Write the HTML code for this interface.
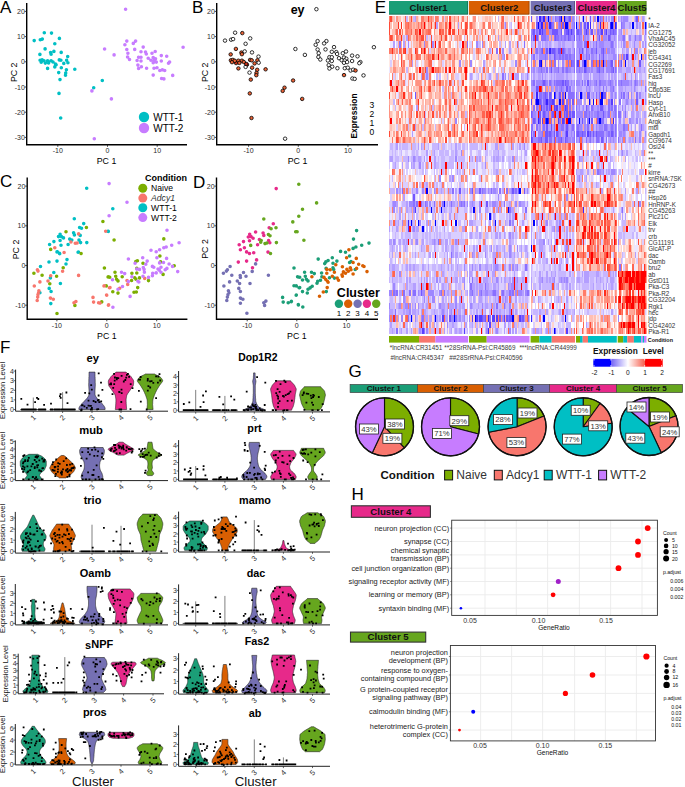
<!DOCTYPE html>
<html><head><meta charset="utf-8"><style>
html,body{margin:0;padding:0;background:#fff;}
svg{display:block;font-family:"Liberation Sans", sans-serif;}
</style></head><body>
<svg width="685" height="787" viewBox="0 0 685 787">
<rect width="685" height="787" fill="#fff"/>
<text x="0" y="13" font-size="17" fill="#000">A</text>
<text x="192" y="13" font-size="17" fill="#000">B</text>
<text x="0" y="186.7" font-size="17" fill="#000">C</text>
<text x="193" y="187.5" font-size="17" fill="#000">D</text>
<text x="374.8" y="13" font-size="17" fill="#000">E</text>
<text x="0" y="352.7" font-size="17" fill="#000">F</text>
<text x="348.6" y="377" font-size="17" fill="#000">G</text>
<text x="351.4" y="499.8" font-size="17" fill="#000">H</text>
<path d="M26.7 2.9V144.8H187" fill="none" stroke="#000" stroke-width="1.4"/>
<path d="M57.8 144.8v2" stroke="#1a1a1a" stroke-width="0.8"/>
<text x="57.8" y="153.1" font-size="7" text-anchor="middle" fill="#2a2a2a">-10</text>
<path d="M107.5 144.8v2" stroke="#1a1a1a" stroke-width="0.8"/>
<text x="107.5" y="153.1" font-size="7" text-anchor="middle" fill="#2a2a2a">0</text>
<path d="M157.2 144.8v2" stroke="#1a1a1a" stroke-width="0.8"/>
<text x="157.2" y="153.1" font-size="7" text-anchor="middle" fill="#2a2a2a">10</text>
<path d="M26.7 11.4h-2" stroke="#1a1a1a" stroke-width="0.8"/>
<text x="24.8" y="13.9" font-size="7" text-anchor="end" fill="#2a2a2a">20</text>
<path d="M26.7 36.6h-2" stroke="#1a1a1a" stroke-width="0.8"/>
<text x="24.8" y="39.1" font-size="7" text-anchor="end" fill="#2a2a2a">10</text>
<path d="M26.7 61.8h-2" stroke="#1a1a1a" stroke-width="0.8"/>
<text x="24.8" y="64.3" font-size="7" text-anchor="end" fill="#2a2a2a">0</text>
<path d="M26.7 87h-2" stroke="#1a1a1a" stroke-width="0.8"/>
<text x="24.8" y="89.5" font-size="7" text-anchor="end" fill="#2a2a2a">-10</text>
<path d="M26.7 112.2h-2" stroke="#1a1a1a" stroke-width="0.8"/>
<text x="24.8" y="114.7" font-size="7" text-anchor="end" fill="#2a2a2a">-20</text>
<path d="M26.7 137.4h-2" stroke="#1a1a1a" stroke-width="0.8"/>
<text x="24.8" y="139.9" font-size="7" text-anchor="end" fill="#2a2a2a">-30</text>
<text x="106.5" y="164" font-size="8.8" text-anchor="middle" fill="#000">PC 1</text>
<text transform="translate(16.6,72.3) rotate(-90)" font-size="8.8" text-anchor="middle" fill="#000">PC 2</text>
<path d="M216.7 2.9V144.8H378" fill="none" stroke="#000" stroke-width="1.4"/>
<path d="M248.6 144.8v2" stroke="#1a1a1a" stroke-width="0.8"/>
<text x="248.6" y="153.1" font-size="7" text-anchor="middle" fill="#2a2a2a">-10</text>
<path d="M298.3 144.8v2" stroke="#1a1a1a" stroke-width="0.8"/>
<text x="298.3" y="153.1" font-size="7" text-anchor="middle" fill="#2a2a2a">0</text>
<path d="M348 144.8v2" stroke="#1a1a1a" stroke-width="0.8"/>
<text x="348" y="153.1" font-size="7" text-anchor="middle" fill="#2a2a2a">10</text>
<path d="M216.7 11.4h-2" stroke="#1a1a1a" stroke-width="0.8"/>
<text x="214.8" y="13.9" font-size="7" text-anchor="end" fill="#2a2a2a">20</text>
<path d="M216.7 36.6h-2" stroke="#1a1a1a" stroke-width="0.8"/>
<text x="214.8" y="39.1" font-size="7" text-anchor="end" fill="#2a2a2a">10</text>
<path d="M216.7 61.8h-2" stroke="#1a1a1a" stroke-width="0.8"/>
<text x="214.8" y="64.3" font-size="7" text-anchor="end" fill="#2a2a2a">0</text>
<path d="M216.7 87h-2" stroke="#1a1a1a" stroke-width="0.8"/>
<text x="214.8" y="89.5" font-size="7" text-anchor="end" fill="#2a2a2a">-10</text>
<path d="M216.7 112.2h-2" stroke="#1a1a1a" stroke-width="0.8"/>
<text x="214.8" y="114.7" font-size="7" text-anchor="end" fill="#2a2a2a">-20</text>
<path d="M216.7 137.4h-2" stroke="#1a1a1a" stroke-width="0.8"/>
<text x="214.8" y="139.9" font-size="7" text-anchor="end" fill="#2a2a2a">-30</text>
<text x="297.5" y="164" font-size="8.8" text-anchor="middle" fill="#000">PC 1</text>
<text transform="translate(208.2,72.3) rotate(-90)" font-size="8.8" text-anchor="middle" fill="#000">PC 2</text>
<path d="M27.2 177.4V319.3H187.4" fill="none" stroke="#000" stroke-width="1.4"/>
<path d="M56.9 319.3v2" stroke="#1a1a1a" stroke-width="0.8"/>
<text x="56.9" y="327.6" font-size="7" text-anchor="middle" fill="#2a2a2a">-10</text>
<path d="M106.8 319.3v2" stroke="#1a1a1a" stroke-width="0.8"/>
<text x="106.8" y="327.6" font-size="7" text-anchor="middle" fill="#2a2a2a">0</text>
<path d="M156.7 319.3v2" stroke="#1a1a1a" stroke-width="0.8"/>
<text x="156.7" y="327.6" font-size="7" text-anchor="middle" fill="#2a2a2a">10</text>
<path d="M27.2 186.1h-2" stroke="#1a1a1a" stroke-width="0.8"/>
<text x="25.3" y="188.6" font-size="7" text-anchor="end" fill="#2a2a2a">20</text>
<path d="M27.2 225.8h-2" stroke="#1a1a1a" stroke-width="0.8"/>
<text x="25.3" y="228.3" font-size="7" text-anchor="end" fill="#2a2a2a">10</text>
<path d="M27.2 265.5h-2" stroke="#1a1a1a" stroke-width="0.8"/>
<text x="25.3" y="268" font-size="7" text-anchor="end" fill="#2a2a2a">0</text>
<path d="M27.2 305.2h-2" stroke="#1a1a1a" stroke-width="0.8"/>
<text x="25.3" y="307.7" font-size="7" text-anchor="end" fill="#2a2a2a">-10</text>
<text x="106.8" y="338.9" font-size="8.8" text-anchor="middle" fill="#000">PC 1</text>
<text transform="translate(18.8,249.5) rotate(-90)" font-size="8.8" text-anchor="middle" fill="#000">PC 2</text>
<path d="M216.5 177.4V319.3H378" fill="none" stroke="#000" stroke-width="1.4"/>
<path d="M247.2 319.3v2" stroke="#1a1a1a" stroke-width="0.8"/>
<text x="247.2" y="327.6" font-size="7" text-anchor="middle" fill="#2a2a2a">-10</text>
<path d="M296.8 319.3v2" stroke="#1a1a1a" stroke-width="0.8"/>
<text x="296.8" y="327.6" font-size="7" text-anchor="middle" fill="#2a2a2a">0</text>
<path d="M346.4 319.3v2" stroke="#1a1a1a" stroke-width="0.8"/>
<text x="346.4" y="327.6" font-size="7" text-anchor="middle" fill="#2a2a2a">10</text>
<path d="M216.5 186.1h-2" stroke="#1a1a1a" stroke-width="0.8"/>
<text x="214.6" y="188.6" font-size="7" text-anchor="end" fill="#2a2a2a">20</text>
<path d="M216.5 225.8h-2" stroke="#1a1a1a" stroke-width="0.8"/>
<text x="214.6" y="228.3" font-size="7" text-anchor="end" fill="#2a2a2a">10</text>
<path d="M216.5 265.5h-2" stroke="#1a1a1a" stroke-width="0.8"/>
<text x="214.6" y="268" font-size="7" text-anchor="end" fill="#2a2a2a">0</text>
<path d="M216.5 305.2h-2" stroke="#1a1a1a" stroke-width="0.8"/>
<text x="214.6" y="307.7" font-size="7" text-anchor="end" fill="#2a2a2a">-10</text>
<text x="296.8" y="338.9" font-size="8.8" text-anchor="middle" fill="#000">PC 1</text>
<text transform="translate(208.2,249) rotate(-90)" font-size="8.8" text-anchor="middle" fill="#000">PC 2</text>
<path d="M42.5 32.7a1.8 1.8 0 1 0 3.6 0a1.8 1.8 0 1 0 -3.6 0zM49.7 33.1a1.8 1.8 0 1 0 3.6 0a1.8 1.8 0 1 0 -3.6 0zM32.4 40.6a1.8 1.8 0 1 0 3.6 0a1.8 1.8 0 1 0 -3.6 0zM38.5 39.7a1.8 1.8 0 1 0 3.6 0a1.8 1.8 0 1 0 -3.6 0zM40.5 39.1a1.8 1.8 0 1 0 3.6 0a1.8 1.8 0 1 0 -3.6 0zM57.6 38.4a1.8 1.8 0 1 0 3.6 0a1.8 1.8 0 1 0 -3.6 0zM53 43.8a1.8 1.8 0 1 0 3.6 0a1.8 1.8 0 1 0 -3.6 0zM43.3 48.9a1.8 1.8 0 1 0 3.6 0a1.8 1.8 0 1 0 -3.6 0zM38.1 54.4a1.8 1.8 0 1 0 3.6 0a1.8 1.8 0 1 0 -3.6 0zM48.8 52.6a1.8 1.8 0 1 0 3.6 0a1.8 1.8 0 1 0 -3.6 0zM52.1 51.4a1.8 1.8 0 1 0 3.6 0a1.8 1.8 0 1 0 -3.6 0zM49.3 54.2a1.8 1.8 0 1 0 3.6 0a1.8 1.8 0 1 0 -3.6 0zM59.4 52.4a1.8 1.8 0 1 0 3.6 0a1.8 1.8 0 1 0 -3.6 0zM65.9 56.6a1.8 1.8 0 1 0 3.6 0a1.8 1.8 0 1 0 -3.6 0zM38.3 60.3a1.8 1.8 0 1 0 3.6 0a1.8 1.8 0 1 0 -3.6 0zM40.3 59.9a1.8 1.8 0 1 0 3.6 0a1.8 1.8 0 1 0 -3.6 0zM39.4 62.2a1.8 1.8 0 1 0 3.6 0a1.8 1.8 0 1 0 -3.6 0zM43.5 63.1a1.8 1.8 0 1 0 3.6 0a1.8 1.8 0 1 0 -3.6 0zM45.8 60.7a1.8 1.8 0 1 0 3.6 0a1.8 1.8 0 1 0 -3.6 0zM46.8 62.9a1.8 1.8 0 1 0 3.6 0a1.8 1.8 0 1 0 -3.6 0zM49.3 60.7a1.8 1.8 0 1 0 3.6 0a1.8 1.8 0 1 0 -3.6 0zM57.5 59.9a1.8 1.8 0 1 0 3.6 0a1.8 1.8 0 1 0 -3.6 0zM59.1 60.3a1.8 1.8 0 1 0 3.6 0a1.8 1.8 0 1 0 -3.6 0zM62 63.4a1.8 1.8 0 1 0 3.6 0a1.8 1.8 0 1 0 -3.6 0zM64.8 60.3a1.8 1.8 0 1 0 3.6 0a1.8 1.8 0 1 0 -3.6 0zM66.1 62.7a1.8 1.8 0 1 0 3.6 0a1.8 1.8 0 1 0 -3.6 0zM54.3 64.7a1.8 1.8 0 1 0 3.6 0a1.8 1.8 0 1 0 -3.6 0zM53 66.9a1.8 1.8 0 1 0 3.6 0a1.8 1.8 0 1 0 -3.6 0zM45.8 68.4a1.8 1.8 0 1 0 3.6 0a1.8 1.8 0 1 0 -3.6 0zM59.5 67.7a1.8 1.8 0 1 0 3.6 0a1.8 1.8 0 1 0 -3.6 0zM73 69.3a1.8 1.8 0 1 0 3.6 0a1.8 1.8 0 1 0 -3.6 0zM64.6 69.8a1.8 1.8 0 1 0 3.6 0a1.8 1.8 0 1 0 -3.6 0zM56.9 72.6a1.8 1.8 0 1 0 3.6 0a1.8 1.8 0 1 0 -3.6 0zM63.9 73a1.8 1.8 0 1 0 3.6 0a1.8 1.8 0 1 0 -3.6 0zM63.7 75.2a1.8 1.8 0 1 0 3.6 0a1.8 1.8 0 1 0 -3.6 0zM58.2 79.6a1.8 1.8 0 1 0 3.6 0a1.8 1.8 0 1 0 -3.6 0zM57.2 93.4a1.8 1.8 0 1 0 3.6 0a1.8 1.8 0 1 0 -3.6 0zM58.9 118a1.8 1.8 0 1 0 3.6 0a1.8 1.8 0 1 0 -3.6 0zM100.5 80.5a1.8 1.8 0 1 0 3.6 0a1.8 1.8 0 1 0 -3.6 0zM91.9 87.7a1.8 1.8 0 1 0 3.6 0a1.8 1.8 0 1 0 -3.6 0zM42.2 60.8a1.8 1.8 0 1 0 3.6 0a1.8 1.8 0 1 0 -3.6 0zM51.2 62a1.8 1.8 0 1 0 3.6 0a1.8 1.8 0 1 0 -3.6 0zM53.7 64a1.8 1.8 0 1 0 3.6 0a1.8 1.8 0 1 0 -3.6 0z" fill="#00BFC4"/>
<path d="M123.8 9.2a1.8 1.8 0 1 0 3.6 0a1.8 1.8 0 1 0 -3.6 0zM125 41.1a1.8 1.8 0 1 0 3.6 0a1.8 1.8 0 1 0 -3.6 0zM133.8 41.1a1.8 1.8 0 1 0 3.6 0a1.8 1.8 0 1 0 -3.6 0zM131.5 43.4a1.8 1.8 0 1 0 3.6 0a1.8 1.8 0 1 0 -3.6 0zM123.1 44.8a1.8 1.8 0 1 0 3.6 0a1.8 1.8 0 1 0 -3.6 0zM102.8 49a1.8 1.8 0 1 0 3.6 0a1.8 1.8 0 1 0 -3.6 0zM141.4 47.1a1.8 1.8 0 1 0 3.6 0a1.8 1.8 0 1 0 -3.6 0zM181.3 47.2a1.8 1.8 0 1 0 3.6 0a1.8 1.8 0 1 0 -3.6 0zM125 49.5a1.8 1.8 0 1 0 3.6 0a1.8 1.8 0 1 0 -3.6 0zM132.9 49.4a1.8 1.8 0 1 0 3.6 0a1.8 1.8 0 1 0 -3.6 0zM112.3 54.9a1.8 1.8 0 1 0 3.6 0a1.8 1.8 0 1 0 -3.6 0zM126.1 53.2a1.8 1.8 0 1 0 3.6 0a1.8 1.8 0 1 0 -3.6 0zM139.2 51.8a1.8 1.8 0 1 0 3.6 0a1.8 1.8 0 1 0 -3.6 0zM143.7 52.1a1.8 1.8 0 1 0 3.6 0a1.8 1.8 0 1 0 -3.6 0zM144.5 54a1.8 1.8 0 1 0 3.6 0a1.8 1.8 0 1 0 -3.6 0zM153.4 51.5a1.8 1.8 0 1 0 3.6 0a1.8 1.8 0 1 0 -3.6 0zM150.2 53.2a1.8 1.8 0 1 0 3.6 0a1.8 1.8 0 1 0 -3.6 0zM159.5 55.6a1.8 1.8 0 1 0 3.6 0a1.8 1.8 0 1 0 -3.6 0zM164.9 56.3a1.8 1.8 0 1 0 3.6 0a1.8 1.8 0 1 0 -3.6 0zM125.8 57a1.8 1.8 0 1 0 3.6 0a1.8 1.8 0 1 0 -3.6 0zM127.7 59.5a1.8 1.8 0 1 0 3.6 0a1.8 1.8 0 1 0 -3.6 0zM136.8 57.2a1.8 1.8 0 1 0 3.6 0a1.8 1.8 0 1 0 -3.6 0zM139.2 57.2a1.8 1.8 0 1 0 3.6 0a1.8 1.8 0 1 0 -3.6 0zM135.3 60.5a1.8 1.8 0 1 0 3.6 0a1.8 1.8 0 1 0 -3.6 0zM139.2 61a1.8 1.8 0 1 0 3.6 0a1.8 1.8 0 1 0 -3.6 0zM146.4 58.2a1.8 1.8 0 1 0 3.6 0a1.8 1.8 0 1 0 -3.6 0zM149.1 60.2a1.8 1.8 0 1 0 3.6 0a1.8 1.8 0 1 0 -3.6 0zM151.4 57.5a1.8 1.8 0 1 0 3.6 0a1.8 1.8 0 1 0 -3.6 0zM153.7 58.7a1.8 1.8 0 1 0 3.6 0a1.8 1.8 0 1 0 -3.6 0zM152.2 60.5a1.8 1.8 0 1 0 3.6 0a1.8 1.8 0 1 0 -3.6 0zM151.4 62.8a1.8 1.8 0 1 0 3.6 0a1.8 1.8 0 1 0 -3.6 0zM154.5 62.1a1.8 1.8 0 1 0 3.6 0a1.8 1.8 0 1 0 -3.6 0zM159.5 61a1.8 1.8 0 1 0 3.6 0a1.8 1.8 0 1 0 -3.6 0zM167.8 62.1a1.8 1.8 0 1 0 3.6 0a1.8 1.8 0 1 0 -3.6 0zM166.7 63.2a1.8 1.8 0 1 0 3.6 0a1.8 1.8 0 1 0 -3.6 0zM136.1 65.1a1.8 1.8 0 1 0 3.6 0a1.8 1.8 0 1 0 -3.6 0zM139.6 66.7a1.8 1.8 0 1 0 3.6 0a1.8 1.8 0 1 0 -3.6 0zM136.8 68.5a1.8 1.8 0 1 0 3.6 0a1.8 1.8 0 1 0 -3.6 0zM144.8 68.2a1.8 1.8 0 1 0 3.6 0a1.8 1.8 0 1 0 -3.6 0zM152.2 68.2a1.8 1.8 0 1 0 3.6 0a1.8 1.8 0 1 0 -3.6 0zM155.2 67.7a1.8 1.8 0 1 0 3.6 0a1.8 1.8 0 1 0 -3.6 0zM158 70.5a1.8 1.8 0 1 0 3.6 0a1.8 1.8 0 1 0 -3.6 0zM160.6 69.7a1.8 1.8 0 1 0 3.6 0a1.8 1.8 0 1 0 -3.6 0zM162.9 70.5a1.8 1.8 0 1 0 3.6 0a1.8 1.8 0 1 0 -3.6 0zM151.4 75.1a1.8 1.8 0 1 0 3.6 0a1.8 1.8 0 1 0 -3.6 0zM170.9 75.4a1.8 1.8 0 1 0 3.6 0a1.8 1.8 0 1 0 -3.6 0zM159.8 78.5a1.8 1.8 0 1 0 3.6 0a1.8 1.8 0 1 0 -3.6 0zM162.1 78.9a1.8 1.8 0 1 0 3.6 0a1.8 1.8 0 1 0 -3.6 0zM90.1 90.9a1.8 1.8 0 1 0 3.6 0a1.8 1.8 0 1 0 -3.6 0zM109.6 98.9a1.8 1.8 0 1 0 3.6 0a1.8 1.8 0 1 0 -3.6 0zM92.5 138.7a1.8 1.8 0 1 0 3.6 0a1.8 1.8 0 1 0 -3.6 0z" fill="#C77CFF"/>
<circle cx="144" cy="117" r="5.2" fill="#00BFC4"/>
<circle cx="144" cy="128" r="5.2" fill="#C77CFF"/>
<text x="153.3" y="120.8" font-size="10" fill="#000">WTT-1</text>
<text x="153.3" y="131.8" font-size="10" fill="#000">WTT-2</text>
<circle cx="235.1" cy="32.7" r="1.75" fill="#fff" stroke="#000" stroke-width="0.8"/>
<circle cx="242.3" cy="33.1" r="1.75" fill="#EA6236" stroke="#000" stroke-width="0.8"/>
<circle cx="225" cy="40.6" r="1.75" fill="#fff" stroke="#000" stroke-width="0.8"/>
<circle cx="231.1" cy="39.7" r="1.75" fill="#fff" stroke="#000" stroke-width="0.8"/>
<circle cx="233.1" cy="39.1" r="1.75" fill="#fff" stroke="#000" stroke-width="0.8"/>
<circle cx="250.2" cy="38.4" r="1.75" fill="#fff" stroke="#000" stroke-width="0.8"/>
<circle cx="245.6" cy="43.8" r="1.75" fill="#fff" stroke="#000" stroke-width="0.8"/>
<circle cx="235.9" cy="48.9" r="1.75" fill="#EA6236" stroke="#000" stroke-width="0.8"/>
<circle cx="230.7" cy="54.4" r="1.75" fill="#EA6236" stroke="#000" stroke-width="0.8"/>
<circle cx="241.4" cy="52.6" r="1.75" fill="#EA6236" stroke="#000" stroke-width="0.8"/>
<circle cx="244.7" cy="51.4" r="1.75" fill="#fff" stroke="#000" stroke-width="0.8"/>
<circle cx="241.9" cy="54.2" r="1.75" fill="#EA6236" stroke="#000" stroke-width="0.8"/>
<circle cx="252" cy="52.4" r="1.75" fill="#fff" stroke="#000" stroke-width="0.8"/>
<circle cx="258.5" cy="56.6" r="1.75" fill="#fff" stroke="#000" stroke-width="0.8"/>
<circle cx="230.9" cy="60.3" r="1.75" fill="#EA6236" stroke="#000" stroke-width="0.8"/>
<circle cx="232.9" cy="59.9" r="1.75" fill="#EA6236" stroke="#000" stroke-width="0.8"/>
<circle cx="232" cy="62.2" r="1.75" fill="#EA6236" stroke="#000" stroke-width="0.8"/>
<circle cx="236.1" cy="63.1" r="1.75" fill="#C8321A" stroke="#000" stroke-width="0.8"/>
<circle cx="238.4" cy="60.7" r="1.75" fill="#EA6236" stroke="#000" stroke-width="0.8"/>
<circle cx="239.4" cy="62.9" r="1.75" fill="#EA6236" stroke="#000" stroke-width="0.8"/>
<circle cx="241.9" cy="60.7" r="1.75" fill="#EA6236" stroke="#000" stroke-width="0.8"/>
<circle cx="250.1" cy="59.9" r="1.75" fill="#EA6236" stroke="#000" stroke-width="0.8"/>
<circle cx="251.7" cy="60.3" r="1.75" fill="#EA6236" stroke="#000" stroke-width="0.8"/>
<circle cx="254.6" cy="63.4" r="1.75" fill="#EA6236" stroke="#000" stroke-width="0.8"/>
<circle cx="257.4" cy="60.3" r="1.75" fill="#EA6236" stroke="#000" stroke-width="0.8"/>
<circle cx="258.7" cy="62.7" r="1.75" fill="#fff" stroke="#000" stroke-width="0.8"/>
<circle cx="246.9" cy="64.7" r="1.75" fill="#C8321A" stroke="#000" stroke-width="0.8"/>
<circle cx="245.6" cy="66.9" r="1.75" fill="#fff" stroke="#000" stroke-width="0.8"/>
<circle cx="238.4" cy="68.4" r="1.75" fill="#EA6236" stroke="#000" stroke-width="0.8"/>
<circle cx="252.1" cy="67.7" r="1.75" fill="#EA6236" stroke="#000" stroke-width="0.8"/>
<circle cx="265.6" cy="69.3" r="1.75" fill="#EA6236" stroke="#000" stroke-width="0.8"/>
<circle cx="257.2" cy="69.8" r="1.75" fill="#EA6236" stroke="#000" stroke-width="0.8"/>
<circle cx="249.5" cy="72.6" r="1.75" fill="#fff" stroke="#000" stroke-width="0.8"/>
<circle cx="256.5" cy="73" r="1.75" fill="#EA6236" stroke="#000" stroke-width="0.8"/>
<circle cx="256.3" cy="75.2" r="1.75" fill="#EA6236" stroke="#000" stroke-width="0.8"/>
<circle cx="250.8" cy="79.6" r="1.75" fill="#EA6236" stroke="#000" stroke-width="0.8"/>
<circle cx="249.8" cy="93.4" r="1.75" fill="#EA6236" stroke="#000" stroke-width="0.8"/>
<circle cx="251.5" cy="118" r="1.75" fill="#EA6236" stroke="#000" stroke-width="0.8"/>
<circle cx="293.1" cy="80.5" r="1.75" fill="#EA6236" stroke="#000" stroke-width="0.8"/>
<circle cx="284.5" cy="87.7" r="1.75" fill="#EA6236" stroke="#000" stroke-width="0.8"/>
<circle cx="234.8" cy="60.8" r="1.75" fill="#EA6236" stroke="#000" stroke-width="0.8"/>
<circle cx="243.8" cy="62" r="1.75" fill="#EA6236" stroke="#000" stroke-width="0.8"/>
<circle cx="246.3" cy="64" r="1.75" fill="#C8321A" stroke="#000" stroke-width="0.8"/>
<circle cx="316.4" cy="9.2" r="1.75" fill="#fff" stroke="#000" stroke-width="0.8"/>
<circle cx="317.6" cy="41.1" r="1.75" fill="#fff" stroke="#000" stroke-width="0.8"/>
<circle cx="326.4" cy="41.1" r="1.75" fill="#fff" stroke="#000" stroke-width="0.8"/>
<circle cx="324.1" cy="43.4" r="1.75" fill="#fff" stroke="#000" stroke-width="0.8"/>
<circle cx="315.7" cy="44.8" r="1.75" fill="#fff" stroke="#000" stroke-width="0.8"/>
<circle cx="295.4" cy="49" r="1.75" fill="#fff" stroke="#000" stroke-width="0.8"/>
<circle cx="334" cy="47.1" r="1.75" fill="#fff" stroke="#000" stroke-width="0.8"/>
<circle cx="373.9" cy="47.2" r="1.75" fill="#fff" stroke="#000" stroke-width="0.8"/>
<circle cx="317.6" cy="49.5" r="1.75" fill="#fff" stroke="#000" stroke-width="0.8"/>
<circle cx="325.5" cy="49.4" r="1.75" fill="#fff" stroke="#000" stroke-width="0.8"/>
<circle cx="304.9" cy="54.9" r="1.75" fill="#fff" stroke="#000" stroke-width="0.8"/>
<circle cx="318.7" cy="53.2" r="1.75" fill="#fff" stroke="#000" stroke-width="0.8"/>
<circle cx="331.8" cy="51.8" r="1.75" fill="#fff" stroke="#000" stroke-width="0.8"/>
<circle cx="336.3" cy="52.1" r="1.75" fill="#fff" stroke="#000" stroke-width="0.8"/>
<circle cx="337.1" cy="54" r="1.75" fill="#fff" stroke="#000" stroke-width="0.8"/>
<circle cx="346" cy="51.5" r="1.75" fill="#fff" stroke="#000" stroke-width="0.8"/>
<circle cx="342.8" cy="53.2" r="1.75" fill="#fff" stroke="#000" stroke-width="0.8"/>
<circle cx="352.1" cy="55.6" r="1.75" fill="#fff" stroke="#000" stroke-width="0.8"/>
<circle cx="357.5" cy="56.3" r="1.75" fill="#fff" stroke="#000" stroke-width="0.8"/>
<circle cx="318.4" cy="57" r="1.75" fill="#fff" stroke="#000" stroke-width="0.8"/>
<circle cx="320.3" cy="59.5" r="1.75" fill="#fff" stroke="#000" stroke-width="0.8"/>
<circle cx="329.4" cy="57.2" r="1.75" fill="#fff" stroke="#000" stroke-width="0.8"/>
<circle cx="331.8" cy="57.2" r="1.75" fill="#fff" stroke="#000" stroke-width="0.8"/>
<circle cx="327.9" cy="60.5" r="1.75" fill="#fff" stroke="#000" stroke-width="0.8"/>
<circle cx="331.8" cy="61" r="1.75" fill="#fff" stroke="#000" stroke-width="0.8"/>
<circle cx="339" cy="58.2" r="1.75" fill="#fff" stroke="#000" stroke-width="0.8"/>
<circle cx="341.7" cy="60.2" r="1.75" fill="#fff" stroke="#000" stroke-width="0.8"/>
<circle cx="344" cy="57.5" r="1.75" fill="#fff" stroke="#000" stroke-width="0.8"/>
<circle cx="346.3" cy="58.7" r="1.75" fill="#fff" stroke="#000" stroke-width="0.8"/>
<circle cx="344.8" cy="60.5" r="1.75" fill="#fff" stroke="#000" stroke-width="0.8"/>
<circle cx="344" cy="62.8" r="1.75" fill="#fff" stroke="#000" stroke-width="0.8"/>
<circle cx="347.1" cy="62.1" r="1.75" fill="#fff" stroke="#000" stroke-width="0.8"/>
<circle cx="352.1" cy="61" r="1.75" fill="#fff" stroke="#000" stroke-width="0.8"/>
<circle cx="360.4" cy="62.1" r="1.75" fill="#fff" stroke="#000" stroke-width="0.8"/>
<circle cx="359.3" cy="63.2" r="1.75" fill="#fff" stroke="#000" stroke-width="0.8"/>
<circle cx="328.7" cy="65.1" r="1.75" fill="#fff" stroke="#000" stroke-width="0.8"/>
<circle cx="332.2" cy="66.7" r="1.75" fill="#fff" stroke="#000" stroke-width="0.8"/>
<circle cx="329.4" cy="68.5" r="1.75" fill="#fff" stroke="#000" stroke-width="0.8"/>
<circle cx="337.4" cy="68.2" r="1.75" fill="#fff" stroke="#000" stroke-width="0.8"/>
<circle cx="344.8" cy="68.2" r="1.75" fill="#fff" stroke="#000" stroke-width="0.8"/>
<circle cx="347.8" cy="67.7" r="1.75" fill="#fff" stroke="#000" stroke-width="0.8"/>
<circle cx="350.6" cy="70.5" r="1.75" fill="#fff" stroke="#000" stroke-width="0.8"/>
<circle cx="353.2" cy="69.7" r="1.75" fill="#fff" stroke="#000" stroke-width="0.8"/>
<circle cx="355.5" cy="70.5" r="1.75" fill="#EA6236" stroke="#000" stroke-width="0.8"/>
<circle cx="344" cy="75.1" r="1.75" fill="#EA6236" stroke="#000" stroke-width="0.8"/>
<circle cx="363.5" cy="75.4" r="1.75" fill="#fff" stroke="#000" stroke-width="0.8"/>
<circle cx="352.4" cy="78.5" r="1.75" fill="#fff" stroke="#000" stroke-width="0.8"/>
<circle cx="354.7" cy="78.9" r="1.75" fill="#fff" stroke="#000" stroke-width="0.8"/>
<circle cx="282.7" cy="90.9" r="1.75" fill="#EA6236" stroke="#000" stroke-width="0.8"/>
<circle cx="302.2" cy="98.9" r="1.75" fill="#EA6236" stroke="#000" stroke-width="0.8"/>
<circle cx="285.1" cy="138.7" r="1.75" fill="#fff" stroke="#000" stroke-width="0.8"/>
<text x="297.6" y="14.3" font-size="12.5" text-anchor="middle" font-weight="bold" fill="#000">ey</text>
<text transform="translate(357.3,116) rotate(-90)" font-size="8.4" font-weight="bold" text-anchor="middle" fill="#000">Expression</text>
<text x="371.9" y="108.1" font-size="8.5" text-anchor="middle" fill="#000">3</text>
<text x="371.9" y="117.2" font-size="8.5" text-anchor="middle" fill="#000">2</text>
<text x="371.9" y="126.3" font-size="8.5" text-anchor="middle" fill="#000">1</text>
<text x="371.9" y="135.4" font-size="8.5" text-anchor="middle" fill="#000">0</text>
<path d="M84.9 188.2a1.8 1.8 0 1 0 3.6 0a1.8 1.8 0 1 0 -3.6 0zM72.5 218.8a1.8 1.8 0 1 0 3.6 0a1.8 1.8 0 1 0 -3.6 0zM81.9 223.6a1.8 1.8 0 1 0 3.6 0a1.8 1.8 0 1 0 -3.6 0zM77.8 227.5a1.8 1.8 0 1 0 3.6 0a1.8 1.8 0 1 0 -3.6 0zM79.7 228.3a1.8 1.8 0 1 0 3.6 0a1.8 1.8 0 1 0 -3.6 0zM106.1 231.2a1.8 1.8 0 1 0 3.6 0a1.8 1.8 0 1 0 -3.6 0zM71.8 232.7a1.8 1.8 0 1 0 3.6 0a1.8 1.8 0 1 0 -3.6 0zM72.6 234.9a1.8 1.8 0 1 0 3.6 0a1.8 1.8 0 1 0 -3.6 0zM78.4 235.4a1.8 1.8 0 1 0 3.6 0a1.8 1.8 0 1 0 -3.6 0zM58.3 234.3a1.8 1.8 0 1 0 3.6 0a1.8 1.8 0 1 0 -3.6 0zM56.7 236.6a1.8 1.8 0 1 0 3.6 0a1.8 1.8 0 1 0 -3.6 0zM59.6 236.6a1.8 1.8 0 1 0 3.6 0a1.8 1.8 0 1 0 -3.6 0zM61.7 237.9a1.8 1.8 0 1 0 3.6 0a1.8 1.8 0 1 0 -3.6 0zM52.1 241.6a1.8 1.8 0 1 0 3.6 0a1.8 1.8 0 1 0 -3.6 0zM58.3 240.5a1.8 1.8 0 1 0 3.6 0a1.8 1.8 0 1 0 -3.6 0zM67.9 239.1a1.8 1.8 0 1 0 3.6 0a1.8 1.8 0 1 0 -3.6 0zM70 240.1a1.8 1.8 0 1 0 3.6 0a1.8 1.8 0 1 0 -3.6 0zM77.2 240.1a1.8 1.8 0 1 0 3.6 0a1.8 1.8 0 1 0 -3.6 0zM78.8 242.6a1.8 1.8 0 1 0 3.6 0a1.8 1.8 0 1 0 -3.6 0zM85 242.6a1.8 1.8 0 1 0 3.6 0a1.8 1.8 0 1 0 -3.6 0zM47.8 244.5a1.8 1.8 0 1 0 3.6 0a1.8 1.8 0 1 0 -3.6 0zM59.2 245.3a1.8 1.8 0 1 0 3.6 0a1.8 1.8 0 1 0 -3.6 0zM66.3 244.5a1.8 1.8 0 1 0 3.6 0a1.8 1.8 0 1 0 -3.6 0zM55.2 251.9a1.8 1.8 0 1 0 3.6 0a1.8 1.8 0 1 0 -3.6 0zM57.7 253.4a1.8 1.8 0 1 0 3.6 0a1.8 1.8 0 1 0 -3.6 0zM76.6 252.1a1.8 1.8 0 1 0 3.6 0a1.8 1.8 0 1 0 -3.6 0zM55.5 251.8a1.8 1.8 0 1 0 3.6 0a1.8 1.8 0 1 0 -3.6 0zM57.9 253.7a1.8 1.8 0 1 0 3.6 0a1.8 1.8 0 1 0 -3.6 0zM76.3 252.2a1.8 1.8 0 1 0 3.6 0a1.8 1.8 0 1 0 -3.6 0zM47.2 262a1.8 1.8 0 1 0 3.6 0a1.8 1.8 0 1 0 -3.6 0zM55.2 261.1a1.8 1.8 0 1 0 3.6 0a1.8 1.8 0 1 0 -3.6 0zM65.2 259.6a1.8 1.8 0 1 0 3.6 0a1.8 1.8 0 1 0 -3.6 0zM64.2 264a1.8 1.8 0 1 0 3.6 0a1.8 1.8 0 1 0 -3.6 0zM38.7 266.5a1.8 1.8 0 1 0 3.6 0a1.8 1.8 0 1 0 -3.6 0zM52 272.5a1.8 1.8 0 1 0 3.6 0a1.8 1.8 0 1 0 -3.6 0zM48.6 277.9a1.8 1.8 0 1 0 3.6 0a1.8 1.8 0 1 0 -3.6 0zM58.6 283.5a1.8 1.8 0 1 0 3.6 0a1.8 1.8 0 1 0 -3.6 0zM47.4 288.4a1.8 1.8 0 1 0 3.6 0a1.8 1.8 0 1 0 -3.6 0zM49.3 291.5a1.8 1.8 0 1 0 3.6 0a1.8 1.8 0 1 0 -3.6 0zM38.1 292.8a1.8 1.8 0 1 0 3.6 0a1.8 1.8 0 1 0 -3.6 0zM49 303.6a1.8 1.8 0 1 0 3.6 0a1.8 1.8 0 1 0 -3.6 0zM111 208.8a1.8 1.8 0 1 0 3.6 0a1.8 1.8 0 1 0 -3.6 0zM106.5 231.4a1.8 1.8 0 1 0 3.6 0a1.8 1.8 0 1 0 -3.6 0z" fill="#00BFC4"/>
<path d="M101.1 221.5a1.8 1.8 0 1 0 3.6 0a1.8 1.8 0 1 0 -3.6 0zM84.6 227.5a1.8 1.8 0 1 0 3.6 0a1.8 1.8 0 1 0 -3.6 0zM64.2 231.7a1.8 1.8 0 1 0 3.6 0a1.8 1.8 0 1 0 -3.6 0zM48.9 249.4a1.8 1.8 0 1 0 3.6 0a1.8 1.8 0 1 0 -3.6 0zM79.3 253.5a1.8 1.8 0 1 0 3.6 0a1.8 1.8 0 1 0 -3.6 0zM61.4 267.7a1.8 1.8 0 1 0 3.6 0a1.8 1.8 0 1 0 -3.6 0zM32.1 273.3a1.8 1.8 0 1 0 3.6 0a1.8 1.8 0 1 0 -3.6 0zM40.3 275.2a1.8 1.8 0 1 0 3.6 0a1.8 1.8 0 1 0 -3.6 0zM54.8 276.3a1.8 1.8 0 1 0 3.6 0a1.8 1.8 0 1 0 -3.6 0zM48 283.7a1.8 1.8 0 1 0 3.6 0a1.8 1.8 0 1 0 -3.6 0zM102.6 268a1.8 1.8 0 1 0 3.6 0a1.8 1.8 0 1 0 -3.6 0zM106.3 277a1.8 1.8 0 1 0 3.6 0a1.8 1.8 0 1 0 -3.6 0zM104.5 286a1.8 1.8 0 1 0 3.6 0a1.8 1.8 0 1 0 -3.6 0zM99.9 301.8a1.8 1.8 0 1 0 3.6 0a1.8 1.8 0 1 0 -3.6 0zM73.1 305.4a1.8 1.8 0 1 0 3.6 0a1.8 1.8 0 1 0 -3.6 0zM55.2 313.5a1.8 1.8 0 1 0 3.6 0a1.8 1.8 0 1 0 -3.6 0zM112.3 240a1.8 1.8 0 1 0 3.6 0a1.8 1.8 0 1 0 -3.6 0zM162 238.9a1.8 1.8 0 1 0 3.6 0a1.8 1.8 0 1 0 -3.6 0zM158.1 256a1.8 1.8 0 1 0 3.6 0a1.8 1.8 0 1 0 -3.6 0zM135.6 260.8a1.8 1.8 0 1 0 3.6 0a1.8 1.8 0 1 0 -3.6 0zM134 261.5a1.8 1.8 0 1 0 3.6 0a1.8 1.8 0 1 0 -3.6 0zM141.2 263.3a1.8 1.8 0 1 0 3.6 0a1.8 1.8 0 1 0 -3.6 0zM113.2 272.3a1.8 1.8 0 1 0 3.6 0a1.8 1.8 0 1 0 -3.6 0zM130.1 273.3a1.8 1.8 0 1 0 3.6 0a1.8 1.8 0 1 0 -3.6 0zM135 273a1.8 1.8 0 1 0 3.6 0a1.8 1.8 0 1 0 -3.6 0zM135 268.4a1.8 1.8 0 1 0 3.6 0a1.8 1.8 0 1 0 -3.6 0zM158.8 261.9a1.8 1.8 0 1 0 3.6 0a1.8 1.8 0 1 0 -3.6 0zM172.4 265.7a1.8 1.8 0 1 0 3.6 0a1.8 1.8 0 1 0 -3.6 0zM161.3 274.4a1.8 1.8 0 1 0 3.6 0a1.8 1.8 0 1 0 -3.6 0zM106.5 276.8a1.8 1.8 0 1 0 3.6 0a1.8 1.8 0 1 0 -3.6 0zM107.9 277.2a1.8 1.8 0 1 0 3.6 0a1.8 1.8 0 1 0 -3.6 0zM113.9 276.3a1.8 1.8 0 1 0 3.6 0a1.8 1.8 0 1 0 -3.6 0zM120.4 276.8a1.8 1.8 0 1 0 3.6 0a1.8 1.8 0 1 0 -3.6 0zM114.8 279.3a1.8 1.8 0 1 0 3.6 0a1.8 1.8 0 1 0 -3.6 0zM116.2 280.9a1.8 1.8 0 1 0 3.6 0a1.8 1.8 0 1 0 -3.6 0zM132.9 277.7a1.8 1.8 0 1 0 3.6 0a1.8 1.8 0 1 0 -3.6 0zM134 279.1a1.8 1.8 0 1 0 3.6 0a1.8 1.8 0 1 0 -3.6 0zM137.7 277.9a1.8 1.8 0 1 0 3.6 0a1.8 1.8 0 1 0 -3.6 0zM129.8 280.5a1.8 1.8 0 1 0 3.6 0a1.8 1.8 0 1 0 -3.6 0zM146.7 280.6a1.8 1.8 0 1 0 3.6 0a1.8 1.8 0 1 0 -3.6 0zM104.4 285.8a1.8 1.8 0 1 0 3.6 0a1.8 1.8 0 1 0 -3.6 0zM111 291.7a1.8 1.8 0 1 0 3.6 0a1.8 1.8 0 1 0 -3.6 0zM116.2 293.1a1.8 1.8 0 1 0 3.6 0a1.8 1.8 0 1 0 -3.6 0zM135.9 287.6a1.8 1.8 0 1 0 3.6 0a1.8 1.8 0 1 0 -3.6 0zM132.2 292.3a1.8 1.8 0 1 0 3.6 0a1.8 1.8 0 1 0 -3.6 0zM134.5 292a1.8 1.8 0 1 0 3.6 0a1.8 1.8 0 1 0 -3.6 0zM99.9 302a1.8 1.8 0 1 0 3.6 0a1.8 1.8 0 1 0 -3.6 0z" fill="#7CAE00"/>
<path d="M76.8 233.9a1.8 1.8 0 1 0 3.6 0a1.8 1.8 0 1 0 -3.6 0zM103.9 231.2a1.8 1.8 0 1 0 3.6 0a1.8 1.8 0 1 0 -3.6 0zM69.1 242a1.8 1.8 0 1 0 3.6 0a1.8 1.8 0 1 0 -3.6 0zM73.5 243.2a1.8 1.8 0 1 0 3.6 0a1.8 1.8 0 1 0 -3.6 0zM75.3 243a1.8 1.8 0 1 0 3.6 0a1.8 1.8 0 1 0 -3.6 0zM53 247.8a1.8 1.8 0 1 0 3.6 0a1.8 1.8 0 1 0 -3.6 0zM62.3 252.5a1.8 1.8 0 1 0 3.6 0a1.8 1.8 0 1 0 -3.6 0zM35.6 269.8a1.8 1.8 0 1 0 3.6 0a1.8 1.8 0 1 0 -3.6 0zM36.2 271.1a1.8 1.8 0 1 0 3.6 0a1.8 1.8 0 1 0 -3.6 0zM60.8 271.3a1.8 1.8 0 1 0 3.6 0a1.8 1.8 0 1 0 -3.6 0zM76.8 275.4a1.8 1.8 0 1 0 3.6 0a1.8 1.8 0 1 0 -3.6 0zM48.9 275.8a1.8 1.8 0 1 0 3.6 0a1.8 1.8 0 1 0 -3.6 0zM38.1 281.9a1.8 1.8 0 1 0 3.6 0a1.8 1.8 0 1 0 -3.6 0zM46.2 281a1.8 1.8 0 1 0 3.6 0a1.8 1.8 0 1 0 -3.6 0zM32.5 286a1.8 1.8 0 1 0 3.6 0a1.8 1.8 0 1 0 -3.6 0zM37.1 290.7a1.8 1.8 0 1 0 3.6 0a1.8 1.8 0 1 0 -3.6 0zM36.8 292.8a1.8 1.8 0 1 0 3.6 0a1.8 1.8 0 1 0 -3.6 0zM36.2 294.6a1.8 1.8 0 1 0 3.6 0a1.8 1.8 0 1 0 -3.6 0zM35.9 297.1a1.8 1.8 0 1 0 3.6 0a1.8 1.8 0 1 0 -3.6 0zM35.4 300.5a1.8 1.8 0 1 0 3.6 0a1.8 1.8 0 1 0 -3.6 0zM48.6 298.1a1.8 1.8 0 1 0 3.6 0a1.8 1.8 0 1 0 -3.6 0zM51.5 299.2a1.8 1.8 0 1 0 3.6 0a1.8 1.8 0 1 0 -3.6 0zM74.1 301.5a1.8 1.8 0 1 0 3.6 0a1.8 1.8 0 1 0 -3.6 0zM72.2 302.7a1.8 1.8 0 1 0 3.6 0a1.8 1.8 0 1 0 -3.6 0zM102.2 286a1.8 1.8 0 1 0 3.6 0a1.8 1.8 0 1 0 -3.6 0zM104.8 295a1.8 1.8 0 1 0 3.6 0a1.8 1.8 0 1 0 -3.6 0zM91.2 297.4a1.8 1.8 0 1 0 3.6 0a1.8 1.8 0 1 0 -3.6 0zM91.8 302.1a1.8 1.8 0 1 0 3.6 0a1.8 1.8 0 1 0 -3.6 0zM96.8 302.7a1.8 1.8 0 1 0 3.6 0a1.8 1.8 0 1 0 -3.6 0zM106.6 305.2a1.8 1.8 0 1 0 3.6 0a1.8 1.8 0 1 0 -3.6 0zM107.6 287.8a1.8 1.8 0 1 0 3.6 0a1.8 1.8 0 1 0 -3.6 0zM102.4 285.8a1.8 1.8 0 1 0 3.6 0a1.8 1.8 0 1 0 -3.6 0zM108.2 287.6a1.8 1.8 0 1 0 3.6 0a1.8 1.8 0 1 0 -3.6 0zM104.9 295.2a1.8 1.8 0 1 0 3.6 0a1.8 1.8 0 1 0 -3.6 0zM106.8 304.9a1.8 1.8 0 1 0 3.6 0a1.8 1.8 0 1 0 -3.6 0zM98.2 303.1a1.8 1.8 0 1 0 3.6 0a1.8 1.8 0 1 0 -3.6 0zM117.9 288.3a1.8 1.8 0 1 0 3.6 0a1.8 1.8 0 1 0 -3.6 0zM125.9 284.4a1.8 1.8 0 1 0 3.6 0a1.8 1.8 0 1 0 -3.6 0zM125.2 280.6a1.8 1.8 0 1 0 3.6 0a1.8 1.8 0 1 0 -3.6 0zM142.9 278.4a1.8 1.8 0 1 0 3.6 0a1.8 1.8 0 1 0 -3.6 0z" fill="#F8766D"/>
<path d="M107.3 183.6a1.8 1.8 0 1 0 3.6 0a1.8 1.8 0 1 0 -3.6 0zM107.3 215.7a1.8 1.8 0 1 0 3.6 0a1.8 1.8 0 1 0 -3.6 0zM125.2 202.3a1.8 1.8 0 1 0 3.6 0a1.8 1.8 0 1 0 -3.6 0zM165.2 230.3a1.8 1.8 0 1 0 3.6 0a1.8 1.8 0 1 0 -3.6 0zM177.3 242.8a1.8 1.8 0 1 0 3.6 0a1.8 1.8 0 1 0 -3.6 0zM169.9 245.2a1.8 1.8 0 1 0 3.6 0a1.8 1.8 0 1 0 -3.6 0zM164.4 247a1.8 1.8 0 1 0 3.6 0a1.8 1.8 0 1 0 -3.6 0zM162 247.7a1.8 1.8 0 1 0 3.6 0a1.8 1.8 0 1 0 -3.6 0zM157.8 249.7a1.8 1.8 0 1 0 3.6 0a1.8 1.8 0 1 0 -3.6 0zM149.2 250.2a1.8 1.8 0 1 0 3.6 0a1.8 1.8 0 1 0 -3.6 0zM154.4 251.8a1.8 1.8 0 1 0 3.6 0a1.8 1.8 0 1 0 -3.6 0zM164.8 258.4a1.8 1.8 0 1 0 3.6 0a1.8 1.8 0 1 0 -3.6 0zM155.1 257.8a1.8 1.8 0 1 0 3.6 0a1.8 1.8 0 1 0 -3.6 0zM140.9 257.8a1.8 1.8 0 1 0 3.6 0a1.8 1.8 0 1 0 -3.6 0zM145.4 261.1a1.8 1.8 0 1 0 3.6 0a1.8 1.8 0 1 0 -3.6 0zM126.6 259a1.8 1.8 0 1 0 3.6 0a1.8 1.8 0 1 0 -3.6 0zM133.3 263.3a1.8 1.8 0 1 0 3.6 0a1.8 1.8 0 1 0 -3.6 0zM144 264.3a1.8 1.8 0 1 0 3.6 0a1.8 1.8 0 1 0 -3.6 0zM157.8 262.9a1.8 1.8 0 1 0 3.6 0a1.8 1.8 0 1 0 -3.6 0zM161.7 262.5a1.8 1.8 0 1 0 3.6 0a1.8 1.8 0 1 0 -3.6 0zM167.3 264a1.8 1.8 0 1 0 3.6 0a1.8 1.8 0 1 0 -3.6 0zM150.6 266.4a1.8 1.8 0 1 0 3.6 0a1.8 1.8 0 1 0 -3.6 0zM152 267.3a1.8 1.8 0 1 0 3.6 0a1.8 1.8 0 1 0 -3.6 0zM159.2 267.3a1.8 1.8 0 1 0 3.6 0a1.8 1.8 0 1 0 -3.6 0zM170.7 266.4a1.8 1.8 0 1 0 3.6 0a1.8 1.8 0 1 0 -3.6 0zM141.5 267.5a1.8 1.8 0 1 0 3.6 0a1.8 1.8 0 1 0 -3.6 0zM142.3 269.4a1.8 1.8 0 1 0 3.6 0a1.8 1.8 0 1 0 -3.6 0zM135 269.1a1.8 1.8 0 1 0 3.6 0a1.8 1.8 0 1 0 -3.6 0zM137.7 269.4a1.8 1.8 0 1 0 3.6 0a1.8 1.8 0 1 0 -3.6 0zM156.2 269.1a1.8 1.8 0 1 0 3.6 0a1.8 1.8 0 1 0 -3.6 0zM157.6 270.2a1.8 1.8 0 1 0 3.6 0a1.8 1.8 0 1 0 -3.6 0zM165.1 268.4a1.8 1.8 0 1 0 3.6 0a1.8 1.8 0 1 0 -3.6 0zM163.4 269.8a1.8 1.8 0 1 0 3.6 0a1.8 1.8 0 1 0 -3.6 0zM175.9 271.6a1.8 1.8 0 1 0 3.6 0a1.8 1.8 0 1 0 -3.6 0zM142.6 272.2a1.8 1.8 0 1 0 3.6 0a1.8 1.8 0 1 0 -3.6 0zM150.9 273.3a1.8 1.8 0 1 0 3.6 0a1.8 1.8 0 1 0 -3.6 0zM154.4 272.9a1.8 1.8 0 1 0 3.6 0a1.8 1.8 0 1 0 -3.6 0zM159.2 272.2a1.8 1.8 0 1 0 3.6 0a1.8 1.8 0 1 0 -3.6 0zM119.7 272.2a1.8 1.8 0 1 0 3.6 0a1.8 1.8 0 1 0 -3.6 0zM122.9 273.6a1.8 1.8 0 1 0 3.6 0a1.8 1.8 0 1 0 -3.6 0zM150.6 275.8a1.8 1.8 0 1 0 3.6 0a1.8 1.8 0 1 0 -3.6 0zM146.7 277.4a1.8 1.8 0 1 0 3.6 0a1.8 1.8 0 1 0 -3.6 0zM130.1 276.8a1.8 1.8 0 1 0 3.6 0a1.8 1.8 0 1 0 -3.6 0zM141.2 276.3a1.8 1.8 0 1 0 3.6 0a1.8 1.8 0 1 0 -3.6 0zM110.7 279.8a1.8 1.8 0 1 0 3.6 0a1.8 1.8 0 1 0 -3.6 0zM126.6 281.6a1.8 1.8 0 1 0 3.6 0a1.8 1.8 0 1 0 -3.6 0zM136.1 281.2a1.8 1.8 0 1 0 3.6 0a1.8 1.8 0 1 0 -3.6 0zM137 282a1.8 1.8 0 1 0 3.6 0a1.8 1.8 0 1 0 -3.6 0zM120.7 286.5a1.8 1.8 0 1 0 3.6 0a1.8 1.8 0 1 0 -3.6 0zM116.2 289.2a1.8 1.8 0 1 0 3.6 0a1.8 1.8 0 1 0 -3.6 0zM128.3 296.4a1.8 1.8 0 1 0 3.6 0a1.8 1.8 0 1 0 -3.6 0zM111.1 307.3a1.8 1.8 0 1 0 3.6 0a1.8 1.8 0 1 0 -3.6 0z" fill="#C77CFF"/>
<text x="145" y="180.8" font-size="9" font-weight="bold" fill="#000">Condition</text>
<circle cx="142.8" cy="188.3" r="4.5" fill="#7CAE00"/>
<text x="151.1" y="191.4" font-size="8.6" fill="#000">Naive</text>
<circle cx="142.8" cy="198.1" r="4.5" fill="#F8766D"/>
<text x="151.1" y="201.2" font-size="8.6" fill="#333" font-style="italic">Adcy1</text>
<circle cx="142.8" cy="207.8" r="4.5" fill="#00BFC4"/>
<text x="151.1" y="210.9" font-size="8.6" fill="#000">WTT-1</text>
<circle cx="142.8" cy="217.6" r="4.5" fill="#C77CFF"/>
<text x="151.1" y="220.7" font-size="8.6" fill="#000">WTT-2</text>
<path d="M292.2 268a1.8 1.8 0 1 0 3.6 0a1.8 1.8 0 1 0 -3.6 0zM296.3 277a1.8 1.8 0 1 0 3.6 0a1.8 1.8 0 1 0 -3.6 0zM292.2 285.7a1.8 1.8 0 1 0 3.6 0a1.8 1.8 0 1 0 -3.6 0zM294.5 286a1.8 1.8 0 1 0 3.6 0a1.8 1.8 0 1 0 -3.6 0zM297.3 287.8a1.8 1.8 0 1 0 3.6 0a1.8 1.8 0 1 0 -3.6 0zM294.5 295a1.8 1.8 0 1 0 3.6 0a1.8 1.8 0 1 0 -3.6 0zM280.8 297.4a1.8 1.8 0 1 0 3.6 0a1.8 1.8 0 1 0 -3.6 0zM281.4 302.1a1.8 1.8 0 1 0 3.6 0a1.8 1.8 0 1 0 -3.6 0zM286.4 302.7a1.8 1.8 0 1 0 3.6 0a1.8 1.8 0 1 0 -3.6 0zM289.5 301.8a1.8 1.8 0 1 0 3.6 0a1.8 1.8 0 1 0 -3.6 0zM296.6 304.9a1.8 1.8 0 1 0 3.6 0a1.8 1.8 0 1 0 -3.6 0zM354.8 230.6a1.8 1.8 0 1 0 3.6 0a1.8 1.8 0 1 0 -3.6 0zM351.7 239.1a1.8 1.8 0 1 0 3.6 0a1.8 1.8 0 1 0 -3.6 0zM367.2 243.1a1.8 1.8 0 1 0 3.6 0a1.8 1.8 0 1 0 -3.6 0zM359.9 245.3a1.8 1.8 0 1 0 3.6 0a1.8 1.8 0 1 0 -3.6 0zM354.1 247a1.8 1.8 0 1 0 3.6 0a1.8 1.8 0 1 0 -3.6 0zM351.3 248.4a1.8 1.8 0 1 0 3.6 0a1.8 1.8 0 1 0 -3.6 0zM338.8 251.4a1.8 1.8 0 1 0 3.6 0a1.8 1.8 0 1 0 -3.6 0zM343.7 252.2a1.8 1.8 0 1 0 3.6 0a1.8 1.8 0 1 0 -3.6 0zM347.8 256a1.8 1.8 0 1 0 3.6 0a1.8 1.8 0 1 0 -3.6 0zM316.4 259.1a1.8 1.8 0 1 0 3.6 0a1.8 1.8 0 1 0 -3.6 0zM330.5 257.8a1.8 1.8 0 1 0 3.6 0a1.8 1.8 0 1 0 -3.6 0zM326.3 260.5a1.8 1.8 0 1 0 3.6 0a1.8 1.8 0 1 0 -3.6 0zM324 261.9a1.8 1.8 0 1 0 3.6 0a1.8 1.8 0 1 0 -3.6 0zM322.9 263.6a1.8 1.8 0 1 0 3.6 0a1.8 1.8 0 1 0 -3.6 0zM335.1 261.1a1.8 1.8 0 1 0 3.6 0a1.8 1.8 0 1 0 -3.6 0zM331.2 263.3a1.8 1.8 0 1 0 3.6 0a1.8 1.8 0 1 0 -3.6 0zM347.8 262.5a1.8 1.8 0 1 0 3.6 0a1.8 1.8 0 1 0 -3.6 0zM349.2 261.5a1.8 1.8 0 1 0 3.6 0a1.8 1.8 0 1 0 -3.6 0zM331.2 267.7a1.8 1.8 0 1 0 3.6 0a1.8 1.8 0 1 0 -3.6 0zM331.9 269.5a1.8 1.8 0 1 0 3.6 0a1.8 1.8 0 1 0 -3.6 0zM324.3 268.4a1.8 1.8 0 1 0 3.6 0a1.8 1.8 0 1 0 -3.6 0zM353.4 269.5a1.8 1.8 0 1 0 3.6 0a1.8 1.8 0 1 0 -3.6 0zM302.8 272.2a1.8 1.8 0 1 0 3.6 0a1.8 1.8 0 1 0 -3.6 0zM309.7 272.2a1.8 1.8 0 1 0 3.6 0a1.8 1.8 0 1 0 -3.6 0zM312.5 273.6a1.8 1.8 0 1 0 3.6 0a1.8 1.8 0 1 0 -3.6 0zM319.8 273a1.8 1.8 0 1 0 3.6 0a1.8 1.8 0 1 0 -3.6 0zM295.8 276.8a1.8 1.8 0 1 0 3.6 0a1.8 1.8 0 1 0 -3.6 0zM297.9 277.2a1.8 1.8 0 1 0 3.6 0a1.8 1.8 0 1 0 -3.6 0zM303.5 276.3a1.8 1.8 0 1 0 3.6 0a1.8 1.8 0 1 0 -3.6 0zM304.6 279.3a1.8 1.8 0 1 0 3.6 0a1.8 1.8 0 1 0 -3.6 0zM300.7 280a1.8 1.8 0 1 0 3.6 0a1.8 1.8 0 1 0 -3.6 0zM306.2 280.9a1.8 1.8 0 1 0 3.6 0a1.8 1.8 0 1 0 -3.6 0zM320.1 276.8a1.8 1.8 0 1 0 3.6 0a1.8 1.8 0 1 0 -3.6 0zM327.7 277.7a1.8 1.8 0 1 0 3.6 0a1.8 1.8 0 1 0 -3.6 0zM332.6 278.1a1.8 1.8 0 1 0 3.6 0a1.8 1.8 0 1 0 -3.6 0zM315.9 281.3a1.8 1.8 0 1 0 3.6 0a1.8 1.8 0 1 0 -3.6 0zM318.7 280.2a1.8 1.8 0 1 0 3.6 0a1.8 1.8 0 1 0 -3.6 0zM315.2 283.3a1.8 1.8 0 1 0 3.6 0a1.8 1.8 0 1 0 -3.6 0zM294.4 285.8a1.8 1.8 0 1 0 3.6 0a1.8 1.8 0 1 0 -3.6 0zM297.9 287.6a1.8 1.8 0 1 0 3.6 0a1.8 1.8 0 1 0 -3.6 0zM310.4 286.2a1.8 1.8 0 1 0 3.6 0a1.8 1.8 0 1 0 -3.6 0zM308.3 287.9a1.8 1.8 0 1 0 3.6 0a1.8 1.8 0 1 0 -3.6 0zM306.2 289.2a1.8 1.8 0 1 0 3.6 0a1.8 1.8 0 1 0 -3.6 0zM300.7 291.6a1.8 1.8 0 1 0 3.6 0a1.8 1.8 0 1 0 -3.6 0zM305.5 293a1.8 1.8 0 1 0 3.6 0a1.8 1.8 0 1 0 -3.6 0zM324.5 291.6a1.8 1.8 0 1 0 3.6 0a1.8 1.8 0 1 0 -3.6 0zM294.4 295.2a1.8 1.8 0 1 0 3.6 0a1.8 1.8 0 1 0 -3.6 0zM289.6 301.4a1.8 1.8 0 1 0 3.6 0a1.8 1.8 0 1 0 -3.6 0zM296.5 304.5a1.8 1.8 0 1 0 3.6 0a1.8 1.8 0 1 0 -3.6 0zM301 307a1.8 1.8 0 1 0 3.6 0a1.8 1.8 0 1 0 -3.6 0z" fill="#1B9E77"/>
<path d="M347.1 249.7a1.8 1.8 0 1 0 3.6 0a1.8 1.8 0 1 0 -3.6 0zM344.8 257.8a1.8 1.8 0 1 0 3.6 0a1.8 1.8 0 1 0 -3.6 0zM354.5 258.4a1.8 1.8 0 1 0 3.6 0a1.8 1.8 0 1 0 -3.6 0zM351.3 262.5a1.8 1.8 0 1 0 3.6 0a1.8 1.8 0 1 0 -3.6 0zM356.9 264.3a1.8 1.8 0 1 0 3.6 0a1.8 1.8 0 1 0 -3.6 0zM334 264.7a1.8 1.8 0 1 0 3.6 0a1.8 1.8 0 1 0 -3.6 0zM340.6 266.8a1.8 1.8 0 1 0 3.6 0a1.8 1.8 0 1 0 -3.6 0zM361 265.7a1.8 1.8 0 1 0 3.6 0a1.8 1.8 0 1 0 -3.6 0zM354.8 268.4a1.8 1.8 0 1 0 3.6 0a1.8 1.8 0 1 0 -3.6 0zM365.2 271.6a1.8 1.8 0 1 0 3.6 0a1.8 1.8 0 1 0 -3.6 0zM348.5 267.7a1.8 1.8 0 1 0 3.6 0a1.8 1.8 0 1 0 -3.6 0zM349.2 269.8a1.8 1.8 0 1 0 3.6 0a1.8 1.8 0 1 0 -3.6 0zM345.1 269.4a1.8 1.8 0 1 0 3.6 0a1.8 1.8 0 1 0 -3.6 0zM346.5 271.2a1.8 1.8 0 1 0 3.6 0a1.8 1.8 0 1 0 -3.6 0zM351.3 274a1.8 1.8 0 1 0 3.6 0a1.8 1.8 0 1 0 -3.6 0zM325 269.4a1.8 1.8 0 1 0 3.6 0a1.8 1.8 0 1 0 -3.6 0zM328.4 269.8a1.8 1.8 0 1 0 3.6 0a1.8 1.8 0 1 0 -3.6 0zM332.6 272.2a1.8 1.8 0 1 0 3.6 0a1.8 1.8 0 1 0 -3.6 0zM325 273.3a1.8 1.8 0 1 0 3.6 0a1.8 1.8 0 1 0 -3.6 0zM341.6 271.9a1.8 1.8 0 1 0 3.6 0a1.8 1.8 0 1 0 -3.6 0zM343.7 273.3a1.8 1.8 0 1 0 3.6 0a1.8 1.8 0 1 0 -3.6 0zM340.2 274.7a1.8 1.8 0 1 0 3.6 0a1.8 1.8 0 1 0 -3.6 0zM340.6 276.3a1.8 1.8 0 1 0 3.6 0a1.8 1.8 0 1 0 -3.6 0zM310.1 276.8a1.8 1.8 0 1 0 3.6 0a1.8 1.8 0 1 0 -3.6 0zM330.5 276.3a1.8 1.8 0 1 0 3.6 0a1.8 1.8 0 1 0 -3.6 0zM322.2 277.4a1.8 1.8 0 1 0 3.6 0a1.8 1.8 0 1 0 -3.6 0zM324 279.5a1.8 1.8 0 1 0 3.6 0a1.8 1.8 0 1 0 -3.6 0zM335.4 278.1a1.8 1.8 0 1 0 3.6 0a1.8 1.8 0 1 0 -3.6 0zM336.7 280.2a1.8 1.8 0 1 0 3.6 0a1.8 1.8 0 1 0 -3.6 0zM325.6 281.3a1.8 1.8 0 1 0 3.6 0a1.8 1.8 0 1 0 -3.6 0zM326.3 282.3a1.8 1.8 0 1 0 3.6 0a1.8 1.8 0 1 0 -3.6 0zM325.4 287.6a1.8 1.8 0 1 0 3.6 0a1.8 1.8 0 1 0 -3.6 0zM321.5 292a1.8 1.8 0 1 0 3.6 0a1.8 1.8 0 1 0 -3.6 0zM317.7 296.2a1.8 1.8 0 1 0 3.6 0a1.8 1.8 0 1 0 -3.6 0zM362.2 266.5a1.8 1.8 0 1 0 3.6 0a1.8 1.8 0 1 0 -3.6 0z" fill="#D95F02"/>
<path d="M253.8 263.9a1.8 1.8 0 1 0 3.6 0a1.8 1.8 0 1 0 -3.6 0zM228.3 266.5a1.8 1.8 0 1 0 3.6 0a1.8 1.8 0 1 0 -3.6 0zM225.6 269.8a1.8 1.8 0 1 0 3.6 0a1.8 1.8 0 1 0 -3.6 0zM224.6 271.1a1.8 1.8 0 1 0 3.6 0a1.8 1.8 0 1 0 -3.6 0zM221.6 273.3a1.8 1.8 0 1 0 3.6 0a1.8 1.8 0 1 0 -3.6 0zM230 275.2a1.8 1.8 0 1 0 3.6 0a1.8 1.8 0 1 0 -3.6 0zM241.7 272.5a1.8 1.8 0 1 0 3.6 0a1.8 1.8 0 1 0 -3.6 0zM250.4 271.4a1.8 1.8 0 1 0 3.6 0a1.8 1.8 0 1 0 -3.6 0zM244.2 276.3a1.8 1.8 0 1 0 3.6 0a1.8 1.8 0 1 0 -3.6 0zM266.6 275.2a1.8 1.8 0 1 0 3.6 0a1.8 1.8 0 1 0 -3.6 0zM238.4 275.6a1.8 1.8 0 1 0 3.6 0a1.8 1.8 0 1 0 -3.6 0zM238.6 277.5a1.8 1.8 0 1 0 3.6 0a1.8 1.8 0 1 0 -3.6 0zM227.8 281.9a1.8 1.8 0 1 0 3.6 0a1.8 1.8 0 1 0 -3.6 0zM235.5 281a1.8 1.8 0 1 0 3.6 0a1.8 1.8 0 1 0 -3.6 0zM237.8 283.5a1.8 1.8 0 1 0 3.6 0a1.8 1.8 0 1 0 -3.6 0zM248.2 283.5a1.8 1.8 0 1 0 3.6 0a1.8 1.8 0 1 0 -3.6 0zM222.1 286a1.8 1.8 0 1 0 3.6 0a1.8 1.8 0 1 0 -3.6 0zM237 288.4a1.8 1.8 0 1 0 3.6 0a1.8 1.8 0 1 0 -3.6 0zM238.6 291.5a1.8 1.8 0 1 0 3.6 0a1.8 1.8 0 1 0 -3.6 0zM226.6 290.7a1.8 1.8 0 1 0 3.6 0a1.8 1.8 0 1 0 -3.6 0zM227.1 292.8a1.8 1.8 0 1 0 3.6 0a1.8 1.8 0 1 0 -3.6 0zM226.2 294.6a1.8 1.8 0 1 0 3.6 0a1.8 1.8 0 1 0 -3.6 0zM225.6 297.1a1.8 1.8 0 1 0 3.6 0a1.8 1.8 0 1 0 -3.6 0zM225 300.5a1.8 1.8 0 1 0 3.6 0a1.8 1.8 0 1 0 -3.6 0zM238.6 298.1a1.8 1.8 0 1 0 3.6 0a1.8 1.8 0 1 0 -3.6 0zM241.1 299.2a1.8 1.8 0 1 0 3.6 0a1.8 1.8 0 1 0 -3.6 0zM238.6 303.3a1.8 1.8 0 1 0 3.6 0a1.8 1.8 0 1 0 -3.6 0zM264.1 301.1a1.8 1.8 0 1 0 3.6 0a1.8 1.8 0 1 0 -3.6 0zM262 302.7a1.8 1.8 0 1 0 3.6 0a1.8 1.8 0 1 0 -3.6 0zM262.8 305.4a1.8 1.8 0 1 0 3.6 0a1.8 1.8 0 1 0 -3.6 0zM245.1 313.2a1.8 1.8 0 1 0 3.6 0a1.8 1.8 0 1 0 -3.6 0z" fill="#7570B3"/>
<path d="M274.4 188.6a1.8 1.8 0 1 0 3.6 0a1.8 1.8 0 1 0 -3.6 0zM271.5 223.7a1.8 1.8 0 1 0 3.6 0a1.8 1.8 0 1 0 -3.6 0zM267.4 227.7a1.8 1.8 0 1 0 3.6 0a1.8 1.8 0 1 0 -3.6 0zM253.8 232a1.8 1.8 0 1 0 3.6 0a1.8 1.8 0 1 0 -3.6 0zM261.3 233a1.8 1.8 0 1 0 3.6 0a1.8 1.8 0 1 0 -3.6 0zM262 235.4a1.8 1.8 0 1 0 3.6 0a1.8 1.8 0 1 0 -3.6 0zM247.9 234.3a1.8 1.8 0 1 0 3.6 0a1.8 1.8 0 1 0 -3.6 0zM246.5 237a1.8 1.8 0 1 0 3.6 0a1.8 1.8 0 1 0 -3.6 0zM249.2 236.6a1.8 1.8 0 1 0 3.6 0a1.8 1.8 0 1 0 -3.6 0zM251.3 238.2a1.8 1.8 0 1 0 3.6 0a1.8 1.8 0 1 0 -3.6 0zM241.7 241.6a1.8 1.8 0 1 0 3.6 0a1.8 1.8 0 1 0 -3.6 0zM247.7 240.7a1.8 1.8 0 1 0 3.6 0a1.8 1.8 0 1 0 -3.6 0zM257.6 239.5a1.8 1.8 0 1 0 3.6 0a1.8 1.8 0 1 0 -3.6 0zM266.8 240.5a1.8 1.8 0 1 0 3.6 0a1.8 1.8 0 1 0 -3.6 0zM268 242.8a1.8 1.8 0 1 0 3.6 0a1.8 1.8 0 1 0 -3.6 0zM237.4 244.7a1.8 1.8 0 1 0 3.6 0a1.8 1.8 0 1 0 -3.6 0zM255.8 244.7a1.8 1.8 0 1 0 3.6 0a1.8 1.8 0 1 0 -3.6 0zM242.6 247.8a1.8 1.8 0 1 0 3.6 0a1.8 1.8 0 1 0 -3.6 0zM238.6 249.7a1.8 1.8 0 1 0 3.6 0a1.8 1.8 0 1 0 -3.6 0zM244.8 251.9a1.8 1.8 0 1 0 3.6 0a1.8 1.8 0 1 0 -3.6 0zM247.7 253.5a1.8 1.8 0 1 0 3.6 0a1.8 1.8 0 1 0 -3.6 0zM251.9 252.8a1.8 1.8 0 1 0 3.6 0a1.8 1.8 0 1 0 -3.6 0zM266.2 252.1a1.8 1.8 0 1 0 3.6 0a1.8 1.8 0 1 0 -3.6 0zM254.8 259.9a1.8 1.8 0 1 0 3.6 0a1.8 1.8 0 1 0 -3.6 0zM236.5 262.1a1.8 1.8 0 1 0 3.6 0a1.8 1.8 0 1 0 -3.6 0zM244.8 261.1a1.8 1.8 0 1 0 3.6 0a1.8 1.8 0 1 0 -3.6 0zM250.7 267.7a1.8 1.8 0 1 0 3.6 0a1.8 1.8 0 1 0 -3.6 0z" fill="#E7298A"/>
<path d="M297 184.3a1.8 1.8 0 1 0 3.6 0a1.8 1.8 0 1 0 -3.6 0zM297 216.2a1.8 1.8 0 1 0 3.6 0a1.8 1.8 0 1 0 -3.6 0zM262 219a1.8 1.8 0 1 0 3.6 0a1.8 1.8 0 1 0 -3.6 0zM291 221.9a1.8 1.8 0 1 0 3.6 0a1.8 1.8 0 1 0 -3.6 0zM274.2 227.7a1.8 1.8 0 1 0 3.6 0a1.8 1.8 0 1 0 -3.6 0zM269.3 228.7a1.8 1.8 0 1 0 3.6 0a1.8 1.8 0 1 0 -3.6 0zM293.9 231.7a1.8 1.8 0 1 0 3.6 0a1.8 1.8 0 1 0 -3.6 0zM295.3 231.7a1.8 1.8 0 1 0 3.6 0a1.8 1.8 0 1 0 -3.6 0zM266.6 234.5a1.8 1.8 0 1 0 3.6 0a1.8 1.8 0 1 0 -3.6 0zM268.2 235.8a1.8 1.8 0 1 0 3.6 0a1.8 1.8 0 1 0 -3.6 0zM259.4 240.5a1.8 1.8 0 1 0 3.6 0a1.8 1.8 0 1 0 -3.6 0zM258.9 242.3a1.8 1.8 0 1 0 3.6 0a1.8 1.8 0 1 0 -3.6 0zM263.2 243.6a1.8 1.8 0 1 0 3.6 0a1.8 1.8 0 1 0 -3.6 0zM265.1 243a1.8 1.8 0 1 0 3.6 0a1.8 1.8 0 1 0 -3.6 0zM274.6 242.6a1.8 1.8 0 1 0 3.6 0a1.8 1.8 0 1 0 -3.6 0zM248.9 245.4a1.8 1.8 0 1 0 3.6 0a1.8 1.8 0 1 0 -3.6 0zM268.7 253.5a1.8 1.8 0 1 0 3.6 0a1.8 1.8 0 1 0 -3.6 0zM314.8 202.9a1.8 1.8 0 1 0 3.6 0a1.8 1.8 0 1 0 -3.6 0zM300.7 209.3a1.8 1.8 0 1 0 3.6 0a1.8 1.8 0 1 0 -3.6 0zM302.1 240.3a1.8 1.8 0 1 0 3.6 0a1.8 1.8 0 1 0 -3.6 0z" fill="#66A61E"/>
<text x="358.4" y="297" font-size="12.5" text-anchor="middle" font-weight="bold" fill="#000">Cluster</text>
<circle cx="338.9" cy="303.8" r="4.2" fill="#1B9E77"/>
<text x="338.9" y="316.4" font-size="8" text-anchor="middle" fill="#000">1</text>
<circle cx="348.2" cy="303.8" r="4.2" fill="#D95F02"/>
<text x="348.2" y="316.4" font-size="8" text-anchor="middle" fill="#000">2</text>
<circle cx="357.6" cy="303.8" r="4.2" fill="#7570B3"/>
<text x="357.6" y="316.4" font-size="8" text-anchor="middle" fill="#000">3</text>
<circle cx="366.9" cy="303.8" r="4.2" fill="#E7298A"/>
<text x="366.9" y="316.4" font-size="8" text-anchor="middle" fill="#000">4</text>
<circle cx="376.2" cy="303.8" r="4.2" fill="#66A61E"/>
<text x="376.2" y="316.4" font-size="8" text-anchor="middle" fill="#000">5</text>
<svg x="389.0" y="15.9" width="79.1" height="318.5" viewBox="0 0 55 50" preserveAspectRatio="none" shape-rendering="crispEdges"><path fill="#0000ff" d="M26 27h1v1h-1zM38 29h1v1h-1zM29 30h1v1h-1zM36 30h1v1h-1zM15 32h1v1h-1zM20 32h1v1h-1zM32 32h1v1h-1zM46 32h1v1h-1zM23 33h1v1h-1zM15 47h1v1h-1zM32 47h1v1h-1zM45 47h1v1h-1z"/><path fill="#3a24ff" d="M13 32h1v1h-1z"/><path fill="#583eff" d="M18 30h1v1h-1zM13 33h1v1h-1zM37 47h1v1h-1zM23 49h1v1h-1zM52 49h1v1h-1z"/><path fill="#7257ff" d="M18 12h1v1h-1zM49 27h1v1h-1zM17 28h1v1h-1zM22 43h1v1h-1zM42 47h1v1h-1z"/><path fill="#896fff" d="M7 4h1v1h-1zM54 4h1v1h-1zM9 27h1v1h-1zM44 27h1v1h-1zM17 29h1v1h-1zM19 29h1v1h-1zM22 29h1v1h-1zM25 29h1v1h-1zM31 29h1v1h-1zM37 29h1v1h-1zM43 29h1v1h-1zM50 29h1v1h-1zM52 29h1v1h-1zM34 35h1v1h-1zM43 37h1v1h-1zM3 43h1v1h-1zM5 43h1v1h-1zM10 43h1v1h-1zM14 43h1v1h-1zM17 43h2v1h-2zM36 43h1v1h-1zM38 43h1v1h-1zM4 46h1v1h-1zM4 47h1v1h-1zM13 47h1v1h-1zM23 47h1v1h-1zM46 47h1v1h-1zM5 49h1v1h-1zM24 49h1v1h-1z"/><path fill="#9e87ff" d="M13 4h1v1h-1zM24 4h1v1h-1zM30 4h1v1h-1zM49 7h1v1h-1zM26 8h1v1h-1zM26 9h1v1h-1zM46 16h1v1h-1zM50 21h1v1h-1zM13 22h1v1h-1zM17 22h1v1h-1zM46 22h1v1h-1zM21 23h1v1h-1zM35 25h1v1h-1zM44 25h1v1h-1zM5 27h1v1h-1zM19 27h1v1h-1zM23 27h1v1h-1zM31 27h1v1h-1zM3 29h2v1h-2zM14 29h3v1h-3zM26 29h1v1h-1zM28 29h1v1h-1zM49 29h1v1h-1zM51 29h1v1h-1zM54 29h1v1h-1zM3 30h1v1h-1zM17 30h1v1h-1zM9 32h1v1h-1zM21 32h1v1h-1zM17 33h1v1h-1zM3 35h1v1h-1zM19 35h1v1h-1zM31 35h1v1h-1zM46 35h1v1h-1zM52 39h1v1h-1zM7 40h1v1h-1zM33 41h1v1h-1zM52 41h1v1h-1zM3 42h1v1h-1zM52 42h1v1h-1zM0 43h2v1h-2zM4 43h1v1h-1zM20 43h1v1h-1zM23 43h2v1h-2zM27 43h4v1h-4zM35 43h1v1h-1zM10 44h1v1h-1zM24 44h1v1h-1zM30 44h2v1h-2zM46 44h1v1h-1zM0 45h1v1h-1zM7 45h1v1h-1zM11 45h2v1h-2zM14 45h1v1h-1zM18 45h1v1h-1zM20 45h1v1h-1zM35 45h1v1h-1zM46 45h1v1h-1zM14 46h1v1h-1zM37 46h1v1h-1zM43 46h1v1h-1zM52 46h1v1h-1zM0 47h1v1h-1zM2 47h1v1h-1zM8 47h2v1h-2zM18 47h1v1h-1zM22 47h1v1h-1zM43 47h2v1h-2zM49 47h1v1h-1zM52 47h1v1h-1zM40 48h1v1h-1zM21 49h1v1h-1zM26 49h1v1h-1z"/><path fill="#b39eff" d="M18 0h1v1h-1zM33 1h1v1h-1zM48 1h1v1h-1zM12 3h1v1h-1zM3 4h1v1h-1zM10 4h1v1h-1zM16 7h1v1h-1zM22 9h1v1h-1zM19 14h1v1h-1zM24 16h1v1h-1zM18 17h1v1h-1zM16 18h1v1h-1zM5 20h1v1h-1zM20 20h1v1h-1zM22 20h1v1h-1zM34 20h1v1h-1zM46 20h1v1h-1zM26 21h1v1h-1zM31 21h1v1h-1zM46 21h1v1h-1zM1 22h2v1h-2zM18 22h1v1h-1zM20 22h2v1h-2zM24 22h1v1h-1zM31 22h2v1h-2zM4 23h1v1h-1zM9 23h1v1h-1zM15 23h1v1h-1zM17 23h1v1h-1zM31 23h2v1h-2zM47 24h1v1h-1zM42 25h1v1h-1zM26 26h1v1h-1zM7 27h1v1h-1zM13 27h1v1h-1zM16 27h1v1h-1zM32 27h1v1h-1zM36 27h1v1h-1zM42 27h1v1h-1zM46 27h1v1h-1zM52 27h1v1h-1zM54 27h1v1h-1zM10 28h1v1h-1zM2 29h1v1h-1zM5 29h1v1h-1zM12 29h1v1h-1zM18 29h1v1h-1zM23 29h1v1h-1zM40 29h1v1h-1zM42 29h1v1h-1zM44 29h2v1h-2zM47 29h1v1h-1zM7 30h1v1h-1zM12 30h1v1h-1zM15 30h1v1h-1zM31 30h1v1h-1zM38 30h1v1h-1zM43 30h1v1h-1zM48 30h1v1h-1zM7 31h1v1h-1zM42 31h1v1h-1zM4 32h1v1h-1zM6 32h1v1h-1zM16 32h1v1h-1zM26 32h1v1h-1zM28 32h1v1h-1zM0 33h1v1h-1zM5 33h1v1h-1zM16 33h1v1h-1zM19 33h2v1h-2zM38 33h1v1h-1zM51 33h2v1h-2zM0 35h2v1h-2zM4 35h1v1h-1zM7 35h1v1h-1zM10 35h1v1h-1zM12 35h1v1h-1zM15 35h2v1h-2zM18 35h1v1h-1zM23 35h1v1h-1zM30 35h1v1h-1zM32 35h1v1h-1zM36 35h1v1h-1zM39 35h2v1h-2zM47 35h1v1h-1zM2 36h1v1h-1zM11 36h1v1h-1zM22 36h1v1h-1zM31 36h1v1h-1zM39 36h1v1h-1zM43 36h2v1h-2zM2 37h1v1h-1zM18 37h1v1h-1zM28 37h1v1h-1zM40 37h1v1h-1zM44 37h1v1h-1zM46 37h2v1h-2zM40 38h1v1h-1zM43 38h1v1h-1zM0 39h1v1h-1zM2 39h2v1h-2zM12 39h1v1h-1zM14 39h1v1h-1zM17 39h1v1h-1zM23 39h1v1h-1zM27 39h1v1h-1zM36 39h1v1h-1zM41 39h1v1h-1zM43 39h1v1h-1zM47 39h1v1h-1zM37 40h1v1h-1zM54 40h1v1h-1zM2 41h1v1h-1zM12 41h1v1h-1zM14 41h1v1h-1zM22 41h1v1h-1zM24 41h1v1h-1zM26 41h1v1h-1zM35 41h1v1h-1zM38 41h1v1h-1zM40 41h1v1h-1zM46 41h2v1h-2zM51 41h1v1h-1zM12 42h1v1h-1zM17 42h2v1h-2zM23 42h1v1h-1zM28 42h1v1h-1zM34 42h1v1h-1zM37 42h1v1h-1zM41 42h1v1h-1zM7 43h2v1h-2zM16 43h1v1h-1zM21 43h1v1h-1zM40 43h2v1h-2zM44 43h2v1h-2zM50 43h1v1h-1zM54 43h1v1h-1zM11 44h1v1h-1zM37 44h1v1h-1zM49 44h1v1h-1zM6 45h1v1h-1zM10 45h1v1h-1zM16 45h1v1h-1zM23 45h1v1h-1zM26 45h1v1h-1zM36 45h3v1h-3zM40 45h1v1h-1zM42 45h3v1h-3zM49 45h1v1h-1zM51 45h2v1h-2zM0 46h3v1h-3zM10 46h1v1h-1zM12 46h2v1h-2zM16 46h3v1h-3zM20 46h1v1h-1zM22 46h1v1h-1zM24 46h2v1h-2zM31 46h1v1h-1zM36 46h1v1h-1zM38 46h1v1h-1zM40 46h1v1h-1zM42 46h1v1h-1zM46 46h1v1h-1zM48 46h2v1h-2zM6 47h1v1h-1zM25 47h2v1h-2zM28 47h2v1h-2zM31 47h1v1h-1zM33 47h1v1h-1zM35 47h1v1h-1zM39 47h2v1h-2zM47 47h2v1h-2zM51 47h1v1h-1zM1 48h1v1h-1zM23 48h1v1h-1zM28 48h1v1h-1zM31 48h1v1h-1zM44 48h1v1h-1zM53 48h1v1h-1zM2 49h1v1h-1zM8 49h1v1h-1zM12 49h1v1h-1zM15 49h1v1h-1zM22 49h1v1h-1zM38 49h1v1h-1zM43 49h1v1h-1zM46 49h1v1h-1zM49 49h2v1h-2z"/><path fill="#c7b6ff" d="M12 0h1v1h-1zM17 0h1v1h-1zM10 3h1v1h-1zM26 3h1v1h-1zM52 3h1v1h-1zM12 8h1v1h-1zM25 9h1v1h-1zM27 9h1v1h-1zM33 9h1v1h-1zM35 9h1v1h-1zM40 9h1v1h-1zM37 11h1v1h-1zM43 12h1v1h-1zM3 13h1v1h-1zM47 13h1v1h-1zM4 14h1v1h-1zM30 14h1v1h-1zM25 15h1v1h-1zM48 15h1v1h-1zM53 15h1v1h-1zM13 17h1v1h-1zM23 17h1v1h-1zM32 17h1v1h-1zM43 17h1v1h-1zM52 17h1v1h-1zM1 20h2v1h-2zM4 20h1v1h-1zM7 20h1v1h-1zM9 20h4v1h-4zM16 20h3v1h-3zM23 20h1v1h-1zM27 20h1v1h-1zM30 20h4v1h-4zM37 20h2v1h-2zM43 20h1v1h-1zM48 20h2v1h-2zM51 20h2v1h-2zM54 20h1v1h-1zM2 21h1v1h-1zM4 21h1v1h-1zM8 21h1v1h-1zM16 21h2v1h-2zM19 21h1v1h-1zM30 21h1v1h-1zM35 21h3v1h-3zM39 21h3v1h-3zM43 21h2v1h-2zM47 21h1v1h-1zM52 21h1v1h-1zM0 22h1v1h-1zM4 22h3v1h-3zM10 22h3v1h-3zM15 22h2v1h-2zM19 22h1v1h-1zM22 22h1v1h-1zM26 22h1v1h-1zM34 22h1v1h-1zM36 22h3v1h-3zM42 22h3v1h-3zM48 22h5v1h-5zM3 23h1v1h-1zM12 23h2v1h-2zM16 23h1v1h-1zM20 23h1v1h-1zM23 23h1v1h-1zM25 23h1v1h-1zM27 23h1v1h-1zM33 23h2v1h-2zM36 23h3v1h-3zM40 23h5v1h-5zM51 23h1v1h-1zM23 24h1v1h-1zM25 24h1v1h-1zM31 24h1v1h-1zM37 24h1v1h-1zM43 24h1v1h-1zM49 24h1v1h-1zM51 24h1v1h-1zM2 25h1v1h-1zM31 25h1v1h-1zM43 25h1v1h-1zM54 25h1v1h-1zM0 26h1v1h-1zM4 26h1v1h-1zM7 26h1v1h-1zM21 26h1v1h-1zM24 26h2v1h-2zM31 26h1v1h-1zM33 26h1v1h-1zM36 26h1v1h-1zM43 26h1v1h-1zM49 26h1v1h-1zM1 27h3v1h-3zM6 27h1v1h-1zM11 27h1v1h-1zM17 27h2v1h-2zM24 27h1v1h-1zM28 27h2v1h-2zM34 27h2v1h-2zM37 27h1v1h-1zM40 27h1v1h-1zM43 27h1v1h-1zM48 27h1v1h-1zM51 27h1v1h-1zM16 28h1v1h-1zM46 28h1v1h-1zM49 28h1v1h-1zM52 28h1v1h-1zM9 29h3v1h-3zM24 29h1v1h-1zM30 29h1v1h-1zM32 29h1v1h-1zM36 29h1v1h-1zM39 29h1v1h-1zM46 29h1v1h-1zM53 29h1v1h-1zM5 30h1v1h-1zM9 30h1v1h-1zM13 30h2v1h-2zM20 30h1v1h-1zM24 30h2v1h-2zM27 30h2v1h-2zM30 30h1v1h-1zM35 30h1v1h-1zM37 30h1v1h-1zM39 30h1v1h-1zM42 30h1v1h-1zM52 30h2v1h-2zM9 31h1v1h-1zM13 31h1v1h-1zM17 31h1v1h-1zM19 31h1v1h-1zM22 31h1v1h-1zM30 31h1v1h-1zM34 31h1v1h-1zM37 31h1v1h-1zM46 31h2v1h-2zM1 32h1v1h-1zM5 32h1v1h-1zM12 32h1v1h-1zM14 32h1v1h-1zM17 32h1v1h-1zM40 32h1v1h-1zM48 32h2v1h-2zM52 32h1v1h-1zM2 33h1v1h-1zM6 33h1v1h-1zM12 33h1v1h-1zM18 33h1v1h-1zM22 33h1v1h-1zM24 33h1v1h-1zM26 33h1v1h-1zM28 33h1v1h-1zM30 33h1v1h-1zM32 33h2v1h-2zM45 33h2v1h-2zM4 34h1v1h-1zM8 34h2v1h-2zM11 34h4v1h-4zM17 34h3v1h-3zM23 34h1v1h-1zM25 34h2v1h-2zM28 34h1v1h-1zM31 34h1v1h-1zM33 34h1v1h-1zM35 34h1v1h-1zM38 34h1v1h-1zM41 34h2v1h-2zM50 34h1v1h-1zM6 35h1v1h-1zM9 35h1v1h-1zM11 35h1v1h-1zM22 35h1v1h-1zM26 35h1v1h-1zM28 35h2v1h-2zM33 35h1v1h-1zM37 35h1v1h-1zM42 35h1v1h-1zM45 35h1v1h-1zM49 35h4v1h-4zM1 36h1v1h-1zM3 36h1v1h-1zM5 36h1v1h-1zM7 36h1v1h-1zM10 36h1v1h-1zM12 36h1v1h-1zM23 36h2v1h-2zM32 36h1v1h-1zM37 36h1v1h-1zM40 36h2v1h-2zM46 36h2v1h-2zM54 36h1v1h-1zM0 37h1v1h-1zM4 37h1v1h-1zM16 37h1v1h-1zM24 37h1v1h-1zM27 37h1v1h-1zM30 37h1v1h-1zM38 37h1v1h-1zM49 37h2v1h-2zM53 37h1v1h-1zM1 38h1v1h-1zM4 38h1v1h-1zM46 38h1v1h-1zM48 38h1v1h-1zM52 38h1v1h-1zM1 39h1v1h-1zM4 39h3v1h-3zM9 39h1v1h-1zM11 39h1v1h-1zM15 39h2v1h-2zM18 39h3v1h-3zM24 39h2v1h-2zM30 39h3v1h-3zM34 39h2v1h-2zM37 39h2v1h-2zM40 39h1v1h-1zM44 39h1v1h-1zM46 39h1v1h-1zM48 39h3v1h-3zM53 39h1v1h-1zM1 40h1v1h-1zM5 40h1v1h-1zM12 40h1v1h-1zM18 40h1v1h-1zM20 40h1v1h-1zM28 40h1v1h-1zM31 40h2v1h-2zM38 40h1v1h-1zM43 40h1v1h-1zM45 40h3v1h-3zM49 40h1v1h-1zM52 40h1v1h-1zM0 41h1v1h-1zM3 41h3v1h-3zM7 41h2v1h-2zM20 41h1v1h-1zM28 41h1v1h-1zM30 41h2v1h-2zM44 41h2v1h-2zM49 41h1v1h-1zM2 42h1v1h-1zM4 42h1v1h-1zM10 42h1v1h-1zM14 42h3v1h-3zM20 42h2v1h-2zM24 42h2v1h-2zM31 42h2v1h-2zM36 42h1v1h-1zM38 42h2v1h-2zM43 42h1v1h-1zM46 42h1v1h-1zM48 42h2v1h-2zM12 43h2v1h-2zM32 43h2v1h-2zM39 43h1v1h-1zM42 43h1v1h-1zM53 43h1v1h-1zM1 44h2v1h-2zM7 44h1v1h-1zM15 44h3v1h-3zM19 44h1v1h-1zM23 44h1v1h-1zM26 44h1v1h-1zM28 44h1v1h-1zM34 44h1v1h-1zM39 44h1v1h-1zM41 44h1v1h-1zM45 44h1v1h-1zM51 44h1v1h-1zM1 45h3v1h-3zM5 45h1v1h-1zM17 45h1v1h-1zM21 45h2v1h-2zM25 45h1v1h-1zM32 45h1v1h-1zM34 45h1v1h-1zM39 45h1v1h-1zM45 45h1v1h-1zM47 45h2v1h-2zM50 45h1v1h-1zM54 45h1v1h-1zM3 46h1v1h-1zM6 46h4v1h-4zM11 46h1v1h-1zM19 46h1v1h-1zM26 46h1v1h-1zM29 46h2v1h-2zM32 46h2v1h-2zM35 46h1v1h-1zM39 46h1v1h-1zM44 46h1v1h-1zM51 46h1v1h-1zM54 46h1v1h-1zM14 47h1v1h-1zM16 47h1v1h-1zM19 47h1v1h-1zM34 47h1v1h-1zM50 47h1v1h-1zM54 47h1v1h-1zM11 48h2v1h-2zM18 48h1v1h-1zM33 48h1v1h-1zM38 48h1v1h-1zM42 48h2v1h-2zM45 48h2v1h-2zM50 48h1v1h-1zM0 49h2v1h-2zM3 49h1v1h-1zM7 49h1v1h-1zM20 49h1v1h-1zM27 49h1v1h-1zM29 49h2v1h-2zM33 49h2v1h-2zM36 49h1v1h-1zM40 49h1v1h-1zM42 49h1v1h-1zM45 49h1v1h-1zM47 49h2v1h-2zM54 49h1v1h-1z"/><path fill="#daceff" d="M38 0h1v1h-1zM28 3h1v1h-1zM5 4h1v1h-1zM49 4h1v1h-1zM12 5h1v1h-1zM28 5h1v1h-1zM6 6h1v1h-1zM1 7h1v1h-1zM19 7h1v1h-1zM37 7h1v1h-1zM52 7h1v1h-1zM3 9h1v1h-1zM16 9h1v1h-1zM46 9h3v1h-3zM2 10h1v1h-1zM11 10h1v1h-1zM41 10h1v1h-1zM44 10h1v1h-1zM49 10h1v1h-1zM6 12h1v1h-1zM16 12h1v1h-1zM37 12h1v1h-1zM49 12h1v1h-1zM31 13h1v1h-1zM46 14h1v1h-1zM32 15h1v1h-1zM13 16h1v1h-1zM37 16h1v1h-1zM5 17h1v1h-1zM25 18h1v1h-1zM18 19h1v1h-1zM41 19h1v1h-1zM3 20h1v1h-1zM8 20h1v1h-1zM13 20h2v1h-2zM19 20h1v1h-1zM25 20h2v1h-2zM35 20h1v1h-1zM39 20h1v1h-1zM41 20h2v1h-2zM44 20h2v1h-2zM47 20h1v1h-1zM53 20h1v1h-1zM0 21h2v1h-2zM3 21h1v1h-1zM5 21h1v1h-1zM7 21h1v1h-1zM11 21h2v1h-2zM15 21h1v1h-1zM18 21h1v1h-1zM20 21h1v1h-1zM22 21h4v1h-4zM28 21h1v1h-1zM32 21h2v1h-2zM38 21h1v1h-1zM45 21h1v1h-1zM48 21h2v1h-2zM54 21h1v1h-1zM3 22h1v1h-1zM7 22h2v1h-2zM14 22h1v1h-1zM23 22h1v1h-1zM29 22h2v1h-2zM33 22h1v1h-1zM35 22h1v1h-1zM39 22h3v1h-3zM45 22h1v1h-1zM47 22h1v1h-1zM54 22h1v1h-1zM0 23h1v1h-1zM2 23h1v1h-1zM5 23h2v1h-2zM11 23h1v1h-1zM18 23h2v1h-2zM22 23h1v1h-1zM30 23h1v1h-1zM35 23h1v1h-1zM46 23h1v1h-1zM48 23h2v1h-2zM52 23h2v1h-2zM10 24h1v1h-1zM12 24h1v1h-1zM19 24h1v1h-1zM21 24h2v1h-2zM26 24h1v1h-1zM33 24h1v1h-1zM35 24h1v1h-1zM38 24h1v1h-1zM41 24h1v1h-1zM46 24h1v1h-1zM48 24h1v1h-1zM10 25h1v1h-1zM48 25h2v1h-2zM10 26h3v1h-3zM16 26h1v1h-1zM32 26h1v1h-1zM35 26h1v1h-1zM38 26h1v1h-1zM40 26h1v1h-1zM47 26h1v1h-1zM50 26h2v1h-2zM54 26h1v1h-1zM8 27h1v1h-1zM15 27h1v1h-1zM20 27h1v1h-1zM22 27h1v1h-1zM39 27h1v1h-1zM47 27h1v1h-1zM50 27h1v1h-1zM53 27h1v1h-1zM1 28h1v1h-1zM18 28h1v1h-1zM21 28h1v1h-1zM44 28h1v1h-1zM51 28h1v1h-1zM0 29h2v1h-2zM8 29h1v1h-1zM13 29h1v1h-1zM27 29h1v1h-1zM29 29h1v1h-1zM34 29h1v1h-1zM41 29h1v1h-1zM1 30h1v1h-1zM19 30h1v1h-1zM22 30h1v1h-1zM32 30h1v1h-1zM40 30h2v1h-2zM44 30h2v1h-2zM49 30h3v1h-3zM54 30h1v1h-1zM0 31h1v1h-1zM5 31h2v1h-2zM10 31h1v1h-1zM14 31h2v1h-2zM20 31h1v1h-1zM25 31h2v1h-2zM31 31h1v1h-1zM36 31h1v1h-1zM39 31h1v1h-1zM43 31h2v1h-2zM48 31h5v1h-5zM2 32h1v1h-1zM7 32h2v1h-2zM23 32h2v1h-2zM31 32h1v1h-1zM33 32h1v1h-1zM36 32h1v1h-1zM38 32h1v1h-1zM41 32h1v1h-1zM53 32h1v1h-1zM3 33h2v1h-2zM8 33h1v1h-1zM11 33h1v1h-1zM15 33h1v1h-1zM35 33h1v1h-1zM37 33h1v1h-1zM40 33h2v1h-2zM43 33h1v1h-1zM47 33h2v1h-2zM0 34h1v1h-1zM2 34h2v1h-2zM5 34h2v1h-2zM10 34h1v1h-1zM16 34h1v1h-1zM20 34h3v1h-3zM24 34h1v1h-1zM27 34h1v1h-1zM29 34h2v1h-2zM32 34h1v1h-1zM34 34h1v1h-1zM36 34h2v1h-2zM39 34h2v1h-2zM43 34h7v1h-7zM51 34h1v1h-1zM53 34h2v1h-2zM2 35h1v1h-1zM8 35h1v1h-1zM14 35h1v1h-1zM20 35h1v1h-1zM25 35h1v1h-1zM27 35h1v1h-1zM38 35h1v1h-1zM0 36h1v1h-1zM16 36h1v1h-1zM18 36h1v1h-1zM21 36h1v1h-1zM25 36h1v1h-1zM28 36h2v1h-2zM33 36h2v1h-2zM36 36h1v1h-1zM42 36h1v1h-1zM45 36h1v1h-1zM48 36h1v1h-1zM50 36h2v1h-2zM53 36h1v1h-1zM1 37h1v1h-1zM5 37h2v1h-2zM12 37h1v1h-1zM17 37h1v1h-1zM19 37h1v1h-1zM21 37h3v1h-3zM25 37h1v1h-1zM31 37h1v1h-1zM33 37h1v1h-1zM35 37h3v1h-3zM39 37h1v1h-1zM42 37h1v1h-1zM45 37h1v1h-1zM48 37h1v1h-1zM51 37h1v1h-1zM54 37h1v1h-1zM2 38h1v1h-1zM7 38h1v1h-1zM11 38h1v1h-1zM14 38h1v1h-1zM18 38h1v1h-1zM23 38h1v1h-1zM27 38h1v1h-1zM31 38h1v1h-1zM33 38h1v1h-1zM37 38h1v1h-1zM39 38h1v1h-1zM8 39h1v1h-1zM10 39h1v1h-1zM13 39h1v1h-1zM21 39h2v1h-2zM26 39h1v1h-1zM28 39h2v1h-2zM33 39h1v1h-1zM39 39h1v1h-1zM42 39h1v1h-1zM51 39h1v1h-1zM54 39h1v1h-1zM0 40h1v1h-1zM4 40h1v1h-1zM6 40h1v1h-1zM9 40h2v1h-2zM16 40h1v1h-1zM19 40h1v1h-1zM23 40h3v1h-3zM30 40h1v1h-1zM35 40h1v1h-1zM39 40h1v1h-1zM41 40h2v1h-2zM44 40h1v1h-1zM1 41h1v1h-1zM6 41h1v1h-1zM9 41h2v1h-2zM13 41h1v1h-1zM15 41h5v1h-5zM21 41h1v1h-1zM23 41h1v1h-1zM25 41h1v1h-1zM32 41h1v1h-1zM34 41h1v1h-1zM36 41h2v1h-2zM41 41h2v1h-2zM50 41h1v1h-1zM54 41h1v1h-1zM5 42h1v1h-1zM7 42h3v1h-3zM13 42h1v1h-1zM19 42h1v1h-1zM30 42h1v1h-1zM40 42h1v1h-1zM47 42h1v1h-1zM50 42h1v1h-1zM11 43h1v1h-1zM19 43h1v1h-1zM31 43h1v1h-1zM34 43h1v1h-1zM47 43h1v1h-1zM51 43h1v1h-1zM0 44h1v1h-1zM3 44h1v1h-1zM18 44h1v1h-1zM20 44h2v1h-2zM25 44h1v1h-1zM29 44h1v1h-1zM36 44h1v1h-1zM38 44h1v1h-1zM42 44h1v1h-1zM24 45h1v1h-1zM29 45h3v1h-3zM5 46h1v1h-1zM15 46h1v1h-1zM21 46h1v1h-1zM27 46h2v1h-2zM34 46h1v1h-1zM50 46h1v1h-1zM36 47h1v1h-1zM53 47h1v1h-1zM0 48h1v1h-1zM2 48h3v1h-3zM7 48h1v1h-1zM9 48h1v1h-1zM14 48h1v1h-1zM17 48h1v1h-1zM19 48h2v1h-2zM24 48h1v1h-1zM34 48h1v1h-1zM41 48h1v1h-1zM47 48h1v1h-1zM4 49h1v1h-1zM9 49h3v1h-3zM14 49h1v1h-1zM16 49h1v1h-1zM25 49h1v1h-1zM51 49h1v1h-1zM53 49h1v1h-1z"/><path fill="#ede7ff" d="M4 0h1v1h-1zM31 0h1v1h-1zM35 0h1v1h-1zM6 2h1v1h-1zM47 2h1v1h-1zM30 3h1v1h-1zM44 3h1v1h-1zM1 4h2v1h-2zM12 4h1v1h-1zM14 4h1v1h-1zM16 4h1v1h-1zM33 4h1v1h-1zM46 4h1v1h-1zM50 4h1v1h-1zM6 5h1v1h-1zM17 5h1v1h-1zM49 5h1v1h-1zM1 6h1v1h-1zM13 7h1v1h-1zM20 7h1v1h-1zM23 7h1v1h-1zM30 7h1v1h-1zM38 7h1v1h-1zM43 7h1v1h-1zM0 8h1v1h-1zM38 8h1v1h-1zM40 8h1v1h-1zM5 9h1v1h-1zM10 9h1v1h-1zM12 9h1v1h-1zM20 9h1v1h-1zM31 9h1v1h-1zM49 9h1v1h-1zM54 9h1v1h-1zM12 10h1v1h-1zM23 10h1v1h-1zM32 11h1v1h-1zM46 11h1v1h-1zM5 12h1v1h-1zM40 12h1v1h-1zM44 13h1v1h-1zM2 14h1v1h-1zM12 14h1v1h-1zM17 14h1v1h-1zM24 14h1v1h-1zM27 14h1v1h-1zM40 14h1v1h-1zM16 15h1v1h-1zM34 15h1v1h-1zM40 15h2v1h-2zM2 16h1v1h-1zM12 16h1v1h-1zM16 16h1v1h-1zM19 16h1v1h-1zM31 16h1v1h-1zM35 16h1v1h-1zM43 16h1v1h-1zM15 17h1v1h-1zM15 18h1v1h-1zM17 18h1v1h-1zM31 19h1v1h-1zM43 19h1v1h-1zM0 20h1v1h-1zM6 20h1v1h-1zM21 20h1v1h-1zM28 20h2v1h-2zM40 20h1v1h-1zM50 20h1v1h-1zM6 21h1v1h-1zM9 21h2v1h-2zM13 21h2v1h-2zM21 21h1v1h-1zM27 21h1v1h-1zM34 21h1v1h-1zM42 21h1v1h-1zM53 21h1v1h-1zM25 22h1v1h-1zM27 22h1v1h-1zM53 22h1v1h-1zM8 23h1v1h-1zM24 23h1v1h-1zM28 23h1v1h-1zM5 24h1v1h-1zM14 24h1v1h-1zM16 24h2v1h-2zM20 24h1v1h-1zM29 24h2v1h-2zM40 24h1v1h-1zM50 24h1v1h-1zM53 24h1v1h-1zM1 25h1v1h-1zM8 25h1v1h-1zM12 25h1v1h-1zM19 25h3v1h-3zM28 25h1v1h-1zM33 25h1v1h-1zM46 25h1v1h-1zM52 25h1v1h-1zM1 26h2v1h-2zM8 26h1v1h-1zM14 26h2v1h-2zM18 26h1v1h-1zM29 26h1v1h-1zM34 26h1v1h-1zM41 26h2v1h-2zM45 26h2v1h-2zM21 27h1v1h-1zM45 27h1v1h-1zM12 28h1v1h-1zM19 28h1v1h-1zM30 28h1v1h-1zM33 28h1v1h-1zM37 28h1v1h-1zM45 28h1v1h-1zM7 29h1v1h-1zM4 30h1v1h-1zM10 30h1v1h-1zM34 30h1v1h-1zM1 31h1v1h-1zM3 31h1v1h-1zM12 31h1v1h-1zM33 31h1v1h-1zM35 31h1v1h-1zM54 31h1v1h-1zM19 32h1v1h-1zM22 32h1v1h-1zM25 32h1v1h-1zM29 32h1v1h-1zM34 32h2v1h-2zM42 32h1v1h-1zM44 32h1v1h-1zM50 32h2v1h-2zM1 33h1v1h-1zM31 33h1v1h-1zM34 33h1v1h-1zM36 33h1v1h-1zM39 33h1v1h-1zM7 34h1v1h-1zM15 34h1v1h-1zM52 34h1v1h-1zM5 35h1v1h-1zM24 35h1v1h-1zM41 35h1v1h-1zM4 36h1v1h-1zM8 36h1v1h-1zM17 36h1v1h-1zM19 36h2v1h-2zM30 36h1v1h-1zM35 36h1v1h-1zM38 36h1v1h-1zM49 36h1v1h-1zM8 37h2v1h-2zM11 37h1v1h-1zM15 37h1v1h-1zM26 37h1v1h-1zM3 38h1v1h-1zM9 38h1v1h-1zM13 38h1v1h-1zM15 38h3v1h-3zM21 38h1v1h-1zM26 38h1v1h-1zM30 38h1v1h-1zM41 38h1v1h-1zM44 38h1v1h-1zM47 38h1v1h-1zM50 38h2v1h-2zM7 39h1v1h-1zM45 39h1v1h-1zM13 40h1v1h-1zM21 40h1v1h-1zM11 41h1v1h-1zM27 41h1v1h-1zM29 41h1v1h-1zM48 41h1v1h-1zM53 41h1v1h-1zM1 42h1v1h-1zM33 42h1v1h-1zM35 42h1v1h-1zM44 42h2v1h-2zM53 42h2v1h-2zM6 43h1v1h-1zM5 44h2v1h-2zM8 44h1v1h-1zM22 44h1v1h-1zM33 44h1v1h-1zM47 44h1v1h-1zM52 44h2v1h-2zM33 45h1v1h-1zM41 46h1v1h-1zM8 48h1v1h-1zM32 48h1v1h-1zM48 48h2v1h-2zM51 48h1v1h-1zM54 48h1v1h-1zM6 49h1v1h-1zM13 49h1v1h-1zM39 49h1v1h-1zM44 49h1v1h-1z"/><path fill="#ffffff" d="M41 0h1v1h-1zM2 1h1v1h-1zM9 1h1v1h-1zM51 1h1v1h-1zM30 2h1v1h-1zM4 3h1v1h-1zM41 3h1v1h-1zM51 3h1v1h-1zM0 4h1v1h-1zM4 4h1v1h-1zM9 4h1v1h-1zM39 4h1v1h-1zM43 4h1v1h-1zM45 4h1v1h-1zM21 5h1v1h-1zM5 6h1v1h-1zM10 6h1v1h-1zM52 6h1v1h-1zM54 6h1v1h-1zM7 7h1v1h-1zM21 7h1v1h-1zM32 7h2v1h-2zM15 8h1v1h-1zM17 8h1v1h-1zM47 8h1v1h-1zM1 9h1v1h-1zM6 9h1v1h-1zM18 9h1v1h-1zM30 9h1v1h-1zM32 9h1v1h-1zM36 9h1v1h-1zM42 9h1v1h-1zM17 10h1v1h-1zM52 10h1v1h-1zM54 10h1v1h-1zM0 11h1v1h-1zM11 11h1v1h-1zM14 11h1v1h-1zM16 11h1v1h-1zM36 11h1v1h-1zM43 11h1v1h-1zM45 11h1v1h-1zM17 12h1v1h-1zM26 12h1v1h-1zM52 12h1v1h-1zM4 13h1v1h-1zM17 13h1v1h-1zM24 13h1v1h-1zM29 13h1v1h-1zM32 13h1v1h-1zM37 13h1v1h-1zM52 13h2v1h-2zM1 14h1v1h-1zM9 14h1v1h-1zM18 14h1v1h-1zM21 14h1v1h-1zM7 15h1v1h-1zM18 15h1v1h-1zM30 16h1v1h-1zM32 16h2v1h-2zM39 16h1v1h-1zM47 16h1v1h-1zM49 16h1v1h-1zM36 17h1v1h-1zM49 17h1v1h-1zM51 17h1v1h-1zM48 18h1v1h-1zM33 19h1v1h-1zM38 19h1v1h-1zM40 19h1v1h-1zM44 19h1v1h-1zM47 19h1v1h-1zM1 23h1v1h-1zM7 23h1v1h-1zM14 23h1v1h-1zM45 23h1v1h-1zM1 24h1v1h-1zM11 24h1v1h-1zM13 24h1v1h-1zM15 24h1v1h-1zM24 24h1v1h-1zM27 24h2v1h-2zM32 24h1v1h-1zM42 24h1v1h-1zM44 24h2v1h-2zM4 25h1v1h-1zM18 25h1v1h-1zM23 25h1v1h-1zM27 25h1v1h-1zM30 25h1v1h-1zM36 25h2v1h-2zM47 25h1v1h-1zM5 26h1v1h-1zM20 26h1v1h-1zM39 26h1v1h-1zM44 26h1v1h-1zM53 26h1v1h-1zM0 28h1v1h-1zM4 28h1v1h-1zM8 28h1v1h-1zM13 28h3v1h-3zM20 28h1v1h-1zM24 28h2v1h-2zM31 28h1v1h-1zM18 31h1v1h-1zM24 31h1v1h-1zM27 31h3v1h-3zM45 32h1v1h-1zM25 33h1v1h-1zM27 33h1v1h-1zM42 33h1v1h-1zM54 33h1v1h-1zM1 34h1v1h-1zM6 36h1v1h-1zM15 36h1v1h-1zM13 37h1v1h-1zM29 37h1v1h-1zM34 37h1v1h-1zM41 37h1v1h-1zM52 37h1v1h-1zM5 38h1v1h-1zM8 38h1v1h-1zM19 38h2v1h-2zM24 38h2v1h-2zM28 38h2v1h-2zM32 38h1v1h-1zM34 38h2v1h-2zM45 38h1v1h-1zM49 38h1v1h-1zM29 40h1v1h-1zM51 40h1v1h-1zM0 42h1v1h-1zM6 42h1v1h-1zM9 44h1v1h-1zM13 48h1v1h-1zM15 48h1v1h-1z"/><path fill="#ffe9e5" d="M8 0h2v1h-2zM13 0h1v1h-1zM21 0h1v1h-1zM36 0h1v1h-1zM49 0h1v1h-1zM7 1h1v1h-1zM34 1h1v1h-1zM46 1h1v1h-1zM1 2h1v1h-1zM10 2h1v1h-1zM34 2h1v1h-1zM40 2h1v1h-1zM43 2h1v1h-1zM28 4h1v1h-1zM36 4h1v1h-1zM40 4h1v1h-1zM44 4h1v1h-1zM16 5h1v1h-1zM20 5h1v1h-1zM26 5h1v1h-1zM32 5h1v1h-1zM0 6h1v1h-1zM3 6h1v1h-1zM7 6h1v1h-1zM22 6h1v1h-1zM51 6h1v1h-1zM0 7h1v1h-1zM2 7h1v1h-1zM11 7h2v1h-2zM17 7h1v1h-1zM31 7h1v1h-1zM46 7h2v1h-2zM50 7h1v1h-1zM11 8h1v1h-1zM14 8h1v1h-1zM16 8h1v1h-1zM43 8h1v1h-1zM51 8h1v1h-1zM9 9h1v1h-1zM21 9h1v1h-1zM29 9h1v1h-1zM37 9h1v1h-1zM14 10h2v1h-2zM26 10h1v1h-1zM32 10h1v1h-1zM38 10h1v1h-1zM46 10h1v1h-1zM53 10h1v1h-1zM10 11h1v1h-1zM40 11h1v1h-1zM51 11h1v1h-1zM1 12h1v1h-1zM12 12h1v1h-1zM25 12h1v1h-1zM31 12h1v1h-1zM36 12h1v1h-1zM15 13h2v1h-2zM21 13h2v1h-2zM33 13h1v1h-1zM5 14h1v1h-1zM36 14h1v1h-1zM38 14h1v1h-1zM45 14h1v1h-1zM3 15h2v1h-2zM10 15h1v1h-1zM12 15h1v1h-1zM26 15h1v1h-1zM36 15h1v1h-1zM44 15h1v1h-1zM49 15h1v1h-1zM3 16h2v1h-2zM8 16h1v1h-1zM10 16h1v1h-1zM17 16h1v1h-1zM23 16h1v1h-1zM34 16h1v1h-1zM4 17h1v1h-1zM8 17h1v1h-1zM31 17h1v1h-1zM42 17h1v1h-1zM48 17h1v1h-1zM53 17h1v1h-1zM2 18h1v1h-1zM4 18h1v1h-1zM7 18h1v1h-1zM12 18h1v1h-1zM18 18h1v1h-1zM23 18h1v1h-1zM37 18h1v1h-1zM40 18h1v1h-1zM49 18h1v1h-1zM0 19h2v1h-2zM3 19h1v1h-1zM21 19h1v1h-1zM27 19h1v1h-1zM10 23h1v1h-1zM0 24h1v1h-1zM4 24h1v1h-1zM6 24h1v1h-1zM8 24h1v1h-1zM34 24h1v1h-1zM54 24h1v1h-1zM3 25h1v1h-1zM15 25h1v1h-1zM17 25h1v1h-1zM22 25h1v1h-1zM29 25h1v1h-1zM38 25h1v1h-1zM40 25h2v1h-2zM48 26h1v1h-1zM4 27h1v1h-1zM30 27h1v1h-1zM6 28h1v1h-1zM11 28h1v1h-1zM22 28h1v1h-1zM34 28h1v1h-1zM36 28h1v1h-1zM39 28h1v1h-1zM43 28h1v1h-1zM47 28h1v1h-1zM53 28h1v1h-1zM6 29h1v1h-1zM8 31h1v1h-1zM38 31h1v1h-1zM40 31h1v1h-1zM47 32h1v1h-1zM9 36h1v1h-1zM13 36h2v1h-2zM0 38h1v1h-1zM36 38h1v1h-1zM54 38h1v1h-1zM15 40h1v1h-1zM14 44h1v1h-1zM35 44h1v1h-1zM40 44h1v1h-1zM44 44h1v1h-1zM48 44h1v1h-1zM19 45h1v1h-1zM53 45h1v1h-1zM7 47h1v1h-1zM10 47h1v1h-1zM41 47h1v1h-1zM27 48h1v1h-1zM35 48h1v1h-1zM37 48h1v1h-1zM39 48h1v1h-1zM41 49h1v1h-1z"/><path fill="#ffd4cc" d="M10 0h1v1h-1zM20 0h1v1h-1zM52 0h2v1h-2zM10 1h1v1h-1zM26 1h1v1h-1zM30 1h1v1h-1zM38 1h1v1h-1zM44 1h1v1h-1zM49 1h1v1h-1zM52 1h1v1h-1zM8 2h1v1h-1zM22 2h1v1h-1zM29 2h1v1h-1zM32 2h2v1h-2zM38 2h1v1h-1zM46 2h1v1h-1zM11 3h1v1h-1zM15 3h2v1h-2zM24 3h1v1h-1zM27 3h1v1h-1zM34 3h1v1h-1zM40 3h1v1h-1zM42 3h1v1h-1zM53 3h1v1h-1zM27 4h1v1h-1zM48 4h1v1h-1zM9 5h1v1h-1zM41 5h1v1h-1zM46 5h1v1h-1zM11 6h1v1h-1zM17 6h1v1h-1zM23 6h1v1h-1zM39 6h1v1h-1zM49 6h1v1h-1zM5 7h1v1h-1zM22 7h1v1h-1zM40 7h2v1h-2zM48 7h1v1h-1zM2 8h1v1h-1zM6 8h1v1h-1zM20 8h1v1h-1zM36 8h1v1h-1zM46 8h1v1h-1zM0 9h1v1h-1zM34 9h1v1h-1zM38 9h2v1h-2zM41 9h1v1h-1zM45 9h1v1h-1zM52 9h1v1h-1zM3 10h1v1h-1zM29 10h1v1h-1zM7 11h1v1h-1zM18 11h1v1h-1zM23 11h1v1h-1zM25 11h1v1h-1zM34 11h1v1h-1zM49 11h1v1h-1zM54 11h1v1h-1zM2 12h2v1h-2zM20 12h1v1h-1zM23 12h2v1h-2zM27 12h1v1h-1zM30 12h1v1h-1zM47 12h2v1h-2zM51 12h1v1h-1zM1 13h2v1h-2zM7 13h1v1h-1zM10 13h1v1h-1zM18 13h1v1h-1zM34 13h1v1h-1zM36 13h1v1h-1zM40 13h1v1h-1zM43 13h1v1h-1zM48 13h1v1h-1zM3 14h1v1h-1zM6 14h1v1h-1zM8 14h1v1h-1zM10 14h2v1h-2zM26 14h1v1h-1zM32 14h1v1h-1zM41 14h1v1h-1zM43 14h2v1h-2zM47 14h1v1h-1zM51 14h1v1h-1zM53 14h2v1h-2zM2 15h1v1h-1zM17 15h1v1h-1zM20 15h1v1h-1zM22 15h1v1h-1zM29 15h1v1h-1zM31 15h1v1h-1zM37 15h1v1h-1zM46 15h1v1h-1zM6 16h1v1h-1zM20 16h1v1h-1zM28 16h1v1h-1zM44 16h1v1h-1zM0 17h1v1h-1zM2 17h2v1h-2zM21 17h1v1h-1zM26 17h1v1h-1zM37 17h1v1h-1zM1 18h1v1h-1zM9 18h1v1h-1zM14 18h1v1h-1zM24 18h1v1h-1zM26 18h1v1h-1zM30 18h1v1h-1zM38 18h1v1h-1zM43 18h1v1h-1zM52 18h2v1h-2zM4 19h1v1h-1zM8 19h1v1h-1zM16 19h1v1h-1zM19 19h1v1h-1zM30 19h1v1h-1zM32 19h1v1h-1zM36 19h1v1h-1zM46 19h1v1h-1zM48 19h1v1h-1zM51 19h2v1h-2zM5 25h1v1h-1zM13 25h1v1h-1zM16 25h1v1h-1zM26 25h1v1h-1zM3 26h1v1h-1zM27 26h1v1h-1zM52 26h1v1h-1zM27 27h1v1h-1zM2 28h2v1h-2zM23 28h1v1h-1zM35 28h1v1h-1zM40 28h1v1h-1zM50 28h1v1h-1zM6 30h1v1h-1zM21 30h1v1h-1zM2 31h1v1h-1zM21 31h1v1h-1zM41 31h1v1h-1zM30 32h1v1h-1zM7 33h1v1h-1zM21 33h1v1h-1zM17 35h1v1h-1zM21 35h1v1h-1zM3 37h1v1h-1zM22 38h1v1h-1zM11 40h1v1h-1zM40 40h1v1h-1zM53 40h1v1h-1zM51 42h1v1h-1zM15 43h1v1h-1zM48 43h1v1h-1zM52 43h1v1h-1zM32 44h1v1h-1zM4 45h1v1h-1zM15 45h1v1h-1zM17 47h1v1h-1zM20 47h1v1h-1zM30 47h1v1h-1zM6 48h1v1h-1zM16 48h1v1h-1zM25 48h1v1h-1zM29 48h1v1h-1z"/><path fill="#ffbeb2" d="M3 0h1v1h-1zM6 0h2v1h-2zM16 0h1v1h-1zM43 0h2v1h-2zM46 0h2v1h-2zM50 0h1v1h-1zM1 1h1v1h-1zM3 1h3v1h-3zM16 1h1v1h-1zM18 1h1v1h-1zM41 1h1v1h-1zM47 1h1v1h-1zM2 2h2v1h-2zM16 2h2v1h-2zM49 2h2v1h-2zM54 2h1v1h-1zM3 3h1v1h-1zM9 3h1v1h-1zM18 3h1v1h-1zM31 3h3v1h-3zM37 3h1v1h-1zM45 3h1v1h-1zM48 3h1v1h-1zM15 4h1v1h-1zM17 4h2v1h-2zM20 4h1v1h-1zM23 4h1v1h-1zM31 4h1v1h-1zM37 4h1v1h-1zM41 4h1v1h-1zM4 5h1v1h-1zM13 5h1v1h-1zM29 5h2v1h-2zM33 5h1v1h-1zM38 5h1v1h-1zM40 5h1v1h-1zM42 5h2v1h-2zM48 5h1v1h-1zM2 6h1v1h-1zM9 6h1v1h-1zM12 6h1v1h-1zM25 6h1v1h-1zM32 6h1v1h-1zM35 6h1v1h-1zM38 6h1v1h-1zM40 6h1v1h-1zM46 6h1v1h-1zM48 6h1v1h-1zM4 7h1v1h-1zM6 7h1v1h-1zM24 7h1v1h-1zM34 7h2v1h-2zM42 7h1v1h-1zM51 7h1v1h-1zM1 8h1v1h-1zM5 8h1v1h-1zM7 8h1v1h-1zM13 8h1v1h-1zM18 8h1v1h-1zM22 8h1v1h-1zM27 8h1v1h-1zM4 9h1v1h-1zM13 9h1v1h-1zM19 9h1v1h-1zM50 9h2v1h-2zM0 10h1v1h-1zM4 10h1v1h-1zM7 10h1v1h-1zM40 10h1v1h-1zM50 10h1v1h-1zM4 11h1v1h-1zM6 11h1v1h-1zM12 11h1v1h-1zM15 11h1v1h-1zM17 11h1v1h-1zM19 11h2v1h-2zM26 11h1v1h-1zM29 11h3v1h-3zM33 11h1v1h-1zM38 11h1v1h-1zM42 11h1v1h-1zM47 11h1v1h-1zM52 11h1v1h-1zM11 12h1v1h-1zM33 12h2v1h-2zM46 12h1v1h-1zM54 12h1v1h-1zM8 13h1v1h-1zM13 13h1v1h-1zM23 13h1v1h-1zM26 13h2v1h-2zM38 13h1v1h-1zM41 13h1v1h-1zM49 13h1v1h-1zM54 13h1v1h-1zM13 14h1v1h-1zM22 14h2v1h-2zM33 14h1v1h-1zM49 14h1v1h-1zM1 15h1v1h-1zM13 15h1v1h-1zM28 15h1v1h-1zM43 15h1v1h-1zM0 16h1v1h-1zM9 16h1v1h-1zM11 16h1v1h-1zM26 16h1v1h-1zM40 16h1v1h-1zM42 16h1v1h-1zM48 16h1v1h-1zM50 16h1v1h-1zM52 16h1v1h-1zM1 17h1v1h-1zM6 17h2v1h-2zM9 17h1v1h-1zM11 17h1v1h-1zM14 17h1v1h-1zM19 17h1v1h-1zM27 17h1v1h-1zM29 17h2v1h-2zM33 17h1v1h-1zM46 17h1v1h-1zM19 18h1v1h-1zM32 18h1v1h-1zM39 18h1v1h-1zM54 18h1v1h-1zM15 19h1v1h-1zM22 19h1v1h-1zM26 19h1v1h-1zM37 19h1v1h-1zM42 19h1v1h-1zM45 19h1v1h-1zM53 19h2v1h-2zM36 20h1v1h-1zM29 21h1v1h-1zM9 22h1v1h-1zM18 24h1v1h-1zM0 25h1v1h-1zM6 25h1v1h-1zM9 25h1v1h-1zM11 25h1v1h-1zM25 25h1v1h-1zM39 25h1v1h-1zM45 25h1v1h-1zM13 26h1v1h-1zM22 26h1v1h-1zM14 27h1v1h-1zM9 28h1v1h-1zM26 28h1v1h-1zM28 28h1v1h-1zM32 28h1v1h-1zM38 28h1v1h-1zM42 28h1v1h-1zM54 28h1v1h-1zM48 29h1v1h-1zM0 30h1v1h-1zM11 30h1v1h-1zM46 30h1v1h-1zM4 31h1v1h-1zM10 33h1v1h-1zM49 33h2v1h-2zM43 35h1v1h-1zM10 37h1v1h-1zM14 37h1v1h-1zM6 38h1v1h-1zM10 38h1v1h-1zM12 38h1v1h-1zM17 40h1v1h-1zM48 40h1v1h-1zM25 43h2v1h-2zM49 43h1v1h-1zM13 44h1v1h-1zM54 44h1v1h-1zM21 47h1v1h-1zM27 47h1v1h-1zM5 48h1v1h-1zM19 49h1v1h-1zM37 49h1v1h-1z"/><path fill="#ffa899" d="M2 0h1v1h-1zM14 0h1v1h-1zM19 0h1v1h-1zM24 0h3v1h-3zM30 0h1v1h-1zM39 0h1v1h-1zM17 1h1v1h-1zM19 1h1v1h-1zM21 1h1v1h-1zM28 1h1v1h-1zM31 1h1v1h-1zM37 1h1v1h-1zM40 1h1v1h-1zM43 1h1v1h-1zM20 2h1v1h-1zM24 2h1v1h-1zM52 2h1v1h-1zM7 3h1v1h-1zM17 3h1v1h-1zM20 3h1v1h-1zM35 3h1v1h-1zM38 3h1v1h-1zM46 3h1v1h-1zM50 3h1v1h-1zM6 4h1v1h-1zM8 4h1v1h-1zM11 4h1v1h-1zM19 4h1v1h-1zM22 4h1v1h-1zM38 4h1v1h-1zM47 4h1v1h-1zM52 4h1v1h-1zM37 5h1v1h-1zM44 5h1v1h-1zM47 5h1v1h-1zM52 5h2v1h-2zM4 6h1v1h-1zM14 6h1v1h-1zM16 6h1v1h-1zM18 6h1v1h-1zM29 6h1v1h-1zM33 6h1v1h-1zM43 6h2v1h-2zM47 6h1v1h-1zM53 6h1v1h-1zM3 7h1v1h-1zM9 7h1v1h-1zM18 7h1v1h-1zM25 7h2v1h-2zM36 7h1v1h-1zM39 7h1v1h-1zM53 7h2v1h-2zM8 8h1v1h-1zM24 8h1v1h-1zM31 8h1v1h-1zM37 8h1v1h-1zM41 8h1v1h-1zM44 8h1v1h-1zM48 8h1v1h-1zM54 8h1v1h-1zM7 9h1v1h-1zM11 9h1v1h-1zM44 9h1v1h-1zM5 10h1v1h-1zM9 10h1v1h-1zM13 10h1v1h-1zM16 10h1v1h-1zM18 10h1v1h-1zM22 10h1v1h-1zM24 10h1v1h-1zM33 10h2v1h-2zM36 10h1v1h-1zM47 10h2v1h-2zM3 11h1v1h-1zM4 12h1v1h-1zM7 12h1v1h-1zM9 12h1v1h-1zM14 12h1v1h-1zM19 12h1v1h-1zM28 12h2v1h-2zM32 12h1v1h-1zM35 12h1v1h-1zM42 12h1v1h-1zM45 12h1v1h-1zM53 12h1v1h-1zM0 13h1v1h-1zM5 13h1v1h-1zM11 13h1v1h-1zM25 13h1v1h-1zM28 13h1v1h-1zM30 13h1v1h-1zM51 13h1v1h-1zM7 14h1v1h-1zM25 14h1v1h-1zM28 14h1v1h-1zM31 14h1v1h-1zM34 14h1v1h-1zM37 14h1v1h-1zM50 14h1v1h-1zM52 14h1v1h-1zM5 15h1v1h-1zM9 15h1v1h-1zM23 15h1v1h-1zM39 15h1v1h-1zM47 15h1v1h-1zM52 15h1v1h-1zM54 15h1v1h-1zM15 16h1v1h-1zM18 16h1v1h-1zM21 16h2v1h-2zM27 16h1v1h-1zM29 16h1v1h-1zM36 16h1v1h-1zM38 16h1v1h-1zM45 16h1v1h-1zM51 16h1v1h-1zM16 17h1v1h-1zM20 17h1v1h-1zM25 17h1v1h-1zM34 17h1v1h-1zM38 17h2v1h-2zM3 18h1v1h-1zM6 18h1v1h-1zM10 18h2v1h-2zM20 18h1v1h-1zM22 18h1v1h-1zM29 18h1v1h-1zM35 18h1v1h-1zM46 18h1v1h-1zM7 19h1v1h-1zM9 19h1v1h-1zM12 19h2v1h-2zM17 19h1v1h-1zM20 19h1v1h-1zM23 19h1v1h-1zM29 19h1v1h-1zM34 19h2v1h-2zM51 21h1v1h-1zM14 25h1v1h-1zM32 25h1v1h-1zM34 25h1v1h-1zM0 27h1v1h-1zM38 27h1v1h-1zM7 28h1v1h-1zM41 28h1v1h-1zM48 28h1v1h-1zM33 29h1v1h-1zM16 30h1v1h-1zM23 30h1v1h-1zM16 31h1v1h-1zM23 31h1v1h-1zM44 33h1v1h-1zM20 37h1v1h-1zM42 38h1v1h-1zM8 40h1v1h-1zM14 40h1v1h-1zM22 40h1v1h-1zM27 40h1v1h-1zM34 40h1v1h-1zM36 40h1v1h-1zM50 40h1v1h-1zM11 42h1v1h-1zM29 42h1v1h-1zM42 42h1v1h-1zM4 44h1v1h-1zM12 44h1v1h-1zM9 45h1v1h-1zM47 46h1v1h-1zM30 48h1v1h-1zM17 49h1v1h-1zM28 49h1v1h-1z"/><path fill="#ff9281" d="M5 0h1v1h-1zM28 0h1v1h-1zM34 0h1v1h-1zM37 0h1v1h-1zM40 0h1v1h-1zM45 0h1v1h-1zM14 1h2v1h-2zM23 1h1v1h-1zM25 1h1v1h-1zM27 1h1v1h-1zM35 1h2v1h-2zM45 1h1v1h-1zM4 2h1v1h-1zM11 2h1v1h-1zM13 2h2v1h-2zM25 2h1v1h-1zM31 2h1v1h-1zM51 2h1v1h-1zM6 3h1v1h-1zM14 3h1v1h-1zM43 3h1v1h-1zM47 3h1v1h-1zM49 3h1v1h-1zM25 4h2v1h-2zM34 4h1v1h-1zM42 4h1v1h-1zM53 4h1v1h-1zM3 5h1v1h-1zM5 5h1v1h-1zM14 5h2v1h-2zM31 5h1v1h-1zM35 5h2v1h-2zM13 6h1v1h-1zM26 6h1v1h-1zM36 6h2v1h-2zM41 6h1v1h-1zM14 7h1v1h-1zM44 7h2v1h-2zM3 8h2v1h-2zM10 8h1v1h-1zM19 8h1v1h-1zM28 8h1v1h-1zM35 8h1v1h-1zM49 8h1v1h-1zM15 9h1v1h-1zM43 9h1v1h-1zM8 10h1v1h-1zM19 10h3v1h-3zM25 10h1v1h-1zM27 10h1v1h-1zM30 10h1v1h-1zM37 10h1v1h-1zM39 10h1v1h-1zM43 10h1v1h-1zM1 11h1v1h-1zM9 11h1v1h-1zM13 11h1v1h-1zM35 11h1v1h-1zM39 11h1v1h-1zM44 11h1v1h-1zM50 11h1v1h-1zM8 12h1v1h-1zM13 12h1v1h-1zM21 12h1v1h-1zM38 12h2v1h-2zM41 12h1v1h-1zM50 12h1v1h-1zM12 13h1v1h-1zM19 13h1v1h-1zM35 13h1v1h-1zM50 13h1v1h-1zM0 14h1v1h-1zM14 14h1v1h-1zM16 14h1v1h-1zM39 14h1v1h-1zM48 14h1v1h-1zM0 15h1v1h-1zM6 15h1v1h-1zM8 15h1v1h-1zM11 15h1v1h-1zM14 15h1v1h-1zM33 15h1v1h-1zM51 15h1v1h-1zM5 16h1v1h-1zM54 16h1v1h-1zM10 17h1v1h-1zM22 17h1v1h-1zM24 17h1v1h-1zM28 17h1v1h-1zM35 17h1v1h-1zM40 17h1v1h-1zM44 17h1v1h-1zM47 17h1v1h-1zM13 18h1v1h-1zM21 18h1v1h-1zM28 18h1v1h-1zM31 18h1v1h-1zM33 18h2v1h-2zM44 18h1v1h-1zM50 18h1v1h-1zM11 19h1v1h-1zM14 19h1v1h-1zM25 19h1v1h-1zM50 19h1v1h-1zM15 20h1v1h-1zM26 23h1v1h-1zM54 23h1v1h-1zM9 24h1v1h-1zM7 25h1v1h-1zM51 25h1v1h-1zM53 25h1v1h-1zM9 26h1v1h-1zM17 26h1v1h-1zM28 26h1v1h-1zM5 28h1v1h-1zM27 28h1v1h-1zM29 28h1v1h-1zM8 30h1v1h-1zM11 31h1v1h-1zM32 31h1v1h-1zM0 32h1v1h-1zM10 32h2v1h-2zM18 32h1v1h-1zM27 32h1v1h-1zM39 32h1v1h-1zM9 33h1v1h-1zM29 33h1v1h-1zM44 35h1v1h-1zM53 35h1v1h-1zM26 36h2v1h-2zM38 38h1v1h-1zM26 40h1v1h-1zM39 41h1v1h-1zM2 43h1v1h-1zM37 43h1v1h-1zM43 43h1v1h-1zM8 45h1v1h-1zM27 45h1v1h-1zM5 47h1v1h-1zM24 47h1v1h-1zM52 48h1v1h-1zM18 49h1v1h-1zM31 49h1v1h-1z"/><path fill="#ff7b68" d="M0 0h1v1h-1zM22 0h2v1h-2zM29 0h1v1h-1zM32 0h2v1h-2zM48 0h1v1h-1zM51 0h1v1h-1zM54 0h1v1h-1zM11 1h2v1h-2zM20 1h1v1h-1zM9 2h1v1h-1zM12 2h1v1h-1zM23 2h1v1h-1zM26 2h1v1h-1zM36 2h1v1h-1zM39 2h1v1h-1zM0 3h1v1h-1zM5 3h1v1h-1zM21 3h1v1h-1zM25 3h1v1h-1zM21 4h1v1h-1zM0 5h2v1h-2zM8 5h1v1h-1zM23 5h1v1h-1zM27 5h1v1h-1zM34 5h1v1h-1zM45 5h1v1h-1zM50 5h1v1h-1zM54 5h1v1h-1zM20 6h2v1h-2zM24 6h1v1h-1zM28 6h1v1h-1zM31 6h1v1h-1zM50 6h1v1h-1zM10 7h1v1h-1zM15 7h1v1h-1zM27 7h1v1h-1zM9 8h1v1h-1zM23 8h1v1h-1zM33 8h1v1h-1zM50 8h1v1h-1zM2 9h1v1h-1zM24 9h1v1h-1zM28 9h1v1h-1zM6 10h1v1h-1zM10 10h1v1h-1zM28 10h1v1h-1zM8 11h1v1h-1zM21 11h1v1h-1zM24 11h1v1h-1zM41 11h1v1h-1zM48 11h1v1h-1zM44 12h1v1h-1zM14 13h1v1h-1zM42 13h1v1h-1zM46 13h1v1h-1zM15 14h1v1h-1zM29 14h1v1h-1zM35 14h1v1h-1zM21 15h1v1h-1zM27 15h1v1h-1zM35 15h1v1h-1zM38 15h1v1h-1zM42 15h1v1h-1zM45 15h1v1h-1zM50 15h1v1h-1zM7 16h1v1h-1zM14 16h1v1h-1zM25 16h1v1h-1zM53 16h1v1h-1zM12 17h1v1h-1zM50 17h1v1h-1zM5 18h1v1h-1zM27 18h1v1h-1zM36 18h1v1h-1zM47 18h1v1h-1zM2 19h1v1h-1zM49 19h1v1h-1zM24 20h1v1h-1zM3 24h1v1h-1zM7 24h1v1h-1zM39 24h1v1h-1zM52 24h1v1h-1zM50 25h1v1h-1zM6 26h1v1h-1zM30 26h1v1h-1zM37 26h1v1h-1zM10 27h1v1h-1zM12 27h1v1h-1zM33 27h1v1h-1zM41 27h1v1h-1zM20 29h1v1h-1zM35 29h1v1h-1zM2 30h1v1h-1zM26 30h1v1h-1zM33 30h1v1h-1zM45 31h1v1h-1zM53 31h1v1h-1zM54 32h1v1h-1zM35 35h1v1h-1zM54 35h1v1h-1zM53 38h1v1h-1zM2 40h1v1h-1zM33 40h1v1h-1zM9 43h1v1h-1zM46 43h1v1h-1zM27 44h1v1h-1zM43 44h1v1h-1zM13 45h1v1h-1zM41 45h1v1h-1zM23 46h1v1h-1zM1 47h1v1h-1zM11 47h1v1h-1zM21 48h1v1h-1zM36 48h1v1h-1z"/><path fill="#ff6450" d="M11 0h1v1h-1zM13 1h1v1h-1zM22 1h1v1h-1zM39 1h1v1h-1zM50 1h1v1h-1zM54 1h1v1h-1zM5 2h1v1h-1zM15 2h1v1h-1zM19 2h1v1h-1zM27 2h2v1h-2zM37 2h1v1h-1zM41 2h1v1h-1zM2 3h1v1h-1zM13 3h1v1h-1zM19 3h1v1h-1zM54 3h1v1h-1zM7 5h1v1h-1zM19 5h1v1h-1zM25 5h1v1h-1zM39 5h1v1h-1zM51 5h1v1h-1zM19 6h1v1h-1zM27 6h1v1h-1zM42 6h1v1h-1zM45 6h1v1h-1zM28 7h2v1h-2zM29 8h1v1h-1zM32 8h1v1h-1zM34 8h1v1h-1zM8 9h1v1h-1zM14 9h1v1h-1zM17 9h1v1h-1zM23 9h1v1h-1zM45 10h1v1h-1zM27 11h1v1h-1zM15 12h1v1h-1zM6 13h1v1h-1zM9 13h1v1h-1zM39 13h1v1h-1zM20 14h1v1h-1zM42 14h1v1h-1zM15 15h1v1h-1zM41 16h1v1h-1zM51 18h1v1h-1zM6 19h1v1h-1zM10 19h1v1h-1zM2 24h1v1h-1zM19 26h1v1h-1zM23 26h1v1h-1zM25 27h1v1h-1zM47 30h1v1h-1zM3 32h1v1h-1zM53 33h1v1h-1zM48 35h1v1h-1zM7 37h1v1h-1zM3 40h1v1h-1zM27 42h1v1h-1zM28 45h1v1h-1zM53 46h1v1h-1zM12 47h1v1h-1zM38 47h1v1h-1zM10 48h1v1h-1zM26 48h1v1h-1zM35 49h1v1h-1z"/><path fill="#ff4b37" d="M1 0h1v1h-1zM15 0h1v1h-1zM42 0h1v1h-1zM0 1h1v1h-1zM29 1h1v1h-1zM53 1h1v1h-1zM0 2h1v1h-1zM7 2h1v1h-1zM18 2h1v1h-1zM35 2h1v1h-1zM44 2h2v1h-2zM48 2h1v1h-1zM1 3h1v1h-1zM22 3h2v1h-2zM29 3h1v1h-1zM36 3h1v1h-1zM39 3h1v1h-1zM35 4h1v1h-1zM10 5h1v1h-1zM8 6h1v1h-1zM15 6h1v1h-1zM8 7h1v1h-1zM25 8h1v1h-1zM52 8h1v1h-1zM31 10h1v1h-1zM35 10h1v1h-1zM42 10h1v1h-1zM51 10h1v1h-1zM2 11h1v1h-1zM22 11h1v1h-1zM28 11h1v1h-1zM0 12h1v1h-1zM22 12h1v1h-1zM19 15h1v1h-1zM30 15h1v1h-1zM17 17h1v1h-1zM41 17h1v1h-1zM45 17h1v1h-1zM0 18h1v1h-1zM8 18h1v1h-1zM41 18h2v1h-2zM45 18h1v1h-1zM5 19h1v1h-1zM24 19h1v1h-1zM28 19h1v1h-1zM39 19h1v1h-1zM24 25h1v1h-1z"/><path fill="#ff2f1e" d="M27 0h1v1h-1zM6 1h1v1h-1zM8 1h1v1h-1zM32 1h1v1h-1zM42 2h1v1h-1zM53 2h1v1h-1zM8 3h1v1h-1zM29 4h1v1h-1zM2 5h1v1h-1zM11 5h1v1h-1zM18 5h1v1h-1zM22 5h1v1h-1zM30 6h1v1h-1zM39 8h1v1h-1zM45 8h1v1h-1zM53 9h1v1h-1zM53 11h1v1h-1zM10 12h1v1h-1zM20 13h1v1h-1zM24 15h1v1h-1zM29 23h1v1h-1zM47 23h1v1h-1zM43 41h1v1h-1zM3 47h1v1h-1z"/><path fill="#ff0000" d="M24 1h1v1h-1zM42 1h1v1h-1zM21 2h1v1h-1zM32 4h1v1h-1zM51 4h1v1h-1zM24 5h1v1h-1zM34 6h1v1h-1zM21 8h1v1h-1zM30 8h1v1h-1zM42 8h1v1h-1zM53 8h1v1h-1zM1 10h1v1h-1zM5 11h1v1h-1zM45 13h1v1h-1zM1 16h1v1h-1zM54 17h1v1h-1zM28 22h1v1h-1zM39 23h1v1h-1zM50 23h1v1h-1zM36 24h1v1h-1zM21 29h1v1h-1zM37 32h1v1h-1zM43 32h1v1h-1zM14 33h1v1h-1zM13 35h1v1h-1zM52 36h1v1h-1zM32 37h1v1h-1zM22 42h1v1h-1zM26 42h1v1h-1zM50 44h1v1h-1zM45 46h1v1h-1zM22 48h1v1h-1zM32 49h1v1h-1z"/></svg>
<svg x="469.0" y="15.9" width="60.5" height="318.5" viewBox="0 0 42 50" preserveAspectRatio="none" shape-rendering="crispEdges"><path fill="#0000ff" d="M35 27h1v1h-1zM3 30h1v1h-1zM27 30h1v1h-1zM14 31h1v1h-1zM18 32h1v1h-1zM4 47h1v1h-1zM30 47h1v1h-1z"/><path fill="#3a24ff" d="M13 47h1v1h-1zM13 49h1v1h-1z"/><path fill="#583eff" d="M2 47h1v1h-1zM5 47h1v1h-1zM7 47h2v1h-2zM16 47h2v1h-2zM19 47h1v1h-1zM24 47h1v1h-1zM35 47h1v1h-1zM14 48h1v1h-1z"/><path fill="#7257ff" d="M2 27h1v1h-1zM7 27h1v1h-1zM30 27h1v1h-1zM34 27h1v1h-1zM38 27h1v1h-1zM12 29h1v1h-1zM9 47h1v1h-1zM11 47h1v1h-1zM21 47h1v1h-1zM26 47h1v1h-1zM28 47h2v1h-2zM37 47h1v1h-1z"/><path fill="#896fff" d="M38 4h1v1h-1zM19 5h1v1h-1zM23 9h1v1h-1zM9 27h1v1h-1zM15 27h1v1h-1zM21 27h1v1h-1zM26 27h1v1h-1zM32 27h1v1h-1zM24 29h1v1h-1zM28 30h1v1h-1zM39 30h1v1h-1zM28 32h1v1h-1zM39 39h1v1h-1zM2 41h1v1h-1zM1 42h1v1h-1zM11 42h1v1h-1zM2 43h1v1h-1zM8 43h1v1h-1zM17 43h2v1h-2zM23 43h1v1h-1zM28 43h1v1h-1zM30 43h1v1h-1zM40 43h2v1h-2zM19 45h1v1h-1zM24 45h1v1h-1zM10 47h1v1h-1zM14 47h1v1h-1zM27 47h1v1h-1zM36 47h1v1h-1zM41 47h1v1h-1z"/><path fill="#9e87ff" d="M25 1h1v1h-1zM5 4h1v1h-1zM9 4h1v1h-1zM23 5h1v1h-1zM24 6h1v1h-1zM1 7h1v1h-1zM32 7h1v1h-1zM25 9h1v1h-1zM40 9h1v1h-1zM38 20h1v1h-1zM30 22h1v1h-1zM11 23h1v1h-1zM1 27h1v1h-1zM4 27h1v1h-1zM10 27h2v1h-2zM13 27h1v1h-1zM17 27h2v1h-2zM29 27h1v1h-1zM31 27h1v1h-1zM40 27h1v1h-1zM20 28h1v1h-1zM2 29h1v1h-1zM7 29h1v1h-1zM16 29h3v1h-3zM32 29h1v1h-1zM35 29h1v1h-1zM7 30h1v1h-1zM30 32h1v1h-1zM28 34h1v1h-1zM15 36h1v1h-1zM28 36h1v1h-1zM33 36h1v1h-1zM2 37h1v1h-1zM11 37h1v1h-1zM28 37h1v1h-1zM2 39h1v1h-1zM7 39h1v1h-1zM18 39h2v1h-2zM28 39h1v1h-1zM30 39h1v1h-1zM33 39h1v1h-1zM0 41h1v1h-1zM19 41h1v1h-1zM30 41h1v1h-1zM33 41h1v1h-1zM27 42h1v1h-1zM29 42h2v1h-2zM1 43h1v1h-1zM7 43h1v1h-1zM11 43h2v1h-2zM16 43h1v1h-1zM22 43h1v1h-1zM29 43h1v1h-1zM32 43h1v1h-1zM34 43h3v1h-3zM39 43h1v1h-1zM20 44h1v1h-1zM25 44h1v1h-1zM1 45h1v1h-1zM9 45h1v1h-1zM15 45h1v1h-1zM28 45h1v1h-1zM28 46h1v1h-1zM0 47h1v1h-1zM6 47h1v1h-1zM23 47h1v1h-1zM38 47h1v1h-1zM12 49h1v1h-1zM19 49h1v1h-1zM28 49h1v1h-1z"/><path fill="#b39eff" d="M20 3h1v1h-1zM25 4h1v1h-1zM28 4h1v1h-1zM34 4h1v1h-1zM14 5h1v1h-1zM28 5h1v1h-1zM23 6h1v1h-1zM10 7h1v1h-1zM40 8h1v1h-1zM1 9h1v1h-1zM14 9h1v1h-1zM19 9h1v1h-1zM27 9h1v1h-1zM29 9h1v1h-1zM32 9h3v1h-3zM36 9h1v1h-1zM18 20h2v1h-2zM30 20h1v1h-1zM35 20h1v1h-1zM20 21h1v1h-1zM39 21h1v1h-1zM2 22h1v1h-1zM5 22h1v1h-1zM7 22h1v1h-1zM11 22h1v1h-1zM17 22h1v1h-1zM19 22h2v1h-2zM23 22h1v1h-1zM19 24h1v1h-1zM5 27h2v1h-2zM8 27h1v1h-1zM14 27h1v1h-1zM16 27h1v1h-1zM19 27h1v1h-1zM23 27h1v1h-1zM28 27h1v1h-1zM33 27h1v1h-1zM1 29h1v1h-1zM3 29h1v1h-1zM14 29h1v1h-1zM19 29h1v1h-1zM22 29h1v1h-1zM28 29h1v1h-1zM36 29h3v1h-3zM40 29h1v1h-1zM1 30h1v1h-1zM11 30h2v1h-2zM19 30h1v1h-1zM21 30h1v1h-1zM29 30h2v1h-2zM15 31h1v1h-1zM17 31h1v1h-1zM28 31h1v1h-1zM30 31h2v1h-2zM0 32h3v1h-3zM11 32h1v1h-1zM14 32h1v1h-1zM17 32h1v1h-1zM25 32h1v1h-1zM37 32h1v1h-1zM5 33h1v1h-1zM24 33h1v1h-1zM1 34h1v1h-1zM7 34h1v1h-1zM18 34h2v1h-2zM21 34h1v1h-1zM24 34h1v1h-1zM30 34h1v1h-1zM11 35h1v1h-1zM28 35h1v1h-1zM3 36h1v1h-1zM5 36h1v1h-1zM11 36h1v1h-1zM19 36h1v1h-1zM24 36h1v1h-1zM29 36h1v1h-1zM36 36h1v1h-1zM39 36h1v1h-1zM3 37h1v1h-1zM6 37h1v1h-1zM17 37h2v1h-2zM20 37h1v1h-1zM24 37h1v1h-1zM29 37h1v1h-1zM31 37h1v1h-1zM36 37h1v1h-1zM40 37h1v1h-1zM17 38h1v1h-1zM0 39h1v1h-1zM4 39h1v1h-1zM11 39h2v1h-2zM15 39h1v1h-1zM17 39h1v1h-1zM20 39h1v1h-1zM24 39h2v1h-2zM32 39h1v1h-1zM40 39h1v1h-1zM0 40h2v1h-2zM12 40h1v1h-1zM16 40h2v1h-2zM31 40h1v1h-1zM5 41h1v1h-1zM10 41h3v1h-3zM16 41h1v1h-1zM20 41h1v1h-1zM22 41h1v1h-1zM24 41h2v1h-2zM28 41h1v1h-1zM32 41h1v1h-1zM37 41h1v1h-1zM2 42h2v1h-2zM5 42h1v1h-1zM7 42h3v1h-3zM12 42h2v1h-2zM17 42h2v1h-2zM20 42h1v1h-1zM28 42h1v1h-1zM32 42h2v1h-2zM39 42h1v1h-1zM0 43h1v1h-1zM3 43h1v1h-1zM5 43h1v1h-1zM9 43h2v1h-2zM13 43h3v1h-3zM19 43h2v1h-2zM24 43h1v1h-1zM26 43h2v1h-2zM37 43h1v1h-1zM3 44h1v1h-1zM7 44h2v1h-2zM11 44h1v1h-1zM18 44h1v1h-1zM23 44h1v1h-1zM26 44h1v1h-1zM29 44h1v1h-1zM32 44h1v1h-1zM2 45h1v1h-1zM6 45h1v1h-1zM11 45h2v1h-2zM17 45h1v1h-1zM25 45h1v1h-1zM36 45h1v1h-1zM40 45h1v1h-1zM5 46h1v1h-1zM8 46h1v1h-1zM11 46h1v1h-1zM17 46h1v1h-1zM19 46h1v1h-1zM21 46h1v1h-1zM24 46h1v1h-1zM30 46h1v1h-1zM32 46h1v1h-1zM38 46h1v1h-1zM2 48h1v1h-1zM12 48h1v1h-1zM18 48h1v1h-1zM24 48h2v1h-2zM27 48h1v1h-1zM31 48h1v1h-1zM5 49h1v1h-1zM18 49h1v1h-1zM24 49h1v1h-1zM30 49h1v1h-1zM32 49h1v1h-1z"/><path fill="#c7b6ff" d="M20 0h1v1h-1zM24 1h1v1h-1zM29 1h1v1h-1zM34 2h1v1h-1zM36 3h1v1h-1zM6 4h2v1h-2zM21 4h1v1h-1zM40 5h1v1h-1zM20 6h1v1h-1zM7 8h1v1h-1zM9 8h1v1h-1zM17 8h1v1h-1zM23 8h1v1h-1zM2 9h1v1h-1zM6 9h1v1h-1zM9 9h1v1h-1zM13 9h1v1h-1zM24 9h1v1h-1zM31 9h1v1h-1zM37 9h1v1h-1zM39 9h1v1h-1zM41 9h1v1h-1zM17 10h1v1h-1zM1 20h5v1h-5zM8 20h1v1h-1zM12 20h1v1h-1zM21 20h3v1h-3zM33 20h1v1h-1zM37 20h1v1h-1zM40 20h1v1h-1zM1 21h1v1h-1zM6 21h2v1h-2zM11 21h2v1h-2zM17 21h3v1h-3zM23 21h2v1h-2zM33 21h1v1h-1zM36 21h1v1h-1zM38 21h1v1h-1zM1 22h1v1h-1zM6 22h1v1h-1zM15 22h1v1h-1zM18 22h1v1h-1zM21 22h1v1h-1zM27 22h2v1h-2zM32 22h2v1h-2zM36 22h1v1h-1zM38 22h1v1h-1zM0 23h1v1h-1zM5 23h1v1h-1zM9 23h1v1h-1zM17 23h1v1h-1zM20 23h1v1h-1zM28 23h1v1h-1zM2 24h1v1h-1zM5 24h1v1h-1zM17 24h2v1h-2zM20 24h1v1h-1zM33 24h1v1h-1zM37 24h2v1h-2zM7 25h1v1h-1zM30 25h1v1h-1zM2 26h1v1h-1zM11 26h1v1h-1zM17 26h1v1h-1zM19 26h1v1h-1zM23 26h1v1h-1zM12 27h1v1h-1zM39 27h1v1h-1zM41 27h1v1h-1zM2 28h1v1h-1zM29 28h2v1h-2zM0 29h1v1h-1zM11 29h1v1h-1zM15 29h1v1h-1zM20 29h1v1h-1zM23 29h1v1h-1zM26 29h2v1h-2zM31 29h1v1h-1zM34 29h1v1h-1zM13 30h1v1h-1zM16 30h1v1h-1zM37 30h1v1h-1zM7 31h1v1h-1zM18 31h1v1h-1zM26 31h1v1h-1zM39 31h1v1h-1zM3 32h2v1h-2zM20 32h1v1h-1zM26 32h1v1h-1zM29 32h1v1h-1zM15 33h1v1h-1zM17 33h1v1h-1zM20 33h1v1h-1zM32 33h1v1h-1zM0 34h1v1h-1zM2 34h1v1h-1zM4 34h2v1h-2zM8 34h1v1h-1zM11 34h2v1h-2zM15 34h1v1h-1zM25 34h1v1h-1zM27 34h1v1h-1zM29 34h1v1h-1zM32 34h1v1h-1zM37 34h2v1h-2zM40 34h1v1h-1zM29 35h2v1h-2zM0 36h1v1h-1zM10 36h1v1h-1zM12 36h1v1h-1zM14 36h1v1h-1zM17 36h1v1h-1zM20 36h2v1h-2zM23 36h1v1h-1zM27 36h1v1h-1zM35 36h1v1h-1zM38 36h1v1h-1zM40 36h1v1h-1zM12 37h1v1h-1zM16 37h1v1h-1zM25 37h2v1h-2zM30 37h1v1h-1zM33 37h2v1h-2zM39 37h1v1h-1zM12 38h1v1h-1zM30 38h2v1h-2zM1 39h1v1h-1zM3 39h1v1h-1zM5 39h1v1h-1zM8 39h3v1h-3zM13 39h2v1h-2zM21 39h1v1h-1zM27 39h1v1h-1zM31 39h1v1h-1zM38 39h1v1h-1zM2 40h1v1h-1zM37 40h2v1h-2zM3 41h2v1h-2zM8 41h1v1h-1zM13 41h2v1h-2zM17 41h2v1h-2zM26 41h2v1h-2zM34 41h3v1h-3zM38 41h1v1h-1zM40 41h1v1h-1zM0 42h1v1h-1zM4 42h1v1h-1zM6 42h1v1h-1zM10 42h1v1h-1zM14 42h2v1h-2zM19 42h1v1h-1zM24 42h2v1h-2zM34 42h2v1h-2zM37 42h2v1h-2zM40 42h1v1h-1zM4 43h1v1h-1zM25 43h1v1h-1zM0 44h2v1h-2zM4 44h1v1h-1zM6 44h1v1h-1zM9 44h1v1h-1zM12 44h1v1h-1zM14 44h1v1h-1zM17 44h1v1h-1zM19 44h1v1h-1zM24 44h1v1h-1zM35 44h1v1h-1zM37 44h1v1h-1zM39 44h2v1h-2zM3 45h3v1h-3zM7 45h2v1h-2zM10 45h1v1h-1zM13 45h2v1h-2zM18 45h1v1h-1zM20 45h3v1h-3zM26 45h2v1h-2zM31 45h2v1h-2zM1 46h1v1h-1zM3 46h1v1h-1zM7 46h1v1h-1zM10 46h1v1h-1zM14 46h1v1h-1zM18 46h1v1h-1zM20 46h1v1h-1zM22 46h2v1h-2zM26 46h2v1h-2zM33 46h1v1h-1zM36 46h1v1h-1zM0 48h2v1h-2zM5 48h1v1h-1zM7 48h1v1h-1zM11 48h1v1h-1zM16 48h2v1h-2zM28 48h1v1h-1zM32 48h1v1h-1zM34 48h1v1h-1zM36 48h2v1h-2zM39 48h1v1h-1zM2 49h1v1h-1zM9 49h1v1h-1zM11 49h1v1h-1zM20 49h1v1h-1z"/><path fill="#daceff" d="M28 1h1v1h-1zM7 2h1v1h-1zM18 2h1v1h-1zM30 2h1v1h-1zM6 3h1v1h-1zM0 4h2v1h-2zM11 4h1v1h-1zM32 4h1v1h-1zM3 5h1v1h-1zM15 5h1v1h-1zM22 5h1v1h-1zM27 5h1v1h-1zM29 5h1v1h-1zM33 5h1v1h-1zM3 6h1v1h-1zM8 6h1v1h-1zM41 6h1v1h-1zM11 7h1v1h-1zM29 7h2v1h-2zM39 7h1v1h-1zM4 8h1v1h-1zM11 8h1v1h-1zM20 8h1v1h-1zM0 9h1v1h-1zM5 9h1v1h-1zM12 9h1v1h-1zM15 9h1v1h-1zM21 9h2v1h-2zM38 9h1v1h-1zM0 20h1v1h-1zM7 20h1v1h-1zM10 20h1v1h-1zM15 20h3v1h-3zM24 20h1v1h-1zM27 20h2v1h-2zM32 20h1v1h-1zM34 20h1v1h-1zM36 20h1v1h-1zM39 20h1v1h-1zM41 20h1v1h-1zM5 21h1v1h-1zM14 21h2v1h-2zM21 21h2v1h-2zM25 21h1v1h-1zM27 21h4v1h-4zM32 21h1v1h-1zM3 22h1v1h-1zM8 22h1v1h-1zM12 22h1v1h-1zM16 22h1v1h-1zM22 22h1v1h-1zM24 22h1v1h-1zM26 22h1v1h-1zM29 22h1v1h-1zM35 22h1v1h-1zM39 22h1v1h-1zM1 23h3v1h-3zM8 23h1v1h-1zM10 23h1v1h-1zM18 23h2v1h-2zM23 23h1v1h-1zM27 23h1v1h-1zM30 23h1v1h-1zM36 23h1v1h-1zM1 24h1v1h-1zM9 24h3v1h-3zM15 24h1v1h-1zM22 24h3v1h-3zM26 24h1v1h-1zM30 24h2v1h-2zM35 24h1v1h-1zM39 24h1v1h-1zM24 25h1v1h-1zM29 25h1v1h-1zM33 25h1v1h-1zM8 26h1v1h-1zM20 26h1v1h-1zM24 26h1v1h-1zM29 26h2v1h-2zM22 27h1v1h-1zM1 28h1v1h-1zM8 28h2v1h-2zM11 28h1v1h-1zM14 28h1v1h-1zM18 28h2v1h-2zM21 28h2v1h-2zM32 28h2v1h-2zM4 29h3v1h-3zM9 29h2v1h-2zM13 29h1v1h-1zM39 29h1v1h-1zM0 30h1v1h-1zM2 30h1v1h-1zM5 30h1v1h-1zM14 30h1v1h-1zM18 30h1v1h-1zM24 30h1v1h-1zM32 30h1v1h-1zM34 30h1v1h-1zM38 30h1v1h-1zM1 31h1v1h-1zM3 31h1v1h-1zM5 31h1v1h-1zM9 31h1v1h-1zM12 31h1v1h-1zM21 31h4v1h-4zM27 31h1v1h-1zM29 31h1v1h-1zM37 31h1v1h-1zM5 32h3v1h-3zM13 32h1v1h-1zM22 32h2v1h-2zM27 32h1v1h-1zM35 32h2v1h-2zM38 32h1v1h-1zM40 32h1v1h-1zM8 33h1v1h-1zM19 33h1v1h-1zM30 33h1v1h-1zM36 33h1v1h-1zM3 34h1v1h-1zM6 34h1v1h-1zM9 34h1v1h-1zM13 34h1v1h-1zM16 34h2v1h-2zM20 34h1v1h-1zM22 34h2v1h-2zM31 34h1v1h-1zM33 34h1v1h-1zM36 34h1v1h-1zM6 35h2v1h-2zM9 35h1v1h-1zM17 35h2v1h-2zM20 35h2v1h-2zM32 35h1v1h-1zM36 35h1v1h-1zM38 35h1v1h-1zM1 36h2v1h-2zM4 36h1v1h-1zM8 36h2v1h-2zM18 36h1v1h-1zM22 36h1v1h-1zM25 36h1v1h-1zM37 36h1v1h-1zM4 37h1v1h-1zM7 37h3v1h-3zM14 37h1v1h-1zM22 37h2v1h-2zM27 37h1v1h-1zM32 37h1v1h-1zM41 37h1v1h-1zM3 38h1v1h-1zM6 38h1v1h-1zM9 38h1v1h-1zM13 38h1v1h-1zM16 38h1v1h-1zM19 38h1v1h-1zM23 38h1v1h-1zM28 38h2v1h-2zM6 39h1v1h-1zM16 39h1v1h-1zM22 39h1v1h-1zM26 39h1v1h-1zM34 39h2v1h-2zM37 39h1v1h-1zM41 39h1v1h-1zM4 40h1v1h-1zM6 40h1v1h-1zM8 40h2v1h-2zM14 40h2v1h-2zM20 40h2v1h-2zM24 40h1v1h-1zM26 40h1v1h-1zM28 40h1v1h-1zM30 40h1v1h-1zM32 40h2v1h-2zM36 40h1v1h-1zM40 40h2v1h-2zM1 41h1v1h-1zM9 41h1v1h-1zM21 41h1v1h-1zM23 41h1v1h-1zM29 41h1v1h-1zM41 41h1v1h-1zM16 42h1v1h-1zM21 42h3v1h-3zM38 43h1v1h-1zM10 44h1v1h-1zM15 44h2v1h-2zM22 44h1v1h-1zM27 44h1v1h-1zM30 44h2v1h-2zM34 44h1v1h-1zM36 44h1v1h-1zM38 44h1v1h-1zM41 44h1v1h-1zM0 45h1v1h-1zM29 45h1v1h-1zM33 45h1v1h-1zM38 45h1v1h-1zM2 46h1v1h-1zM4 46h1v1h-1zM6 46h1v1h-1zM16 46h1v1h-1zM25 46h1v1h-1zM31 46h1v1h-1zM35 46h1v1h-1zM37 46h1v1h-1zM39 46h1v1h-1zM3 48h1v1h-1zM10 48h1v1h-1zM35 48h1v1h-1zM0 49h2v1h-2zM17 49h1v1h-1zM21 49h2v1h-2zM26 49h1v1h-1zM34 49h3v1h-3zM40 49h2v1h-2z"/><path fill="#ede7ff" d="M8 0h1v1h-1zM24 0h1v1h-1zM27 0h1v1h-1zM15 1h1v1h-1zM32 1h1v1h-1zM36 2h1v1h-1zM1 3h1v1h-1zM11 3h2v1h-2zM17 3h1v1h-1zM28 3h1v1h-1zM33 3h1v1h-1zM12 4h1v1h-1zM23 4h1v1h-1zM35 4h1v1h-1zM37 4h1v1h-1zM12 5h1v1h-1zM4 6h1v1h-1zM10 6h1v1h-1zM22 7h2v1h-2zM36 7h2v1h-2zM15 8h1v1h-1zM21 8h1v1h-1zM25 8h1v1h-1zM27 8h1v1h-1zM3 9h2v1h-2zM16 9h1v1h-1zM26 9h1v1h-1zM20 12h1v1h-1zM28 14h1v1h-1zM39 16h1v1h-1zM11 18h1v1h-1zM6 20h1v1h-1zM13 20h2v1h-2zM25 20h2v1h-2zM31 20h1v1h-1zM0 21h1v1h-1zM2 21h3v1h-3zM8 21h1v1h-1zM10 21h1v1h-1zM13 21h1v1h-1zM16 21h1v1h-1zM26 21h1v1h-1zM31 21h1v1h-1zM35 21h1v1h-1zM37 21h1v1h-1zM40 21h1v1h-1zM13 22h2v1h-2zM34 22h1v1h-1zM37 22h1v1h-1zM40 22h2v1h-2zM4 23h1v1h-1zM6 23h2v1h-2zM13 23h4v1h-4zM22 23h1v1h-1zM25 23h1v1h-1zM29 23h1v1h-1zM32 23h1v1h-1zM35 23h1v1h-1zM37 23h2v1h-2zM4 24h1v1h-1zM6 24h3v1h-3zM12 24h1v1h-1zM14 24h1v1h-1zM16 24h1v1h-1zM25 24h1v1h-1zM32 24h1v1h-1zM34 24h1v1h-1zM36 24h1v1h-1zM1 25h1v1h-1zM4 25h1v1h-1zM6 25h1v1h-1zM10 25h1v1h-1zM15 25h1v1h-1zM18 25h1v1h-1zM25 25h1v1h-1zM27 25h1v1h-1zM31 25h2v1h-2zM34 25h2v1h-2zM38 25h1v1h-1zM41 25h1v1h-1zM0 26h2v1h-2zM5 26h3v1h-3zM9 26h2v1h-2zM15 26h2v1h-2zM18 26h1v1h-1zM25 26h1v1h-1zM27 26h1v1h-1zM33 26h1v1h-1zM35 26h1v1h-1zM37 26h3v1h-3zM0 28h1v1h-1zM4 28h1v1h-1zM7 28h1v1h-1zM16 28h2v1h-2zM24 28h1v1h-1zM27 28h2v1h-2zM34 28h1v1h-1zM38 28h1v1h-1zM41 29h1v1h-1zM6 30h1v1h-1zM8 30h3v1h-3zM15 30h1v1h-1zM23 30h1v1h-1zM33 30h1v1h-1zM40 30h1v1h-1zM0 31h1v1h-1zM10 31h1v1h-1zM16 31h1v1h-1zM19 31h1v1h-1zM25 31h1v1h-1zM35 31h2v1h-2zM40 31h2v1h-2zM10 32h1v1h-1zM19 32h1v1h-1zM31 32h2v1h-2zM39 32h1v1h-1zM1 33h1v1h-1zM6 33h1v1h-1zM9 33h1v1h-1zM12 33h1v1h-1zM16 33h1v1h-1zM21 33h2v1h-2zM29 33h1v1h-1zM34 33h1v1h-1zM14 34h1v1h-1zM26 34h1v1h-1zM34 34h1v1h-1zM41 34h1v1h-1zM1 35h1v1h-1zM3 35h1v1h-1zM5 35h1v1h-1zM12 35h1v1h-1zM19 35h1v1h-1zM22 35h1v1h-1zM25 35h1v1h-1zM27 35h1v1h-1zM31 35h1v1h-1zM41 35h1v1h-1zM6 36h1v1h-1zM13 36h1v1h-1zM30 36h1v1h-1zM32 36h1v1h-1zM34 36h1v1h-1zM41 36h1v1h-1zM10 37h1v1h-1zM13 37h1v1h-1zM15 37h1v1h-1zM35 37h1v1h-1zM38 37h1v1h-1zM2 38h1v1h-1zM5 38h1v1h-1zM7 38h1v1h-1zM11 38h1v1h-1zM14 38h2v1h-2zM20 38h2v1h-2zM24 38h1v1h-1zM26 38h2v1h-2zM33 38h1v1h-1zM36 38h1v1h-1zM38 38h1v1h-1zM41 38h1v1h-1zM36 39h1v1h-1zM3 40h1v1h-1zM7 40h1v1h-1zM11 40h1v1h-1zM22 40h2v1h-2zM27 40h1v1h-1zM29 40h1v1h-1zM39 40h1v1h-1zM41 42h1v1h-1zM2 44h1v1h-1zM33 44h1v1h-1zM41 45h1v1h-1zM12 46h2v1h-2zM34 46h1v1h-1zM41 46h1v1h-1zM8 48h1v1h-1zM13 48h1v1h-1zM21 48h3v1h-3zM26 48h1v1h-1zM29 48h1v1h-1zM38 48h1v1h-1zM4 49h1v1h-1zM6 49h2v1h-2zM10 49h1v1h-1zM15 49h1v1h-1zM23 49h1v1h-1zM25 49h1v1h-1zM29 49h1v1h-1zM31 49h1v1h-1z"/><path fill="#ffffff" d="M1 0h1v1h-1zM5 0h1v1h-1zM17 0h1v1h-1zM19 0h1v1h-1zM40 0h1v1h-1zM6 1h1v1h-1zM12 1h1v1h-1zM20 1h1v1h-1zM27 1h1v1h-1zM30 1h1v1h-1zM2 2h1v1h-1zM13 2h2v1h-2zM27 2h1v1h-1zM15 3h1v1h-1zM30 3h1v1h-1zM32 3h1v1h-1zM40 3h1v1h-1zM3 4h2v1h-2zM8 4h1v1h-1zM13 4h1v1h-1zM16 4h1v1h-1zM20 4h1v1h-1zM26 4h1v1h-1zM41 4h1v1h-1zM20 5h1v1h-1zM39 5h1v1h-1zM1 6h1v1h-1zM11 6h1v1h-1zM25 6h1v1h-1zM32 6h1v1h-1zM3 7h1v1h-1zM5 7h1v1h-1zM9 7h1v1h-1zM16 7h1v1h-1zM19 7h2v1h-2zM27 7h1v1h-1zM38 7h1v1h-1zM14 8h1v1h-1zM19 8h1v1h-1zM39 8h1v1h-1zM35 9h1v1h-1zM2 10h1v1h-1zM14 10h1v1h-1zM25 10h1v1h-1zM30 10h2v1h-2zM39 13h1v1h-1zM20 17h1v1h-1zM6 18h1v1h-1zM9 21h1v1h-1zM34 21h1v1h-1zM41 21h1v1h-1zM25 22h1v1h-1zM21 23h1v1h-1zM24 23h1v1h-1zM26 23h1v1h-1zM41 23h1v1h-1zM27 24h1v1h-1zM41 24h1v1h-1zM0 25h1v1h-1zM2 25h2v1h-2zM5 25h1v1h-1zM14 25h1v1h-1zM17 25h1v1h-1zM22 25h1v1h-1zM28 25h1v1h-1zM37 25h1v1h-1zM39 25h1v1h-1zM12 26h1v1h-1zM14 26h1v1h-1zM21 26h2v1h-2zM28 26h1v1h-1zM5 28h2v1h-2zM12 28h2v1h-2zM15 28h1v1h-1zM23 28h1v1h-1zM35 28h3v1h-3zM39 28h1v1h-1zM41 28h1v1h-1zM25 30h1v1h-1zM35 30h2v1h-2zM2 31h1v1h-1zM6 31h1v1h-1zM13 31h1v1h-1zM12 32h1v1h-1zM15 32h1v1h-1zM34 32h1v1h-1zM7 33h1v1h-1zM25 33h1v1h-1zM27 33h1v1h-1zM37 33h2v1h-2zM0 35h1v1h-1zM2 35h1v1h-1zM4 35h1v1h-1zM14 35h1v1h-1zM24 35h1v1h-1zM33 35h3v1h-3zM37 35h1v1h-1zM39 35h2v1h-2zM1 38h1v1h-1zM8 38h1v1h-1zM10 38h1v1h-1zM22 38h1v1h-1zM37 38h1v1h-1zM34 40h2v1h-2z"/><path fill="#ffe9e5" d="M0 0h1v1h-1zM7 0h1v1h-1zM21 0h1v1h-1zM28 0h1v1h-1zM30 0h1v1h-1zM32 0h1v1h-1zM36 0h1v1h-1zM5 1h1v1h-1zM11 1h1v1h-1zM37 1h1v1h-1zM39 1h1v1h-1zM10 2h1v1h-1zM19 2h1v1h-1zM21 2h1v1h-1zM38 2h3v1h-3zM2 3h1v1h-1zM4 3h1v1h-1zM8 3h1v1h-1zM37 3h1v1h-1zM24 4h1v1h-1zM29 4h1v1h-1zM31 4h1v1h-1zM39 4h1v1h-1zM8 5h1v1h-1zM10 5h1v1h-1zM17 5h2v1h-2zM24 5h2v1h-2zM30 5h1v1h-1zM2 6h1v1h-1zM7 6h1v1h-1zM9 6h1v1h-1zM31 6h1v1h-1zM37 6h1v1h-1zM2 7h1v1h-1zM6 7h1v1h-1zM13 7h1v1h-1zM15 7h1v1h-1zM26 7h1v1h-1zM28 7h1v1h-1zM31 7h1v1h-1zM41 7h1v1h-1zM0 8h3v1h-3zM6 8h1v1h-1zM8 8h1v1h-1zM26 8h1v1h-1zM32 8h1v1h-1zM7 9h1v1h-1zM6 10h1v1h-1zM38 10h1v1h-1zM41 10h1v1h-1zM24 11h1v1h-1zM30 11h1v1h-1zM5 12h1v1h-1zM9 12h1v1h-1zM9 13h1v1h-1zM25 15h1v1h-1zM19 16h1v1h-1zM5 17h1v1h-1zM30 17h1v1h-1zM10 22h1v1h-1zM13 25h1v1h-1zM16 25h1v1h-1zM21 25h1v1h-1zM26 25h1v1h-1zM32 26h1v1h-1zM40 26h1v1h-1zM20 27h1v1h-1zM25 27h1v1h-1zM36 27h1v1h-1zM31 28h1v1h-1zM40 28h1v1h-1zM25 29h1v1h-1zM41 30h1v1h-1zM20 31h1v1h-1zM34 31h1v1h-1zM9 32h1v1h-1zM0 33h1v1h-1zM3 33h1v1h-1zM10 33h1v1h-1zM26 33h1v1h-1zM28 33h1v1h-1zM33 33h1v1h-1zM8 35h1v1h-1zM13 35h1v1h-1zM15 35h1v1h-1zM16 36h1v1h-1zM0 38h1v1h-1zM4 38h1v1h-1zM32 38h1v1h-1zM5 44h1v1h-1zM34 45h1v1h-1zM15 47h1v1h-1zM3 49h1v1h-1zM33 49h1v1h-1z"/><path fill="#ffd4cc" d="M2 0h1v1h-1zM6 0h1v1h-1zM9 0h2v1h-2zM13 0h1v1h-1zM15 0h2v1h-2zM25 0h2v1h-2zM29 0h1v1h-1zM35 0h1v1h-1zM39 0h1v1h-1zM7 1h2v1h-2zM17 1h3v1h-3zM21 1h1v1h-1zM31 1h1v1h-1zM5 2h1v1h-1zM23 2h1v1h-1zM0 3h1v1h-1zM10 3h1v1h-1zM16 3h1v1h-1zM19 3h1v1h-1zM23 3h1v1h-1zM25 3h1v1h-1zM31 3h1v1h-1zM27 4h1v1h-1zM36 4h1v1h-1zM4 5h1v1h-1zM9 5h1v1h-1zM26 5h1v1h-1zM31 5h1v1h-1zM35 5h2v1h-2zM38 5h1v1h-1zM14 6h1v1h-1zM16 6h4v1h-4zM28 6h1v1h-1zM30 6h1v1h-1zM4 7h1v1h-1zM7 7h2v1h-2zM16 8h1v1h-1zM38 8h1v1h-1zM10 9h1v1h-1zM17 9h1v1h-1zM0 10h1v1h-1zM7 10h1v1h-1zM11 10h2v1h-2zM16 10h1v1h-1zM29 10h1v1h-1zM2 11h1v1h-1zM27 11h1v1h-1zM6 12h1v1h-1zM8 12h1v1h-1zM24 12h1v1h-1zM37 12h1v1h-1zM15 13h1v1h-1zM18 13h2v1h-2zM32 13h1v1h-1zM17 14h1v1h-1zM30 14h1v1h-1zM32 14h1v1h-1zM17 15h1v1h-1zM19 15h1v1h-1zM2 16h1v1h-1zM11 16h1v1h-1zM30 16h1v1h-1zM1 17h1v1h-1zM28 17h1v1h-1zM36 17h1v1h-1zM10 18h1v1h-1zM12 18h1v1h-1zM14 18h1v1h-1zM17 18h1v1h-1zM2 19h1v1h-1zM23 19h1v1h-1zM32 19h1v1h-1zM33 23h1v1h-1zM9 25h1v1h-1zM36 25h1v1h-1zM13 26h1v1h-1zM26 26h1v1h-1zM10 28h1v1h-1zM30 29h1v1h-1zM24 32h1v1h-1zM41 32h1v1h-1zM4 33h1v1h-1zM16 35h1v1h-1zM26 36h1v1h-1zM37 37h1v1h-1zM39 38h1v1h-1zM10 40h1v1h-1zM19 40h1v1h-1zM15 41h1v1h-1zM26 42h1v1h-1zM21 43h1v1h-1zM13 44h1v1h-1zM0 46h1v1h-1zM3 47h1v1h-1zM6 48h1v1h-1zM39 49h1v1h-1z"/><path fill="#ffbeb2" d="M11 0h2v1h-2zM14 0h1v1h-1zM4 1h1v1h-1zM0 2h1v1h-1zM12 2h1v1h-1zM16 2h1v1h-1zM24 2h1v1h-1zM28 2h1v1h-1zM31 2h1v1h-1zM35 2h1v1h-1zM7 3h1v1h-1zM21 3h1v1h-1zM24 3h1v1h-1zM26 3h2v1h-2zM29 3h1v1h-1zM14 4h1v1h-1zM19 4h1v1h-1zM22 4h1v1h-1zM30 4h1v1h-1zM40 4h1v1h-1zM1 5h1v1h-1zM11 5h1v1h-1zM32 5h1v1h-1zM5 6h1v1h-1zM27 6h1v1h-1zM29 6h1v1h-1zM33 6h1v1h-1zM39 6h1v1h-1zM12 7h1v1h-1zM14 7h1v1h-1zM33 7h1v1h-1zM5 8h1v1h-1zM18 8h1v1h-1zM29 8h3v1h-3zM36 8h1v1h-1zM18 9h1v1h-1zM28 9h1v1h-1zM1 10h1v1h-1zM3 10h2v1h-2zM27 10h1v1h-1zM32 10h1v1h-1zM40 10h1v1h-1zM13 11h1v1h-1zM17 11h1v1h-1zM19 11h2v1h-2zM37 11h1v1h-1zM41 11h1v1h-1zM11 12h1v1h-1zM16 12h1v1h-1zM29 12h2v1h-2zM41 12h1v1h-1zM0 13h2v1h-2zM11 13h2v1h-2zM17 13h1v1h-1zM20 13h1v1h-1zM36 13h1v1h-1zM15 14h1v1h-1zM24 14h1v1h-1zM27 14h1v1h-1zM31 14h1v1h-1zM2 15h2v1h-2zM5 15h1v1h-1zM24 15h1v1h-1zM28 15h1v1h-1zM30 15h1v1h-1zM33 15h1v1h-1zM8 16h1v1h-1zM16 16h1v1h-1zM36 16h1v1h-1zM40 16h1v1h-1zM7 17h1v1h-1zM19 17h1v1h-1zM40 17h1v1h-1zM7 18h1v1h-1zM19 18h1v1h-1zM21 18h1v1h-1zM25 18h1v1h-1zM27 18h1v1h-1zM34 18h1v1h-1zM39 18h1v1h-1zM5 19h1v1h-1zM10 19h1v1h-1zM14 19h1v1h-1zM16 19h1v1h-1zM18 19h1v1h-1zM33 19h1v1h-1zM35 19h1v1h-1zM38 19h1v1h-1zM9 20h1v1h-1zM20 20h1v1h-1zM9 22h1v1h-1zM12 23h1v1h-1zM13 24h1v1h-1zM21 24h1v1h-1zM40 24h1v1h-1zM11 25h1v1h-1zM40 25h1v1h-1zM31 26h1v1h-1zM37 27h1v1h-1zM33 29h1v1h-1zM16 32h1v1h-1zM10 34h1v1h-1zM23 35h1v1h-1zM1 37h1v1h-1zM34 38h2v1h-2zM29 39h1v1h-1zM6 41h1v1h-1zM6 43h1v1h-1zM35 45h1v1h-1zM1 47h1v1h-1zM18 47h1v1h-1zM32 47h1v1h-1zM15 48h1v1h-1zM19 48h1v1h-1zM33 48h1v1h-1zM40 48h1v1h-1z"/><path fill="#ffa899" d="M18 0h1v1h-1zM33 0h1v1h-1zM38 0h1v1h-1zM0 1h1v1h-1zM3 1h1v1h-1zM9 1h1v1h-1zM16 1h1v1h-1zM26 1h1v1h-1zM33 1h1v1h-1zM38 1h1v1h-1zM1 2h1v1h-1zM6 2h1v1h-1zM20 2h1v1h-1zM25 2h1v1h-1zM37 2h1v1h-1zM3 3h1v1h-1zM14 3h1v1h-1zM34 3h1v1h-1zM39 3h1v1h-1zM17 4h2v1h-2zM2 5h1v1h-1zM13 5h1v1h-1zM41 5h1v1h-1zM21 6h1v1h-1zM36 6h1v1h-1zM17 7h1v1h-1zM21 7h1v1h-1zM24 7h2v1h-2zM12 8h1v1h-1zM22 8h1v1h-1zM28 8h1v1h-1zM35 8h1v1h-1zM37 8h1v1h-1zM11 9h1v1h-1zM20 9h1v1h-1zM20 10h1v1h-1zM33 10h1v1h-1zM35 10h1v1h-1zM0 11h2v1h-2zM4 11h1v1h-1zM6 11h1v1h-1zM14 11h1v1h-1zM21 11h1v1h-1zM28 11h2v1h-2zM32 11h1v1h-1zM1 12h1v1h-1zM14 12h2v1h-2zM17 12h1v1h-1zM23 12h1v1h-1zM31 12h1v1h-1zM34 12h1v1h-1zM7 13h1v1h-1zM10 13h1v1h-1zM24 13h1v1h-1zM31 13h1v1h-1zM34 13h1v1h-1zM2 14h1v1h-1zM4 14h1v1h-1zM12 14h1v1h-1zM14 14h1v1h-1zM38 14h1v1h-1zM6 15h3v1h-3zM11 15h1v1h-1zM18 15h1v1h-1zM27 15h1v1h-1zM1 16h1v1h-1zM7 16h1v1h-1zM9 16h1v1h-1zM12 16h1v1h-1zM15 16h1v1h-1zM24 16h2v1h-2zM2 17h1v1h-1zM10 17h1v1h-1zM15 17h2v1h-2zM18 17h1v1h-1zM26 17h1v1h-1zM29 17h1v1h-1zM32 17h1v1h-1zM38 17h1v1h-1zM1 18h2v1h-2zM13 18h1v1h-1zM15 18h1v1h-1zM18 18h1v1h-1zM33 18h1v1h-1zM38 18h1v1h-1zM41 18h1v1h-1zM4 19h1v1h-1zM7 19h1v1h-1zM11 19h1v1h-1zM15 19h1v1h-1zM17 19h1v1h-1zM20 19h1v1h-1zM24 19h1v1h-1zM40 19h1v1h-1zM34 23h1v1h-1zM12 25h1v1h-1zM4 26h1v1h-1zM3 27h1v1h-1zM27 27h1v1h-1zM4 30h1v1h-1zM31 30h1v1h-1zM8 31h1v1h-1zM33 31h1v1h-1zM26 35h1v1h-1zM31 36h1v1h-1zM25 38h1v1h-1zM40 38h1v1h-1zM31 43h1v1h-1zM23 45h1v1h-1zM37 45h1v1h-1zM39 45h1v1h-1zM25 47h1v1h-1zM31 47h1v1h-1zM33 47h1v1h-1zM4 48h1v1h-1zM9 48h1v1h-1zM41 48h1v1h-1zM14 49h1v1h-1z"/><path fill="#ff9281" d="M3 0h2v1h-2zM22 0h1v1h-1zM2 1h1v1h-1zM40 1h2v1h-2zM3 2h1v1h-1zM8 2h2v1h-2zM15 2h1v1h-1zM17 2h1v1h-1zM22 2h1v1h-1zM33 2h1v1h-1zM41 2h1v1h-1zM5 3h1v1h-1zM18 3h1v1h-1zM22 3h1v1h-1zM2 4h1v1h-1zM10 4h1v1h-1zM15 4h1v1h-1zM7 5h1v1h-1zM34 5h1v1h-1zM37 5h1v1h-1zM0 6h1v1h-1zM6 6h1v1h-1zM13 6h1v1h-1zM15 6h1v1h-1zM22 6h1v1h-1zM34 6h2v1h-2zM38 6h1v1h-1zM40 6h1v1h-1zM0 7h1v1h-1zM18 7h1v1h-1zM34 7h1v1h-1zM24 8h1v1h-1zM34 8h1v1h-1zM8 9h1v1h-1zM5 10h1v1h-1zM13 10h1v1h-1zM18 10h1v1h-1zM21 10h2v1h-2zM26 10h1v1h-1zM18 11h1v1h-1zM38 11h1v1h-1zM7 12h1v1h-1zM10 12h1v1h-1zM12 12h1v1h-1zM22 12h1v1h-1zM25 12h1v1h-1zM28 12h1v1h-1zM33 12h1v1h-1zM40 12h1v1h-1zM3 13h1v1h-1zM5 13h1v1h-1zM14 13h1v1h-1zM16 13h1v1h-1zM23 13h1v1h-1zM28 13h1v1h-1zM30 13h1v1h-1zM35 13h1v1h-1zM38 13h1v1h-1zM5 14h3v1h-3zM9 14h3v1h-3zM20 14h1v1h-1zM23 14h1v1h-1zM35 14h2v1h-2zM39 14h1v1h-1zM1 15h1v1h-1zM15 15h1v1h-1zM29 15h1v1h-1zM31 15h2v1h-2zM34 15h1v1h-1zM38 15h2v1h-2zM41 15h1v1h-1zM3 16h1v1h-1zM10 16h1v1h-1zM17 16h1v1h-1zM20 16h1v1h-1zM28 16h1v1h-1zM31 16h1v1h-1zM33 16h1v1h-1zM35 16h1v1h-1zM37 16h1v1h-1zM0 17h1v1h-1zM6 17h1v1h-1zM11 17h1v1h-1zM17 17h1v1h-1zM24 17h2v1h-2zM27 17h1v1h-1zM33 17h1v1h-1zM37 17h1v1h-1zM16 18h1v1h-1zM20 18h1v1h-1zM23 18h1v1h-1zM28 18h4v1h-4zM35 18h2v1h-2zM1 19h1v1h-1zM3 19h1v1h-1zM6 19h1v1h-1zM9 19h1v1h-1zM19 19h1v1h-1zM26 19h1v1h-1zM28 19h1v1h-1zM30 19h2v1h-2zM41 19h1v1h-1zM31 22h1v1h-1zM40 23h1v1h-1zM0 24h1v1h-1zM29 24h1v1h-1zM19 25h1v1h-1zM23 25h1v1h-1zM3 26h1v1h-1zM36 26h1v1h-1zM0 27h1v1h-1zM3 28h1v1h-1zM26 28h1v1h-1zM29 29h1v1h-1zM22 30h1v1h-1zM4 31h1v1h-1zM11 31h1v1h-1zM8 32h1v1h-1zM2 33h1v1h-1zM35 34h1v1h-1zM5 37h1v1h-1zM21 37h1v1h-1zM18 40h1v1h-1zM25 40h1v1h-1zM16 45h1v1h-1zM30 45h1v1h-1zM12 47h1v1h-1zM22 47h1v1h-1zM34 47h1v1h-1zM39 47h1v1h-1zM16 49h1v1h-1zM38 49h1v1h-1z"/><path fill="#ff7b68" d="M34 0h1v1h-1zM37 0h1v1h-1zM41 0h1v1h-1zM10 1h1v1h-1zM13 1h2v1h-2zM23 1h1v1h-1zM36 1h1v1h-1zM11 2h1v1h-1zM29 2h1v1h-1zM9 3h1v1h-1zM35 3h1v1h-1zM38 3h1v1h-1zM0 5h1v1h-1zM5 5h1v1h-1zM35 7h1v1h-1zM3 8h1v1h-1zM13 8h1v1h-1zM33 8h1v1h-1zM15 10h1v1h-1zM19 10h1v1h-1zM24 10h1v1h-1zM28 10h1v1h-1zM36 10h1v1h-1zM39 10h1v1h-1zM3 11h1v1h-1zM5 11h1v1h-1zM8 11h2v1h-2zM12 11h1v1h-1zM22 11h1v1h-1zM26 11h1v1h-1zM31 11h1v1h-1zM33 11h1v1h-1zM36 11h1v1h-1zM39 11h1v1h-1zM0 12h1v1h-1zM3 12h1v1h-1zM18 12h2v1h-2zM21 12h1v1h-1zM26 12h1v1h-1zM32 12h1v1h-1zM39 12h1v1h-1zM2 13h1v1h-1zM4 13h1v1h-1zM6 13h1v1h-1zM22 13h1v1h-1zM26 13h2v1h-2zM37 13h1v1h-1zM41 13h1v1h-1zM1 14h1v1h-1zM8 14h1v1h-1zM18 14h1v1h-1zM21 14h2v1h-2zM33 14h1v1h-1zM40 14h1v1h-1zM4 15h1v1h-1zM20 15h2v1h-2zM23 15h1v1h-1zM26 15h1v1h-1zM35 15h1v1h-1zM40 15h1v1h-1zM4 16h1v1h-1zM18 16h1v1h-1zM23 16h1v1h-1zM26 16h1v1h-1zM29 16h1v1h-1zM38 16h1v1h-1zM3 17h1v1h-1zM9 17h1v1h-1zM12 17h1v1h-1zM35 17h1v1h-1zM4 18h1v1h-1zM9 18h1v1h-1zM22 18h1v1h-1zM24 18h1v1h-1zM26 18h1v1h-1zM40 18h1v1h-1zM8 19h1v1h-1zM12 19h1v1h-1zM27 19h1v1h-1zM36 19h1v1h-1zM39 19h1v1h-1zM29 20h1v1h-1zM4 22h1v1h-1zM31 23h1v1h-1zM41 26h1v1h-1zM25 28h1v1h-1zM21 29h1v1h-1zM17 30h1v1h-1zM20 30h1v1h-1zM38 31h1v1h-1zM21 32h1v1h-1zM11 33h1v1h-1zM14 33h1v1h-1zM23 33h1v1h-1zM35 33h1v1h-1zM39 34h1v1h-1zM10 35h1v1h-1zM0 37h1v1h-1zM19 37h1v1h-1zM5 40h1v1h-1zM33 43h1v1h-1zM20 47h1v1h-1zM30 48h1v1h-1zM37 49h1v1h-1z"/><path fill="#ff6450" d="M23 0h1v1h-1zM1 1h1v1h-1zM22 1h1v1h-1zM35 1h1v1h-1zM4 2h1v1h-1zM41 3h1v1h-1zM33 4h1v1h-1zM6 5h1v1h-1zM12 6h1v1h-1zM26 6h1v1h-1zM40 7h1v1h-1zM10 8h1v1h-1zM10 10h1v1h-1zM23 10h1v1h-1zM7 11h1v1h-1zM15 11h1v1h-1zM23 11h1v1h-1zM25 11h1v1h-1zM35 11h1v1h-1zM27 12h1v1h-1zM8 13h1v1h-1zM21 13h1v1h-1zM29 13h1v1h-1zM40 13h1v1h-1zM19 14h1v1h-1zM25 14h2v1h-2zM37 14h1v1h-1zM9 15h2v1h-2zM13 15h1v1h-1zM16 15h1v1h-1zM37 15h1v1h-1zM5 16h2v1h-2zM14 16h1v1h-1zM27 16h1v1h-1zM32 16h1v1h-1zM41 16h1v1h-1zM14 17h1v1h-1zM21 17h3v1h-3zM31 17h1v1h-1zM34 17h1v1h-1zM39 17h1v1h-1zM0 18h1v1h-1zM3 18h1v1h-1zM32 18h1v1h-1zM37 18h1v1h-1zM0 19h1v1h-1zM13 19h1v1h-1zM22 19h1v1h-1zM29 19h1v1h-1zM0 22h1v1h-1zM3 24h1v1h-1zM28 24h1v1h-1zM8 25h1v1h-1zM20 25h1v1h-1zM24 27h1v1h-1zM26 30h1v1h-1zM33 32h1v1h-1zM13 33h1v1h-1zM18 33h1v1h-1zM31 33h1v1h-1zM40 33h2v1h-2zM23 39h1v1h-1zM28 44h1v1h-1zM40 47h1v1h-1zM20 48h1v1h-1zM27 49h1v1h-1z"/><path fill="#ff4b37" d="M31 0h1v1h-1zM32 2h1v1h-1zM16 5h1v1h-1zM21 5h1v1h-1zM9 10h1v1h-1zM34 10h1v1h-1zM10 11h1v1h-1zM16 11h1v1h-1zM40 11h1v1h-1zM2 12h1v1h-1zM35 12h1v1h-1zM25 13h1v1h-1zM0 14h1v1h-1zM3 14h1v1h-1zM13 14h1v1h-1zM41 14h1v1h-1zM0 15h1v1h-1zM12 15h1v1h-1zM36 15h1v1h-1zM21 16h2v1h-2zM34 16h1v1h-1zM4 17h1v1h-1zM41 17h1v1h-1zM8 18h1v1h-1zM34 19h1v1h-1zM37 19h1v1h-1zM9 46h1v1h-1z"/><path fill="#ff2f1e" d="M26 2h1v1h-1zM13 3h1v1h-1zM41 8h1v1h-1zM8 10h1v1h-1zM37 10h1v1h-1zM11 11h1v1h-1zM34 11h1v1h-1zM36 12h1v1h-1zM38 12h1v1h-1zM13 13h1v1h-1zM34 14h1v1h-1zM14 15h1v1h-1zM22 15h1v1h-1zM0 16h1v1h-1zM13 16h1v1h-1zM8 17h1v1h-1zM13 17h1v1h-1zM5 18h1v1h-1zM25 19h1v1h-1zM21 44h1v1h-1z"/><path fill="#ff0000" d="M34 1h1v1h-1zM30 9h1v1h-1zM4 12h1v1h-1zM13 12h1v1h-1zM33 13h1v1h-1zM16 14h1v1h-1zM29 14h1v1h-1zM21 19h1v1h-1zM11 20h1v1h-1zM39 23h1v1h-1zM34 26h1v1h-1zM8 29h1v1h-1zM32 31h1v1h-1zM39 33h1v1h-1zM7 36h1v1h-1zM18 38h1v1h-1zM13 40h1v1h-1zM7 41h1v1h-1zM31 41h1v1h-1zM39 41h1v1h-1zM31 42h1v1h-1zM36 42h1v1h-1zM15 46h1v1h-1zM29 46h1v1h-1zM40 46h1v1h-1zM8 49h1v1h-1z"/></svg>
<svg x="530.6" y="15.9" width="44.4" height="318.5" viewBox="0 0 31 50" preserveAspectRatio="none" shape-rendering="crispEdges"><path fill="#0000ff" d="M12 0h1v1h-1zM21 0h1v1h-1zM23 0h1v1h-1zM5 1h1v1h-1zM24 1h2v1h-2zM7 7h1v1h-1zM16 12h1v1h-1zM24 12h1v1h-1zM4 13h2v1h-2zM20 13h1v1h-1zM11 16h1v1h-1zM26 16h2v1h-2zM2 32h1v1h-1zM0 36h1v1h-1zM9 47h1v1h-1zM24 47h1v1h-1zM16 49h1v1h-1z"/><path fill="#3a24ff" d="M6 0h1v1h-1zM9 0h1v1h-1zM7 1h2v1h-2zM13 1h1v1h-1zM13 5h1v1h-1zM6 7h1v1h-1zM4 12h1v1h-1zM11 13h1v1h-1zM5 16h1v1h-1zM12 16h1v1h-1zM0 47h1v1h-1z"/><path fill="#583eff" d="M6 2h1v1h-1zM8 2h1v1h-1zM26 2h1v1h-1zM28 2h1v1h-1zM17 12h1v1h-1zM0 13h1v1h-1zM15 13h1v1h-1zM22 13h1v1h-1zM7 14h1v1h-1zM16 14h1v1h-1zM18 14h1v1h-1zM24 14h1v1h-1zM8 16h1v1h-1zM10 16h1v1h-1zM19 16h1v1h-1zM22 16h1v1h-1zM25 18h1v1h-1zM0 19h1v1h-1zM25 49h1v1h-1z"/><path fill="#7257ff" d="M0 0h1v1h-1zM20 0h1v1h-1zM27 0h1v1h-1zM4 1h1v1h-1zM10 1h1v1h-1zM14 1h1v1h-1zM22 1h1v1h-1zM2 2h1v1h-1zM15 2h4v1h-4zM21 2h1v1h-1zM25 2h1v1h-1zM2 3h1v1h-1zM4 3h1v1h-1zM17 3h1v1h-1zM26 3h1v1h-1zM30 3h1v1h-1zM8 5h1v1h-1zM11 5h1v1h-1zM15 5h2v1h-2zM19 5h2v1h-2zM22 5h1v1h-1zM16 6h1v1h-1zM28 7h1v1h-1zM14 8h1v1h-1zM9 10h1v1h-1zM22 10h1v1h-1zM24 10h1v1h-1zM4 11h1v1h-1zM25 11h1v1h-1zM10 12h1v1h-1zM13 12h1v1h-1zM20 12h1v1h-1zM22 12h1v1h-1zM3 13h1v1h-1zM6 13h1v1h-1zM10 13h1v1h-1zM13 13h2v1h-2zM16 13h1v1h-1zM29 13h1v1h-1zM11 14h1v1h-1zM13 14h1v1h-1zM17 14h1v1h-1zM25 14h1v1h-1zM0 15h1v1h-1zM6 15h1v1h-1zM9 15h1v1h-1zM15 15h1v1h-1zM23 15h1v1h-1zM25 15h1v1h-1zM27 15h1v1h-1zM29 15h2v1h-2zM2 16h1v1h-1zM6 16h1v1h-1zM23 16h1v1h-1zM11 17h1v1h-1zM14 17h1v1h-1zM25 17h1v1h-1zM0 18h1v1h-1zM10 18h2v1h-2zM13 18h1v1h-1zM16 18h1v1h-1zM18 18h1v1h-1zM1 19h1v1h-1zM7 19h1v1h-1zM10 19h2v1h-2zM16 19h1v1h-1zM21 19h1v1h-1zM24 19h1v1h-1zM17 49h1v1h-1z"/><path fill="#896fff" d="M7 0h2v1h-2zM17 0h1v1h-1zM24 0h1v1h-1zM26 0h1v1h-1zM6 1h1v1h-1zM15 1h1v1h-1zM20 1h1v1h-1zM26 1h1v1h-1zM30 1h1v1h-1zM1 2h1v1h-1zM4 2h1v1h-1zM7 2h1v1h-1zM9 2h2v1h-2zM23 2h2v1h-2zM27 2h1v1h-1zM29 2h1v1h-1zM0 3h1v1h-1zM7 3h4v1h-4zM16 3h1v1h-1zM18 3h2v1h-2zM21 3h1v1h-1zM23 3h2v1h-2zM27 3h1v1h-1zM4 5h1v1h-1zM7 5h1v1h-1zM14 5h1v1h-1zM17 5h1v1h-1zM23 5h1v1h-1zM30 5h1v1h-1zM2 6h1v1h-1zM10 6h1v1h-1zM17 6h1v1h-1zM20 6h1v1h-1zM22 6h1v1h-1zM24 6h2v1h-2zM27 6h1v1h-1zM30 6h1v1h-1zM10 7h1v1h-1zM14 7h1v1h-1zM16 7h2v1h-2zM26 7h1v1h-1zM29 7h2v1h-2zM7 8h1v1h-1zM11 8h1v1h-1zM19 8h1v1h-1zM22 8h1v1h-1zM25 8h1v1h-1zM30 8h1v1h-1zM2 10h1v1h-1zM8 10h1v1h-1zM10 10h1v1h-1zM13 10h1v1h-1zM16 10h1v1h-1zM18 10h4v1h-4zM25 10h2v1h-2zM5 11h1v1h-1zM21 11h1v1h-1zM27 11h1v1h-1zM6 12h2v1h-2zM9 12h1v1h-1zM11 12h1v1h-1zM14 12h1v1h-1zM26 12h4v1h-4zM7 13h1v1h-1zM9 13h1v1h-1zM12 13h1v1h-1zM25 13h1v1h-1zM27 13h1v1h-1zM2 14h1v1h-1zM4 14h1v1h-1zM9 14h1v1h-1zM20 14h1v1h-1zM23 14h1v1h-1zM27 14h1v1h-1zM1 15h1v1h-1zM10 15h1v1h-1zM12 15h1v1h-1zM14 15h1v1h-1zM19 15h1v1h-1zM21 15h1v1h-1zM24 15h1v1h-1zM3 16h1v1h-1zM14 16h1v1h-1zM16 16h1v1h-1zM20 16h1v1h-1zM0 17h2v1h-2zM4 17h1v1h-1zM9 17h1v1h-1zM16 17h1v1h-1zM21 17h2v1h-2zM29 17h1v1h-1zM2 18h1v1h-1zM8 18h1v1h-1zM12 18h1v1h-1zM14 18h1v1h-1zM19 18h1v1h-1zM24 18h1v1h-1zM30 18h1v1h-1zM5 19h2v1h-2zM13 19h2v1h-2zM19 19h2v1h-2zM25 19h1v1h-1zM30 19h1v1h-1z"/><path fill="#9e87ff" d="M4 0h1v1h-1zM11 0h1v1h-1zM13 0h1v1h-1zM18 0h2v1h-2zM25 0h1v1h-1zM29 0h1v1h-1zM12 1h1v1h-1zM19 1h1v1h-1zM29 1h1v1h-1zM0 2h1v1h-1zM5 2h1v1h-1zM13 2h2v1h-2zM19 2h2v1h-2zM30 2h1v1h-1zM5 3h1v1h-1zM11 3h2v1h-2zM14 3h1v1h-1zM20 3h1v1h-1zM22 3h1v1h-1zM25 3h1v1h-1zM28 3h2v1h-2zM3 5h1v1h-1zM6 5h1v1h-1zM10 5h1v1h-1zM18 5h1v1h-1zM24 5h1v1h-1zM26 5h2v1h-2zM0 6h1v1h-1zM6 6h4v1h-4zM11 6h1v1h-1zM13 6h1v1h-1zM18 6h2v1h-2zM21 6h1v1h-1zM23 6h1v1h-1zM26 6h1v1h-1zM28 6h2v1h-2zM0 7h1v1h-1zM3 7h1v1h-1zM19 7h1v1h-1zM22 7h1v1h-1zM0 8h1v1h-1zM2 8h1v1h-1zM5 8h2v1h-2zM8 8h2v1h-2zM13 8h1v1h-1zM16 8h3v1h-3zM24 8h1v1h-1zM26 8h2v1h-2zM8 9h1v1h-1zM0 10h2v1h-2zM4 10h4v1h-4zM11 10h1v1h-1zM14 10h1v1h-1zM17 10h1v1h-1zM23 10h1v1h-1zM28 10h1v1h-1zM30 10h1v1h-1zM10 11h1v1h-1zM14 11h1v1h-1zM17 11h2v1h-2zM20 11h1v1h-1zM22 11h1v1h-1zM26 11h1v1h-1zM8 12h1v1h-1zM19 12h1v1h-1zM30 12h1v1h-1zM5 14h1v1h-1zM8 14h1v1h-1zM10 14h1v1h-1zM12 14h1v1h-1zM29 14h1v1h-1zM2 15h2v1h-2zM8 15h1v1h-1zM11 15h1v1h-1zM18 15h1v1h-1zM28 15h1v1h-1zM1 16h1v1h-1zM6 17h1v1h-1zM8 17h1v1h-1zM19 17h2v1h-2zM24 17h1v1h-1zM26 17h1v1h-1zM28 17h1v1h-1zM5 18h3v1h-3zM15 18h1v1h-1zM20 18h1v1h-1zM28 18h1v1h-1zM2 19h3v1h-3zM8 19h2v1h-2zM18 19h1v1h-1zM22 19h1v1h-1zM26 19h2v1h-2zM29 19h1v1h-1zM25 28h1v1h-1zM16 31h1v1h-1zM24 31h1v1h-1zM4 32h1v1h-1zM11 32h1v1h-1zM20 32h1v1h-1zM16 33h1v1h-1zM19 33h1v1h-1zM9 35h1v1h-1zM17 35h1v1h-1zM25 36h1v1h-1zM8 41h1v1h-1zM16 41h1v1h-1zM21 41h1v1h-1zM23 41h1v1h-1zM25 41h1v1h-1z"/><path fill="#b39eff" d="M15 0h1v1h-1zM30 0h1v1h-1zM28 1h1v1h-1zM3 2h1v1h-1zM1 3h1v1h-1zM0 4h1v1h-1zM5 4h2v1h-2zM8 4h1v1h-1zM10 4h2v1h-2zM13 4h1v1h-1zM19 4h2v1h-2zM22 4h2v1h-2zM29 4h1v1h-1zM1 5h1v1h-1zM5 5h1v1h-1zM12 5h1v1h-1zM25 5h1v1h-1zM29 5h1v1h-1zM1 6h1v1h-1zM4 6h1v1h-1zM14 6h2v1h-2zM1 8h1v1h-1zM4 8h1v1h-1zM10 8h1v1h-1zM15 8h1v1h-1zM20 8h2v1h-2zM23 8h1v1h-1zM28 8h2v1h-2zM0 9h1v1h-1zM2 9h1v1h-1zM5 9h2v1h-2zM10 9h1v1h-1zM14 9h1v1h-1zM16 9h1v1h-1zM18 9h5v1h-5zM25 9h1v1h-1zM15 10h1v1h-1zM27 10h1v1h-1zM29 10h1v1h-1zM0 11h4v1h-4zM8 11h1v1h-1zM12 11h1v1h-1zM15 11h1v1h-1zM19 11h1v1h-1zM23 11h2v1h-2zM29 11h2v1h-2zM2 12h1v1h-1zM18 12h1v1h-1zM8 13h1v1h-1zM19 13h1v1h-1zM0 14h1v1h-1zM19 14h1v1h-1zM4 15h1v1h-1zM4 16h1v1h-1zM5 17h1v1h-1zM10 17h1v1h-1zM12 17h2v1h-2zM15 17h1v1h-1zM23 17h1v1h-1zM27 17h1v1h-1zM30 17h1v1h-1zM1 18h1v1h-1zM22 18h2v1h-2zM26 18h2v1h-2zM29 18h1v1h-1zM12 19h1v1h-1zM15 19h1v1h-1zM23 19h1v1h-1zM28 19h1v1h-1zM28 28h1v1h-1zM7 31h1v1h-1zM12 31h1v1h-1zM21 31h1v1h-1zM10 32h1v1h-1zM18 32h1v1h-1zM0 33h1v1h-1zM10 33h1v1h-1zM15 33h1v1h-1zM18 33h1v1h-1zM25 33h1v1h-1zM0 34h1v1h-1zM25 34h1v1h-1zM0 35h1v1h-1zM6 35h3v1h-3zM12 35h1v1h-1zM14 35h1v1h-1zM6 36h3v1h-3zM24 36h1v1h-1zM6 37h1v1h-1zM9 37h1v1h-1zM11 38h1v1h-1zM15 38h1v1h-1zM21 38h1v1h-1zM25 38h1v1h-1zM20 39h1v1h-1zM6 40h1v1h-1zM11 40h1v1h-1zM14 40h1v1h-1zM17 40h1v1h-1zM27 40h1v1h-1zM0 41h1v1h-1zM6 41h2v1h-2zM11 41h1v1h-1zM13 41h1v1h-1zM15 41h1v1h-1zM20 41h1v1h-1zM22 41h1v1h-1zM24 41h1v1h-1zM0 42h1v1h-1zM6 42h1v1h-1zM14 42h1v1h-1zM16 42h1v1h-1zM19 42h1v1h-1zM25 42h1v1h-1zM27 42h1v1h-1zM5 44h1v1h-1zM19 44h1v1h-1zM25 44h1v1h-1zM13 45h1v1h-1zM6 46h1v1h-1zM11 46h1v1h-1zM20 46h1v1h-1zM25 46h1v1h-1zM30 46h1v1h-1zM22 47h1v1h-1zM2 49h1v1h-1zM4 49h2v1h-2zM7 49h1v1h-1zM11 49h1v1h-1zM13 49h1v1h-1z"/><path fill="#c7b6ff" d="M16 0h1v1h-1zM1 4h2v1h-2zM9 4h1v1h-1zM12 4h1v1h-1zM14 4h1v1h-1zM16 4h3v1h-3zM21 4h1v1h-1zM24 4h5v1h-5zM28 5h1v1h-1zM3 6h1v1h-1zM5 6h1v1h-1zM23 7h1v1h-1zM3 8h1v1h-1zM3 9h2v1h-2zM7 9h1v1h-1zM9 9h1v1h-1zM11 9h1v1h-1zM13 9h1v1h-1zM15 9h1v1h-1zM17 9h1v1h-1zM23 9h2v1h-2zM26 9h3v1h-3zM30 9h1v1h-1zM3 10h1v1h-1zM12 10h1v1h-1zM28 11h1v1h-1zM3 12h1v1h-1zM5 12h1v1h-1zM12 12h1v1h-1zM30 14h1v1h-1zM7 15h1v1h-1zM29 16h1v1h-1zM2 17h1v1h-1zM17 18h1v1h-1zM0 31h3v1h-3zM6 31h1v1h-1zM9 31h1v1h-1zM18 31h2v1h-2zM22 31h1v1h-1zM27 31h1v1h-1zM29 31h1v1h-1zM0 32h1v1h-1zM13 32h2v1h-2zM19 32h1v1h-1zM21 32h1v1h-1zM26 32h1v1h-1zM28 32h2v1h-2zM6 33h1v1h-1zM14 33h1v1h-1zM22 33h1v1h-1zM28 33h1v1h-1zM4 34h1v1h-1zM6 34h1v1h-1zM10 34h1v1h-1zM14 34h1v1h-1zM16 34h1v1h-1zM18 34h1v1h-1zM23 34h1v1h-1zM27 34h1v1h-1zM29 34h1v1h-1zM2 35h1v1h-1zM4 35h2v1h-2zM23 35h2v1h-2zM26 35h1v1h-1zM28 35h2v1h-2zM9 36h1v1h-1zM13 36h1v1h-1zM15 36h1v1h-1zM18 36h1v1h-1zM23 36h1v1h-1zM5 37h1v1h-1zM17 37h1v1h-1zM25 37h1v1h-1zM27 37h1v1h-1zM5 38h2v1h-2zM8 38h3v1h-3zM20 38h1v1h-1zM0 39h1v1h-1zM9 39h1v1h-1zM13 39h1v1h-1zM16 39h2v1h-2zM19 39h1v1h-1zM0 40h1v1h-1zM3 40h1v1h-1zM8 40h1v1h-1zM15 40h2v1h-2zM19 40h6v1h-6zM29 40h1v1h-1zM5 41h1v1h-1zM9 41h2v1h-2zM12 41h1v1h-1zM14 41h1v1h-1zM19 41h1v1h-1zM26 41h1v1h-1zM28 41h3v1h-3zM2 42h2v1h-2zM8 42h6v1h-6zM18 42h1v1h-1zM22 42h1v1h-1zM24 42h1v1h-1zM29 42h1v1h-1zM14 43h1v1h-1zM19 43h1v1h-1zM25 43h1v1h-1zM2 44h1v1h-1zM6 44h1v1h-1zM14 44h1v1h-1zM16 44h1v1h-1zM18 44h1v1h-1zM20 44h1v1h-1zM28 44h1v1h-1zM25 45h1v1h-1zM0 46h1v1h-1zM2 46h3v1h-3zM7 46h3v1h-3zM15 46h1v1h-1zM19 46h1v1h-1zM23 46h2v1h-2zM26 46h2v1h-2zM29 46h1v1h-1zM4 47h1v1h-1zM8 47h1v1h-1zM14 47h1v1h-1zM21 47h1v1h-1zM25 47h1v1h-1zM29 47h1v1h-1zM7 48h1v1h-1zM13 48h1v1h-1zM19 48h1v1h-1zM25 48h3v1h-3zM1 49h1v1h-1zM6 49h1v1h-1zM10 49h1v1h-1zM20 49h3v1h-3zM27 49h1v1h-1z"/><path fill="#daceff" d="M5 0h1v1h-1zM4 4h1v1h-1zM7 4h1v1h-1zM15 4h1v1h-1zM30 4h1v1h-1zM5 7h1v1h-1zM20 7h1v1h-1zM12 8h1v1h-1zM1 9h1v1h-1zM12 9h1v1h-1zM29 9h1v1h-1zM25 12h1v1h-1zM4 18h1v1h-1zM19 25h1v1h-1zM6 28h1v1h-1zM8 29h1v1h-1zM15 29h1v1h-1zM22 29h1v1h-1zM8 30h1v1h-1zM10 31h1v1h-1zM14 31h2v1h-2zM28 31h1v1h-1zM30 31h1v1h-1zM6 32h1v1h-1zM8 32h1v1h-1zM15 32h1v1h-1zM17 32h1v1h-1zM23 32h1v1h-1zM30 32h1v1h-1zM1 33h1v1h-1zM4 33h1v1h-1zM7 33h1v1h-1zM11 33h1v1h-1zM13 33h1v1h-1zM21 33h1v1h-1zM24 33h1v1h-1zM26 33h1v1h-1zM30 33h1v1h-1zM2 34h1v1h-1zM5 34h1v1h-1zM7 34h1v1h-1zM11 34h1v1h-1zM13 34h1v1h-1zM17 34h1v1h-1zM19 34h1v1h-1zM21 34h2v1h-2zM24 34h1v1h-1zM11 35h1v1h-1zM13 35h1v1h-1zM16 35h1v1h-1zM20 35h2v1h-2zM30 35h1v1h-1zM4 36h2v1h-2zM10 36h1v1h-1zM21 36h1v1h-1zM27 36h3v1h-3zM1 37h2v1h-2zM8 37h1v1h-1zM10 37h1v1h-1zM15 37h2v1h-2zM19 37h1v1h-1zM30 37h1v1h-1zM3 38h1v1h-1zM17 38h1v1h-1zM22 38h1v1h-1zM24 38h1v1h-1zM26 38h1v1h-1zM28 38h1v1h-1zM30 38h1v1h-1zM1 39h1v1h-1zM4 39h1v1h-1zM6 39h3v1h-3zM10 39h3v1h-3zM15 39h1v1h-1zM18 39h1v1h-1zM21 39h2v1h-2zM24 39h1v1h-1zM27 39h1v1h-1zM30 39h1v1h-1zM1 40h2v1h-2zM4 40h2v1h-2zM7 40h1v1h-1zM9 40h2v1h-2zM12 40h2v1h-2zM18 40h1v1h-1zM25 40h2v1h-2zM28 40h1v1h-1zM1 41h2v1h-2zM4 41h1v1h-1zM17 41h2v1h-2zM27 41h1v1h-1zM4 42h2v1h-2zM7 42h1v1h-1zM17 42h1v1h-1zM21 42h1v1h-1zM23 42h1v1h-1zM26 42h1v1h-1zM28 42h1v1h-1zM30 42h1v1h-1zM0 43h1v1h-1zM11 43h1v1h-1zM17 43h1v1h-1zM22 43h1v1h-1zM7 44h2v1h-2zM10 44h2v1h-2zM17 44h1v1h-1zM22 44h2v1h-2zM26 44h1v1h-1zM3 45h1v1h-1zM7 45h1v1h-1zM18 45h1v1h-1zM20 45h1v1h-1zM24 45h1v1h-1zM26 45h1v1h-1zM28 45h1v1h-1zM30 45h1v1h-1zM1 46h1v1h-1zM5 46h1v1h-1zM12 46h1v1h-1zM14 46h1v1h-1zM16 46h3v1h-3zM21 46h1v1h-1zM28 46h1v1h-1zM1 47h1v1h-1zM3 47h1v1h-1zM12 47h1v1h-1zM15 47h1v1h-1zM20 47h1v1h-1zM30 47h1v1h-1zM2 48h1v1h-1zM20 48h1v1h-1zM22 48h1v1h-1zM0 49h1v1h-1zM15 49h1v1h-1zM18 49h1v1h-1zM26 49h1v1h-1zM29 49h1v1h-1z"/><path fill="#ede7ff" d="M3 0h1v1h-1zM25 21h1v1h-1zM16 24h1v1h-1zM11 28h2v1h-2zM22 28h1v1h-1zM0 29h1v1h-1zM16 30h1v1h-1zM21 30h1v1h-1zM27 30h1v1h-1zM26 31h1v1h-1zM5 32h1v1h-1zM12 32h1v1h-1zM16 32h1v1h-1zM24 32h1v1h-1zM2 33h1v1h-1zM12 33h1v1h-1zM1 34h1v1h-1zM9 34h1v1h-1zM12 34h1v1h-1zM15 34h1v1h-1zM26 34h1v1h-1zM28 34h1v1h-1zM30 34h1v1h-1zM1 35h1v1h-1zM11 36h2v1h-2zM22 36h1v1h-1zM0 37h1v1h-1zM11 37h1v1h-1zM13 37h1v1h-1zM21 37h1v1h-1zM23 37h1v1h-1zM0 38h1v1h-1zM4 38h1v1h-1zM7 38h1v1h-1zM12 38h2v1h-2zM2 39h2v1h-2zM5 39h1v1h-1zM14 39h1v1h-1zM23 39h1v1h-1zM26 39h1v1h-1zM28 39h1v1h-1zM3 41h1v1h-1zM20 42h1v1h-1zM5 43h2v1h-2zM18 43h1v1h-1zM24 43h1v1h-1zM3 44h2v1h-2zM9 44h1v1h-1zM12 44h2v1h-2zM24 44h1v1h-1zM27 44h1v1h-1zM29 44h1v1h-1zM6 45h1v1h-1zM11 45h1v1h-1zM16 45h2v1h-2zM22 45h1v1h-1zM29 45h1v1h-1zM5 47h1v1h-1zM7 47h1v1h-1zM10 47h1v1h-1zM13 47h1v1h-1zM16 47h1v1h-1zM26 47h1v1h-1zM6 48h1v1h-1zM9 48h1v1h-1zM14 48h1v1h-1zM16 48h3v1h-3zM21 48h1v1h-1zM24 48h1v1h-1zM30 48h1v1h-1zM9 49h1v1h-1zM19 49h1v1h-1zM23 49h1v1h-1z"/><path fill="#ffffff" d="M21 23h1v1h-1zM19 24h1v1h-1zM0 27h1v1h-1zM22 27h1v1h-1zM13 28h1v1h-1zM6 29h1v1h-1zM18 29h1v1h-1zM11 30h1v1h-1zM22 30h1v1h-1zM3 32h1v1h-1zM3 33h1v1h-1zM8 34h1v1h-1zM3 35h1v1h-1zM10 35h1v1h-1zM15 35h1v1h-1zM19 36h2v1h-2zM4 37h1v1h-1zM12 37h1v1h-1zM19 38h1v1h-1zM23 38h1v1h-1zM27 38h1v1h-1zM2 43h1v1h-1zM21 43h1v1h-1zM15 44h1v1h-1zM2 45h1v1h-1zM4 45h1v1h-1zM10 45h1v1h-1zM12 45h1v1h-1zM21 45h1v1h-1zM19 47h1v1h-1zM27 47h1v1h-1zM0 48h2v1h-2zM8 48h1v1h-1zM10 48h1v1h-1zM28 48h2v1h-2z"/><path fill="#ffe9e5" d="M2 0h1v1h-1zM3 1h1v1h-1zM17 1h1v1h-1zM22 2h1v1h-1zM12 7h1v1h-1zM18 7h1v1h-1zM21 7h1v1h-1zM15 12h1v1h-1zM28 20h1v1h-1zM7 21h1v1h-1zM19 21h1v1h-1zM22 21h1v1h-1zM25 22h1v1h-1zM10 23h1v1h-1zM25 24h1v1h-1zM18 25h1v1h-1zM27 25h1v1h-1zM18 27h1v1h-1zM24 27h1v1h-1zM2 28h1v1h-1zM15 28h2v1h-2zM27 28h1v1h-1zM14 29h1v1h-1zM21 29h1v1h-1zM4 30h1v1h-1zM6 30h1v1h-1zM10 30h1v1h-1zM25 30h1v1h-1zM25 32h1v1h-1zM26 37h1v1h-1zM1 42h1v1h-1zM7 43h1v1h-1zM26 43h1v1h-1zM1 45h1v1h-1zM19 45h1v1h-1zM27 45h1v1h-1zM13 46h1v1h-1zM2 47h1v1h-1zM11 47h1v1h-1zM18 47h1v1h-1zM3 48h3v1h-3z"/><path fill="#ffd4cc" d="M1 0h1v1h-1zM0 1h1v1h-1zM6 3h1v1h-1zM1 7h1v1h-1zM9 7h1v1h-1zM9 11h1v1h-1zM2 13h1v1h-1zM17 13h1v1h-1zM24 13h1v1h-1zM28 13h1v1h-1zM3 14h1v1h-1zM7 16h1v1h-1zM30 16h1v1h-1zM3 17h1v1h-1zM18 20h1v1h-1zM0 22h1v1h-1zM22 22h1v1h-1zM18 23h1v1h-1zM22 23h1v1h-1zM25 23h2v1h-2zM0 24h1v1h-1zM2 24h1v1h-1zM5 24h1v1h-1zM8 24h1v1h-1zM13 24h1v1h-1zM22 24h1v1h-1zM12 25h1v1h-1zM24 25h1v1h-1zM25 26h1v1h-1zM21 27h1v1h-1zM26 27h1v1h-1zM9 28h1v1h-1zM29 28h1v1h-1zM2 30h1v1h-1zM5 30h1v1h-1zM7 30h1v1h-1zM12 30h1v1h-1zM19 30h1v1h-1zM1 32h1v1h-1zM1 36h1v1h-1zM18 37h1v1h-1zM12 43h1v1h-1zM20 43h1v1h-1zM28 43h2v1h-2zM30 44h1v1h-1zM9 45h1v1h-1zM14 45h1v1h-1zM17 47h1v1h-1zM23 47h1v1h-1zM15 48h1v1h-1zM23 48h1v1h-1zM8 49h1v1h-1zM14 49h1v1h-1z"/><path fill="#ffbeb2" d="M12 6h1v1h-1zM4 7h1v1h-1zM11 7h1v1h-1zM1 13h1v1h-1zM15 16h1v1h-1zM7 17h1v1h-1zM4 20h1v1h-1zM6 20h2v1h-2zM12 20h1v1h-1zM21 20h1v1h-1zM14 21h1v1h-1zM24 21h1v1h-1zM19 22h1v1h-1zM8 23h1v1h-1zM7 24h1v1h-1zM21 24h1v1h-1zM30 24h1v1h-1zM17 25h1v1h-1zM26 25h1v1h-1zM10 26h1v1h-1zM20 26h2v1h-2zM28 26h1v1h-1zM10 27h1v1h-1zM13 27h1v1h-1zM15 27h1v1h-1zM0 28h1v1h-1zM7 28h1v1h-1zM17 28h2v1h-2zM26 28h1v1h-1zM5 29h1v1h-1zM7 29h1v1h-1zM16 29h1v1h-1zM25 29h1v1h-1zM17 30h1v1h-1zM11 31h1v1h-1zM13 31h1v1h-1zM5 33h1v1h-1zM17 33h1v1h-1zM30 36h1v1h-1zM20 37h1v1h-1zM28 37h1v1h-1zM4 43h1v1h-1zM15 43h2v1h-2zM0 45h1v1h-1z"/><path fill="#ffa899" d="M22 0h1v1h-1zM16 1h1v1h-1zM13 3h1v1h-1zM15 3h1v1h-1zM2 5h1v1h-1zM8 7h1v1h-1zM24 7h1v1h-1zM13 11h1v1h-1zM16 11h1v1h-1zM21 12h1v1h-1zM18 13h1v1h-1zM1 14h1v1h-1zM28 14h1v1h-1zM0 16h1v1h-1zM17 16h2v1h-2zM21 18h1v1h-1zM0 20h1v1h-1zM11 20h1v1h-1zM25 20h1v1h-1zM8 21h1v1h-1zM11 21h1v1h-1zM23 21h1v1h-1zM27 21h1v1h-1zM10 22h1v1h-1zM13 22h1v1h-1zM26 22h1v1h-1zM0 23h1v1h-1zM6 23h2v1h-2zM11 23h1v1h-1zM19 23h1v1h-1zM28 23h1v1h-1zM10 24h2v1h-2zM17 24h2v1h-2zM24 24h1v1h-1zM7 25h1v1h-1zM9 25h1v1h-1zM11 25h1v1h-1zM16 25h1v1h-1zM7 26h2v1h-2zM13 26h1v1h-1zM23 26h1v1h-1zM27 26h1v1h-1zM4 27h1v1h-1zM6 27h2v1h-2zM19 27h1v1h-1zM23 27h1v1h-1zM25 27h1v1h-1zM5 28h1v1h-1zM4 29h1v1h-1zM19 29h1v1h-1zM9 30h1v1h-1zM9 32h1v1h-1zM19 35h1v1h-1zM14 36h1v1h-1zM17 36h1v1h-1zM14 37h1v1h-1zM30 40h1v1h-1zM9 43h1v1h-1zM23 43h1v1h-1zM0 44h2v1h-2zM21 44h1v1h-1zM5 45h1v1h-1zM10 46h1v1h-1zM28 47h1v1h-1zM11 48h1v1h-1zM24 49h1v1h-1z"/><path fill="#ff9281" d="M14 0h1v1h-1zM28 0h1v1h-1zM2 1h1v1h-1zM18 1h1v1h-1zM27 1h1v1h-1zM11 11h1v1h-1zM23 12h1v1h-1zM21 13h1v1h-1zM30 13h1v1h-1zM15 14h1v1h-1zM26 14h1v1h-1zM13 15h1v1h-1zM22 15h1v1h-1zM21 16h1v1h-1zM24 16h1v1h-1zM28 16h1v1h-1zM17 17h1v1h-1zM1 20h1v1h-1zM9 20h1v1h-1zM15 20h1v1h-1zM22 20h2v1h-2zM1 21h1v1h-1zM6 21h1v1h-1zM26 21h1v1h-1zM30 21h1v1h-1zM4 22h1v1h-1zM9 22h1v1h-1zM11 22h2v1h-2zM18 22h1v1h-1zM4 23h1v1h-1zM12 23h2v1h-2zM17 23h1v1h-1zM6 24h1v1h-1zM9 24h1v1h-1zM0 25h1v1h-1zM2 25h1v1h-1zM6 25h1v1h-1zM13 25h1v1h-1zM25 25h1v1h-1zM29 25h1v1h-1zM4 26h1v1h-1zM22 26h1v1h-1zM2 27h1v1h-1zM8 27h1v1h-1zM14 27h1v1h-1zM28 27h1v1h-1zM30 27h1v1h-1zM14 28h1v1h-1zM21 28h1v1h-1zM24 28h1v1h-1zM12 29h1v1h-1zM20 29h1v1h-1zM18 30h1v1h-1zM24 30h1v1h-1zM3 31h1v1h-1zM20 31h1v1h-1zM23 31h1v1h-1zM23 33h1v1h-1zM27 33h1v1h-1zM29 33h1v1h-1zM3 36h1v1h-1zM8 43h1v1h-1zM30 43h1v1h-1zM12 48h1v1h-1zM3 49h1v1h-1zM28 49h1v1h-1z"/><path fill="#ff7b68" d="M10 0h1v1h-1zM1 1h1v1h-1zM9 1h1v1h-1zM23 1h1v1h-1zM11 2h2v1h-2zM9 5h1v1h-1zM2 7h1v1h-1zM13 7h1v1h-1zM15 7h1v1h-1zM25 7h1v1h-1zM27 7h1v1h-1zM0 12h1v1h-1zM23 13h1v1h-1zM26 13h1v1h-1zM21 14h1v1h-1zM26 15h1v1h-1zM9 18h1v1h-1zM5 20h1v1h-1zM8 20h1v1h-1zM17 20h1v1h-1zM19 20h2v1h-2zM24 20h1v1h-1zM29 20h1v1h-1zM0 21h1v1h-1zM9 21h2v1h-2zM18 21h1v1h-1zM6 22h1v1h-1zM16 22h1v1h-1zM1 23h2v1h-2zM5 23h1v1h-1zM30 23h1v1h-1zM20 24h1v1h-1zM26 24h2v1h-2zM10 25h1v1h-1zM14 25h1v1h-1zM20 25h1v1h-1zM0 26h1v1h-1zM9 26h1v1h-1zM11 26h1v1h-1zM14 26h2v1h-2zM19 26h1v1h-1zM30 26h1v1h-1zM16 27h1v1h-1zM20 27h1v1h-1zM1 28h1v1h-1zM3 28h2v1h-2zM8 28h1v1h-1zM10 28h1v1h-1zM19 28h2v1h-2zM2 29h1v1h-1zM23 29h2v1h-2zM26 29h1v1h-1zM29 29h1v1h-1zM0 30h1v1h-1zM14 30h2v1h-2zM20 30h1v1h-1zM26 30h1v1h-1zM28 30h1v1h-1zM4 31h1v1h-1zM25 31h1v1h-1zM3 34h1v1h-1zM26 36h1v1h-1zM22 37h1v1h-1zM2 38h1v1h-1zM13 43h1v1h-1zM6 47h1v1h-1zM12 49h1v1h-1z"/><path fill="#ff6450" d="M11 1h1v1h-1zM21 1h1v1h-1zM1 12h1v1h-1zM6 14h1v1h-1zM22 14h1v1h-1zM9 16h1v1h-1zM13 16h1v1h-1zM17 19h1v1h-1zM14 20h1v1h-1zM26 20h1v1h-1zM12 21h1v1h-1zM16 21h2v1h-2zM28 21h1v1h-1zM8 22h1v1h-1zM14 22h1v1h-1zM20 22h2v1h-2zM9 23h1v1h-1zM16 23h1v1h-1zM20 23h1v1h-1zM24 23h1v1h-1zM27 23h1v1h-1zM14 24h1v1h-1zM8 25h1v1h-1zM21 25h2v1h-2zM28 25h1v1h-1zM1 26h1v1h-1zM17 26h1v1h-1zM5 27h1v1h-1zM9 27h1v1h-1zM12 27h1v1h-1zM27 27h1v1h-1zM23 28h1v1h-1zM9 29h1v1h-1zM11 29h1v1h-1zM28 29h1v1h-1zM3 30h1v1h-1zM29 30h2v1h-2zM10 43h1v1h-1zM27 43h1v1h-1zM8 45h1v1h-1zM30 49h1v1h-1z"/><path fill="#ff4b37" d="M13 20h1v1h-1zM16 20h1v1h-1zM27 20h1v1h-1zM30 20h1v1h-1zM2 21h1v1h-1zM5 21h1v1h-1zM29 21h1v1h-1zM2 22h1v1h-1zM7 22h1v1h-1zM28 22h1v1h-1zM30 22h1v1h-1zM23 23h1v1h-1zM4 24h1v1h-1zM12 24h1v1h-1zM23 24h1v1h-1zM28 24h1v1h-1zM4 25h1v1h-1zM15 25h1v1h-1zM30 25h1v1h-1zM6 26h1v1h-1zM11 27h1v1h-1zM30 28h1v1h-1zM17 29h1v1h-1zM27 29h1v1h-1zM1 30h1v1h-1zM23 30h1v1h-1zM5 31h1v1h-1zM22 32h1v1h-1zM22 35h1v1h-1zM25 35h1v1h-1zM15 42h1v1h-1zM1 43h1v1h-1z"/><path fill="#ff2f1e" d="M3 4h1v1h-1zM7 11h1v1h-1zM16 15h1v1h-1zM10 20h1v1h-1zM3 21h1v1h-1zM13 21h1v1h-1zM15 21h1v1h-1zM21 21h1v1h-1zM5 22h1v1h-1zM15 22h1v1h-1zM24 22h1v1h-1zM27 22h1v1h-1zM14 23h1v1h-1zM3 24h1v1h-1zM5 25h1v1h-1zM2 26h1v1h-1zM5 26h1v1h-1zM18 26h1v1h-1zM24 26h1v1h-1zM17 27h1v1h-1zM10 29h1v1h-1zM13 29h1v1h-1zM13 30h1v1h-1zM7 32h1v1h-1zM16 38h1v1h-1zM22 46h1v1h-1z"/><path fill="#ff0000" d="M3 3h1v1h-1zM0 5h1v1h-1zM21 5h1v1h-1zM6 11h1v1h-1zM14 14h1v1h-1zM5 15h1v1h-1zM17 15h1v1h-1zM20 15h1v1h-1zM25 16h1v1h-1zM18 17h1v1h-1zM3 18h1v1h-1zM2 20h2v1h-2zM4 21h1v1h-1zM20 21h1v1h-1zM1 22h1v1h-1zM3 22h1v1h-1zM17 22h1v1h-1zM23 22h1v1h-1zM29 22h1v1h-1zM3 23h1v1h-1zM15 23h1v1h-1zM29 23h1v1h-1zM1 24h1v1h-1zM15 24h1v1h-1zM29 24h1v1h-1zM1 25h1v1h-1zM3 25h1v1h-1zM23 25h1v1h-1zM3 26h1v1h-1zM12 26h1v1h-1zM16 26h1v1h-1zM26 26h1v1h-1zM29 26h1v1h-1zM1 27h1v1h-1zM3 27h1v1h-1zM29 27h1v1h-1zM1 29h1v1h-1zM3 29h1v1h-1zM30 29h1v1h-1zM8 31h1v1h-1zM17 31h1v1h-1zM27 32h1v1h-1zM8 33h2v1h-2zM20 33h1v1h-1zM20 34h1v1h-1zM18 35h1v1h-1zM27 35h1v1h-1zM2 36h1v1h-1zM16 36h1v1h-1zM3 37h1v1h-1zM7 37h1v1h-1zM24 37h1v1h-1zM29 37h1v1h-1zM1 38h1v1h-1zM14 38h1v1h-1zM18 38h1v1h-1zM29 38h1v1h-1zM25 39h1v1h-1zM29 39h1v1h-1zM3 43h1v1h-1zM15 45h1v1h-1zM23 45h1v1h-1z"/></svg>
<svg x="576.0" y="15.9" width="40.8" height="318.5" viewBox="0 0 29 50" preserveAspectRatio="none" shape-rendering="crispEdges"><path fill="#0000ff" d="M5 0h1v1h-1zM15 0h1v1h-1zM0 1h1v1h-1zM25 1h1v1h-1zM6 7h1v1h-1zM19 7h1v1h-1zM3 12h1v1h-1zM18 12h1v1h-1zM9 13h1v1h-1zM12 13h1v1h-1zM17 13h2v1h-2zM2 16h1v1h-1zM9 16h1v1h-1zM16 16h2v1h-2z"/><path fill="#3a24ff" d="M10 1h1v1h-1zM17 1h1v1h-1zM24 1h1v1h-1zM28 1h1v1h-1zM26 16h1v1h-1zM5 30h1v1h-1z"/><path fill="#583eff" d="M8 1h1v1h-1zM7 2h1v1h-1zM18 2h1v1h-1zM21 2h1v1h-1zM1 7h1v1h-1zM16 7h1v1h-1zM25 13h1v1h-1zM8 18h1v1h-1z"/><path fill="#7257ff" d="M10 0h1v1h-1zM6 1h1v1h-1zM1 2h1v1h-1zM11 2h1v1h-1zM24 2h1v1h-1zM26 2h1v1h-1zM16 3h1v1h-1zM23 3h1v1h-1zM7 4h1v1h-1zM4 5h1v1h-1zM14 5h1v1h-1zM19 5h1v1h-1zM19 6h1v1h-1zM7 7h1v1h-1zM14 7h1v1h-1zM25 7h1v1h-1zM6 8h1v1h-1zM16 8h1v1h-1zM26 8h1v1h-1zM8 10h1v1h-1zM8 12h2v1h-2zM19 12h2v1h-2zM7 14h1v1h-1zM17 14h2v1h-2zM19 15h1v1h-1zM4 16h1v1h-1zM11 16h1v1h-1zM15 16h1v1h-1zM1 18h1v1h-1zM4 18h1v1h-1zM10 18h1v1h-1zM12 18h1v1h-1zM14 18h1v1h-1zM25 18h1v1h-1zM18 19h1v1h-1z"/><path fill="#896fff" d="M17 0h1v1h-1zM26 0h1v1h-1zM3 1h1v1h-1zM26 1h1v1h-1zM0 2h1v1h-1zM2 2h2v1h-2zM6 2h1v1h-1zM8 2h1v1h-1zM15 2h1v1h-1zM17 2h1v1h-1zM20 2h1v1h-1zM25 2h1v1h-1zM27 2h2v1h-2zM2 3h1v1h-1zM24 3h1v1h-1zM6 4h1v1h-1zM14 4h1v1h-1zM25 4h1v1h-1zM2 5h1v1h-1zM7 5h1v1h-1zM11 5h1v1h-1zM18 5h1v1h-1zM7 6h1v1h-1zM9 6h1v1h-1zM16 6h1v1h-1zM4 7h2v1h-2zM11 7h1v1h-1zM24 7h1v1h-1zM2 8h1v1h-1zM7 8h1v1h-1zM15 8h1v1h-1zM19 8h1v1h-1zM25 8h1v1h-1zM28 8h1v1h-1zM4 10h1v1h-1zM14 10h1v1h-1zM16 10h2v1h-2zM24 10h1v1h-1zM19 11h1v1h-1zM26 11h1v1h-1zM0 12h1v1h-1zM14 12h1v1h-1zM16 12h1v1h-1zM16 13h1v1h-1zM23 13h1v1h-1zM0 14h1v1h-1zM11 14h1v1h-1zM23 14h1v1h-1zM25 14h1v1h-1zM27 14h2v1h-2zM6 15h2v1h-2zM9 15h1v1h-1zM15 15h1v1h-1zM23 15h1v1h-1zM28 15h1v1h-1zM8 16h1v1h-1zM18 16h2v1h-2zM24 16h1v1h-1zM1 17h1v1h-1zM8 17h1v1h-1zM20 17h2v1h-2zM25 17h1v1h-1zM28 17h1v1h-1zM0 18h1v1h-1zM2 18h2v1h-2zM5 18h2v1h-2zM9 18h1v1h-1zM15 18h5v1h-5zM23 18h1v1h-1zM26 18h1v1h-1zM28 18h1v1h-1zM2 19h1v1h-1zM7 19h1v1h-1zM10 19h1v1h-1zM14 19h2v1h-2zM19 19h1v1h-1zM21 19h1v1h-1zM15 24h1v1h-1z"/><path fill="#9e87ff" d="M13 0h1v1h-1zM18 0h1v1h-1zM21 0h1v1h-1zM25 0h1v1h-1zM10 2h1v1h-1zM16 2h1v1h-1zM23 2h1v1h-1zM0 3h2v1h-2zM3 3h1v1h-1zM6 3h1v1h-1zM8 3h1v1h-1zM15 3h1v1h-1zM19 3h3v1h-3zM27 3h1v1h-1zM1 4h3v1h-3zM12 4h1v1h-1zM16 4h4v1h-4zM24 4h1v1h-1zM26 4h1v1h-1zM3 5h1v1h-1zM5 5h1v1h-1zM8 5h1v1h-1zM12 5h2v1h-2zM20 5h1v1h-1zM22 5h2v1h-2zM25 5h3v1h-3zM2 6h1v1h-1zM5 6h1v1h-1zM8 6h1v1h-1zM11 6h2v1h-2zM14 6h1v1h-1zM18 6h1v1h-1zM26 6h3v1h-3zM0 7h1v1h-1zM17 7h1v1h-1zM20 7h1v1h-1zM22 7h2v1h-2zM0 8h2v1h-2zM3 8h2v1h-2zM8 8h2v1h-2zM11 8h1v1h-1zM14 8h1v1h-1zM17 8h2v1h-2zM21 8h4v1h-4zM16 9h1v1h-1zM0 10h3v1h-3zM6 10h1v1h-1zM10 10h1v1h-1zM13 10h1v1h-1zM18 10h3v1h-3zM23 10h1v1h-1zM25 10h1v1h-1zM28 10h1v1h-1zM7 11h1v1h-1zM9 11h1v1h-1zM16 11h1v1h-1zM21 11h1v1h-1zM24 11h2v1h-2zM4 12h1v1h-1zM12 12h1v1h-1zM25 12h1v1h-1zM28 12h1v1h-1zM1 13h3v1h-3zM10 13h1v1h-1zM24 13h1v1h-1zM27 13h1v1h-1zM2 14h1v1h-1zM5 14h1v1h-1zM8 14h1v1h-1zM12 14h1v1h-1zM15 14h1v1h-1zM19 14h1v1h-1zM24 14h1v1h-1zM0 15h5v1h-5zM8 15h1v1h-1zM11 15h1v1h-1zM13 15h2v1h-2zM16 15h3v1h-3zM20 15h1v1h-1zM22 15h1v1h-1zM26 15h2v1h-2zM0 16h1v1h-1zM6 16h1v1h-1zM28 16h1v1h-1zM0 17h1v1h-1zM2 17h2v1h-2zM6 17h1v1h-1zM12 17h1v1h-1zM14 17h1v1h-1zM16 17h3v1h-3zM22 17h1v1h-1zM24 17h1v1h-1zM26 17h1v1h-1zM11 18h1v1h-1zM13 18h1v1h-1zM21 18h2v1h-2zM24 18h1v1h-1zM0 19h1v1h-1zM4 19h1v1h-1zM9 19h1v1h-1zM12 19h1v1h-1zM16 19h1v1h-1zM24 19h1v1h-1zM26 19h1v1h-1zM2 22h1v1h-1zM22 22h1v1h-1zM12 24h1v1h-1zM16 24h2v1h-2zM19 24h1v1h-1zM25 24h3v1h-3zM2 25h1v1h-1z"/><path fill="#b39eff" d="M0 0h1v1h-1zM4 0h1v1h-1zM16 0h1v1h-1zM23 0h1v1h-1zM1 1h1v1h-1zM5 1h1v1h-1zM7 1h1v1h-1zM12 1h1v1h-1zM15 1h1v1h-1zM13 2h1v1h-1zM22 2h1v1h-1zM7 3h1v1h-1zM22 3h1v1h-1zM25 3h2v1h-2zM28 3h1v1h-1zM4 4h1v1h-1zM10 4h1v1h-1zM13 4h1v1h-1zM15 4h1v1h-1zM20 4h4v1h-4zM28 4h1v1h-1zM0 5h2v1h-2zM9 5h2v1h-2zM15 5h3v1h-3zM24 5h1v1h-1zM0 6h2v1h-2zM4 6h1v1h-1zM6 6h1v1h-1zM13 6h1v1h-1zM17 6h1v1h-1zM20 6h2v1h-2zM23 6h3v1h-3zM27 7h1v1h-1zM5 8h1v1h-1zM10 8h1v1h-1zM12 8h2v1h-2zM27 8h1v1h-1zM1 9h3v1h-3zM6 9h3v1h-3zM10 9h1v1h-1zM12 9h4v1h-4zM17 9h3v1h-3zM23 9h1v1h-1zM25 9h1v1h-1zM27 9h2v1h-2zM3 10h1v1h-1zM9 10h1v1h-1zM11 10h2v1h-2zM15 10h1v1h-1zM21 10h2v1h-2zM26 10h1v1h-1zM1 11h3v1h-3zM8 11h1v1h-1zM10 11h1v1h-1zM13 11h3v1h-3zM17 11h1v1h-1zM27 11h1v1h-1zM1 12h1v1h-1zM6 12h1v1h-1zM11 12h1v1h-1zM15 12h1v1h-1zM24 12h1v1h-1zM27 12h1v1h-1zM6 13h1v1h-1zM1 14h1v1h-1zM4 14h1v1h-1zM9 14h1v1h-1zM13 14h2v1h-2zM16 14h1v1h-1zM20 14h1v1h-1zM10 15h1v1h-1zM12 15h1v1h-1zM21 15h1v1h-1zM25 15h1v1h-1zM3 16h1v1h-1zM5 16h1v1h-1zM21 16h1v1h-1zM4 17h1v1h-1zM7 17h1v1h-1zM9 17h1v1h-1zM15 17h1v1h-1zM19 17h1v1h-1zM23 17h1v1h-1zM27 17h1v1h-1zM20 18h1v1h-1zM27 18h1v1h-1zM1 19h1v1h-1zM8 19h1v1h-1zM11 19h1v1h-1zM23 19h1v1h-1zM25 19h1v1h-1zM27 19h2v1h-2zM8 21h1v1h-1zM14 21h1v1h-1zM3 22h2v1h-2zM16 22h1v1h-1zM24 22h1v1h-1zM0 24h1v1h-1zM3 24h2v1h-2zM8 24h1v1h-1zM18 24h1v1h-1zM21 24h1v1h-1zM23 24h1v1h-1zM28 24h1v1h-1zM1 25h1v1h-1zM7 25h1v1h-1zM24 25h1v1h-1zM14 26h1v1h-1zM18 27h1v1h-1zM26 30h1v1h-1zM4 40h1v1h-1zM6 40h3v1h-3zM14 40h2v1h-2zM24 40h1v1h-1zM26 40h1v1h-1zM28 40h1v1h-1zM1 41h2v1h-2zM6 41h3v1h-3zM14 41h1v1h-1zM17 41h1v1h-1zM22 41h1v1h-1zM24 41h3v1h-3zM12 42h1v1h-1zM19 42h1v1h-1zM21 42h1v1h-1zM25 42h1v1h-1zM25 46h1v1h-1zM7 48h1v1h-1z"/><path fill="#c7b6ff" d="M20 0h1v1h-1zM5 2h1v1h-1zM4 3h1v1h-1zM9 3h1v1h-1zM17 3h1v1h-1zM0 4h1v1h-1zM5 4h1v1h-1zM9 4h1v1h-1zM11 4h1v1h-1zM27 4h1v1h-1zM6 5h1v1h-1zM28 5h1v1h-1zM10 6h1v1h-1zM15 6h1v1h-1zM22 6h1v1h-1zM20 8h1v1h-1zM5 9h1v1h-1zM20 9h2v1h-2zM26 9h1v1h-1zM5 10h1v1h-1zM7 10h1v1h-1zM27 10h1v1h-1zM0 11h1v1h-1zM4 11h3v1h-3zM11 11h1v1h-1zM18 11h1v1h-1zM20 11h1v1h-1zM22 11h2v1h-2zM28 11h1v1h-1zM5 12h1v1h-1zM10 12h1v1h-1zM13 12h1v1h-1zM26 12h1v1h-1zM3 14h1v1h-1zM6 14h1v1h-1zM21 14h2v1h-2zM26 14h1v1h-1zM1 16h1v1h-1zM20 16h1v1h-1zM10 17h1v1h-1zM13 17h1v1h-1zM7 18h1v1h-1zM5 19h2v1h-2zM13 19h1v1h-1zM17 19h1v1h-1zM20 19h1v1h-1zM4 20h1v1h-1zM21 20h1v1h-1zM27 20h1v1h-1zM4 21h1v1h-1zM11 21h2v1h-2zM15 21h1v1h-1zM17 21h1v1h-1zM19 21h1v1h-1zM21 21h1v1h-1zM24 21h1v1h-1zM7 22h1v1h-1zM13 22h1v1h-1zM15 22h1v1h-1zM25 22h1v1h-1zM4 23h1v1h-1zM14 23h1v1h-1zM16 23h1v1h-1zM18 23h1v1h-1zM23 23h2v1h-2zM26 23h1v1h-1zM1 24h2v1h-2zM5 24h1v1h-1zM14 24h1v1h-1zM22 24h1v1h-1zM24 24h1v1h-1zM3 25h1v1h-1zM6 25h1v1h-1zM19 25h1v1h-1zM25 25h1v1h-1zM2 26h2v1h-2zM7 26h1v1h-1zM15 26h1v1h-1zM26 26h1v1h-1zM20 30h1v1h-1zM2 31h1v1h-1zM8 31h1v1h-1zM4 35h1v1h-1zM26 37h1v1h-1zM19 39h1v1h-1zM1 40h2v1h-2zM9 40h5v1h-5zM16 40h2v1h-2zM19 40h4v1h-4zM25 40h1v1h-1zM0 41h1v1h-1zM3 41h2v1h-2zM10 41h3v1h-3zM15 41h2v1h-2zM18 41h2v1h-2zM21 41h1v1h-1zM27 41h1v1h-1zM0 42h1v1h-1zM2 42h1v1h-1zM4 42h5v1h-5zM10 42h2v1h-2zM14 42h4v1h-4zM23 42h2v1h-2zM26 42h1v1h-1zM28 42h1v1h-1zM2 46h1v1h-1zM8 46h1v1h-1zM19 46h1v1h-1zM19 47h1v1h-1z"/><path fill="#daceff" d="M1 0h1v1h-1zM6 0h1v1h-1zM9 0h1v1h-1zM11 0h1v1h-1zM22 0h1v1h-1zM24 0h1v1h-1zM23 1h1v1h-1zM3 7h1v1h-1zM26 7h1v1h-1zM0 9h1v1h-1zM4 9h1v1h-1zM9 9h1v1h-1zM11 9h1v1h-1zM22 9h1v1h-1zM24 9h1v1h-1zM12 11h1v1h-1zM10 14h1v1h-1zM10 16h1v1h-1zM7 20h1v1h-1zM14 20h1v1h-1zM17 20h1v1h-1zM19 20h1v1h-1zM25 20h2v1h-2zM0 21h3v1h-3zM6 21h1v1h-1zM13 21h1v1h-1zM20 21h1v1h-1zM23 21h1v1h-1zM27 21h1v1h-1zM1 22h1v1h-1zM6 22h1v1h-1zM8 22h1v1h-1zM10 22h2v1h-2zM14 22h1v1h-1zM26 22h2v1h-2zM10 23h1v1h-1zM17 23h1v1h-1zM6 24h1v1h-1zM9 24h2v1h-2zM20 24h1v1h-1zM0 25h1v1h-1zM9 25h1v1h-1zM11 25h1v1h-1zM21 25h2v1h-2zM26 25h1v1h-1zM28 25h1v1h-1zM0 26h2v1h-2zM4 26h1v1h-1zM8 26h1v1h-1zM10 26h1v1h-1zM12 26h2v1h-2zM16 26h1v1h-1zM19 26h1v1h-1zM23 26h1v1h-1zM8 27h1v1h-1zM26 27h1v1h-1zM8 30h1v1h-1zM12 30h1v1h-1zM21 30h3v1h-3zM25 30h1v1h-1zM27 30h1v1h-1zM6 35h1v1h-1zM18 35h1v1h-1zM14 36h1v1h-1zM8 37h1v1h-1zM3 40h1v1h-1zM5 40h1v1h-1zM18 40h1v1h-1zM27 40h1v1h-1zM5 41h1v1h-1zM9 41h1v1h-1zM13 41h1v1h-1zM20 41h1v1h-1zM23 41h1v1h-1zM28 41h1v1h-1zM1 42h1v1h-1zM3 42h1v1h-1zM9 42h1v1h-1zM13 42h1v1h-1zM18 42h1v1h-1zM20 42h1v1h-1zM27 42h1v1h-1zM2 43h1v1h-1zM2 45h1v1h-1zM7 45h1v1h-1zM12 45h1v1h-1zM4 46h1v1h-1zM6 46h2v1h-2zM9 46h6v1h-6zM16 46h1v1h-1zM18 46h1v1h-1zM21 46h1v1h-1zM23 46h1v1h-1zM26 46h1v1h-1zM28 46h1v1h-1zM2 47h1v1h-1zM8 48h1v1h-1z"/><path fill="#ede7ff" d="M3 0h1v1h-1zM11 3h1v1h-1zM22 19h1v1h-1zM1 20h2v1h-2zM10 20h1v1h-1zM18 20h1v1h-1zM3 21h1v1h-1zM18 21h1v1h-1zM25 21h2v1h-2zM28 21h1v1h-1zM0 22h1v1h-1zM9 22h1v1h-1zM19 22h1v1h-1zM23 22h1v1h-1zM2 23h1v1h-1zM9 23h1v1h-1zM20 23h3v1h-3zM27 23h2v1h-2zM10 25h1v1h-1zM12 25h1v1h-1zM14 25h1v1h-1zM16 25h1v1h-1zM18 25h1v1h-1zM23 25h1v1h-1zM5 26h1v1h-1zM20 26h2v1h-2zM27 26h1v1h-1zM4 29h1v1h-1zM16 30h1v1h-1zM24 30h1v1h-1zM28 30h1v1h-1zM18 31h1v1h-1zM26 31h1v1h-1zM14 33h1v1h-1zM24 33h1v1h-1zM26 35h1v1h-1zM25 37h1v1h-1zM3 39h1v1h-1zM0 40h1v1h-1zM22 42h1v1h-1zM8 43h1v1h-1zM19 43h1v1h-1zM1 44h1v1h-1zM13 44h1v1h-1zM27 44h1v1h-1zM14 45h1v1h-1zM28 45h1v1h-1zM0 46h2v1h-2zM3 46h1v1h-1zM15 46h1v1h-1zM20 46h1v1h-1zM22 46h1v1h-1zM24 46h1v1h-1zM27 46h1v1h-1zM16 47h1v1h-1zM24 47h2v1h-2zM14 48h1v1h-1zM2 49h2v1h-2z"/><path fill="#ffffff" d="M4 13h1v1h-1zM6 20h1v1h-1zM9 20h1v1h-1zM11 20h1v1h-1zM13 20h1v1h-1zM15 20h2v1h-2zM22 20h1v1h-1zM9 21h1v1h-1zM0 23h1v1h-1zM6 23h1v1h-1zM13 23h1v1h-1zM25 23h1v1h-1zM5 25h1v1h-1zM13 25h1v1h-1zM15 25h1v1h-1zM18 26h1v1h-1zM28 26h1v1h-1zM20 27h1v1h-1zM2 28h1v1h-1zM9 29h1v1h-1zM11 30h1v1h-1zM13 30h1v1h-1zM15 30h1v1h-1zM7 35h1v1h-1zM24 35h1v1h-1zM2 38h1v1h-1zM25 38h1v1h-1zM21 39h1v1h-1zM1 43h1v1h-1zM26 43h1v1h-1zM1 45h1v1h-1zM19 45h1v1h-1zM26 45h1v1h-1zM5 46h1v1h-1zM6 47h1v1h-1zM8 47h1v1h-1zM2 48h3v1h-3zM6 48h1v1h-1zM12 48h1v1h-1zM26 48h1v1h-1z"/><path fill="#ffe9e5" d="M8 0h1v1h-1zM9 1h1v1h-1zM11 1h1v1h-1zM13 1h1v1h-1zM22 12h1v1h-1zM7 13h1v1h-1zM13 13h1v1h-1zM19 13h1v1h-1zM26 13h1v1h-1zM7 16h1v1h-1zM12 16h1v1h-1zM22 16h2v1h-2zM27 16h1v1h-1zM0 20h1v1h-1zM10 21h1v1h-1zM3 23h1v1h-1zM12 23h1v1h-1zM8 25h1v1h-1zM9 26h1v1h-1zM22 26h1v1h-1zM14 27h2v1h-2zM6 28h1v1h-1zM26 28h1v1h-1zM19 29h1v1h-1zM0 30h1v1h-1zM19 31h1v1h-1zM19 32h1v1h-1zM4 33h1v1h-1zM7 34h1v1h-1zM16 34h1v1h-1zM19 34h1v1h-1zM25 34h1v1h-1zM8 35h1v1h-1zM14 35h1v1h-1zM4 36h1v1h-1zM6 36h2v1h-2zM1 38h1v1h-1zM4 39h1v1h-1zM8 39h1v1h-1zM0 43h1v1h-1zM24 43h1v1h-1zM2 44h1v1h-1zM4 44h1v1h-1zM19 44h1v1h-1zM16 45h1v1h-1zM21 45h1v1h-1zM25 45h1v1h-1zM4 47h1v1h-1zM14 47h1v1h-1zM16 48h1v1h-1zM19 48h3v1h-3zM25 48h1v1h-1zM28 48h1v1h-1zM6 49h1v1h-1zM14 49h1v1h-1zM26 49h2v1h-2z"/><path fill="#ffd4cc" d="M14 0h1v1h-1zM4 1h1v1h-1zM10 3h1v1h-1zM13 3h1v1h-1zM9 7h2v1h-2zM2 12h1v1h-1zM5 13h1v1h-1zM8 13h1v1h-1zM11 13h1v1h-1zM28 13h1v1h-1zM5 20h1v1h-1zM12 20h1v1h-1zM28 22h1v1h-1zM5 23h1v1h-1zM7 24h1v1h-1zM11 24h1v1h-1zM27 25h1v1h-1zM10 27h1v1h-1zM12 27h2v1h-2zM19 27h1v1h-1zM25 27h1v1h-1zM28 27h1v1h-1zM7 28h1v1h-1zM10 28h1v1h-1zM17 28h1v1h-1zM6 30h1v1h-1zM10 30h1v1h-1zM3 32h1v1h-1zM8 32h1v1h-1zM25 32h2v1h-2zM3 33h1v1h-1zM12 33h1v1h-1zM15 33h1v1h-1zM18 33h2v1h-2zM21 33h1v1h-1zM2 34h1v1h-1zM24 34h1v1h-1zM26 34h1v1h-1zM18 36h1v1h-1zM28 36h1v1h-1zM0 37h1v1h-1zM6 38h2v1h-2zM16 38h1v1h-1zM22 38h1v1h-1zM7 39h1v1h-1zM17 39h1v1h-1zM3 43h2v1h-2zM7 43h1v1h-1zM14 43h1v1h-1zM27 43h1v1h-1zM17 44h1v1h-1zM24 44h1v1h-1zM4 45h1v1h-1zM10 45h1v1h-1zM15 45h1v1h-1zM18 45h1v1h-1zM12 47h1v1h-1zM15 47h1v1h-1zM1 48h1v1h-1zM18 48h1v1h-1zM1 49h1v1h-1zM12 49h1v1h-1zM24 49h1v1h-1zM28 49h1v1h-1z"/><path fill="#ffbeb2" d="M21 1h1v1h-1zM4 2h1v1h-1zM12 2h1v1h-1zM19 2h1v1h-1zM23 12h1v1h-1zM20 13h1v1h-1zM13 16h1v1h-1zM8 20h1v1h-1zM24 20h1v1h-1zM8 23h1v1h-1zM6 26h1v1h-1zM17 26h1v1h-1zM2 27h1v1h-1zM5 27h2v1h-2zM16 27h1v1h-1zM21 27h1v1h-1zM5 28h1v1h-1zM8 28h1v1h-1zM20 28h2v1h-2zM10 29h1v1h-1zM18 29h1v1h-1zM1 30h1v1h-1zM7 31h1v1h-1zM21 31h1v1h-1zM23 31h1v1h-1zM28 31h1v1h-1zM17 32h1v1h-1zM10 33h1v1h-1zM16 33h1v1h-1zM25 33h2v1h-2zM0 34h1v1h-1zM3 34h1v1h-1zM1 36h1v1h-1zM3 36h1v1h-1zM12 36h1v1h-1zM16 36h2v1h-2zM7 37h1v1h-1zM16 37h1v1h-1zM3 38h1v1h-1zM12 38h1v1h-1zM23 38h1v1h-1zM26 38h1v1h-1zM6 39h1v1h-1zM11 39h4v1h-4zM18 39h1v1h-1zM13 43h1v1h-1zM18 43h1v1h-1zM23 43h1v1h-1zM25 43h1v1h-1zM0 44h1v1h-1zM7 44h2v1h-2zM10 44h1v1h-1zM12 44h1v1h-1zM14 44h1v1h-1zM26 44h1v1h-1zM6 45h1v1h-1zM13 45h1v1h-1zM17 45h1v1h-1zM23 45h1v1h-1zM27 45h1v1h-1zM17 46h1v1h-1zM7 47h1v1h-1zM9 47h3v1h-3zM13 47h1v1h-1zM17 47h1v1h-1zM26 47h1v1h-1zM28 47h1v1h-1zM17 48h1v1h-1zM24 48h1v1h-1zM7 49h1v1h-1zM16 49h1v1h-1zM23 49h1v1h-1z"/><path fill="#ffa899" d="M28 0h1v1h-1zM14 1h1v1h-1zM16 1h1v1h-1zM20 1h1v1h-1zM9 2h1v1h-1zM14 2h1v1h-1zM14 3h1v1h-1zM7 12h1v1h-1zM21 12h1v1h-1zM15 13h1v1h-1zM22 13h1v1h-1zM5 15h1v1h-1zM5 17h1v1h-1zM23 20h1v1h-1zM28 20h1v1h-1zM7 21h1v1h-1zM22 21h1v1h-1zM5 22h1v1h-1zM12 22h1v1h-1zM15 23h1v1h-1zM13 24h1v1h-1zM24 26h1v1h-1zM3 27h2v1h-2zM9 27h1v1h-1zM11 27h1v1h-1zM9 28h1v1h-1zM13 28h2v1h-2zM16 28h1v1h-1zM18 28h1v1h-1zM25 28h1v1h-1zM1 29h1v1h-1zM5 29h1v1h-1zM8 29h1v1h-1zM14 29h1v1h-1zM17 29h1v1h-1zM26 29h2v1h-2zM9 30h1v1h-1zM0 31h1v1h-1zM4 31h1v1h-1zM10 31h1v1h-1zM12 31h1v1h-1zM14 31h2v1h-2zM24 31h1v1h-1zM2 32h1v1h-1zM13 32h1v1h-1zM27 32h1v1h-1zM1 33h1v1h-1zM7 33h2v1h-2zM1 34h1v1h-1zM12 34h1v1h-1zM28 34h1v1h-1zM9 35h1v1h-1zM16 35h1v1h-1zM19 35h1v1h-1zM2 36h1v1h-1zM21 36h1v1h-1zM23 36h1v1h-1zM14 37h1v1h-1zM18 37h2v1h-2zM9 38h1v1h-1zM19 38h1v1h-1zM1 39h1v1h-1zM26 39h1v1h-1zM9 43h2v1h-2zM21 43h1v1h-1zM5 44h2v1h-2zM15 44h2v1h-2zM18 44h1v1h-1zM25 44h1v1h-1zM8 45h1v1h-1zM20 45h1v1h-1zM0 47h2v1h-2zM5 47h1v1h-1zM27 47h1v1h-1zM11 48h1v1h-1zM13 48h1v1h-1zM15 48h1v1h-1zM27 48h1v1h-1zM5 49h1v1h-1zM15 49h1v1h-1zM19 49h1v1h-1zM21 49h1v1h-1z"/><path fill="#ff9281" d="M2 0h1v1h-1zM7 0h1v1h-1zM12 0h1v1h-1zM18 1h1v1h-1zM22 1h1v1h-1zM27 1h1v1h-1zM21 5h1v1h-1zM8 7h1v1h-1zM21 13h1v1h-1zM24 15h1v1h-1zM25 16h1v1h-1zM11 26h1v1h-1zM1 27h1v1h-1zM23 27h1v1h-1zM1 28h1v1h-1zM3 28h1v1h-1zM15 28h1v1h-1zM19 28h1v1h-1zM28 28h1v1h-1zM6 29h1v1h-1zM2 30h1v1h-1zM7 30h1v1h-1zM14 30h1v1h-1zM19 30h1v1h-1zM3 31h1v1h-1zM6 31h1v1h-1zM9 31h1v1h-1zM11 32h2v1h-2zM14 32h1v1h-1zM21 32h1v1h-1zM24 32h1v1h-1zM2 33h1v1h-1zM27 33h2v1h-2zM17 34h2v1h-2zM22 34h2v1h-2zM0 35h1v1h-1zM2 35h1v1h-1zM13 35h1v1h-1zM20 36h1v1h-1zM25 36h2v1h-2zM2 37h1v1h-1zM17 37h1v1h-1zM0 38h1v1h-1zM4 38h1v1h-1zM13 38h1v1h-1zM18 38h1v1h-1zM21 38h1v1h-1zM24 38h1v1h-1zM0 39h1v1h-1zM2 39h1v1h-1zM5 39h1v1h-1zM15 39h2v1h-2zM25 39h1v1h-1zM11 43h2v1h-2zM16 43h1v1h-1zM28 43h1v1h-1zM20 44h2v1h-2zM23 44h1v1h-1zM0 45h1v1h-1zM5 45h1v1h-1zM24 45h1v1h-1zM3 47h1v1h-1zM18 47h1v1h-1zM20 47h2v1h-2zM23 47h1v1h-1zM0 48h1v1h-1zM9 48h1v1h-1zM23 48h1v1h-1zM10 49h1v1h-1zM13 49h1v1h-1zM17 49h1v1h-1zM20 49h1v1h-1zM22 49h1v1h-1zM25 49h1v1h-1z"/><path fill="#ff7b68" d="M2 1h1v1h-1zM5 3h1v1h-1zM18 3h1v1h-1zM13 7h1v1h-1zM15 7h1v1h-1zM21 7h1v1h-1zM28 7h1v1h-1zM17 12h1v1h-1zM0 13h1v1h-1zM14 16h1v1h-1zM11 17h1v1h-1zM20 22h1v1h-1zM1 23h1v1h-1zM4 25h1v1h-1zM17 25h1v1h-1zM25 26h1v1h-1zM12 28h1v1h-1zM27 28h1v1h-1zM7 29h1v1h-1zM15 29h1v1h-1zM24 29h1v1h-1zM3 30h2v1h-2zM17 30h1v1h-1zM1 31h1v1h-1zM13 31h1v1h-1zM25 31h1v1h-1zM27 31h1v1h-1zM5 32h3v1h-3zM15 32h2v1h-2zM10 34h1v1h-1zM14 34h1v1h-1zM11 35h1v1h-1zM15 35h1v1h-1zM17 35h1v1h-1zM21 35h1v1h-1zM23 35h1v1h-1zM25 35h1v1h-1zM10 36h2v1h-2zM13 36h1v1h-1zM22 36h1v1h-1zM3 37h2v1h-2zM6 37h1v1h-1zM15 37h1v1h-1zM23 37h1v1h-1zM27 37h2v1h-2zM5 38h1v1h-1zM17 38h1v1h-1zM9 39h1v1h-1zM24 39h1v1h-1zM23 40h1v1h-1zM5 43h2v1h-2zM3 44h1v1h-1zM9 44h1v1h-1zM11 44h1v1h-1zM22 44h1v1h-1zM22 47h1v1h-1zM8 49h1v1h-1z"/><path fill="#ff6450" d="M19 0h1v1h-1zM2 7h1v1h-1zM12 7h1v1h-1zM18 7h1v1h-1zM3 19h1v1h-1zM20 20h1v1h-1zM0 27h1v1h-1zM7 27h1v1h-1zM24 27h1v1h-1zM0 28h1v1h-1zM24 28h1v1h-1zM12 29h1v1h-1zM16 29h1v1h-1zM21 29h1v1h-1zM25 29h1v1h-1zM18 30h1v1h-1zM16 31h2v1h-2zM4 32h1v1h-1zM18 32h1v1h-1zM22 32h2v1h-2zM13 33h1v1h-1zM1 35h1v1h-1zM20 35h1v1h-1zM22 35h1v1h-1zM0 36h1v1h-1zM15 36h1v1h-1zM27 36h1v1h-1zM12 37h2v1h-2zM20 37h1v1h-1zM28 38h1v1h-1zM10 39h1v1h-1zM20 39h1v1h-1zM27 39h1v1h-1zM15 43h1v1h-1zM17 43h1v1h-1zM22 43h1v1h-1zM3 45h1v1h-1zM11 45h1v1h-1zM5 48h1v1h-1zM4 49h1v1h-1zM9 49h1v1h-1zM11 49h1v1h-1zM18 49h1v1h-1z"/><path fill="#ff4b37" d="M22 27h1v1h-1zM4 28h1v1h-1zM0 29h1v1h-1zM3 29h1v1h-1zM20 29h1v1h-1zM28 29h1v1h-1zM5 31h1v1h-1zM11 31h1v1h-1zM0 32h1v1h-1zM10 32h1v1h-1zM20 32h1v1h-1zM0 33h1v1h-1zM5 33h1v1h-1zM20 33h1v1h-1zM22 33h2v1h-2zM6 34h1v1h-1zM8 34h1v1h-1zM21 34h1v1h-1zM3 35h1v1h-1zM12 35h1v1h-1zM28 35h1v1h-1zM5 36h1v1h-1zM8 36h2v1h-2zM24 36h1v1h-1zM5 37h1v1h-1zM10 37h1v1h-1zM24 37h1v1h-1zM8 38h1v1h-1zM10 38h1v1h-1zM20 38h1v1h-1zM23 39h1v1h-1zM28 39h1v1h-1zM28 44h1v1h-1zM10 48h1v1h-1zM22 48h1v1h-1zM0 49h1v1h-1z"/><path fill="#ff2f1e" d="M3 20h1v1h-1zM7 23h1v1h-1zM17 27h1v1h-1zM27 27h1v1h-1zM11 28h1v1h-1zM2 29h1v1h-1zM23 29h1v1h-1zM20 31h1v1h-1zM1 32h1v1h-1zM9 32h1v1h-1zM28 32h1v1h-1zM4 34h1v1h-1zM9 34h1v1h-1zM11 34h1v1h-1zM13 34h1v1h-1zM15 34h1v1h-1zM20 34h1v1h-1zM5 35h1v1h-1zM1 37h1v1h-1zM9 37h1v1h-1zM21 37h1v1h-1zM15 38h1v1h-1zM22 39h1v1h-1zM20 43h1v1h-1zM9 45h1v1h-1z"/><path fill="#ff0000" d="M27 0h1v1h-1zM19 1h1v1h-1zM12 3h1v1h-1zM8 4h1v1h-1zM3 6h1v1h-1zM14 13h1v1h-1zM5 21h1v1h-1zM16 21h1v1h-1zM17 22h2v1h-2zM21 22h1v1h-1zM11 23h1v1h-1zM19 23h1v1h-1zM20 25h1v1h-1zM22 28h2v1h-2zM11 29h1v1h-1zM13 29h1v1h-1zM22 29h1v1h-1zM22 31h1v1h-1zM6 33h1v1h-1zM9 33h1v1h-1zM11 33h1v1h-1zM17 33h1v1h-1zM5 34h1v1h-1zM27 34h1v1h-1zM10 35h1v1h-1zM27 35h1v1h-1zM19 36h1v1h-1zM11 37h1v1h-1zM22 37h1v1h-1zM11 38h1v1h-1zM14 38h1v1h-1zM27 38h1v1h-1zM22 45h1v1h-1z"/></svg>
<svg x="617.7" y="15.9" width="28.8" height="318.5" viewBox="0 0 20 50" preserveAspectRatio="none" shape-rendering="crispEdges"><path fill="#0000ff" d="M10 1h1v1h-1zM19 1h1v1h-1zM16 6h1v1h-1zM5 7h1v1h-1z"/><path fill="#583eff" d="M6 6h1v1h-1z"/><path fill="#7257ff" d="M13 0h1v1h-1zM2 7h1v1h-1zM15 7h1v1h-1zM13 13h1v1h-1z"/><path fill="#896fff" d="M2 1h1v1h-1zM19 2h1v1h-1zM4 3h1v1h-1zM12 3h1v1h-1zM4 6h1v1h-1zM2 10h1v1h-1zM12 10h1v1h-1zM19 11h1v1h-1zM2 12h1v1h-1zM4 12h1v1h-1zM7 12h1v1h-1zM13 12h1v1h-1zM1 13h1v1h-1zM0 15h2v1h-2zM5 15h1v1h-1zM4 17h1v1h-1zM16 17h1v1h-1zM0 19h1v1h-1zM12 19h1v1h-1zM3 30h1v1h-1zM1 39h1v1h-1z"/><path fill="#9e87ff" d="M2 0h1v1h-1zM4 0h3v1h-3zM12 0h1v1h-1zM3 1h2v1h-2zM13 1h1v1h-1zM2 2h1v1h-1zM3 3h1v1h-1zM8 3h1v1h-1zM15 3h1v1h-1zM4 4h1v1h-1zM11 4h1v1h-1zM19 4h1v1h-1zM12 5h2v1h-2zM0 6h1v1h-1zM2 6h1v1h-1zM7 6h1v1h-1zM12 6h1v1h-1zM19 6h1v1h-1zM1 7h1v1h-1zM12 9h1v1h-1zM0 10h2v1h-2zM3 10h5v1h-5zM9 10h1v1h-1zM11 10h1v1h-1zM13 10h1v1h-1zM11 11h1v1h-1zM9 12h1v1h-1zM15 12h1v1h-1zM6 13h1v1h-1zM9 13h1v1h-1zM19 13h1v1h-1zM3 14h1v1h-1zM5 14h1v1h-1zM1 16h1v1h-1zM8 16h1v1h-1zM13 16h1v1h-1zM5 17h2v1h-2zM1 18h2v1h-2zM4 18h1v1h-1zM15 18h1v1h-1zM19 18h1v1h-1zM3 19h1v1h-1zM5 19h1v1h-1zM15 19h1v1h-1zM3 21h1v1h-1zM15 29h1v1h-1zM0 35h1v1h-1zM0 47h1v1h-1z"/><path fill="#b39eff" d="M0 0h1v1h-1zM3 0h1v1h-1zM17 0h1v1h-1zM8 1h1v1h-1zM15 1h1v1h-1zM1 2h1v1h-1zM0 3h3v1h-3zM11 3h1v1h-1zM13 3h2v1h-2zM16 3h1v1h-1zM18 3h2v1h-2zM2 4h1v1h-1zM5 4h1v1h-1zM17 4h1v1h-1zM3 5h1v1h-1zM6 5h2v1h-2zM9 5h1v1h-1zM5 6h1v1h-1zM9 6h1v1h-1zM7 7h1v1h-1zM0 8h3v1h-3zM6 8h3v1h-3zM15 8h1v1h-1zM18 8h1v1h-1zM4 9h1v1h-1zM9 9h1v1h-1zM8 10h1v1h-1zM15 10h1v1h-1zM17 10h1v1h-1zM19 10h1v1h-1zM1 11h3v1h-3zM5 11h1v1h-1zM9 11h1v1h-1zM12 11h1v1h-1zM1 12h1v1h-1zM3 12h1v1h-1zM6 12h1v1h-1zM19 12h1v1h-1zM5 13h1v1h-1zM7 13h1v1h-1zM10 13h1v1h-1zM0 14h1v1h-1zM10 14h1v1h-1zM12 14h1v1h-1zM4 15h1v1h-1zM9 15h2v1h-2zM13 15h2v1h-2zM18 15h2v1h-2zM4 16h1v1h-1zM9 16h2v1h-2zM15 16h1v1h-1zM0 17h4v1h-4zM9 17h1v1h-1zM12 17h1v1h-1zM15 17h1v1h-1zM17 17h1v1h-1zM3 18h1v1h-1zM5 18h1v1h-1zM12 18h1v1h-1zM1 19h1v1h-1zM8 19h1v1h-1zM10 19h1v1h-1zM18 19h2v1h-2zM0 21h1v1h-1zM2 21h1v1h-1zM6 21h1v1h-1zM17 21h1v1h-1zM5 22h1v1h-1zM5 27h1v1h-1zM13 27h1v1h-1zM2 30h1v1h-1zM3 31h1v1h-1zM5 31h1v1h-1zM12 37h1v1h-1z"/><path fill="#c7b6ff" d="M1 0h1v1h-1zM7 0h1v1h-1zM11 0h1v1h-1zM18 0h1v1h-1zM5 1h3v1h-3zM14 1h1v1h-1zM18 1h1v1h-1zM0 2h1v1h-1zM5 2h1v1h-1zM9 2h1v1h-1zM12 2h1v1h-1zM15 2h1v1h-1zM5 3h1v1h-1zM7 3h1v1h-1zM9 3h2v1h-2zM0 4h1v1h-1zM8 4h1v1h-1zM10 4h1v1h-1zM12 4h3v1h-3zM4 5h1v1h-1zM15 5h1v1h-1zM11 6h1v1h-1zM13 6h1v1h-1zM18 6h1v1h-1zM8 7h2v1h-2zM11 7h1v1h-1zM16 7h2v1h-2zM19 7h1v1h-1zM3 8h3v1h-3zM10 8h1v1h-1zM13 8h2v1h-2zM16 8h2v1h-2zM19 8h1v1h-1zM0 9h1v1h-1zM2 9h2v1h-2zM6 9h1v1h-1zM13 9h1v1h-1zM15 9h2v1h-2zM19 9h1v1h-1zM10 10h1v1h-1zM14 10h1v1h-1zM0 11h1v1h-1zM4 11h1v1h-1zM6 11h3v1h-3zM10 11h1v1h-1zM13 11h1v1h-1zM16 11h1v1h-1zM0 12h1v1h-1zM5 12h1v1h-1zM10 12h1v1h-1zM14 12h1v1h-1zM16 12h2v1h-2zM3 13h2v1h-2zM8 13h1v1h-1zM11 13h1v1h-1zM14 13h1v1h-1zM16 13h1v1h-1zM1 14h1v1h-1zM4 14h1v1h-1zM7 14h1v1h-1zM15 14h2v1h-2zM2 15h1v1h-1zM6 15h1v1h-1zM11 15h1v1h-1zM15 15h1v1h-1zM17 15h1v1h-1zM0 16h1v1h-1zM11 16h2v1h-2zM17 16h2v1h-2zM18 17h2v1h-2zM0 18h1v1h-1zM11 18h1v1h-1zM13 18h1v1h-1zM16 18h1v1h-1zM2 19h1v1h-1zM7 19h1v1h-1zM9 19h1v1h-1zM13 19h2v1h-2zM17 20h1v1h-1zM4 21h1v1h-1zM12 21h1v1h-1zM16 21h1v1h-1zM13 22h1v1h-1zM1 24h1v1h-1zM15 24h3v1h-3zM13 25h1v1h-1zM19 27h1v1h-1zM5 28h1v1h-1zM10 29h1v1h-1zM0 31h2v1h-2zM3 32h3v1h-3zM3 33h1v1h-1zM5 33h1v1h-1zM11 33h1v1h-1zM0 34h3v1h-3zM4 34h1v1h-1zM10 34h1v1h-1zM13 34h1v1h-1zM4 35h1v1h-1zM0 36h1v1h-1zM3 37h1v1h-1zM0 38h1v1h-1zM2 38h1v1h-1z"/><path fill="#daceff" d="M8 0h2v1h-2zM15 0h1v1h-1zM9 1h1v1h-1zM11 1h2v1h-2zM3 2h1v1h-1zM7 2h2v1h-2zM10 2h2v1h-2zM16 2h1v1h-1zM18 2h1v1h-1zM1 4h1v1h-1zM3 4h1v1h-1zM9 4h1v1h-1zM18 4h1v1h-1zM0 5h1v1h-1zM5 5h1v1h-1zM10 5h1v1h-1zM16 5h1v1h-1zM8 6h1v1h-1zM3 7h1v1h-1zM6 7h1v1h-1zM12 7h2v1h-2zM9 8h1v1h-1zM1 9h1v1h-1zM7 9h2v1h-2zM10 9h1v1h-1zM17 9h2v1h-2zM14 11h2v1h-2zM17 11h2v1h-2zM12 12h1v1h-1zM18 12h1v1h-1zM0 13h1v1h-1zM15 13h1v1h-1zM18 13h1v1h-1zM2 14h1v1h-1zM6 14h1v1h-1zM8 14h1v1h-1zM11 14h1v1h-1zM14 14h1v1h-1zM18 14h1v1h-1zM12 15h1v1h-1zM2 16h2v1h-2zM7 16h1v1h-1zM14 16h1v1h-1zM16 16h1v1h-1zM8 17h1v1h-1zM11 17h1v1h-1zM14 17h1v1h-1zM6 18h2v1h-2zM14 18h1v1h-1zM18 18h1v1h-1zM6 19h1v1h-1zM16 19h1v1h-1zM0 20h1v1h-1zM3 20h1v1h-1zM5 20h2v1h-2zM8 20h1v1h-1zM11 20h1v1h-1zM14 20h1v1h-1zM18 20h2v1h-2zM1 21h1v1h-1zM5 21h1v1h-1zM7 21h3v1h-3zM13 21h2v1h-2zM2 22h1v1h-1zM7 22h1v1h-1zM10 22h1v1h-1zM12 22h1v1h-1zM15 22h1v1h-1zM17 22h1v1h-1zM7 23h1v1h-1zM11 23h1v1h-1zM0 24h1v1h-1zM7 24h1v1h-1zM9 24h2v1h-2zM4 26h1v1h-1zM15 26h1v1h-1zM2 27h1v1h-1zM12 27h1v1h-1zM15 27h1v1h-1zM4 28h1v1h-1zM9 28h1v1h-1zM13 28h1v1h-1zM16 28h1v1h-1zM19 28h1v1h-1zM4 29h1v1h-1zM12 29h2v1h-2zM19 29h1v1h-1zM1 30h1v1h-1zM4 30h1v1h-1zM8 30h1v1h-1zM9 31h1v1h-1zM2 32h1v1h-1zM0 33h3v1h-3zM8 33h3v1h-3zM12 33h1v1h-1zM17 33h1v1h-1zM19 33h1v1h-1zM3 34h1v1h-1zM5 34h5v1h-5zM19 34h1v1h-1zM3 35h1v1h-1zM17 35h1v1h-1zM4 37h1v1h-1zM3 38h1v1h-1zM13 38h1v1h-1zM4 39h1v1h-1zM19 46h1v1h-1z"/><path fill="#ede7ff" d="M19 0h1v1h-1zM1 1h1v1h-1zM16 1h1v1h-1zM16 4h1v1h-1zM1 5h2v1h-2zM17 5h1v1h-1zM15 6h1v1h-1zM8 15h1v1h-1zM10 17h1v1h-1zM1 20h1v1h-1zM4 20h1v1h-1zM7 20h1v1h-1zM10 20h1v1h-1zM12 20h2v1h-2zM15 20h1v1h-1zM10 21h2v1h-2zM3 22h1v1h-1zM8 22h2v1h-2zM11 22h1v1h-1zM19 22h1v1h-1zM2 23h1v1h-1zM4 23h2v1h-2zM9 23h2v1h-2zM12 23h2v1h-2zM2 24h1v1h-1zM4 24h3v1h-3zM8 24h1v1h-1zM11 24h1v1h-1zM13 24h1v1h-1zM4 25h3v1h-3zM9 25h4v1h-4zM14 25h1v1h-1zM19 25h1v1h-1zM1 26h2v1h-2zM11 26h1v1h-1zM3 27h2v1h-2zM7 27h1v1h-1zM9 27h1v1h-1zM11 27h1v1h-1zM6 28h1v1h-1zM12 28h1v1h-1zM2 29h2v1h-2zM12 30h1v1h-1zM4 31h1v1h-1zM19 31h1v1h-1zM13 32h1v1h-1zM19 32h1v1h-1zM7 33h1v1h-1zM13 33h1v1h-1zM16 33h1v1h-1zM18 33h1v1h-1zM11 34h2v1h-2zM14 34h5v1h-5zM11 35h1v1h-1zM13 35h1v1h-1zM11 36h3v1h-3zM13 37h1v1h-1zM11 39h2v1h-2zM17 39h1v1h-1zM13 43h1v1h-1zM7 46h1v1h-1z"/><path fill="#ffffff" d="M14 9h1v1h-1zM2 13h1v1h-1zM16 20h1v1h-1zM1 22h1v1h-1zM6 22h1v1h-1zM14 22h1v1h-1zM16 22h1v1h-1zM0 23h2v1h-2zM6 23h1v1h-1zM14 23h2v1h-2zM19 23h1v1h-1zM14 24h1v1h-1zM18 24h1v1h-1zM1 25h1v1h-1zM3 25h1v1h-1zM7 25h1v1h-1zM17 25h1v1h-1zM3 26h1v1h-1zM6 26h2v1h-2zM10 26h1v1h-1zM12 26h1v1h-1zM8 27h1v1h-1zM16 27h1v1h-1zM18 27h1v1h-1zM7 28h1v1h-1zM11 28h1v1h-1zM14 28h2v1h-2zM17 28h2v1h-2zM5 30h1v1h-1zM11 30h1v1h-1zM15 30h1v1h-1zM7 31h2v1h-2zM13 31h1v1h-1zM1 32h1v1h-1zM2 35h1v1h-1zM9 35h1v1h-1zM12 35h1v1h-1zM3 36h1v1h-1zM6 37h1v1h-1zM4 38h1v1h-1zM3 39h1v1h-1zM7 39h3v1h-3zM0 43h1v1h-1zM3 43h1v1h-1zM9 43h1v1h-1zM4 46h1v1h-1zM1 47h1v1h-1zM4 47h1v1h-1zM12 47h1v1h-1zM5 49h1v1h-1z"/><path fill="#ffe9e5" d="M0 1h1v1h-1zM14 2h1v1h-1zM6 3h1v1h-1zM17 3h1v1h-1zM8 5h1v1h-1zM18 7h1v1h-1zM3 15h1v1h-1zM7 15h1v1h-1zM16 15h1v1h-1zM13 17h1v1h-1zM18 22h1v1h-1zM3 23h1v1h-1zM8 23h1v1h-1zM17 23h1v1h-1zM8 25h1v1h-1zM15 25h1v1h-1zM18 25h1v1h-1zM5 26h1v1h-1zM8 26h2v1h-2zM6 27h1v1h-1zM17 27h1v1h-1zM10 28h1v1h-1zM0 29h1v1h-1zM0 30h1v1h-1zM9 30h1v1h-1zM19 30h1v1h-1zM2 31h1v1h-1zM6 31h1v1h-1zM12 31h1v1h-1zM12 32h1v1h-1zM6 35h1v1h-1zM10 35h1v1h-1zM15 35h1v1h-1zM19 35h1v1h-1zM1 36h1v1h-1zM5 36h1v1h-1zM10 36h1v1h-1zM14 36h1v1h-1zM19 36h1v1h-1zM15 37h1v1h-1zM9 38h1v1h-1zM12 38h1v1h-1zM13 39h1v1h-1zM2 44h1v1h-1zM5 47h1v1h-1zM11 47h1v1h-1zM19 47h1v1h-1zM15 48h1v1h-1z"/><path fill="#ffd4cc" d="M10 0h1v1h-1zM13 2h1v1h-1zM14 5h1v1h-1zM11 9h1v1h-1zM8 12h1v1h-1zM19 14h1v1h-1zM17 18h1v1h-1zM15 21h1v1h-1zM19 21h1v1h-1zM4 22h1v1h-1zM12 24h1v1h-1zM16 26h1v1h-1zM19 26h1v1h-1zM1 27h1v1h-1zM8 28h1v1h-1zM1 29h1v1h-1zM5 29h1v1h-1zM9 29h1v1h-1zM16 29h1v1h-1zM18 29h1v1h-1zM7 30h1v1h-1zM13 30h1v1h-1zM18 30h1v1h-1zM10 31h1v1h-1zM15 31h1v1h-1zM9 32h1v1h-1zM15 32h1v1h-1zM14 33h1v1h-1zM5 35h1v1h-1zM2 36h1v1h-1zM4 36h1v1h-1zM6 36h1v1h-1zM18 36h1v1h-1zM2 37h1v1h-1zM5 37h1v1h-1zM10 37h2v1h-2zM16 37h2v1h-2zM1 38h1v1h-1zM5 38h3v1h-3zM18 38h2v1h-2zM19 42h1v1h-1zM11 43h2v1h-2zM12 46h1v1h-1zM2 47h1v1h-1zM15 47h1v1h-1z"/><path fill="#ffbeb2" d="M16 0h1v1h-1zM6 2h1v1h-1zM18 10h1v1h-1zM11 12h1v1h-1zM9 14h1v1h-1zM17 14h1v1h-1zM5 16h2v1h-2zM11 19h1v1h-1zM9 20h1v1h-1zM0 22h1v1h-1zM18 23h1v1h-1zM18 26h1v1h-1zM17 30h1v1h-1zM11 31h1v1h-1zM17 31h1v1h-1zM0 32h1v1h-1zM6 32h1v1h-1zM10 32h1v1h-1zM1 35h1v1h-1zM7 35h1v1h-1zM16 35h1v1h-1zM7 36h1v1h-1zM9 36h1v1h-1zM17 36h1v1h-1zM0 37h2v1h-2zM7 37h2v1h-2zM8 38h1v1h-1zM10 38h2v1h-2zM17 38h1v1h-1zM0 39h1v1h-1zM9 40h1v1h-1zM0 42h1v1h-1zM2 43h1v1h-1zM4 43h1v1h-1zM15 43h1v1h-1zM2 45h1v1h-1zM5 45h1v1h-1zM5 46h1v1h-1zM6 47h1v1h-1zM9 47h1v1h-1zM12 48h2v1h-2zM4 49h1v1h-1zM9 49h1v1h-1zM16 49h1v1h-1z"/><path fill="#ffa899" d="M4 2h1v1h-1zM17 2h1v1h-1zM7 4h1v1h-1zM15 4h1v1h-1zM1 6h1v1h-1zM14 6h1v1h-1zM4 7h1v1h-1zM14 7h1v1h-1zM12 8h1v1h-1zM19 16h1v1h-1zM8 18h1v1h-1zM16 25h1v1h-1zM0 26h1v1h-1zM0 27h1v1h-1zM0 28h1v1h-1zM6 29h3v1h-3zM10 30h1v1h-1zM16 31h1v1h-1zM8 32h1v1h-1zM16 32h1v1h-1zM4 33h1v1h-1zM15 36h1v1h-1zM14 37h1v1h-1zM15 38h2v1h-2zM5 39h1v1h-1zM15 39h1v1h-1zM5 43h1v1h-1zM7 43h1v1h-1zM19 43h1v1h-1zM13 45h1v1h-1zM0 46h1v1h-1zM8 46h3v1h-3zM3 47h1v1h-1zM13 47h1v1h-1zM17 47h1v1h-1zM0 48h1v1h-1zM0 49h1v1h-1zM12 49h2v1h-2z"/><path fill="#ff9281" d="M6 4h1v1h-1zM19 5h1v1h-1zM3 6h1v1h-1zM17 6h1v1h-1zM10 7h1v1h-1zM16 10h1v1h-1zM12 13h1v1h-1zM17 19h1v1h-1zM16 23h1v1h-1zM0 25h1v1h-1zM17 26h1v1h-1zM14 27h1v1h-1zM1 28h1v1h-1zM3 28h1v1h-1zM6 30h1v1h-1zM18 31h1v1h-1zM7 32h1v1h-1zM17 32h1v1h-1zM8 35h1v1h-1zM18 35h1v1h-1zM9 37h1v1h-1zM19 37h1v1h-1zM14 38h1v1h-1zM6 39h1v1h-1zM14 39h1v1h-1zM19 39h1v1h-1zM0 41h1v1h-1zM5 42h1v1h-1zM17 43h1v1h-1zM3 44h1v1h-1zM12 45h1v1h-1zM11 46h1v1h-1zM18 46h1v1h-1zM7 47h1v1h-1zM16 47h1v1h-1zM18 47h1v1h-1zM19 48h1v1h-1zM2 49h1v1h-1z"/><path fill="#ff7b68" d="M14 0h1v1h-1zM11 5h1v1h-1zM18 5h1v1h-1zM13 14h1v1h-1zM7 17h1v1h-1zM9 18h2v1h-2zM4 19h1v1h-1zM2 20h1v1h-1zM18 21h1v1h-1zM3 24h1v1h-1zM2 25h1v1h-1zM14 26h1v1h-1zM10 27h1v1h-1zM2 28h1v1h-1zM17 29h1v1h-1zM14 30h1v1h-1zM16 30h1v1h-1zM11 32h1v1h-1zM14 32h1v1h-1zM15 33h1v1h-1zM16 36h1v1h-1zM2 39h1v1h-1zM16 39h1v1h-1zM3 41h1v1h-1zM6 42h1v1h-1zM10 42h1v1h-1zM9 44h1v1h-1zM1 45h1v1h-1zM2 46h1v1h-1zM16 46h1v1h-1zM10 47h1v1h-1zM3 48h1v1h-1zM1 49h1v1h-1zM3 49h1v1h-1zM6 49h1v1h-1zM17 49h1v1h-1z"/><path fill="#ff6450" d="M17 1h1v1h-1zM0 7h1v1h-1zM13 26h1v1h-1zM11 29h1v1h-1zM14 31h1v1h-1zM18 32h1v1h-1zM8 36h1v1h-1zM18 37h1v1h-1zM10 39h1v1h-1zM1 40h1v1h-1zM4 40h1v1h-1zM12 40h1v1h-1zM4 42h1v1h-1zM7 42h1v1h-1zM12 42h1v1h-1zM1 43h1v1h-1zM6 43h1v1h-1zM4 44h1v1h-1zM13 44h1v1h-1zM19 44h1v1h-1zM0 45h1v1h-1zM4 45h1v1h-1zM7 45h1v1h-1zM11 45h1v1h-1zM15 45h1v1h-1zM3 46h1v1h-1zM6 46h1v1h-1zM13 46h1v1h-1zM8 47h1v1h-1zM1 48h1v1h-1zM5 48h1v1h-1zM8 49h1v1h-1zM10 49h1v1h-1zM15 49h1v1h-1z"/><path fill="#ff4b37" d="M5 9h1v1h-1zM14 29h1v1h-1zM14 35h1v1h-1zM2 40h1v1h-1zM4 41h1v1h-1zM7 41h1v1h-1zM10 43h1v1h-1zM11 44h1v1h-1zM1 46h1v1h-1zM14 46h2v1h-2zM6 48h1v1h-1zM9 48h1v1h-1zM14 49h1v1h-1z"/><path fill="#ff2f1e" d="M18 39h1v1h-1zM5 40h1v1h-1zM15 40h1v1h-1zM11 41h2v1h-2zM15 41h1v1h-1zM19 41h1v1h-1zM2 42h2v1h-2zM8 43h1v1h-1zM16 43h1v1h-1zM18 43h1v1h-1zM0 44h1v1h-1zM5 44h1v1h-1zM12 44h1v1h-1zM16 44h1v1h-1zM8 45h1v1h-1zM17 45h1v1h-1zM19 45h1v1h-1zM17 46h1v1h-1zM17 48h1v1h-1zM11 49h1v1h-1zM19 49h1v1h-1z"/><path fill="#ff0000" d="M10 6h1v1h-1zM11 8h1v1h-1zM17 13h1v1h-1zM19 24h1v1h-1zM6 33h1v1h-1zM0 40h1v1h-1zM3 40h1v1h-1zM6 40h3v1h-3zM10 40h2v1h-2zM13 40h2v1h-2zM16 40h4v1h-4zM1 41h2v1h-2zM5 41h2v1h-2zM8 41h3v1h-3zM13 41h2v1h-2zM16 41h3v1h-3zM1 42h1v1h-1zM8 42h2v1h-2zM11 42h1v1h-1zM13 42h6v1h-6zM14 43h1v1h-1zM1 44h1v1h-1zM6 44h3v1h-3zM10 44h1v1h-1zM14 44h2v1h-2zM17 44h2v1h-2zM3 45h1v1h-1zM6 45h1v1h-1zM9 45h2v1h-2zM14 45h1v1h-1zM16 45h1v1h-1zM18 45h1v1h-1zM14 47h1v1h-1zM2 48h1v1h-1zM4 48h1v1h-1zM7 48h2v1h-2zM10 48h2v1h-2zM14 48h1v1h-1zM16 48h1v1h-1zM18 48h1v1h-1zM7 49h1v1h-1zM18 49h1v1h-1z"/></svg>
<rect x="389.0" y="1" width="79.1" height="13.6" fill="#1B9E77"/>
<path d="M389.0 14.2H467.7V1" fill="none" stroke="#000" stroke-opacity="0.35" stroke-width="0.8"/>
<text x="428.6" y="11.3" font-size="9.5" text-anchor="middle" font-weight="bold" fill="#111">Cluster1</text>
<rect x="469.0" y="1" width="60.5" height="13.6" fill="#D95F02"/>
<path d="M469.0 14.2H529.1V1" fill="none" stroke="#000" stroke-opacity="0.35" stroke-width="0.8"/>
<text x="499.2" y="11.3" font-size="9.5" text-anchor="middle" font-weight="bold" fill="#111">Cluster2</text>
<rect x="530.6" y="1" width="44.4" height="13.6" fill="#7570B3"/>
<path d="M530.6 14.2H574.6V1" fill="none" stroke="#000" stroke-opacity="0.35" stroke-width="0.8"/>
<text x="552.8" y="11.3" font-size="9.5" text-anchor="middle" font-weight="bold" fill="#111">Cluster3</text>
<rect x="576.0" y="1" width="40.8" height="13.6" fill="#E7298A"/>
<path d="M576.0 14.2H616.4V1" fill="none" stroke="#000" stroke-opacity="0.35" stroke-width="0.8"/>
<text x="596.4" y="11.3" font-size="9.5" text-anchor="middle" font-weight="bold" fill="#111">Cluster4</text>
<rect x="617.7" y="1" width="28.8" height="13.6" fill="#66A61E"/>
<path d="M617.7 14.2H646.1V1" fill="none" stroke="#000" stroke-opacity="0.35" stroke-width="0.8"/>
<text x="632.1" y="11.3" font-size="9.5" text-anchor="middle" font-weight="bold" fill="#111">Clust5</text>
<text x="648.2" y="21.9" font-size="6.3" fill="#333">*</text>
<text x="648.2" y="28.3" font-size="6.3" fill="#333">IA-2</text>
<text x="648.2" y="34.6" font-size="6.3" fill="#333">CG1275</text>
<text x="648.2" y="41" font-size="6.3" fill="#333">VhaAC45</text>
<text x="648.2" y="47.4" font-size="6.3" fill="#333">CG32052</text>
<text x="648.2" y="53.7" font-size="6.3" fill="#333">jeb</text>
<text x="648.2" y="60.1" font-size="6.3" fill="#333">CG4341</text>
<text x="648.2" y="66.5" font-size="6.3" fill="#333">CG2269</text>
<text x="648.2" y="72.8" font-size="6.3" fill="#333">CG17691</text>
<text x="648.2" y="79.2" font-size="6.3" fill="#333">Fas3</text>
<text x="648.2" y="85.6" font-size="6.3" fill="#333">hig</text>
<text x="648.2" y="92" font-size="6.3" fill="#333">Cbp53E</text>
<text x="648.2" y="98.3" font-size="6.3" fill="#333">lncU</text>
<text x="648.2" y="104.7" font-size="6.3" fill="#333">Hasp</text>
<text x="648.2" y="111.1" font-size="6.3" fill="#333">Cyt-c1</text>
<text x="648.2" y="117.4" font-size="6.3" fill="#333">AnxB10</text>
<text x="648.2" y="123.8" font-size="6.3" fill="#333">Argk</text>
<text x="648.2" y="130.2" font-size="6.3" fill="#333">mbl</text>
<text x="648.2" y="136.5" font-size="6.3" fill="#333">Gapdh1</text>
<text x="648.2" y="142.9" font-size="6.3" fill="#333">CG9674</text>
<text x="648.2" y="149.3" font-size="6.3" fill="#333">Osi24</text>
<text x="648.2" y="155.7" font-size="6.3" fill="#333">**</text>
<text x="648.2" y="162" font-size="6.3" fill="#333">***</text>
<text x="648.2" y="168.4" font-size="6.3" fill="#333">#</text>
<text x="648.2" y="174.8" font-size="6.3" fill="#333">kirre</text>
<text x="648.2" y="181.1" font-size="6.3" fill="#333">snRNA:7SK</text>
<text x="648.2" y="187.5" font-size="6.3" fill="#333">CG42673</text>
<text x="648.2" y="193.9" font-size="6.3" fill="#333">##</text>
<text x="648.2" y="200.2" font-size="6.3" fill="#333">Hsp26</text>
<text x="648.2" y="206.6" font-size="6.3" fill="#333">HnRNP-K</text>
<text x="648.2" y="213" font-size="6.3" fill="#333">CG45263</text>
<text x="648.2" y="219.4" font-size="6.3" fill="#333">Plc21C</text>
<text x="648.2" y="225.7" font-size="6.3" fill="#333">Elk</text>
<text x="648.2" y="232.1" font-size="6.3" fill="#333">trv</text>
<text x="648.2" y="238.5" font-size="6.3" fill="#333">crb</text>
<text x="648.2" y="244.8" font-size="6.3" fill="#333">CG11191</text>
<text x="648.2" y="251.2" font-size="6.3" fill="#333">GlcAT-P</text>
<text x="648.2" y="257.6" font-size="6.3" fill="#333">dac</text>
<text x="648.2" y="263.9" font-size="6.3" fill="#333">Oamb</text>
<text x="648.2" y="270.3" font-size="6.3" fill="#333">bru2</text>
<text x="648.2" y="276.7" font-size="6.3" fill="#333">ab</text>
<text x="648.2" y="283.1" font-size="6.3" fill="#333">GstD11</text>
<text x="648.2" y="289.4" font-size="6.3" fill="#333">Pka-C3</text>
<text x="648.2" y="295.8" font-size="6.3" fill="#333">Pka-R2</text>
<text x="648.2" y="302.2" font-size="6.3" fill="#333">CG32204</text>
<text x="648.2" y="308.5" font-size="6.3" fill="#333">Rgk1</text>
<text x="648.2" y="314.9" font-size="6.3" fill="#333">hec</text>
<text x="648.2" y="321.3" font-size="6.3" fill="#333">jdp</text>
<text x="648.2" y="327.6" font-size="6.3" fill="#333">CG42402</text>
<text x="648.2" y="334" font-size="6.3" fill="#333">Pka-R1</text>
<text x="647.8" y="341.8" font-size="5.4" font-weight="bold" fill="#111">Condition</text>
<rect x="389.0" y="336" width="30.0" height="6.6" fill="#7CAE00"/>
<rect x="419" y="336" width="16.4" height="6.6" fill="#F8766D"/>
<rect x="435.4" y="336" width="32.7" height="6.6" fill="#C77CFF"/>
<rect x="469" y="336" width="17.7" height="6.6" fill="#7CAE00"/>
<rect x="486.7" y="336" width="42.8" height="6.6" fill="#C77CFF"/>
<rect x="530.6" y="336" width="8.8" height="6.6" fill="#7CAE00"/>
<rect x="539.4" y="336" width="12.3" height="6.6" fill="#00BFC4"/>
<rect x="551.7" y="336" width="23.3" height="6.6" fill="#F8766D"/>
<rect x="576" y="336" width="4" height="6.6" fill="#7CAE00"/>
<rect x="580" y="336" width="2.7" height="6.6" fill="#00BFC4"/>
<rect x="582.7" y="336" width="5.3" height="6.6" fill="#F8766D"/>
<rect x="588" y="336" width="28.8" height="6.6" fill="#00BFC4"/>
<rect x="617.7" y="336" width="5.5" height="6.6" fill="#7CAE00"/>
<rect x="623.2" y="336" width="4.1" height="6.6" fill="#00BFC4"/>
<rect x="627.3" y="336" width="6.6" height="6.6" fill="#F8766D"/>
<rect x="633.9" y="336" width="7.3" height="6.6" fill="#00BFC4"/>
<rect x="641.2" y="336" width="1.5" height="6.6" fill="#C77CFF"/>
<rect x="642.7" y="336" width="1.3" height="6.6" fill="#00BFC4"/>
<rect x="644" y="336" width="2.5" height="6.6" fill="#C77CFF"/>
<text x="389.7" y="350.4" font-size="6.35" fill="#3a3a3a">*lncRNA:CR31451</text>
<text x="444.2" y="350.4" font-size="6.35" fill="#3a3a3a">**28SrRNA-Psi:CR45869</text>
<text x="519.4" y="350.4" font-size="6.35" fill="#3a3a3a">***lncRNA:CR44999</text>
<text x="390.4" y="360" font-size="6.35" fill="#3a3a3a">#lncRNA:CR45347</text>
<text x="449.3" y="360" font-size="6.35" fill="#3a3a3a">##28SrRNA-Psi:CR40596</text>
<text x="593" y="353.5" font-size="8.3" font-weight="bold" fill="#111">Expression</text>
<text x="642.7" y="353.5" font-size="8.3" font-weight="bold" fill="#111">Level</text>
<defs><linearGradient id="lg" x1="0" x2="1" y1="0" y2="0"><stop offset="0" stop-color="#0000ff"/><stop offset="0.25" stop-color="#0000ff"/><stop offset="0.251" stop-color="#7060f4"/><stop offset="0.5" stop-color="#ffffff"/><stop offset="0.75" stop-color="#f65a48"/><stop offset="0.751" stop-color="#ff0000"/><stop offset="1" stop-color="#ff0000"/></linearGradient></defs>
<rect x="593.3" y="358.9" width="69.4" height="7.8" fill="url(#lg)"/>
<path d="M594 358.9v1.6M594 365.1v1.6" stroke="#fff" stroke-width="0.8"/>
<text x="594.5" y="374.6" font-size="6.6" text-anchor="middle" fill="#111">-2</text>
<path d="M610.9 358.9v1.6M610.9 365.1v1.6" stroke="#fff" stroke-width="0.8"/>
<text x="611.4" y="374.6" font-size="6.6" text-anchor="middle" fill="#111">-1</text>
<path d="M627.8 358.9v1.6M627.8 365.1v1.6" stroke="#fff" stroke-width="0.8"/>
<text x="627.8" y="374.6" font-size="6.6" text-anchor="middle" fill="#111">0</text>
<path d="M644.7 358.9v1.6M644.7 365.1v1.6" stroke="#fff" stroke-width="0.8"/>
<text x="645.2" y="374.6" font-size="6.6" text-anchor="middle" fill="#111">1</text>
<path d="M661.6 358.9v1.6M661.6 365.1v1.6" stroke="#fff" stroke-width="0.8"/>
<text x="662.1" y="374.6" font-size="6.6" text-anchor="middle" fill="#111">2</text>
<path d="M15.6 369.6V411.2H168" fill="none" stroke="#222" stroke-width="1"/>
<path d="M15.6 409.5h-2" stroke="#222" stroke-width="0.7"/>
<text x="14" y="412" font-size="7" text-anchor="end" fill="#333">0</text>
<path d="M15.6 399.9h-2" stroke="#222" stroke-width="0.7"/>
<text x="14" y="402.4" font-size="7" text-anchor="end" fill="#333">1</text>
<path d="M15.6 390.3h-2" stroke="#222" stroke-width="0.7"/>
<text x="14" y="392.8" font-size="7" text-anchor="end" fill="#333">2</text>
<path d="M15.6 380.7h-2" stroke="#222" stroke-width="0.7"/>
<text x="14" y="383.2" font-size="7" text-anchor="end" fill="#333">3</text>
<path d="M15.6 371.1h-2" stroke="#222" stroke-width="0.7"/>
<text x="14" y="373.6" font-size="7" text-anchor="end" fill="#333">4</text>
<text x="92.7" y="362.4" font-size="11.2" text-anchor="middle" font-weight="bold" fill="#000">ey</text>
<text transform="translate(5.2,390.4) rotate(-90)" font-size="7.5" text-anchor="middle" fill="#111">Expression Level</text>
<path d="M33.3 411.2v1.8" stroke="#222" stroke-width="0.7"/>
<text transform="translate(36.5,418) rotate(-45)" font-size="7.5" text-anchor="end" fill="#333">1</text>
<path d="M20.3 409.5h26" stroke="#222" stroke-width="0.8"/>
<path d="M33.3 409.5V397.5" stroke="#555" stroke-width="0.75"/>
<path d="M33.8 408.6h1.8v1.8h-1.8zM31.6 408.6h1.8v1.8h-1.8zM34.5 408.6h1.8v1.8h-1.8zM32.7 408.6h1.8v1.8h-1.8zM39.4 408.6h1.8v1.8h-1.8zM27.7 408.6h1.8v1.8h-1.8zM39.8 408.6h1.8v1.8h-1.8zM21.4 408.6h1.8v1.8h-1.8zM36.1 396.9h1.8v1.8h-1.8zM24.2 408.6h1.8v1.8h-1.8zM33.1 408.6h1.8v1.8h-1.8zM25 408.6h1.8v1.8h-1.8zM21.1 408.6h1.8v1.8h-1.8zM31 408.6h1.8v1.8h-1.8zM32.9 408.6h1.8v1.8h-1.8zM32.4 408.6h1.8v1.8h-1.8zM31.4 408.6h1.8v1.8h-1.8zM44.3 408.6h1.8v1.8h-1.8zM37.4 398.1h1.8v1.8h-1.8zM25.9 408.6h1.8v1.8h-1.8zM22.1 408.6h1.8v1.8h-1.8zM30 408.6h1.8v1.8h-1.8zM29.7 408.6h1.8v1.8h-1.8zM20.4 398h1.8v1.8h-1.8zM42.2 408.6h1.8v1.8h-1.8zM43.9 408.6h1.8v1.8h-1.8zM22.2 408.6h1.8v1.8h-1.8zM39.1 408.6h1.8v1.8h-1.8zM22.5 408.6h1.8v1.8h-1.8zM43.5 408.6h1.8v1.8h-1.8zM23.2 408.6h1.8v1.8h-1.8zM22.8 408.6h1.8v1.8h-1.8zM39.5 408.6h1.8v1.8h-1.8zM33.8 408.6h1.8v1.8h-1.8zM25 408.6h1.8v1.8h-1.8zM23.5 408.6h1.8v1.8h-1.8zM23.2 408.6h1.8v1.8h-1.8zM25.5 408.6h1.8v1.8h-1.8zM43.7 408.6h1.8v1.8h-1.8zM27.7 408.6h1.8v1.8h-1.8zM25.5 408.6h1.8v1.8h-1.8zM40.9 408.6h1.8v1.8h-1.8zM22.8 408.6h1.8v1.8h-1.8zM26.6 403.8h1.8v1.8h-1.8zM28.3 408.6h1.8v1.8h-1.8zM22.2 408.6h1.8v1.8h-1.8zM34.4 408.6h1.8v1.8h-1.8zM34.8 408.6h1.8v1.8h-1.8zM31.3 408.6h1.8v1.8h-1.8zM34.2 401.3h1.8v1.8h-1.8zM24.8 408.6h1.8v1.8h-1.8zM42.2 408.6h1.8v1.8h-1.8zM26.4 408.6h1.8v1.8h-1.8zM38.1 408.6h1.8v1.8h-1.8zM43.2 403.9h1.8v1.8h-1.8z" fill="#000"/>
<path d="M62.6 411.2v1.8" stroke="#222" stroke-width="0.7"/>
<text transform="translate(65.8,418) rotate(-45)" font-size="7.5" text-anchor="end" fill="#333">2</text>
<path d="M49.6 409.5h26" stroke="#222" stroke-width="0.8"/>
<path d="M62.6 409.5V392.2" stroke="#555" stroke-width="0.75"/>
<path d="M59.8 397h1.8v1.8h-1.8zM50.6 408.6h1.8v1.8h-1.8zM66.6 402.3h1.8v1.8h-1.8zM69.5 408.6h1.8v1.8h-1.8zM56.7 408.6h1.8v1.8h-1.8zM67 408.6h1.8v1.8h-1.8zM55.2 408.6h1.8v1.8h-1.8zM70.2 408.6h1.8v1.8h-1.8zM56.4 408.6h1.8v1.8h-1.8zM50.1 402.8h1.8v1.8h-1.8zM60.4 408.6h1.8v1.8h-1.8zM53.9 408.6h1.8v1.8h-1.8zM63.4 408.6h1.8v1.8h-1.8zM58.4 408.6h1.8v1.8h-1.8zM65.5 391.6h1.8v1.8h-1.8zM63.7 408.6h1.8v1.8h-1.8zM50.5 408.6h1.8v1.8h-1.8zM71.5 408.6h1.8v1.8h-1.8zM72.8 408.6h1.8v1.8h-1.8zM65 408.6h1.8v1.8h-1.8zM67.2 408.6h1.8v1.8h-1.8zM73.7 408.6h1.8v1.8h-1.8zM62.8 408.6h1.8v1.8h-1.8zM71.3 408.6h1.8v1.8h-1.8zM66.6 408.6h1.8v1.8h-1.8zM71.7 408.6h1.8v1.8h-1.8zM66.1 408.6h1.8v1.8h-1.8zM59.7 393.2h1.8v1.8h-1.8zM70.4 408.6h1.8v1.8h-1.8zM64.7 408.6h1.8v1.8h-1.8zM63.7 408.6h1.8v1.8h-1.8zM51.6 408.6h1.8v1.8h-1.8zM73.5 408.6h1.8v1.8h-1.8zM59 395.2h1.8v1.8h-1.8zM63.6 408.6h1.8v1.8h-1.8zM69.8 408.6h1.8v1.8h-1.8zM67.7 408.6h1.8v1.8h-1.8zM64.1 408.6h1.8v1.8h-1.8zM55.2 408.6h1.8v1.8h-1.8zM61.6 408.6h1.8v1.8h-1.8zM71.8 408.6h1.8v1.8h-1.8zM50 408.6h1.8v1.8h-1.8z" fill="#000"/>
<path d="M92 411.2v1.8" stroke="#222" stroke-width="0.7"/>
<text transform="translate(95.2,418) rotate(-45)" font-size="7.5" text-anchor="end" fill="#333">3</text>
<path d="M78.9 409.5L78.9 408.9L78.9 408.2L79.1 407.6L79.4 407L79.8 406.3L80.2 405.7L80.7 405.1L81.2 404.4L81.8 403.8L82.4 403.2L83 402.5L83.6 401.9L84.2 401.3L84.8 400.6L85.4 400L86 399.3L86.6 398.7L87.1 398.1L87.6 397.4L88 396.8L88.4 396.2L88.7 395.5L88.9 394.9L89 394.3L89 393.6L89 393L89 392.4L89 391.7L89 391.1L89 390.5L89 389.8L88.9 389.2L88.9 388.6L88.9 387.9L88.8 387.3L88.8 386.7L88.7 386L88.7 385.4L88.7 384.8L88.7 384.1L88.7 383.5L88.8 382.8L88.8 382.2L88.8 381.6L88.8 380.9L88.8 380.3L88.8 379.7L88.9 379L88.9 378.4L88.9 377.8L88.9 377.1L89 376.5L89 375.9L89 375.2L89 374.6L89 374L89 373.3L89 372.7L89 372.1L95 372.1L95 372.7L95 373.3L95 374L95 374.6L95 375.2L95 375.9L95 376.5L95.1 377.1L95.1 377.8L95.1 378.4L95.1 379L95.2 379.7L95.2 380.3L95.2 380.9L95.2 381.6L95.2 382.2L95.2 382.8L95.3 383.5L95.3 384.1L95.3 384.8L95.3 385.4L95.3 386L95.2 386.7L95.2 387.3L95.1 387.9L95.1 388.6L95.1 389.2L95 389.8L95 390.5L95 391.1L95 391.7L95 392.4L95 393L95 393.6L95 394.3L95.1 394.9L95.3 395.5L95.6 396.2L96 396.8L96.4 397.4L96.9 398.1L97.4 398.7L98 399.3L98.6 400L99.2 400.6L99.8 401.3L100.4 401.9L101 402.5L101.6 403.2L102.2 403.8L102.8 404.4L103.3 405.1L103.8 405.7L104.2 406.3L104.6 407L104.9 407.6L105.1 408.2L105.1 408.9L105.1 409.5Z" fill="#7570B3" stroke="#222" stroke-width="0.6"/>
<path d="M83.5 405.4h1.8v1.8h-1.8zM100.1 381.7h1.8v1.8h-1.8zM89.5 404.9h1.8v1.8h-1.8zM88.4 392.5h1.8v1.8h-1.8zM91 408.6h1.8v1.8h-1.8zM101.5 388.9h1.8v1.8h-1.8zM85.9 407h1.8v1.8h-1.8zM91 406.9h1.8v1.8h-1.8zM90 405h1.8v1.8h-1.8zM80.6 409.2h1.8v1.8h-1.8zM97.8 399h1.8v1.8h-1.8zM80.2 409.4h1.8v1.8h-1.8zM80.7 408.6h1.8v1.8h-1.8zM94.7 401.1h1.8v1.8h-1.8zM84.2 391.9h1.8v1.8h-1.8zM90.5 408.6h1.8v1.8h-1.8zM87.6 399.8h1.8v1.8h-1.8zM97 399.5h1.8v1.8h-1.8zM81.6 404.2h1.8v1.8h-1.8zM90 408.6h1.8v1.8h-1.8zM92.7 400.1h1.8v1.8h-1.8zM90.3 384.2h1.8v1.8h-1.8zM98.4 401.2h1.8v1.8h-1.8zM100.3 400.5h1.8v1.8h-1.8zM97.8 372.5h1.8v1.8h-1.8zM87.6 404.8h1.8v1.8h-1.8zM97.3 408.3h1.8v1.8h-1.8zM81.1 404.4h1.8v1.8h-1.8zM97.7 394.6h1.8v1.8h-1.8zM96.2 408.4h1.8v1.8h-1.8zM90.9 388.7h1.8v1.8h-1.8z" fill="#000"/>
<path d="M121 411.2v1.8" stroke="#222" stroke-width="0.7"/>
<text transform="translate(124.2,418) rotate(-45)" font-size="7.5" text-anchor="end" fill="#333">4</text>
<path d="M115.3 409.5L115.4 408.9L115.4 408.2L115.5 407.6L115.5 407L115.6 406.3L115.6 405.7L115.7 405.1L115.7 404.4L115.8 403.8L115.8 403.2L115.8 402.5L115.9 401.9L115.9 401.3L115.9 400.6L115.9 400L115.9 399.3L115.8 398.7L115.7 398.1L115.6 397.4L115.5 396.8L115.4 396.2L115.3 395.5L115 394.9L114.7 394.3L114.3 393.6L113.9 393L113.4 392.4L113 391.7L112.5 391.1L112.1 390.5L111.7 389.8L111.2 389.2L110.8 388.6L110.3 387.9L109.9 387.3L109.4 386.7L109 386L108.7 385.4L108.6 384.8L108.5 384.1L108.4 383.5L108.4 382.8L108.3 382.2L108.3 381.6L108.4 380.9L108.6 380.3L108.9 379.7L109.3 379L109.8 378.4L110.2 377.8L110.7 377.1L111.1 376.5L111.7 375.9L112.4 375.2L113.1 374.6L113.9 374L114.7 373.3L115.4 372.7L115.9 372.1L126.1 372.1L126.6 372.7L127.3 373.3L128.1 374L128.9 374.6L129.6 375.2L130.3 375.9L130.9 376.5L131.3 377.1L131.8 377.8L132.2 378.4L132.7 379L133.1 379.7L133.4 380.3L133.6 380.9L133.7 381.6L133.7 382.2L133.6 382.8L133.6 383.5L133.5 384.1L133.4 384.8L133.3 385.4L133 386L132.6 386.7L132.1 387.3L131.7 387.9L131.2 388.6L130.8 389.2L130.3 389.8L129.9 390.5L129.5 391.1L129 391.7L128.6 392.4L128.1 393L127.7 393.6L127.3 394.3L127 394.9L126.7 395.5L126.6 396.2L126.5 396.8L126.4 397.4L126.3 398.1L126.2 398.7L126.1 399.3L126.1 400L126.1 400.6L126.1 401.3L126.1 401.9L126.2 402.5L126.2 403.2L126.2 403.8L126.3 404.4L126.3 405.1L126.4 405.7L126.4 406.3L126.5 407L126.5 407.6L126.6 408.2L126.6 408.9L126.7 409.5Z" fill="#E7298A" stroke="#222" stroke-width="0.6"/>
<path d="M120.7 374.9h1.8v1.8h-1.8zM120.6 388.7h1.8v1.8h-1.8zM117.4 377.2h1.8v1.8h-1.8zM128.2 375.9h1.8v1.8h-1.8zM113.2 373h1.8v1.8h-1.8zM109.2 383.5h1.8v1.8h-1.8zM127 373h1.8v1.8h-1.8zM110.1 382.6h1.8v1.8h-1.8zM129.8 383.2h1.8v1.8h-1.8zM118.6 408.6h1.8v1.8h-1.8zM115.9 376.9h1.8v1.8h-1.8zM111.6 393.2h1.8v1.8h-1.8zM113.8 379.8h1.8v1.8h-1.8zM122.9 380.6h1.8v1.8h-1.8zM120.3 408.6h1.8v1.8h-1.8zM118.6 391.3h1.8v1.8h-1.8zM112.3 387h1.8v1.8h-1.8zM120.8 392.2h1.8v1.8h-1.8zM114 376.6h1.8v1.8h-1.8zM115.9 378.5h1.8v1.8h-1.8zM131.6 387.3h1.8v1.8h-1.8zM125.3 376.7h1.8v1.8h-1.8zM118.3 391h1.8v1.8h-1.8zM124.4 379.1h1.8v1.8h-1.8zM129.6 408.3h1.8v1.8h-1.8zM126 373.9h1.8v1.8h-1.8zM110.2 383.5h1.8v1.8h-1.8zM120.4 401.1h1.8v1.8h-1.8zM113.3 383.3h1.8v1.8h-1.8z" fill="#000"/>
<path d="M150 411.2v1.8" stroke="#222" stroke-width="0.7"/>
<text transform="translate(153.2,418) rotate(-45)" font-size="7.5" text-anchor="end" fill="#333">5</text>
<path d="M146.9 409.5L147 408.9L147 408.3L147.1 407.7L147.2 407.1L147.2 406.5L147.3 405.9L147.3 405.3L147.4 404.7L147.4 404.1L147.3 403.5L147.3 402.9L147.3 402.3L147.3 401.7L147.2 401.1L147.2 400.5L147.1 399.9L147 399.3L146.8 398.7L146.6 398.1L146.4 397.5L146.2 396.9L146 396.3L145.8 395.7L145.5 395.1L145.3 394.4L145 393.8L144.7 393.2L144.5 392.6L144.2 392L143.9 391.4L143.6 390.8L143.3 390.2L143 389.6L142.6 389L142.3 388.4L141.9 387.8L141.5 387.2L141.2 386.6L140.8 386L140.4 385.4L140 384.8L139.5 384.2L139.1 383.6L138.6 383L138.2 382.4L137.7 381.8L137.4 381.2L137.3 380.6L137.5 380L137.8 379.4L138.2 378.8L138.7 378.2L139.2 377.6L139.8 377L140.8 376.4L142 375.8L143.3 375.2L144.5 374.6L145.4 374L154.6 374L155.5 374.6L156.7 375.2L158 375.8L159.2 376.4L160.2 377L160.8 377.6L161.3 378.2L161.8 378.8L162.2 379.4L162.5 380L162.7 380.6L162.6 381.2L162.3 381.8L161.8 382.4L161.4 383L160.9 383.6L160.5 384.2L160 384.8L159.6 385.4L159.2 386L158.8 386.6L158.5 387.2L158.1 387.8L157.7 388.4L157.4 389L157 389.6L156.7 390.2L156.4 390.8L156.1 391.4L155.8 392L155.5 392.6L155.3 393.2L155 393.8L154.7 394.4L154.5 395.1L154.2 395.7L154 396.3L153.8 396.9L153.6 397.5L153.4 398.1L153.2 398.7L153 399.3L152.9 399.9L152.8 400.5L152.8 401.1L152.7 401.7L152.7 402.3L152.7 402.9L152.7 403.5L152.6 404.1L152.6 404.7L152.7 405.3L152.7 405.9L152.8 406.5L152.8 407.1L152.9 407.7L153 408.3L153 408.9L153.1 409.5Z" fill="#66A61E" stroke="#222" stroke-width="0.6"/>
<path d="M139.8 376.1h1.8v1.8h-1.8zM155.2 397.3h1.8v1.8h-1.8zM147.5 385.3h1.8v1.8h-1.8zM157 381.8h1.8v1.8h-1.8zM146.9 389.8h1.8v1.8h-1.8zM138 390h1.8v1.8h-1.8zM157.4 375.6h1.8v1.8h-1.8zM149.2 380.5h1.8v1.8h-1.8zM158.6 373.3h1.8v1.8h-1.8zM146.9 377.9h1.8v1.8h-1.8zM155.2 375.4h1.8v1.8h-1.8zM139.2 378.7h1.8v1.8h-1.8zM145.8 408.6h1.8v1.8h-1.8zM159.3 379.6h1.8v1.8h-1.8zM150.7 380.2h1.8v1.8h-1.8zM152.4 381.9h1.8v1.8h-1.8zM138.1 378.8h1.8v1.8h-1.8zM146.8 379.8h1.8v1.8h-1.8zM139.9 400.7h1.8v1.8h-1.8zM149.3 386.6h1.8v1.8h-1.8z" fill="#000"/>
<path d="M15.3 440.4V480.6H168" fill="none" stroke="#222" stroke-width="1"/>
<path d="M15.3 479.4h-2" stroke="#222" stroke-width="0.7"/>
<text x="13.7" y="481.9" font-size="7" text-anchor="end" fill="#333">0</text>
<path d="M15.3 471.8h-2" stroke="#222" stroke-width="0.7"/>
<text x="13.7" y="474.3" font-size="7" text-anchor="end" fill="#333">1</text>
<path d="M15.3 464.2h-2" stroke="#222" stroke-width="0.7"/>
<text x="13.7" y="466.7" font-size="7" text-anchor="end" fill="#333">2</text>
<path d="M15.3 456.6h-2" stroke="#222" stroke-width="0.7"/>
<text x="13.7" y="459.1" font-size="7" text-anchor="end" fill="#333">3</text>
<path d="M15.3 449h-2" stroke="#222" stroke-width="0.7"/>
<text x="13.7" y="451.5" font-size="7" text-anchor="end" fill="#333">4</text>
<path d="M15.3 441.4h-2" stroke="#222" stroke-width="0.7"/>
<text x="13.7" y="443.9" font-size="7" text-anchor="end" fill="#333">5</text>
<text x="91" y="433.6" font-size="11.2" text-anchor="middle" font-weight="bold" fill="#000">mub</text>
<text transform="translate(4.9,460.5) rotate(-90)" font-size="7.5" text-anchor="middle" fill="#111">Expression Level</text>
<path d="M33.3 480.6v1.8" stroke="#222" stroke-width="0.7"/>
<text transform="translate(36.5,487.4) rotate(-45)" font-size="7.5" text-anchor="end" fill="#333">1</text>
<path d="M25.3 479.4L25.3 479L25.3 478.5L25.4 478.1L25.6 477.7L25.9 477.3L26.2 476.8L26.6 476.4L26.9 476L27.1 475.6L27 475.1L26.9 474.7L26.7 474.3L26.5 473.9L26.2 473.4L25.8 473L25.3 472.6L24.8 472.2L24.2 471.7L23.7 471.3L23.1 470.9L22.7 470.5L22.3 470L22 469.6L21.8 469.2L21.6 468.8L21.5 468.3L21.3 467.9L21.1 467.5L20.9 467.1L20.7 466.6L20.5 466.2L20.4 465.8L20.3 465.4L20.3 464.9L20.3 464.5L20.3 464.1L20.3 463.7L20.3 463.2L20.3 462.8L20.3 462.4L20.3 462L20.3 461.5L20.4 461.1L20.6 460.7L20.9 460.3L21.2 459.8L21.4 459.4L21.7 459L22 458.6L22.4 458.1L22.9 457.7L23.4 457.3L23.9 456.9L24.5 456.4L25.2 456L26.1 455.6L27.1 455.2L28.1 454.7L28.8 454.3L37.8 454.3L38.5 454.7L39.5 455.2L40.5 455.6L41.4 456L42.1 456.4L42.7 456.9L43.2 457.3L43.7 457.7L44.2 458.1L44.6 458.6L44.9 459L45.2 459.4L45.4 459.8L45.7 460.3L46 460.7L46.2 461.1L46.3 461.5L46.3 462L46.3 462.4L46.3 462.8L46.3 463.2L46.3 463.7L46.3 464.1L46.3 464.5L46.3 464.9L46.3 465.4L46.2 465.8L46.1 466.2L45.9 466.6L45.7 467.1L45.5 467.5L45.3 467.9L45.1 468.3L45 468.8L44.8 469.2L44.6 469.6L44.3 470L43.9 470.5L43.5 470.9L42.9 471.3L42.4 471.7L41.8 472.2L41.3 472.6L40.8 473L40.4 473.4L40.1 473.9L39.9 474.3L39.7 474.7L39.6 475.1L39.5 475.6L39.7 476L40 476.4L40.4 476.8L40.7 477.3L41 477.7L41.2 478.1L41.3 478.5L41.3 479L41.3 479.4Z" fill="#1B9E77" stroke="#222" stroke-width="0.6"/>
<path d="M35.6 455.2h1.8v1.8h-1.8zM38.4 459.5h1.8v1.8h-1.8zM31.8 476.3h1.8v1.8h-1.8zM22.2 470.9h1.8v1.8h-1.8zM34.7 456.1h1.8v1.8h-1.8zM33.8 467.1h1.8v1.8h-1.8zM21.2 468h1.8v1.8h-1.8zM38.3 469.7h1.8v1.8h-1.8zM22.1 465.5h1.8v1.8h-1.8zM41.7 478.5h1.8v1.8h-1.8zM26.5 465.5h1.8v1.8h-1.8zM31.7 463.2h1.8v1.8h-1.8zM23.5 454.2h1.8v1.8h-1.8zM22.1 462.4h1.8v1.8h-1.8zM36.3 464.5h1.8v1.8h-1.8zM30.5 465.5h1.8v1.8h-1.8zM42.8 459.4h1.8v1.8h-1.8zM41.4 478.5h1.8v1.8h-1.8zM27.1 459.3h1.8v1.8h-1.8zM35.5 460.9h1.8v1.8h-1.8zM43.4 460.6h1.8v1.8h-1.8zM22.3 478.5h1.8v1.8h-1.8zM23.3 468.5h1.8v1.8h-1.8zM36.5 478.5h1.8v1.8h-1.8zM31.9 463.1h1.8v1.8h-1.8zM40.2 470.2h1.8v1.8h-1.8zM35.2 476.2h1.8v1.8h-1.8zM26.8 460.2h1.8v1.8h-1.8zM43.7 459h1.8v1.8h-1.8zM42.1 467.3h1.8v1.8h-1.8zM41 478.5h1.8v1.8h-1.8zM32.1 476h1.8v1.8h-1.8zM22.6 461.3h1.8v1.8h-1.8zM27.9 478.5h1.8v1.8h-1.8zM24.2 460.1h1.8v1.8h-1.8zM23.6 466.4h1.8v1.8h-1.8zM42.5 460.6h1.8v1.8h-1.8zM27.9 457h1.8v1.8h-1.8zM41.5 467.5h1.8v1.8h-1.8zM29.3 469.2h1.8v1.8h-1.8zM33.9 466.3h1.8v1.8h-1.8zM33.8 459.1h1.8v1.8h-1.8zM27.4 470.5h1.8v1.8h-1.8zM34 477.8h1.8v1.8h-1.8zM22.4 455.1h1.8v1.8h-1.8zM22.8 478.5h1.8v1.8h-1.8zM35.5 478.5h1.8v1.8h-1.8zM26.5 471.5h1.8v1.8h-1.8zM38.5 469.2h1.8v1.8h-1.8zM36.4 466.4h1.8v1.8h-1.8zM37.2 464.2h1.8v1.8h-1.8zM36.2 456.7h1.8v1.8h-1.8zM41.3 457.7h1.8v1.8h-1.8zM37.2 455.4h1.8v1.8h-1.8zM24.3 459.3h1.8v1.8h-1.8z" fill="#000"/>
<path d="M62.6 480.6v1.8" stroke="#222" stroke-width="0.7"/>
<text transform="translate(65.8,487.4) rotate(-45)" font-size="7.5" text-anchor="end" fill="#333">2</text>
<path d="M59.3 477.9L58.9 477.5L58.3 477.1L57.6 476.7L56.9 476.4L56.3 476L55.7 475.6L55.2 475.2L54.8 474.8L54.4 474.5L54 474.1L53.6 473.7L53.2 473.3L52.8 472.9L52.4 472.6L52 472.2L51.7 471.8L51.4 471.4L51.2 471L51 470.7L50.8 470.3L50.6 469.9L50.4 469.5L50.2 469.1L50 468.8L49.8 468.4L49.8 468L49.8 467.6L50 467.2L50.2 466.9L50.4 466.5L50.6 466.1L50.8 465.7L51 465.3L51.2 465L51.4 464.6L51.7 464.2L52 463.8L52.4 463.4L52.8 463.1L53.2 462.7L53.6 462.3L54 461.9L54.4 461.5L54.8 461.2L55.2 460.8L55.6 460.4L56 460L56.4 459.6L56.8 459.3L57.2 458.9L57.6 458.5L58 458.1L58.4 457.7L58.8 457.4L59.2 457L59.7 456.6L60.3 456.2L60.9 455.8L61.3 455.5L63.9 455.5L64.3 455.8L64.9 456.2L65.5 456.6L66 457L66.4 457.4L66.8 457.7L67.2 458.1L67.6 458.5L68 458.9L68.4 459.3L68.8 459.6L69.2 460L69.6 460.4L70 460.8L70.4 461.2L70.8 461.5L71.2 461.9L71.6 462.3L72 462.7L72.4 463.1L72.8 463.4L73.2 463.8L73.5 464.2L73.8 464.6L74 465L74.2 465.3L74.4 465.7L74.6 466.1L74.8 466.5L75 466.9L75.2 467.2L75.4 467.6L75.4 468L75.4 468.4L75.2 468.8L75 469.1L74.8 469.5L74.6 469.9L74.4 470.3L74.2 470.7L74 471L73.8 471.4L73.5 471.8L73.2 472.2L72.8 472.6L72.4 472.9L72 473.3L71.6 473.7L71.2 474.1L70.8 474.5L70.4 474.8L70 475.2L69.5 475.6L68.9 476L68.3 476.4L67.6 476.7L66.9 477.1L66.3 477.5L65.9 477.9Z" fill="#D95F02" stroke="#222" stroke-width="0.6"/>
<path d="M58.8 463h1.8v1.8h-1.8zM60 472h1.8v1.8h-1.8zM51.6 469h1.8v1.8h-1.8zM65.1 469.8h1.8v1.8h-1.8zM51.6 463.5h1.8v1.8h-1.8zM71.1 467.2h1.8v1.8h-1.8zM54.4 475.2h1.8v1.8h-1.8zM66.7 471.1h1.8v1.8h-1.8zM54.5 466h1.8v1.8h-1.8zM67.6 470.3h1.8v1.8h-1.8zM69 469.3h1.8v1.8h-1.8zM70.6 467.4h1.8v1.8h-1.8zM62.8 460.2h1.8v1.8h-1.8zM55.3 458.6h1.8v1.8h-1.8zM68.6 473.8h1.8v1.8h-1.8zM62.1 468.4h1.8v1.8h-1.8zM65.3 469.2h1.8v1.8h-1.8zM61.1 471.1h1.8v1.8h-1.8zM66.6 468.1h1.8v1.8h-1.8zM53.8 466.1h1.8v1.8h-1.8zM70.2 469.6h1.8v1.8h-1.8zM73 466.6h1.8v1.8h-1.8zM53.7 469.8h1.8v1.8h-1.8zM69.1 463.7h1.8v1.8h-1.8zM52.1 461.2h1.8v1.8h-1.8zM52.4 469.6h1.8v1.8h-1.8zM72.2 467.1h1.8v1.8h-1.8zM57.2 465.4h1.8v1.8h-1.8zM71.3 462.9h1.8v1.8h-1.8zM55 472.9h1.8v1.8h-1.8zM53.8 466.4h1.8v1.8h-1.8zM57.3 462.2h1.8v1.8h-1.8zM60.9 473.8h1.8v1.8h-1.8zM66 464.1h1.8v1.8h-1.8zM60.8 473.1h1.8v1.8h-1.8zM65.2 457.5h1.8v1.8h-1.8zM66.5 476h1.8v1.8h-1.8zM60.7 470.4h1.8v1.8h-1.8zM68.6 475.5h1.8v1.8h-1.8zM56.9 470.9h1.8v1.8h-1.8zM57.1 468.4h1.8v1.8h-1.8zM65.5 469.2h1.8v1.8h-1.8z" fill="#000"/>
<path d="M92 480.6v1.8" stroke="#222" stroke-width="0.7"/>
<text transform="translate(95.2,487.4) rotate(-45)" font-size="7.5" text-anchor="end" fill="#333">3</text>
<path d="M81.9 479.4L81.7 478.9L81.5 478.3L81.3 477.8L81.2 477.2L81.2 476.7L81.3 476.2L81.4 475.6L81.5 475.1L81.7 474.5L81.8 474L82 473.4L82.2 472.9L82.5 472.4L82.8 471.8L83.1 471.3L83.4 470.7L83.6 470.2L83.8 469.7L84 469.1L84.1 468.6L84.2 468L84.3 467.5L84.3 467L84.4 466.4L84.4 465.9L84.4 465.3L84.4 464.8L84.3 464.3L84.2 463.7L84.2 463.2L84.1 462.6L83.9 462.1L83.8 461.5L83.5 461L83.2 460.5L82.9 459.9L82.7 459.4L82.4 458.8L82.1 458.3L81.8 457.8L81.5 457.2L81.2 456.7L81 456.1L80.7 455.6L80.4 455.1L80.2 454.5L80 454L79.9 453.4L79.8 452.9L79.7 452.3L79.7 451.8L79.6 451.3L79.6 450.7L79.7 450.2L79.9 449.6L80.2 449.1L80.5 448.6L80.7 448L80.9 447.5L103.1 447.5L103.3 448L103.5 448.6L103.8 449.1L104.1 449.6L104.3 450.2L104.4 450.7L104.4 451.3L104.3 451.8L104.3 452.3L104.2 452.9L104.1 453.4L104 454L103.8 454.5L103.6 455.1L103.3 455.6L103 456.1L102.8 456.7L102.5 457.2L102.2 457.8L101.9 458.3L101.6 458.8L101.3 459.4L101.1 459.9L100.8 460.5L100.5 461L100.2 461.5L100.1 462.1L99.9 462.6L99.8 463.2L99.8 463.7L99.7 464.3L99.6 464.8L99.6 465.3L99.6 465.9L99.6 466.4L99.7 467L99.7 467.5L99.8 468L99.9 468.6L100 469.1L100.2 469.7L100.4 470.2L100.6 470.7L100.9 471.3L101.2 471.8L101.5 472.4L101.8 472.9L102 473.4L102.2 474L102.3 474.5L102.5 475.1L102.6 475.6L102.7 476.2L102.8 476.7L102.8 477.2L102.7 477.8L102.5 478.3L102.3 478.9L102.1 479.4Z" fill="#7570B3" stroke="#222" stroke-width="0.6"/>
<path d="M87.2 471.4h1.8v1.8h-1.8zM87.2 447.7h1.8v1.8h-1.8zM81.8 478.5h1.8v1.8h-1.8zM88.9 453.5h1.8v1.8h-1.8zM84.8 478.5h1.8v1.8h-1.8zM81.3 474.8h1.8v1.8h-1.8zM94.5 448.7h1.8v1.8h-1.8zM87.2 451.2h1.8v1.8h-1.8zM95.7 464.5h1.8v1.8h-1.8zM93.6 446.4h1.8v1.8h-1.8zM94.6 478.4h1.8v1.8h-1.8zM97.7 475.9h1.8v1.8h-1.8zM97.2 450.4h1.8v1.8h-1.8zM91.1 448.9h1.8v1.8h-1.8zM91.5 474.1h1.8v1.8h-1.8zM101.3 452.4h1.8v1.8h-1.8zM85.2 478.5h1.8v1.8h-1.8zM101 456.3h1.8v1.8h-1.8zM102 478.5h1.8v1.8h-1.8zM92.5 474.1h1.8v1.8h-1.8zM102.4 457.9h1.8v1.8h-1.8zM98.6 478.5h1.8v1.8h-1.8zM92.8 468.9h1.8v1.8h-1.8zM81.4 451.2h1.8v1.8h-1.8zM101.2 478.3h1.8v1.8h-1.8zM96.6 455h1.8v1.8h-1.8zM80 465h1.8v1.8h-1.8zM88.5 478.5h1.8v1.8h-1.8zM85.7 457.7h1.8v1.8h-1.8zM80.5 457.4h1.8v1.8h-1.8zM93.4 454.9h1.8v1.8h-1.8z" fill="#000"/>
<path d="M121 480.6v1.8" stroke="#222" stroke-width="0.7"/>
<text transform="translate(124.2,487.4) rotate(-45)" font-size="7.5" text-anchor="end" fill="#333">4</text>
<path d="M117.8 455.1L117.6 454.9L117.2 454.6L116.8 454.4L116.5 454.2L116.1 454L115.7 453.8L115.3 453.5L114.9 453.3L114.5 453.1L114.1 452.9L113.7 452.7L113.2 452.5L112.8 452.2L112.3 452L111.8 451.8L111.3 451.6L110.8 451.4L110.4 451.1L109.9 450.9L109.5 450.7L109.1 450.5L108.9 450.3L108.7 450L108.5 449.8L108.4 449.6L108.3 449.4L108.2 449.2L108.3 448.9L108.5 448.7L108.9 448.5L109.2 448.3L109.6 448.1L110 447.9L110.4 447.6L110.8 447.4L111.2 447.2L111.5 447L111.9 446.8L112.3 446.5L112.7 446.3L113.1 446.1L113.5 445.9L113.9 445.7L114.2 445.4L114.6 445.2L115 445L115.4 444.8L115.8 444.6L116.1 444.3L116.4 444.1L116.7 443.9L117 443.7L117.3 443.5L117.6 443.3L117.8 443L118.1 442.8L118.4 442.6L118.7 442.4L118.9 442.2L123.1 442.2L123.3 442.4L123.6 442.6L123.9 442.8L124.2 443L124.4 443.3L124.7 443.5L125 443.7L125.3 443.9L125.6 444.1L125.9 444.3L126.2 444.6L126.6 444.8L127 445L127.4 445.2L127.8 445.4L128.1 445.7L128.5 445.9L128.9 446.1L129.3 446.3L129.7 446.5L130.1 446.8L130.5 447L130.8 447.2L131.2 447.4L131.6 447.6L132 447.9L132.4 448.1L132.8 448.3L133.1 448.5L133.5 448.7L133.7 448.9L133.8 449.2L133.7 449.4L133.6 449.6L133.5 449.8L133.3 450L133.1 450.3L132.9 450.5L132.5 450.7L132.1 450.9L131.6 451.1L131.2 451.4L130.7 451.6L130.2 451.8L129.7 452L129.2 452.2L128.8 452.5L128.3 452.7L127.9 452.9L127.5 453.1L127.1 453.3L126.7 453.5L126.3 453.8L125.9 454L125.5 454.2L125.2 454.4L124.8 454.6L124.4 454.9L124.2 455.1Z" fill="#E7298A" stroke="#222" stroke-width="0.6"/>
<path d="M122.9 448.5h1.8v1.8h-1.8zM125.9 446.8h1.8v1.8h-1.8zM127.9 448.1h1.8v1.8h-1.8zM118.6 445.6h1.8v1.8h-1.8zM120.7 447.7h1.8v1.8h-1.8zM129.4 448.2h1.8v1.8h-1.8zM125.3 449.8h1.8v1.8h-1.8zM122.3 444.7h1.8v1.8h-1.8zM122.2 446.6h1.8v1.8h-1.8zM118.9 452.3h1.8v1.8h-1.8zM109.8 448.4h1.8v1.8h-1.8zM114.1 447h1.8v1.8h-1.8zM114 449.7h1.8v1.8h-1.8zM130.8 451.7h1.8v1.8h-1.8zM118.3 447h1.8v1.8h-1.8zM125.8 446.2h1.8v1.8h-1.8zM110.9 447.7h1.8v1.8h-1.8zM121 446.5h1.8v1.8h-1.8zM114.2 444.1h1.8v1.8h-1.8zM110 449.7h1.8v1.8h-1.8zM117.7 444.6h1.8v1.8h-1.8zM109.7 449.2h1.8v1.8h-1.8zM115.7 452.6h1.8v1.8h-1.8zM131.1 448h1.8v1.8h-1.8zM115.4 448.7h1.8v1.8h-1.8zM113.1 444.1h1.8v1.8h-1.8zM119.5 445.8h1.8v1.8h-1.8zM131.5 450.5h1.8v1.8h-1.8zM113 450.3h1.8v1.8h-1.8z" fill="#000"/>
<path d="M150 480.6v1.8" stroke="#222" stroke-width="0.7"/>
<text transform="translate(153.2,487.4) rotate(-45)" font-size="7.5" text-anchor="end" fill="#333">5</text>
<path d="M147.7 475.6L147.2 475L146.7 474.5L146.4 473.9L146.3 473.3L146.5 472.8L146.9 472.2L147.3 471.6L147.8 471.1L148.1 470.5L148.2 469.9L148.1 469.4L147.9 468.8L147.7 468.2L147.6 467.7L147.6 467.1L147.7 466.5L147.8 466L147.8 465.4L147.9 464.8L147.9 464.3L147.9 463.7L147.9 463.1L147.8 462.6L147.7 462L147.6 461.4L147.4 460.9L147.1 460.3L146.4 459.7L145.7 459.2L144.8 458.6L143.9 458L142.9 457.5L141.7 456.9L140.3 456.3L139 455.8L138.3 455.2L138.5 454.6L139.3 454.1L140.4 453.5L141.5 452.9L142.5 452.4L143.3 451.8L144.1 451.2L144.8 450.7L145.6 450.1L146.2 449.5L146.7 449L147 448.4L147.2 447.8L147.2 447.3L147.3 446.7L147.4 446.1L147.5 445.6L147.5 445L147.6 444.4L147.7 443.9L147.8 443.3L147.9 442.7L148 442.2L152 442.2L152.1 442.7L152.2 443.3L152.3 443.9L152.4 444.4L152.5 445L152.5 445.6L152.6 446.1L152.7 446.7L152.8 447.3L152.8 447.8L153 448.4L153.3 449L153.8 449.5L154.4 450.1L155.2 450.7L155.9 451.2L156.7 451.8L157.5 452.4L158.5 452.9L159.6 453.5L160.7 454.1L161.5 454.6L161.7 455.2L161 455.8L159.7 456.3L158.3 456.9L157.1 457.5L156.1 458L155.2 458.6L154.3 459.2L153.6 459.7L152.9 460.3L152.6 460.9L152.4 461.4L152.3 462L152.2 462.6L152.1 463.1L152.1 463.7L152.1 464.3L152.1 464.8L152.2 465.4L152.2 466L152.3 466.5L152.4 467.1L152.4 467.7L152.3 468.2L152.1 468.8L151.9 469.4L151.8 469.9L151.9 470.5L152.2 471.1L152.7 471.6L153.1 472.2L153.5 472.8L153.7 473.3L153.6 473.9L153.3 474.5L152.8 475L152.3 475.6Z" fill="#66A61E" stroke="#222" stroke-width="0.6"/>
<path d="M140 450.6h1.8v1.8h-1.8zM158.3 452.6h1.8v1.8h-1.8zM140.7 449.7h1.8v1.8h-1.8zM147.8 451.8h1.8v1.8h-1.8zM144.7 469.8h1.8v1.8h-1.8zM141.8 453.3h1.8v1.8h-1.8zM155.8 456.6h1.8v1.8h-1.8zM157.9 454.9h1.8v1.8h-1.8zM144.5 454.1h1.8v1.8h-1.8zM144 447.7h1.8v1.8h-1.8zM160.2 453.9h1.8v1.8h-1.8zM149.8 454.7h1.8v1.8h-1.8zM144.1 472h1.8v1.8h-1.8zM139.6 455.9h1.8v1.8h-1.8zM143.3 455.6h1.8v1.8h-1.8zM141.9 456h1.8v1.8h-1.8zM138.4 448.3h1.8v1.8h-1.8zM146.4 453.9h1.8v1.8h-1.8zM141.7 448h1.8v1.8h-1.8zM145.9 453.7h1.8v1.8h-1.8z" fill="#000"/>
<path d="M15.3 511.9V553.1H168" fill="none" stroke="#222" stroke-width="1"/>
<path d="M15.3 551.3h-2" stroke="#222" stroke-width="0.7"/>
<text x="13.7" y="553.8" font-size="7" text-anchor="end" fill="#333">0</text>
<path d="M15.3 540.2h-2" stroke="#222" stroke-width="0.7"/>
<text x="13.7" y="542.7" font-size="7" text-anchor="end" fill="#333">1</text>
<path d="M15.3 529.1h-2" stroke="#222" stroke-width="0.7"/>
<text x="13.7" y="531.6" font-size="7" text-anchor="end" fill="#333">2</text>
<path d="M15.3 518h-2" stroke="#222" stroke-width="0.7"/>
<text x="13.7" y="520.5" font-size="7" text-anchor="end" fill="#333">3</text>
<text x="92.5" y="503.8" font-size="11" text-anchor="middle" font-weight="bold" fill="#000">trio</text>
<text transform="translate(4.9,532.5) rotate(-90)" font-size="7.5" text-anchor="middle" fill="#111">Expression Level</text>
<path d="M33.3 553.1v1.8" stroke="#222" stroke-width="0.7"/>
<text transform="translate(36.5,559.9) rotate(-45)" font-size="7.5" text-anchor="end" fill="#333">1</text>
<path d="M22.2 551.3L22 550.7L21.8 550.1L21.6 549.5L21.6 548.9L21.8 548.2L22.2 547.6L22.5 547L22.9 546.4L23.1 545.8L23.2 545.2L23.3 544.6L23.3 544L23.3 543.4L23.2 542.7L23 542.1L22.6 541.5L22.2 540.9L21.7 540.3L21.3 539.7L21 539.1L20.7 538.5L20.6 537.8L20.5 537.2L20.5 536.6L20.5 536L20.7 535.4L21 534.8L21.4 534.2L21.8 533.6L22.2 533L22.6 532.3L23.1 531.7L23.5 531.1L24 530.5L24.6 529.9L25.1 529.3L25.7 528.7L26.2 528.1L26.7 527.5L27.2 526.8L27.6 526.2L27.9 525.6L28.1 525L28.4 524.4L28.7 523.8L29 523.2L29.2 522.6L29.5 522L29.8 521.3L30.1 520.7L30.3 520.1L30.6 519.5L30.9 518.9L31.2 518.3L31.5 517.7L31.8 517.1L32.1 516.4L32.4 515.8L32.7 515.2L33.9 515.2L34.2 515.8L34.5 516.4L34.8 517.1L35.1 517.7L35.4 518.3L35.7 518.9L36 519.5L36.3 520.1L36.5 520.7L36.8 521.3L37.1 522L37.4 522.6L37.6 523.2L37.9 523.8L38.2 524.4L38.5 525L38.7 525.6L39 526.2L39.4 526.8L39.9 527.5L40.4 528.1L40.9 528.7L41.5 529.3L42 529.9L42.6 530.5L43.1 531.1L43.5 531.7L44 532.3L44.4 533L44.8 533.6L45.2 534.2L45.6 534.8L45.9 535.4L46.1 536L46.1 536.6L46.1 537.2L46 537.8L45.9 538.5L45.6 539.1L45.3 539.7L44.9 540.3L44.4 540.9L44 541.5L43.6 542.1L43.4 542.7L43.3 543.4L43.3 544L43.3 544.6L43.4 545.2L43.5 545.8L43.7 546.4L44.1 547L44.4 547.6L44.8 548.2L45 548.9L45 549.5L44.8 550.1L44.6 550.7L44.4 551.3Z" fill="#1B9E77" stroke="#222" stroke-width="0.6"/>
<path d="M32.5 533.8h1.8v1.8h-1.8zM42.8 529.5h1.8v1.8h-1.8zM34.9 545.7h1.8v1.8h-1.8zM39 545h1.8v1.8h-1.8zM26 532.2h1.8v1.8h-1.8zM34.6 550.4h1.8v1.8h-1.8zM25 533.3h1.8v1.8h-1.8zM30.9 548.2h1.8v1.8h-1.8zM22.6 539.5h1.8v1.8h-1.8zM39.1 527.4h1.8v1.8h-1.8zM21.9 545.2h1.8v1.8h-1.8zM27 541.9h1.8v1.8h-1.8zM24.8 536.7h1.8v1.8h-1.8zM40 544.7h1.8v1.8h-1.8zM29.3 532.6h1.8v1.8h-1.8zM32.2 550.4h1.8v1.8h-1.8zM31.4 550.4h1.8v1.8h-1.8zM41.4 533.6h1.8v1.8h-1.8zM30.7 547.4h1.8v1.8h-1.8zM38.5 549.6h1.8v1.8h-1.8zM33.6 533.6h1.8v1.8h-1.8zM29.3 544.5h1.8v1.8h-1.8zM21.8 540.7h1.8v1.8h-1.8zM28.8 550.4h1.8v1.8h-1.8zM41.3 533.2h1.8v1.8h-1.8zM29.7 538.8h1.8v1.8h-1.8zM25.1 532.3h1.8v1.8h-1.8zM25.8 537.4h1.8v1.8h-1.8zM43.7 538.9h1.8v1.8h-1.8zM29.7 533.2h1.8v1.8h-1.8zM27.2 548.6h1.8v1.8h-1.8zM29.9 550.6h1.8v1.8h-1.8zM29.2 526.2h1.8v1.8h-1.8zM38.5 545.8h1.8v1.8h-1.8zM28.3 550.4h1.8v1.8h-1.8zM28.4 541.3h1.8v1.8h-1.8zM30 550.4h1.8v1.8h-1.8zM34.6 545.5h1.8v1.8h-1.8zM33.4 550.3h1.8v1.8h-1.8zM37.6 546.8h1.8v1.8h-1.8zM27.3 535.2h1.8v1.8h-1.8zM40.8 533.7h1.8v1.8h-1.8zM25.9 545.4h1.8v1.8h-1.8zM33.9 550.5h1.8v1.8h-1.8zM36.3 530.2h1.8v1.8h-1.8zM36.2 527.3h1.8v1.8h-1.8zM35.4 523.1h1.8v1.8h-1.8zM22.3 548.7h1.8v1.8h-1.8zM27.3 540.7h1.8v1.8h-1.8zM24.7 547h1.8v1.8h-1.8zM28.8 550.4h1.8v1.8h-1.8zM37 540.2h1.8v1.8h-1.8zM29.9 550.4h1.8v1.8h-1.8zM22.2 541.8h1.8v1.8h-1.8zM28.4 537.4h1.8v1.8h-1.8z" fill="#000"/>
<path d="M62.6 553.1v1.8" stroke="#222" stroke-width="0.7"/>
<text transform="translate(65.8,559.9) rotate(-45)" font-size="7.5" text-anchor="end" fill="#333">2</text>
<path d="M53.6 551.3L53.6 550.8L53.6 550.4L53.6 549.9L53.6 549.5L53.6 549L53.6 548.5L53.6 548.1L53.7 547.6L53.7 547.2L53.8 546.7L53.9 546.2L53.9 545.8L54 545.3L54 544.8L53.9 544.4L53.7 543.9L53.4 543.5L53.2 543L52.9 542.5L52.7 542.1L52.4 541.6L52.1 541.2L51.9 540.7L51.6 540.2L51.4 539.8L51.2 539.3L51 538.9L50.8 538.4L50.6 537.9L50.4 537.5L50.2 537L50 536.6L49.8 536.1L49.8 535.6L49.9 535.2L50.1 534.7L50.3 534.2L50.5 533.8L50.7 533.3L50.9 532.9L51.1 532.4L51.3 531.9L51.6 531.5L51.8 531L52.1 530.6L52.4 530.1L52.7 529.6L53 529.2L53.4 528.7L53.7 528.3L54 527.8L54.3 527.3L54.6 526.9L54.9 526.4L55.3 525.9L55.6 525.5L55.9 525L56.2 524.6L56.5 524.1L68.7 524.1L69 524.6L69.3 525L69.6 525.5L69.9 525.9L70.3 526.4L70.6 526.9L70.9 527.3L71.2 527.8L71.5 528.3L71.8 528.7L72.2 529.2L72.5 529.6L72.8 530.1L73.1 530.6L73.4 531L73.6 531.5L73.9 531.9L74.1 532.4L74.3 532.9L74.5 533.3L74.7 533.8L74.9 534.2L75.1 534.7L75.3 535.2L75.4 535.6L75.4 536.1L75.2 536.6L75 537L74.8 537.5L74.6 537.9L74.4 538.4L74.2 538.9L74 539.3L73.8 539.8L73.6 540.2L73.3 540.7L73.1 541.2L72.8 541.6L72.5 542.1L72.3 542.5L72 543L71.8 543.5L71.5 543.9L71.3 544.4L71.2 544.8L71.2 545.3L71.3 545.8L71.3 546.2L71.4 546.7L71.5 547.2L71.5 547.6L71.6 548.1L71.6 548.5L71.6 549L71.6 549.5L71.6 549.9L71.6 550.4L71.6 550.8L71.6 551.3Z" fill="#D95F02" stroke="#222" stroke-width="0.6"/>
<path d="M70.7 542.9h1.8v1.8h-1.8zM54.5 535.3h1.8v1.8h-1.8zM58.5 536.8h1.8v1.8h-1.8zM64.6 534.2h1.8v1.8h-1.8zM56.6 534h1.8v1.8h-1.8zM71.1 528.8h1.8v1.8h-1.8zM57.3 550h1.8v1.8h-1.8zM54.6 550.4h1.8v1.8h-1.8zM50.2 542.5h1.8v1.8h-1.8zM61.6 535.8h1.8v1.8h-1.8zM63.1 533.5h1.8v1.8h-1.8zM58.2 528.6h1.8v1.8h-1.8zM66.2 528.3h1.8v1.8h-1.8zM53.9 532.1h1.8v1.8h-1.8zM58.7 533.9h1.8v1.8h-1.8zM55.7 540.7h1.8v1.8h-1.8zM62 542.4h1.8v1.8h-1.8zM52.6 550.4h1.8v1.8h-1.8zM68 533.1h1.8v1.8h-1.8zM70.2 537.2h1.8v1.8h-1.8zM68.5 549.1h1.8v1.8h-1.8zM66.7 538h1.8v1.8h-1.8zM69.6 540.3h1.8v1.8h-1.8zM66.5 529.6h1.8v1.8h-1.8zM53.1 533.3h1.8v1.8h-1.8zM54.4 538.4h1.8v1.8h-1.8zM72.5 549.9h1.8v1.8h-1.8zM64.7 546h1.8v1.8h-1.8zM51.3 537.6h1.8v1.8h-1.8zM56.8 550.4h1.8v1.8h-1.8zM57.8 550.4h1.8v1.8h-1.8zM58.8 549.6h1.8v1.8h-1.8zM56.7 539.9h1.8v1.8h-1.8zM72.8 538.2h1.8v1.8h-1.8zM68.6 538.4h1.8v1.8h-1.8zM71.7 550.4h1.8v1.8h-1.8zM57.6 550.4h1.8v1.8h-1.8zM64.6 550.4h1.8v1.8h-1.8zM58.6 541.9h1.8v1.8h-1.8zM70.7 550.4h1.8v1.8h-1.8zM61.3 541.1h1.8v1.8h-1.8zM61.3 523.7h1.8v1.8h-1.8z" fill="#000"/>
<path d="M92 553.1v1.8" stroke="#222" stroke-width="0.7"/>
<text transform="translate(95.2,559.9) rotate(-45)" font-size="7.5" text-anchor="end" fill="#333">3</text>
<path d="M79 551.3h26" stroke="#222" stroke-width="0.8"/>
<path d="M92 551.3V524.7" stroke="#555" stroke-width="0.75"/>
<path d="M98.5 550.4h1.8v1.8h-1.8zM80.5 550.4h1.8v1.8h-1.8zM94.9 550.4h1.8v1.8h-1.8zM85.8 550.4h1.8v1.8h-1.8zM103 526.9h1.8v1.8h-1.8zM99.1 550.4h1.8v1.8h-1.8zM83.3 550.4h1.8v1.8h-1.8zM83.2 550.4h1.8v1.8h-1.8zM80.9 550.4h1.8v1.8h-1.8zM97.2 550.4h1.8v1.8h-1.8zM91.4 550.4h1.8v1.8h-1.8zM84.1 550.4h1.8v1.8h-1.8zM91.8 546.8h1.8v1.8h-1.8zM98.1 550.4h1.8v1.8h-1.8zM88.7 550.4h1.8v1.8h-1.8zM99 550.4h1.8v1.8h-1.8zM102.8 550.4h1.8v1.8h-1.8zM101.9 550.4h1.8v1.8h-1.8zM96 550.4h1.8v1.8h-1.8zM100.9 550.4h1.8v1.8h-1.8zM92.9 550.4h1.8v1.8h-1.8zM88.4 550.4h1.8v1.8h-1.8zM94.9 550.4h1.8v1.8h-1.8zM87.9 550.4h1.8v1.8h-1.8zM87.6 550.4h1.8v1.8h-1.8zM100.8 550.4h1.8v1.8h-1.8zM81.4 550.4h1.8v1.8h-1.8zM96.9 550.4h1.8v1.8h-1.8zM96.9 550.4h1.8v1.8h-1.8zM95.4 550.4h1.8v1.8h-1.8zM81.6 550.4h1.8v1.8h-1.8z" fill="#000"/>
<path d="M121 553.1v1.8" stroke="#222" stroke-width="0.7"/>
<text transform="translate(124.2,559.9) rotate(-45)" font-size="7.5" text-anchor="end" fill="#333">4</text>
<path d="M108 551.3h26" stroke="#222" stroke-width="0.8"/>
<path d="M121 551.3V525.8" stroke="#555" stroke-width="0.75"/>
<path d="M116.5 550.4h1.8v1.8h-1.8zM108.3 550.4h1.8v1.8h-1.8zM117.8 550.4h1.8v1.8h-1.8zM121 550.4h1.8v1.8h-1.8zM129.2 542.5h1.8v1.8h-1.8zM126.2 550.4h1.8v1.8h-1.8zM131.8 550.4h1.8v1.8h-1.8zM131.2 550.4h1.8v1.8h-1.8zM117.9 550.4h1.8v1.8h-1.8zM112.4 550.4h1.8v1.8h-1.8zM124.4 550.4h1.8v1.8h-1.8zM112.5 539.9h1.8v1.8h-1.8zM131.8 550.4h1.8v1.8h-1.8zM123.3 550.4h1.8v1.8h-1.8zM123.6 550.4h1.8v1.8h-1.8zM122.9 550.4h1.8v1.8h-1.8zM123.2 528.1h1.8v1.8h-1.8zM121.7 550.4h1.8v1.8h-1.8zM128.2 550.4h1.8v1.8h-1.8zM119 550.4h1.8v1.8h-1.8zM118.2 550.4h1.8v1.8h-1.8zM113.6 550.4h1.8v1.8h-1.8zM121.8 550.4h1.8v1.8h-1.8zM108.9 550.4h1.8v1.8h-1.8zM118.8 550.4h1.8v1.8h-1.8zM122.4 550.4h1.8v1.8h-1.8zM119.3 543.7h1.8v1.8h-1.8zM115.6 530.7h1.8v1.8h-1.8zM131.8 550.4h1.8v1.8h-1.8z" fill="#000"/>
<path d="M150 553.1v1.8" stroke="#222" stroke-width="0.7"/>
<text transform="translate(153.2,559.9) rotate(-45)" font-size="7.5" text-anchor="end" fill="#333">5</text>
<path d="M143.9 551.3L143.8 550.7L143.7 550L143.5 549.4L143.3 548.8L143.1 548.1L143 547.5L142.8 546.9L142.6 546.3L142.5 545.6L142.3 545L142.1 544.4L142 543.7L141.8 543.1L141.6 542.5L141.4 541.8L141.3 541.2L141.1 540.6L141 540L140.9 539.3L140.9 538.7L140.8 538.1L140.8 537.4L140.7 536.8L140.6 536.2L140.6 535.5L140.5 534.9L140.3 534.3L140 533.7L139.8 533L139.5 532.4L139.2 531.8L138.9 531.1L138.6 530.5L138.4 529.9L138.1 529.2L137.9 528.6L137.8 528L137.7 527.4L137.6 526.7L137.5 526.1L137.3 525.5L137.2 524.8L137.2 524.2L137.2 523.6L137.3 522.9L137.4 522.3L137.7 521.7L137.9 521L138.1 520.4L138.4 519.8L138.6 519.2L138.9 518.5L139.3 517.9L139.8 517.3L140.4 516.6L141.1 516L141.7 515.4L142.3 514.7L142.7 514.1L157.3 514.1L157.7 514.7L158.3 515.4L158.9 516L159.6 516.6L160.2 517.3L160.7 517.9L161.1 518.5L161.4 519.2L161.6 519.8L161.9 520.4L162.1 521L162.3 521.7L162.6 522.3L162.7 522.9L162.8 523.6L162.8 524.2L162.8 524.8L162.7 525.5L162.5 526.1L162.4 526.7L162.3 527.4L162.2 528L162.1 528.6L161.9 529.2L161.6 529.9L161.4 530.5L161.1 531.1L160.8 531.8L160.5 532.4L160.2 533L160 533.7L159.7 534.3L159.5 534.9L159.4 535.5L159.4 536.2L159.3 536.8L159.2 537.4L159.2 538.1L159.1 538.7L159.1 539.3L159 540L158.9 540.6L158.7 541.2L158.6 541.8L158.4 542.5L158.2 543.1L158 543.7L157.9 544.4L157.7 545L157.5 545.6L157.4 546.3L157.2 546.9L157 547.5L156.9 548.1L156.7 548.8L156.5 549.4L156.3 550L156.2 550.7L156.1 551.3Z" fill="#66A61E" stroke="#222" stroke-width="0.6"/>
<path d="M160.4 550.4h1.8v1.8h-1.8zM152.5 528.9h1.8v1.8h-1.8zM149.4 515.3h1.8v1.8h-1.8zM154 514.2h1.8v1.8h-1.8zM149.9 536.1h1.8v1.8h-1.8zM152.4 519.1h1.8v1.8h-1.8zM148.9 545.1h1.8v1.8h-1.8zM155.3 536.1h1.8v1.8h-1.8zM141.1 525.5h1.8v1.8h-1.8zM145.6 550.4h1.8v1.8h-1.8zM141.8 550.4h1.8v1.8h-1.8zM158.3 530.3h1.8v1.8h-1.8zM152.1 544.1h1.8v1.8h-1.8zM153 517.4h1.8v1.8h-1.8zM144.9 530.8h1.8v1.8h-1.8zM153.6 525h1.8v1.8h-1.8zM148.3 540.4h1.8v1.8h-1.8zM151.6 542.8h1.8v1.8h-1.8zM153.5 532.7h1.8v1.8h-1.8zM147 522h1.8v1.8h-1.8z" fill="#000"/>
<path d="M15.3 584V624.9H168" fill="none" stroke="#222" stroke-width="1"/>
<path d="M15.3 623.4h-2" stroke="#222" stroke-width="0.7"/>
<text x="13.7" y="625.9" font-size="7" text-anchor="end" fill="#333">0</text>
<path d="M15.3 613.4h-2" stroke="#222" stroke-width="0.7"/>
<text x="13.7" y="615.9" font-size="7" text-anchor="end" fill="#333">1</text>
<path d="M15.3 603.4h-2" stroke="#222" stroke-width="0.7"/>
<text x="13.7" y="605.9" font-size="7" text-anchor="end" fill="#333">2</text>
<path d="M15.3 593.4h-2" stroke="#222" stroke-width="0.7"/>
<text x="13.7" y="595.9" font-size="7" text-anchor="end" fill="#333">3</text>
<text x="95.4" y="576.5" font-size="11" text-anchor="middle" font-weight="bold" fill="#000">Oamb</text>
<text transform="translate(4.9,604.5) rotate(-90)" font-size="7.5" text-anchor="middle" fill="#111">Expression Level</text>
<path d="M33.3 624.9v1.8" stroke="#222" stroke-width="0.7"/>
<text transform="translate(36.5,631.7) rotate(-45)" font-size="7.5" text-anchor="end" fill="#333">1</text>
<path d="M21.8 623.4L22.7 623L24 622.6L25.6 622.2L27.3 621.8L28.7 621.4L29.6 621L30.1 620.6L30.5 620.1L30.9 619.7L31.2 619.3L31.3 618.9L31.4 618.5L31.4 618.1L31.4 617.7L31.5 617.3L31.5 616.9L31.5 616.5L31.6 616.1L31.6 615.7L31.6 615.3L31.7 614.9L31.7 614.5L31.7 614L31.8 613.6L31.8 613.2L31.8 612.8L31.7 612.4L31.7 612L31.7 611.6L31.6 611.2L31.6 610.8L31.6 610.4L31.6 610L31.5 609.6L31.5 609.2L31.5 608.8L31.4 608.3L31.4 607.9L31.4 607.5L31.4 607.1L31.3 606.7L31.4 606.3L31.4 605.9L31.4 605.5L31.5 605.1L31.6 604.7L31.7 604.3L31.7 603.9L31.8 603.5L31.8 603.1L31.8 602.7L31.8 602.2L31.8 601.8L31.8 601.4L31.8 601L31.8 600.6L31.8 600.2L31.8 599.8L31.8 599.4L34.8 599.4L34.8 599.8L34.8 600.2L34.8 600.6L34.8 601L34.8 601.4L34.8 601.8L34.8 602.2L34.8 602.7L34.8 603.1L34.8 603.5L34.9 603.9L34.9 604.3L35 604.7L35.1 605.1L35.2 605.5L35.2 605.9L35.2 606.3L35.3 606.7L35.2 607.1L35.2 607.5L35.2 607.9L35.2 608.3L35.1 608.8L35.1 609.2L35.1 609.6L35 610L35 610.4L35 610.8L35 611.2L34.9 611.6L34.9 612L34.9 612.4L34.8 612.8L34.8 613.2L34.8 613.6L34.9 614L34.9 614.5L34.9 614.9L35 615.3L35 615.7L35 616.1L35.1 616.5L35.1 616.9L35.1 617.3L35.2 617.7L35.2 618.1L35.2 618.5L35.3 618.9L35.4 619.3L35.7 619.7L36.1 620.1L36.5 620.6L37 621L37.9 621.4L39.3 621.8L41 622.2L42.6 622.6L43.9 623L44.8 623.4Z" fill="#1B9E77" stroke="#222" stroke-width="0.6"/>
<path d="M39.8 622h1.8v1.8h-1.8zM42.6 621.7h1.8v1.8h-1.8zM34.2 621.6h1.8v1.8h-1.8zM40.6 621.4h1.8v1.8h-1.8zM29.8 618.3h1.8v1.8h-1.8zM22.4 614.5h1.8v1.8h-1.8zM42.9 621.9h1.8v1.8h-1.8zM26.5 621.6h1.8v1.8h-1.8zM26.7 622.1h1.8v1.8h-1.8zM40.5 621.8h1.8v1.8h-1.8zM41.5 622.5h1.8v1.8h-1.8zM37.5 622.7h1.8v1.8h-1.8zM42.7 618.8h1.8v1.8h-1.8zM29.2 622.3h1.8v1.8h-1.8zM34.8 621.5h1.8v1.8h-1.8zM30 599.9h1.8v1.8h-1.8zM43.8 608.6h1.8v1.8h-1.8zM36 622.6h1.8v1.8h-1.8zM29.4 621.5h1.8v1.8h-1.8zM22.8 622.3h1.8v1.8h-1.8zM38 622h1.8v1.8h-1.8zM38.7 621.4h1.8v1.8h-1.8zM40.7 622.5h1.8v1.8h-1.8zM29 622.5h1.8v1.8h-1.8zM39.1 622.5h1.8v1.8h-1.8zM34 622.5h1.8v1.8h-1.8zM27.7 622.8h1.8v1.8h-1.8zM22.1 612.5h1.8v1.8h-1.8zM31.5 622.3h1.8v1.8h-1.8zM24.5 608.2h1.8v1.8h-1.8zM35 600.6h1.8v1.8h-1.8zM21.1 606.3h1.8v1.8h-1.8zM37.3 621.7h1.8v1.8h-1.8zM23.4 622.5h1.8v1.8h-1.8zM40.4 621.2h1.8v1.8h-1.8zM26.9 622.5h1.8v1.8h-1.8zM32.1 621.9h1.8v1.8h-1.8zM34 618.6h1.8v1.8h-1.8zM27.8 620.4h1.8v1.8h-1.8zM30.8 615.3h1.8v1.8h-1.8zM31.3 621.5h1.8v1.8h-1.8zM33 622.5h1.8v1.8h-1.8zM23.2 620.8h1.8v1.8h-1.8zM26.2 621.9h1.8v1.8h-1.8zM30.3 622.5h1.8v1.8h-1.8zM43 601.6h1.8v1.8h-1.8zM27.8 621.4h1.8v1.8h-1.8zM32.3 619.9h1.8v1.8h-1.8zM23 622.5h1.8v1.8h-1.8zM30.7 622.2h1.8v1.8h-1.8zM36.5 607.5h1.8v1.8h-1.8zM28.4 621.8h1.8v1.8h-1.8zM35.7 621.4h1.8v1.8h-1.8zM35.3 622.5h1.8v1.8h-1.8zM21.4 620.1h1.8v1.8h-1.8z" fill="#000"/>
<path d="M62.6 624.9v1.8" stroke="#222" stroke-width="0.7"/>
<text transform="translate(65.8,631.7) rotate(-45)" font-size="7.5" text-anchor="end" fill="#333">2</text>
<path d="M50.1 623.4L50.8 623.1L51.7 622.7L52.6 622.4L53.6 622L54.4 621.7L55.3 621.3L56.2 621L56.9 620.6L57.4 620.3L57.8 619.9L58 619.6L58.2 619.2L58.4 618.9L58.5 618.5L58.7 618.2L58.9 617.8L59 617.5L59.1 617.1L59.2 616.8L59.3 616.5L59.3 616.1L59.4 615.8L59.4 615.4L59.5 615.1L59.6 614.7L59.6 614.4L59.7 614L59.8 613.7L59.8 613.3L59.9 613L59.9 612.6L60 612.3L60 611.9L60.1 611.6L60.1 611.2L60.2 610.9L60.3 610.5L60.3 610.2L60.4 609.8L60.4 609.5L60.5 609.2L60.5 608.8L60.6 608.5L60.7 608.1L60.8 607.8L60.9 607.4L61 607.1L61.1 606.7L61.2 606.4L61.2 606L61.3 605.7L61.4 605.3L61.5 605L61.6 604.6L61.7 604.3L61.8 603.9L61.9 603.6L62 603.2L62.1 602.9L63.1 602.9L63.2 603.2L63.3 603.6L63.4 603.9L63.5 604.3L63.6 604.6L63.7 605L63.8 605.3L63.9 605.7L64 606L64 606.4L64.1 606.7L64.2 607.1L64.3 607.4L64.4 607.8L64.5 608.1L64.6 608.5L64.7 608.8L64.7 609.2L64.8 609.5L64.8 609.8L64.9 610.2L64.9 610.5L65 610.9L65.1 611.2L65.1 611.6L65.2 611.9L65.2 612.3L65.3 612.6L65.3 613L65.4 613.3L65.4 613.7L65.5 614L65.6 614.4L65.6 614.7L65.7 615.1L65.8 615.4L65.8 615.8L65.9 616.1L65.9 616.5L66 616.8L66.1 617.1L66.2 617.5L66.3 617.8L66.5 618.2L66.7 618.5L66.8 618.9L67 619.2L67.2 619.6L67.4 619.9L67.8 620.3L68.3 620.6L69 621L69.9 621.3L70.8 621.7L71.6 622L72.6 622.4L73.5 622.7L74.4 623.1L75.1 623.4Z" fill="#D95F02" stroke="#222" stroke-width="0.6"/>
<path d="M50.3 609h1.8v1.8h-1.8zM72.8 616.9h1.8v1.8h-1.8zM60.3 610.8h1.8v1.8h-1.8zM60.2 616.4h1.8v1.8h-1.8zM51.8 622.5h1.8v1.8h-1.8zM62.8 621.8h1.8v1.8h-1.8zM72.1 622.7h1.8v1.8h-1.8zM59.7 619.4h1.8v1.8h-1.8zM70.3 622.5h1.8v1.8h-1.8zM58.9 621.3h1.8v1.8h-1.8zM66.1 617.6h1.8v1.8h-1.8zM67.3 622.5h1.8v1.8h-1.8zM58.2 621.9h1.8v1.8h-1.8zM62.2 622.2h1.8v1.8h-1.8zM58.4 621.1h1.8v1.8h-1.8zM57.7 619.7h1.8v1.8h-1.8zM67 617.9h1.8v1.8h-1.8zM69.2 622.5h1.8v1.8h-1.8zM64.4 620.9h1.8v1.8h-1.8zM60.7 619.3h1.8v1.8h-1.8zM52.6 620.8h1.8v1.8h-1.8zM66.3 622.5h1.8v1.8h-1.8zM53.7 619.8h1.8v1.8h-1.8zM52.4 607.9h1.8v1.8h-1.8zM62.5 615.6h1.8v1.8h-1.8zM63.6 619.6h1.8v1.8h-1.8zM58.6 610.6h1.8v1.8h-1.8zM69.9 608h1.8v1.8h-1.8zM50.7 617.3h1.8v1.8h-1.8zM56 620.5h1.8v1.8h-1.8zM56.8 622.3h1.8v1.8h-1.8zM53.9 621.7h1.8v1.8h-1.8zM62.7 612.2h1.8v1.8h-1.8zM71.3 616.7h1.8v1.8h-1.8zM71.7 622.5h1.8v1.8h-1.8zM60.6 620.8h1.8v1.8h-1.8zM61.8 620.9h1.8v1.8h-1.8zM72 620.1h1.8v1.8h-1.8zM51.9 621.7h1.8v1.8h-1.8zM53 611.6h1.8v1.8h-1.8zM51.6 605.1h1.8v1.8h-1.8zM63.3 622.5h1.8v1.8h-1.8z" fill="#000"/>
<path d="M92 624.9v1.8" stroke="#222" stroke-width="0.7"/>
<text transform="translate(95.2,631.7) rotate(-45)" font-size="7.5" text-anchor="end" fill="#333">3</text>
<path d="M79.9 623.4L79.7 622.8L79.4 622.1L79.3 621.5L79.5 620.9L79.8 620.3L80.2 619.6L80.6 619L81.1 618.4L81.7 617.8L82.3 617.1L82.9 616.5L83.5 615.9L84.1 615.2L84.7 614.6L85.2 614L85.6 613.4L86 612.7L86.4 612.1L86.8 611.5L87.2 610.9L87.4 610.2L87.6 609.6L87.8 609L87.9 608.3L88 607.7L88.2 607.1L88.3 606.5L88.4 605.8L88.5 605.2L88.5 604.6L88.5 604L88.5 603.3L88.5 602.7L88.5 602.1L88.5 601.5L88.5 600.8L88.4 600.2L88.3 599.6L88.2 598.9L88.1 598.3L88 597.7L87.8 597.1L87.7 596.4L87.6 595.8L87.5 595.2L87.4 594.6L87.4 593.9L87.3 593.3L87.2 592.7L87.2 592L87.1 591.4L87.1 590.8L87 590.2L87 589.5L87 588.9L87 588.3L87 587.7L87 587L87 586.4L97 586.4L97 587L97 587.7L97 588.3L97 588.9L97 589.5L97 590.2L96.9 590.8L96.9 591.4L96.8 592L96.8 592.7L96.7 593.3L96.6 593.9L96.6 594.6L96.5 595.2L96.4 595.8L96.3 596.4L96.2 597.1L96 597.7L95.9 598.3L95.8 598.9L95.7 599.6L95.6 600.2L95.5 600.8L95.5 601.5L95.5 602.1L95.5 602.7L95.5 603.3L95.5 604L95.5 604.6L95.5 605.2L95.6 605.8L95.7 606.5L95.8 607.1L96 607.7L96.1 608.3L96.2 609L96.4 609.6L96.6 610.2L96.8 610.9L97.2 611.5L97.6 612.1L98 612.7L98.4 613.4L98.8 614L99.3 614.6L99.9 615.2L100.5 615.9L101.1 616.5L101.7 617.1L102.3 617.8L102.9 618.4L103.4 619L103.8 619.6L104.2 620.3L104.5 620.9L104.7 621.5L104.6 622.1L104.3 622.8L104.1 623.4Z" fill="#7570B3" stroke="#222" stroke-width="0.6"/>
<path d="M97.7 586h1.8v1.8h-1.8zM83.8 616.4h1.8v1.8h-1.8zM84.1 615.8h1.8v1.8h-1.8zM81.4 608.2h1.8v1.8h-1.8zM92.5 615.8h1.8v1.8h-1.8zM95.7 621.5h1.8v1.8h-1.8zM100.9 587.7h1.8v1.8h-1.8zM90.9 622.5h1.8v1.8h-1.8zM93.7 613.2h1.8v1.8h-1.8zM101.7 590.2h1.8v1.8h-1.8zM101.6 623.4h1.8v1.8h-1.8zM95.4 623.5h1.8v1.8h-1.8zM98.2 615.3h1.8v1.8h-1.8zM102 623.5h1.8v1.8h-1.8zM87.6 596h1.8v1.8h-1.8zM93.1 621.9h1.8v1.8h-1.8zM90.1 615.8h1.8v1.8h-1.8zM83 618.8h1.8v1.8h-1.8zM87.3 619.7h1.8v1.8h-1.8zM91.6 619.3h1.8v1.8h-1.8zM84.9 618.9h1.8v1.8h-1.8zM95.1 619.6h1.8v1.8h-1.8zM97.2 622.5h1.8v1.8h-1.8zM102.4 620.3h1.8v1.8h-1.8zM102.4 618.1h1.8v1.8h-1.8zM97.6 618.6h1.8v1.8h-1.8zM86.2 617.6h1.8v1.8h-1.8zM98.4 613.1h1.8v1.8h-1.8zM81.1 622.5h1.8v1.8h-1.8zM99.8 591h1.8v1.8h-1.8zM101 586.4h1.8v1.8h-1.8z" fill="#000"/>
<path d="M121 624.9v1.8" stroke="#222" stroke-width="0.7"/>
<text transform="translate(124.2,631.7) rotate(-45)" font-size="7.5" text-anchor="end" fill="#333">4</text>
<path d="M115 623.4L115.1 622.8L115.1 622.2L115.2 621.7L115.2 621.1L115.3 620.5L115.3 619.9L115.4 619.3L115.5 618.7L115.5 618.2L115.6 617.6L115.6 617L115.7 616.4L115.8 615.8L115.8 615.2L115.9 614.7L115.9 614.1L115.9 613.5L115.8 612.9L115.6 612.3L115.3 611.7L115.1 611.2L114.9 610.6L114.6 610L114.4 609.4L114.1 608.8L113.9 608.2L113.5 607.7L113.2 607.1L112.9 606.5L112.5 605.9L112.2 605.3L111.8 604.7L111.5 604.2L111.1 603.6L110.8 603L110.5 602.4L110.2 601.8L109.9 601.2L109.6 600.7L109.3 600.1L109.1 599.5L108.8 598.9L108.6 598.3L108.5 597.7L108.4 597.2L108.3 596.6L108.3 596L108.2 595.4L108.1 594.8L108.1 594.2L108.2 593.7L108.4 593.1L108.8 592.5L109.3 591.9L109.9 591.3L110.4 590.7L110.9 590.2L111.4 589.6L111.8 589L130.2 589L130.6 589.6L131.1 590.2L131.6 590.7L132.1 591.3L132.7 591.9L133.2 592.5L133.6 593.1L133.8 593.7L133.9 594.2L133.9 594.8L133.8 595.4L133.7 596L133.7 596.6L133.6 597.2L133.5 597.7L133.4 598.3L133.2 598.9L132.9 599.5L132.7 600.1L132.4 600.7L132.1 601.2L131.8 601.8L131.5 602.4L131.2 603L130.9 603.6L130.5 604.2L130.2 604.7L129.8 605.3L129.5 605.9L129.1 606.5L128.8 607.1L128.5 607.7L128.1 608.2L127.9 608.8L127.6 609.4L127.4 610L127.1 610.6L126.9 611.2L126.7 611.7L126.4 612.3L126.2 612.9L126.1 613.5L126.1 614.1L126.1 614.7L126.2 615.2L126.2 615.8L126.3 616.4L126.4 617L126.4 617.6L126.5 618.2L126.5 618.7L126.6 619.3L126.7 619.9L126.7 620.5L126.8 621.1L126.8 621.7L126.9 622.2L126.9 622.8L127 623.4Z" fill="#E7298A" stroke="#222" stroke-width="0.6"/>
<path d="M113 611.2h1.8v1.8h-1.8zM125.3 611.7h1.8v1.8h-1.8zM111.4 589.5h1.8v1.8h-1.8zM112.9 622.5h1.8v1.8h-1.8zM112.8 603h1.8v1.8h-1.8zM121.7 612.9h1.8v1.8h-1.8zM110.5 593.3h1.8v1.8h-1.8zM126.1 607.3h1.8v1.8h-1.8zM116.2 590.3h1.8v1.8h-1.8zM131 597.7h1.8v1.8h-1.8zM119.3 599.2h1.8v1.8h-1.8zM109.2 607.2h1.8v1.8h-1.8zM112.3 622.5h1.8v1.8h-1.8zM109.1 608.9h1.8v1.8h-1.8zM123.6 606.2h1.8v1.8h-1.8zM115.6 622.5h1.8v1.8h-1.8zM117.1 620.4h1.8v1.8h-1.8zM116.8 598.7h1.8v1.8h-1.8zM121 591h1.8v1.8h-1.8zM114 599.8h1.8v1.8h-1.8zM112.3 589.1h1.8v1.8h-1.8zM112.5 597.1h1.8v1.8h-1.8zM112.2 594.7h1.8v1.8h-1.8zM124.4 622.5h1.8v1.8h-1.8zM129.8 601.9h1.8v1.8h-1.8zM120 622.5h1.8v1.8h-1.8zM119.2 604.5h1.8v1.8h-1.8zM123.3 616h1.8v1.8h-1.8zM110.5 589.4h1.8v1.8h-1.8z" fill="#000"/>
<path d="M150 624.9v1.8" stroke="#222" stroke-width="0.7"/>
<text transform="translate(153.2,631.7) rotate(-45)" font-size="7.5" text-anchor="end" fill="#333">5</text>
<path d="M137.9 623.4L137.8 622.9L137.7 622.4L137.5 621.9L137.3 621.4L137.2 620.9L137.2 620.3L137.3 619.8L137.4 619.3L137.6 618.8L137.8 618.3L138 617.8L138.2 617.3L138.4 616.8L138.6 616.3L138.9 615.8L139.1 615.3L139.3 614.8L139.6 614.2L139.8 613.7L140.1 613.2L140.3 612.7L140.6 612.2L140.8 611.7L141.1 611.2L141.3 610.7L141.4 610.2L141.4 609.7L141.3 609.2L141.3 608.7L141.2 608.1L141.2 607.6L141.1 607.1L141 606.6L140.8 606.1L140.5 605.6L140.2 605.1L139.9 604.6L139.6 604.1L139.3 603.6L139 603.1L138.7 602.6L138.4 602L138.1 601.5L137.9 601L137.8 600.5L137.7 600L137.5 599.5L137.4 599L137.3 598.5L137.2 598L137.3 597.5L137.5 597L138 596.5L138.5 595.9L139 595.4L139.5 594.9L140 594.4L140.4 593.9L140.8 593.4L159.2 593.4L159.6 593.9L160 594.4L160.5 594.9L161 595.4L161.5 595.9L162 596.5L162.5 597L162.7 597.5L162.8 598L162.7 598.5L162.6 599L162.5 599.5L162.3 600L162.2 600.5L162.1 601L161.9 601.5L161.6 602L161.3 602.6L161 603.1L160.7 603.6L160.4 604.1L160.1 604.6L159.8 605.1L159.5 605.6L159.2 606.1L159 606.6L158.9 607.1L158.8 607.6L158.8 608.1L158.7 608.7L158.7 609.2L158.6 609.7L158.6 610.2L158.7 610.7L158.9 611.2L159.2 611.7L159.4 612.2L159.7 612.7L159.9 613.2L160.2 613.7L160.4 614.2L160.7 614.8L160.9 615.3L161.1 615.8L161.4 616.3L161.6 616.8L161.8 617.3L162 617.8L162.2 618.3L162.4 618.8L162.6 619.3L162.7 619.8L162.8 620.3L162.8 620.9L162.7 621.4L162.5 621.9L162.3 622.4L162.2 622.9L162.1 623.4Z" fill="#66A61E" stroke="#222" stroke-width="0.6"/>
<path d="M156 598.3h1.8v1.8h-1.8zM147.4 615.7h1.8v1.8h-1.8zM148.7 604.2h1.8v1.8h-1.8zM145.5 614.7h1.8v1.8h-1.8zM156.1 618.5h1.8v1.8h-1.8zM155.9 592.5h1.8v1.8h-1.8zM141.7 599.5h1.8v1.8h-1.8zM158.7 597.8h1.8v1.8h-1.8zM155.8 622.1h1.8v1.8h-1.8zM152.4 602.4h1.8v1.8h-1.8zM160.2 622.5h1.8v1.8h-1.8zM153.6 596.6h1.8v1.8h-1.8zM140.5 598.1h1.8v1.8h-1.8zM155.3 600.5h1.8v1.8h-1.8zM159.3 597.5h1.8v1.8h-1.8zM145.7 602.4h1.8v1.8h-1.8zM142.9 622.7h1.8v1.8h-1.8zM149.5 601.1h1.8v1.8h-1.8zM152.5 614.9h1.8v1.8h-1.8zM158.9 600.1h1.8v1.8h-1.8z" fill="#000"/>
<path d="M18.2 653.7V693.8H164" fill="none" stroke="#222" stroke-width="1"/>
<path d="M18.2 692.4h-2" stroke="#222" stroke-width="0.7"/>
<text x="16.6" y="694.9" font-size="7" text-anchor="end" fill="#333">0</text>
<path d="M18.2 685.2h-2" stroke="#222" stroke-width="0.7"/>
<text x="16.6" y="687.7" font-size="7" text-anchor="end" fill="#333">1</text>
<path d="M18.2 678h-2" stroke="#222" stroke-width="0.7"/>
<text x="16.6" y="680.5" font-size="7" text-anchor="end" fill="#333">2</text>
<path d="M18.2 670.8h-2" stroke="#222" stroke-width="0.7"/>
<text x="16.6" y="673.3" font-size="7" text-anchor="end" fill="#333">3</text>
<path d="M18.2 663.6h-2" stroke="#222" stroke-width="0.7"/>
<text x="16.6" y="666.1" font-size="7" text-anchor="end" fill="#333">4</text>
<path d="M18.2 656.4h-2" stroke="#222" stroke-width="0.7"/>
<text x="16.6" y="658.9" font-size="7" text-anchor="end" fill="#333">5</text>
<text x="85.1" y="649.4" font-size="11" font-weight="bold" fill="#000">s</text>
<text x="91.3" y="647.5" font-size="11" font-weight="bold" fill="#000">NPF</text>
<text transform="translate(7.8,673.8) rotate(-90)" font-size="7.5" text-anchor="middle" fill="#111">Expression Level</text>
<path d="M35.4 693.8v1.8" stroke="#222" stroke-width="0.7"/>
<text transform="translate(38.6,700.6) rotate(-45)" font-size="7.5" text-anchor="end" fill="#333">1</text>
<path d="M23.2 692.4L23 691.8L23 691.1L23.3 690.5L23.9 689.9L24.7 689.2L25.5 688.6L26.2 688L26.9 687.4L27.5 686.7L28.1 686.1L28.7 685.5L29.2 684.8L29.6 684.2L30 683.6L30.3 682.9L30.5 682.3L30.7 681.7L30.8 681L30.9 680.4L31 679.8L31.2 679.2L31.3 678.5L31.4 677.9L31.4 677.3L31.5 676.6L31.5 676L31.6 675.4L31.6 674.7L31.7 674.1L31.7 673.5L31.8 672.8L31.8 672.2L31.8 671.6L31.9 670.9L31.9 670.3L31.9 669.7L31.9 669.1L31.9 668.4L31.9 667.8L31.9 667.2L31.9 666.5L31.9 665.9L31.9 665.3L31.9 664.6L31.9 664L31.9 663.4L31.9 662.7L31.9 662.1L31.9 661.5L31.9 660.9L31.9 660.2L31.9 659.6L31.9 659L31.9 658.3L31.9 657.7L31.9 657.1L31.9 656.4L31.9 655.8L31.9 655.2L38.9 655.2L38.9 655.8L38.9 656.4L38.9 657.1L38.9 657.7L38.9 658.3L38.9 659L38.9 659.6L38.9 660.2L38.9 660.9L38.9 661.5L38.9 662.1L38.9 662.7L38.9 663.4L38.9 664L38.9 664.6L38.9 665.3L38.9 665.9L38.9 666.5L38.9 667.2L38.9 667.8L38.9 668.4L38.9 669.1L38.9 669.7L38.9 670.3L38.9 670.9L39 671.6L39 672.2L39 672.8L39.1 673.5L39.1 674.1L39.2 674.7L39.2 675.4L39.3 676L39.3 676.6L39.4 677.3L39.4 677.9L39.5 678.5L39.6 679.2L39.8 679.8L39.9 680.4L40 681L40.1 681.7L40.3 682.3L40.5 682.9L40.8 683.6L41.2 684.2L41.6 684.8L42.1 685.5L42.7 686.1L43.3 686.7L43.9 687.4L44.6 688L45.3 688.6L46.1 689.2L46.9 689.9L47.5 690.5L47.8 691.1L47.8 691.8L47.6 692.4Z" fill="#1B9E77" stroke="#222" stroke-width="0.6"/>
<path d="M37.2 661.8h1.8v1.8h-1.8zM29.4 656.5h1.8v1.8h-1.8zM42.8 691.5h1.8v1.8h-1.8zM28.7 685h1.8v1.8h-1.8zM30.5 689.4h1.8v1.8h-1.8zM35.1 692h1.8v1.8h-1.8zM32.4 657.7h1.8v1.8h-1.8zM25.8 689.7h1.8v1.8h-1.8zM35.8 686.4h1.8v1.8h-1.8zM28.8 680.2h1.8v1.8h-1.8zM27.4 683.8h1.8v1.8h-1.8zM35.7 674.1h1.8v1.8h-1.8zM30.3 688.7h1.8v1.8h-1.8zM33.5 672.8h1.8v1.8h-1.8zM45 687.7h1.8v1.8h-1.8zM29.2 691.5h1.8v1.8h-1.8zM32.8 691.5h1.8v1.8h-1.8zM37.9 683.4h1.8v1.8h-1.8zM39.3 691.5h1.8v1.8h-1.8zM23.4 691.6h1.8v1.8h-1.8zM25.4 691.3h1.8v1.8h-1.8zM36.5 657.3h1.8v1.8h-1.8zM30 691.5h1.8v1.8h-1.8zM32.4 688.8h1.8v1.8h-1.8zM41.2 686.4h1.8v1.8h-1.8zM33 677.5h1.8v1.8h-1.8zM32.5 687.2h1.8v1.8h-1.8zM33.9 688.1h1.8v1.8h-1.8zM43.7 664.3h1.8v1.8h-1.8zM38.4 655.5h1.8v1.8h-1.8zM44.8 675.5h1.8v1.8h-1.8zM38 679.8h1.8v1.8h-1.8zM45.5 689h1.8v1.8h-1.8zM32.6 691.5h1.8v1.8h-1.8zM28.1 673.7h1.8v1.8h-1.8zM44 686.2h1.8v1.8h-1.8zM42.3 690.8h1.8v1.8h-1.8zM40.5 687.5h1.8v1.8h-1.8zM39.2 674.4h1.8v1.8h-1.8zM26.1 683.9h1.8v1.8h-1.8zM44.9 672.6h1.8v1.8h-1.8zM34.4 689h1.8v1.8h-1.8zM38.3 689.8h1.8v1.8h-1.8zM26.3 688h1.8v1.8h-1.8zM45.8 682.6h1.8v1.8h-1.8zM40.5 682.9h1.8v1.8h-1.8zM38.9 691.5h1.8v1.8h-1.8zM31.2 668.7h1.8v1.8h-1.8zM38.1 686h1.8v1.8h-1.8zM44.5 690.5h1.8v1.8h-1.8zM25 691.5h1.8v1.8h-1.8zM34.2 670.7h1.8v1.8h-1.8zM42.8 678.9h1.8v1.8h-1.8zM30.8 689.2h1.8v1.8h-1.8zM30.2 664.8h1.8v1.8h-1.8z" fill="#000"/>
<path d="M64.8 693.8v1.8" stroke="#222" stroke-width="0.7"/>
<text transform="translate(68,700.6) rotate(-45)" font-size="7.5" text-anchor="end" fill="#333">2</text>
<path d="M52.8 692.4h24" stroke="#222" stroke-width="0.8"/>
<path d="M64.8 692.4V657.1" stroke="#555" stroke-width="0.75"/>
<path d="M71.4 691.5h1.8v1.8h-1.8zM66.5 691.5h1.8v1.8h-1.8zM57.2 681.9h1.8v1.8h-1.8zM55.5 691.5h1.8v1.8h-1.8zM62.5 678h1.8v1.8h-1.8zM71.8 691.5h1.8v1.8h-1.8zM56 666.9h1.8v1.8h-1.8zM68.9 691.5h1.8v1.8h-1.8zM73.1 691.5h1.8v1.8h-1.8zM60.6 681.8h1.8v1.8h-1.8zM69.1 691.5h1.8v1.8h-1.8zM68.6 691.5h1.8v1.8h-1.8zM72.1 691.5h1.8v1.8h-1.8zM65.9 691.5h1.8v1.8h-1.8zM53 691.5h1.8v1.8h-1.8zM75.5 691.5h1.8v1.8h-1.8zM72.6 691.5h1.8v1.8h-1.8zM54.3 691.5h1.8v1.8h-1.8zM68.6 691.5h1.8v1.8h-1.8zM58.4 691.5h1.8v1.8h-1.8zM68.6 691.5h1.8v1.8h-1.8zM63.1 691.5h1.8v1.8h-1.8zM65.4 691.5h1.8v1.8h-1.8zM60.5 691.5h1.8v1.8h-1.8zM58.9 691.5h1.8v1.8h-1.8zM52.3 691.5h1.8v1.8h-1.8zM66.1 691.5h1.8v1.8h-1.8zM54.6 691.5h1.8v1.8h-1.8zM63.2 691.5h1.8v1.8h-1.8zM59.4 691.5h1.8v1.8h-1.8zM66.8 664.4h1.8v1.8h-1.8zM68.5 691.5h1.8v1.8h-1.8zM61.8 691.5h1.8v1.8h-1.8zM64 691.5h1.8v1.8h-1.8zM64.6 691.5h1.8v1.8h-1.8zM70.8 691.5h1.8v1.8h-1.8zM52.4 681.9h1.8v1.8h-1.8zM52.7 691.5h1.8v1.8h-1.8zM66.8 691.5h1.8v1.8h-1.8zM56.5 691.5h1.8v1.8h-1.8zM68.3 661.6h1.8v1.8h-1.8zM69.8 691.5h1.8v1.8h-1.8z" fill="#000"/>
<path d="M94.2 693.8v1.8" stroke="#222" stroke-width="0.7"/>
<text transform="translate(97.4,700.6) rotate(-45)" font-size="7.5" text-anchor="end" fill="#333">3</text>
<path d="M84.8 692.4L84.3 691.8L83.6 691.2L83 690.6L82.6 690L82.5 689.4L82.6 688.8L82.8 688.3L82.9 687.7L83.1 687.1L83.3 686.5L83.6 685.9L83.9 685.3L84.3 684.7L84.6 684.1L84.9 683.5L85.2 682.9L85.5 682.3L85.7 681.7L85.9 681.2L86.2 680.6L86.4 680L86.7 679.4L86.9 678.8L87 678.2L87 677.6L86.9 677L86.7 676.4L86.6 675.8L86.4 675.2L86.2 674.6L86 674.1L85.8 673.5L85.6 672.9L85.3 672.3L85 671.7L84.6 671.1L84.3 670.5L83.9 669.9L83.6 669.3L83.3 668.7L83 668.1L82.7 667.5L82.4 666.9L82.1 666.4L81.9 665.8L81.6 665.2L81.4 664.6L81.4 664L81.4 663.4L81.6 662.8L81.7 662.2L81.8 661.6L82 661L82.2 660.4L82.4 659.8L82.8 659.3L83.3 658.7L83.7 658.1L84 657.5L104.4 657.5L104.7 658.1L105.1 658.7L105.6 659.3L106 659.8L106.2 660.4L106.4 661L106.6 661.6L106.7 662.2L106.8 662.8L107 663.4L107 664L107 664.6L106.8 665.2L106.5 665.8L106.3 666.4L106 666.9L105.7 667.5L105.4 668.1L105.1 668.7L104.8 669.3L104.5 669.9L104.1 670.5L103.8 671.1L103.4 671.7L103.1 672.3L102.8 672.9L102.6 673.5L102.4 674.1L102.2 674.6L102 675.2L101.8 675.8L101.7 676.4L101.5 677L101.4 677.6L101.4 678.2L101.5 678.8L101.7 679.4L102 680L102.2 680.6L102.5 681.2L102.7 681.7L102.9 682.3L103.2 682.9L103.5 683.5L103.8 684.1L104.1 684.7L104.5 685.3L104.8 685.9L105.1 686.5L105.3 687.1L105.5 687.7L105.6 688.3L105.8 688.8L105.9 689.4L105.8 690L105.4 690.6L104.8 691.2L104.1 691.8L103.6 692.4Z" fill="#7570B3" stroke="#222" stroke-width="0.6"/>
<path d="M102.1 673.1h1.8v1.8h-1.8zM83.5 655.7h1.8v1.8h-1.8zM93.6 683h1.8v1.8h-1.8zM104.6 680.6h1.8v1.8h-1.8zM85.2 691.5h1.8v1.8h-1.8zM94.7 691.5h1.8v1.8h-1.8zM95.4 658.5h1.8v1.8h-1.8zM102.5 668.3h1.8v1.8h-1.8zM94.3 665.6h1.8v1.8h-1.8zM82.2 679.8h1.8v1.8h-1.8zM83.5 684.5h1.8v1.8h-1.8zM94.7 663.1h1.8v1.8h-1.8zM100.5 688.1h1.8v1.8h-1.8zM82.6 691.5h1.8v1.8h-1.8zM82.5 662.6h1.8v1.8h-1.8zM89.2 686.7h1.8v1.8h-1.8zM96.4 682.9h1.8v1.8h-1.8zM94.8 691.5h1.8v1.8h-1.8zM98.2 676.2h1.8v1.8h-1.8zM87.3 685.8h1.8v1.8h-1.8zM83.3 681.8h1.8v1.8h-1.8zM101.2 686.3h1.8v1.8h-1.8zM96.2 663.5h1.8v1.8h-1.8zM83.2 676.5h1.8v1.8h-1.8zM82.9 671.4h1.8v1.8h-1.8zM89.4 689.6h1.8v1.8h-1.8zM85.9 686.9h1.8v1.8h-1.8zM94.8 670.7h1.8v1.8h-1.8zM83.6 684.6h1.8v1.8h-1.8zM92.6 661.5h1.8v1.8h-1.8zM99.3 660.7h1.8v1.8h-1.8z" fill="#000"/>
<path d="M123.6 693.8v1.8" stroke="#222" stroke-width="0.7"/>
<text transform="translate(126.8,700.6) rotate(-45)" font-size="7.5" text-anchor="end" fill="#333">4</text>
<path d="M122.5 686.6L122.4 686.2L122.2 685.8L122 685.4L121.7 685L121.5 684.6L121.3 684.2L121.2 683.7L121 683.3L121 682.9L120.9 682.5L120.8 682.1L120.7 681.7L120.7 681.2L120.6 680.8L120.5 680.4L120.4 680L120.4 679.6L120.3 679.2L120.2 678.8L120.1 678.3L120 677.9L119.9 677.5L119.7 677.1L119.5 676.7L119.3 676.3L119.2 675.9L119 675.4L118.8 675L118.6 674.6L118.4 674.2L118.3 673.8L118.1 673.4L117.9 672.9L117.7 672.5L117.4 672.1L117.1 671.7L116.8 671.3L116.5 670.9L116.1 670.5L115.8 670L115.4 669.6L115.1 669.2L114.7 668.8L114.4 668.4L114 668L113.7 667.6L113.3 667.1L113 666.7L112.7 666.3L112.3 665.9L112 665.5L111.6 665.1L111.3 664.6L111.1 664.2L111 663.8L111.1 663.4L111.5 663L112 662.6L112.3 662.2L134.9 662.2L135.2 662.6L135.7 663L136.1 663.4L136.2 663.8L136.1 664.2L135.9 664.6L135.6 665.1L135.2 665.5L134.9 665.9L134.5 666.3L134.2 666.7L133.9 667.1L133.5 667.6L133.2 668L132.8 668.4L132.5 668.8L132.1 669.2L131.8 669.6L131.4 670L131.1 670.5L130.7 670.9L130.4 671.3L130.1 671.7L129.8 672.1L129.5 672.5L129.3 672.9L129.1 673.4L128.9 673.8L128.8 674.2L128.6 674.6L128.4 675L128.2 675.4L128 675.9L127.9 676.3L127.7 676.7L127.5 677.1L127.3 677.5L127.2 677.9L127.1 678.3L127 678.8L126.9 679.2L126.8 679.6L126.8 680L126.7 680.4L126.6 680.8L126.5 681.2L126.5 681.7L126.4 682.1L126.3 682.5L126.2 682.9L126.2 683.3L126 683.7L125.9 684.2L125.7 684.6L125.5 685L125.2 685.4L125 685.8L124.8 686.2L124.7 686.6Z" fill="#E7298A" stroke="#222" stroke-width="0.6"/>
<path d="M130.2 664.4h1.8v1.8h-1.8zM112.1 673.5h1.8v1.8h-1.8zM120 680.2h1.8v1.8h-1.8zM130.7 676.5h1.8v1.8h-1.8zM112.1 664.4h1.8v1.8h-1.8zM115.6 674.9h1.8v1.8h-1.8zM125.9 675h1.8v1.8h-1.8zM123.5 672.9h1.8v1.8h-1.8zM124.3 668.3h1.8v1.8h-1.8zM122.1 666.1h1.8v1.8h-1.8zM115.6 679.7h1.8v1.8h-1.8zM131.6 669.1h1.8v1.8h-1.8zM123.7 665.1h1.8v1.8h-1.8zM120 662.4h1.8v1.8h-1.8zM127.5 663.9h1.8v1.8h-1.8zM117.7 662.9h1.8v1.8h-1.8zM129.2 668.6h1.8v1.8h-1.8zM115.5 663.1h1.8v1.8h-1.8zM128.8 666.9h1.8v1.8h-1.8zM128.2 673.9h1.8v1.8h-1.8zM125.1 662.7h1.8v1.8h-1.8zM124.5 661h1.8v1.8h-1.8zM130.5 661.5h1.8v1.8h-1.8zM114.5 663.7h1.8v1.8h-1.8zM114.2 667.1h1.8v1.8h-1.8zM125.7 663.8h1.8v1.8h-1.8zM125.2 669.6h1.8v1.8h-1.8zM130.9 671.6h1.8v1.8h-1.8zM119.6 661.6h1.8v1.8h-1.8z" fill="#000"/>
<path d="M153 693.8v1.8" stroke="#222" stroke-width="0.7"/>
<text transform="translate(156.2,700.6) rotate(-45)" font-size="7.5" text-anchor="end" fill="#333">5</text>
<path d="M152 680.9L151.9 680.5L151.9 680.1L151.8 679.7L151.7 679.3L151.7 679L151.6 678.6L151.6 678.2L151.5 677.8L151.5 677.4L151.5 677L151.5 676.7L151.5 676.3L151.5 675.9L151.5 675.5L151.5 675.1L151.5 674.7L151.5 674.3L151.4 674L151.4 673.6L151.3 673.2L151.3 672.8L151.2 672.4L151.2 672L151.1 671.7L151 671.3L150.9 670.9L150.7 670.5L150.4 670.1L150.1 669.7L149.8 669.3L149.5 669L149.1 668.6L148.8 668.2L148.5 667.8L148.1 667.4L147.6 667L147 666.7L146.4 666.3L145.7 665.9L145.1 665.5L144.4 665.1L143.7 664.7L143 664.4L142.2 664L141.5 663.6L140.9 663.2L140.6 662.8L140.7 662.4L141.2 662L141.7 661.7L142.3 661.3L142.9 660.9L143.6 660.5L144.4 660.1L145.3 659.7L146.3 659.4L147.2 659L148 658.6L148.6 658.2L157.4 658.2L158 658.6L158.8 659L159.7 659.4L160.7 659.7L161.6 660.1L162.4 660.5L163.1 660.9L163.7 661.3L164.3 661.7L164.8 662L165.3 662.4L165.4 662.8L165.1 663.2L164.5 663.6L163.8 664L163 664.4L162.3 664.7L161.6 665.1L160.9 665.5L160.3 665.9L159.6 666.3L159 666.7L158.4 667L157.9 667.4L157.5 667.8L157.2 668.2L156.9 668.6L156.5 669L156.2 669.3L155.9 669.7L155.6 670.1L155.3 670.5L155.1 670.9L155 671.3L154.9 671.7L154.8 672L154.8 672.4L154.7 672.8L154.7 673.2L154.6 673.6L154.6 674L154.5 674.3L154.5 674.7L154.5 675.1L154.5 675.5L154.5 675.9L154.5 676.3L154.5 676.7L154.5 677L154.5 677.4L154.5 677.8L154.4 678.2L154.4 678.6L154.3 679L154.3 679.3L154.2 679.7L154.1 680.1L154.1 680.5L154 680.9Z" fill="#66A61E" stroke="#222" stroke-width="0.6"/>
<path d="M160.1 661.5h1.8v1.8h-1.8zM148.4 664.7h1.8v1.8h-1.8zM140.6 680.4h1.8v1.8h-1.8zM163.4 663.6h1.8v1.8h-1.8zM157.1 661.9h1.8v1.8h-1.8zM157.2 664.5h1.8v1.8h-1.8zM150.3 659h1.8v1.8h-1.8zM147.8 663.5h1.8v1.8h-1.8zM156.4 660.5h1.8v1.8h-1.8zM162.8 665.2h1.8v1.8h-1.8zM144.3 664.6h1.8v1.8h-1.8zM144.8 671.8h1.8v1.8h-1.8zM156.1 660.6h1.8v1.8h-1.8zM142.9 658.8h1.8v1.8h-1.8zM159.6 671.7h1.8v1.8h-1.8zM160.3 661h1.8v1.8h-1.8zM155.4 663.6h1.8v1.8h-1.8zM141.3 674h1.8v1.8h-1.8zM152.8 665.9h1.8v1.8h-1.8zM159.6 665.8h1.8v1.8h-1.8z" fill="#000"/>
<path d="M15.3 724V764.9H168" fill="none" stroke="#222" stroke-width="1"/>
<path d="M15.3 764.1h-2" stroke="#222" stroke-width="0.7"/>
<text x="13.7" y="766.6" font-size="7" text-anchor="end" fill="#333">0</text>
<path d="M15.3 752.1h-2" stroke="#222" stroke-width="0.7"/>
<text x="13.7" y="754.6" font-size="7" text-anchor="end" fill="#333">2</text>
<path d="M15.3 740.1h-2" stroke="#222" stroke-width="0.7"/>
<text x="13.7" y="742.6" font-size="7" text-anchor="end" fill="#333">4</text>
<path d="M15.3 728.1h-2" stroke="#222" stroke-width="0.7"/>
<text x="13.7" y="730.6" font-size="7" text-anchor="end" fill="#333">6</text>
<text x="94.8" y="715.8" font-size="11" text-anchor="middle" font-weight="bold" fill="#000">pros</text>
<text transform="translate(4.9,744.5) rotate(-90)" font-size="7.5" text-anchor="middle" fill="#111">Expression Level</text>
<path d="M33.3 764.9v1.8" stroke="#222" stroke-width="0.7"/>
<text transform="translate(36.5,771.7) rotate(-45)" font-size="7.5" text-anchor="end" fill="#333">1</text>
<path d="M21.1 764.1L20.9 763.5L20.7 762.8L20.7 762.2L20.9 761.5L21.2 760.9L21.7 760.3L22.1 759.6L22.7 759L23.2 758.3L23.8 757.7L24.4 757.1L25.1 756.4L25.6 755.8L26.1 755.1L26.5 754.5L26.7 753.8L26.9 753.2L27.1 752.6L27.1 751.9L27 751.3L26.8 750.6L26.6 750L26.3 749.4L25.8 748.7L25.3 748.1L24.6 747.4L24 746.8L23.4 746.2L22.9 745.5L22.5 744.9L22.1 744.2L21.7 743.6L21.5 743L21.3 742.3L21.3 741.7L21.3 741L21.4 740.4L21.6 739.8L22 739.1L22.4 738.5L22.8 737.8L23.3 737.2L23.9 736.6L24.5 735.9L25.1 735.3L25.8 734.6L26.4 734L26.9 733.3L27.5 732.7L28 732.1L28.5 731.4L29 730.8L29.5 730.1L30 729.5L30.5 728.9L30.9 728.2L31.4 727.6L31.8 726.9L32.1 726.3L34.5 726.3L34.8 726.9L35.2 727.6L35.7 728.2L36.1 728.9L36.6 729.5L37.1 730.1L37.6 730.8L38.1 731.4L38.6 732.1L39.1 732.7L39.7 733.3L40.2 734L40.8 734.6L41.5 735.3L42.1 735.9L42.7 736.6L43.3 737.2L43.8 737.8L44.2 738.5L44.6 739.1L45 739.8L45.2 740.4L45.3 741L45.3 741.7L45.3 742.3L45.1 743L44.9 743.6L44.5 744.2L44.1 744.9L43.7 745.5L43.2 746.2L42.6 746.8L42 747.4L41.3 748.1L40.8 748.7L40.3 749.4L40 750L39.8 750.6L39.6 751.3L39.5 751.9L39.5 752.6L39.7 753.2L39.9 753.8L40.1 754.5L40.5 755.1L41 755.8L41.5 756.4L42.2 757.1L42.8 757.7L43.4 758.3L43.9 759L44.5 759.6L44.9 760.3L45.4 760.9L45.7 761.5L45.9 762.2L45.9 762.8L45.7 763.5L45.5 764.1Z" fill="#1B9E77" stroke="#222" stroke-width="0.6"/>
<path d="M37.7 755h1.8v1.8h-1.8zM40.8 735.8h1.8v1.8h-1.8zM38.7 740.1h1.8v1.8h-1.8zM31.9 763.2h1.8v1.8h-1.8zM32.6 757.2h1.8v1.8h-1.8zM36.6 763.1h1.8v1.8h-1.8zM31.4 728.1h1.8v1.8h-1.8zM42.1 744.8h1.8v1.8h-1.8zM29.1 746.2h1.8v1.8h-1.8zM22.7 726.4h1.8v1.8h-1.8zM30.6 763.2h1.8v1.8h-1.8zM27.7 742h1.8v1.8h-1.8zM21.2 751.8h1.8v1.8h-1.8zM24 763.2h1.8v1.8h-1.8zM36.4 763.2h1.8v1.8h-1.8zM22.1 759h1.8v1.8h-1.8zM38.8 763.2h1.8v1.8h-1.8zM31.7 762.3h1.8v1.8h-1.8zM21.9 734.3h1.8v1.8h-1.8zM42 742.7h1.8v1.8h-1.8zM42.1 763.2h1.8v1.8h-1.8zM37.6 732.8h1.8v1.8h-1.8zM32.5 763.2h1.8v1.8h-1.8zM40.8 760.2h1.8v1.8h-1.8zM24.8 757.8h1.8v1.8h-1.8zM30.6 738.7h1.8v1.8h-1.8zM23.6 740.2h1.8v1.8h-1.8zM32.3 762h1.8v1.8h-1.8zM24.9 742h1.8v1.8h-1.8zM37.1 763.2h1.8v1.8h-1.8zM34.9 742.4h1.8v1.8h-1.8zM35.8 734.9h1.8v1.8h-1.8zM35.8 752.4h1.8v1.8h-1.8zM39.3 754h1.8v1.8h-1.8zM35.7 740.4h1.8v1.8h-1.8zM39.3 763.2h1.8v1.8h-1.8zM23.6 734.9h1.8v1.8h-1.8zM22.8 760h1.8v1.8h-1.8zM41.1 756.9h1.8v1.8h-1.8zM27.6 753.7h1.8v1.8h-1.8zM21.6 749.3h1.8v1.8h-1.8zM25.3 741h1.8v1.8h-1.8zM34.8 761.8h1.8v1.8h-1.8zM28.2 763.3h1.8v1.8h-1.8zM43.3 762.9h1.8v1.8h-1.8zM34.1 752.2h1.8v1.8h-1.8zM33.7 763.2h1.8v1.8h-1.8zM24.5 762.2h1.8v1.8h-1.8zM42.9 728.6h1.8v1.8h-1.8zM38.8 738.9h1.8v1.8h-1.8zM30.4 742h1.8v1.8h-1.8zM34 744.5h1.8v1.8h-1.8zM24.2 763.2h1.8v1.8h-1.8zM28 763h1.8v1.8h-1.8zM27.3 748h1.8v1.8h-1.8z" fill="#000"/>
<path d="M62.6 764.9v1.8" stroke="#222" stroke-width="0.7"/>
<text transform="translate(65.8,771.7) rotate(-45)" font-size="7.5" text-anchor="end" fill="#333">2</text>
<path d="M50.5 764.1L50.3 763.7L50.1 763.2L50 762.8L49.9 762.4L50.2 761.9L50.6 761.5L51.1 761.1L51.7 760.6L52.2 760.2L52.8 759.8L53.3 759.3L53.9 758.9L54.5 758.5L55.1 758L55.6 757.6L56.1 757.2L56.6 756.8L56.9 756.3L57.2 755.9L57.4 755.5L57.6 755L57.9 754.6L58.1 754.2L58.3 753.7L58.5 753.3L58.6 752.9L58.7 752.4L58.8 752L58.8 751.6L58.9 751.1L58.9 750.7L59 750.3L59 749.8L59.1 749.4L59.1 749L59.1 748.5L59.1 748.1L59.1 747.7L59.1 747.2L59.1 746.8L59.1 746.4L59.1 745.9L59.1 745.5L59.1 745.1L59.1 744.7L59.1 744.2L59.1 743.8L59.1 743.4L59.1 742.9L59 742.5L59 742.1L58.9 741.6L58.9 741.2L58.8 740.8L58.8 740.3L58.7 739.9L58.7 739.5L58.7 739L58.6 738.6L66.6 738.6L66.5 739L66.5 739.5L66.5 739.9L66.4 740.3L66.4 740.8L66.3 741.2L66.3 741.6L66.2 742.1L66.2 742.5L66.1 742.9L66.1 743.4L66.1 743.8L66.1 744.2L66.1 744.7L66.1 745.1L66.1 745.5L66.1 745.9L66.1 746.4L66.1 746.8L66.1 747.2L66.1 747.7L66.1 748.1L66.1 748.5L66.1 749L66.1 749.4L66.2 749.8L66.2 750.3L66.3 750.7L66.3 751.1L66.4 751.6L66.4 752L66.5 752.4L66.6 752.9L66.7 753.3L66.9 753.7L67.1 754.2L67.3 754.6L67.6 755L67.8 755.5L68 755.9L68.3 756.3L68.6 756.8L69.1 757.2L69.6 757.6L70.1 758L70.7 758.5L71.3 758.9L71.9 759.3L72.4 759.8L73 760.2L73.5 760.6L74.1 761.1L74.6 761.5L75 761.9L75.3 762.4L75.2 762.8L75.1 763.2L74.9 763.7L74.7 764.1Z" fill="#D95F02" stroke="#222" stroke-width="0.6"/>
<path d="M68.7 752.2h1.8v1.8h-1.8zM70.5 763.2h1.8v1.8h-1.8zM63.8 763.2h1.8v1.8h-1.8zM54.9 756.2h1.8v1.8h-1.8zM52.7 759.7h1.8v1.8h-1.8zM63.6 762.7h1.8v1.8h-1.8zM58.9 762.5h1.8v1.8h-1.8zM54.3 761.4h1.8v1.8h-1.8zM55 752.7h1.8v1.8h-1.8zM70.9 762.7h1.8v1.8h-1.8zM58.3 763.2h1.8v1.8h-1.8zM68.1 761h1.8v1.8h-1.8zM58.7 759.7h1.8v1.8h-1.8zM57.7 759.4h1.8v1.8h-1.8zM59.1 763.2h1.8v1.8h-1.8zM60 763.2h1.8v1.8h-1.8zM57.5 763.2h1.8v1.8h-1.8zM63.8 763.2h1.8v1.8h-1.8zM52.6 748.5h1.8v1.8h-1.8zM66.9 762.8h1.8v1.8h-1.8zM57.5 751.9h1.8v1.8h-1.8zM60.6 752.2h1.8v1.8h-1.8zM56.2 760.7h1.8v1.8h-1.8zM72.3 749.3h1.8v1.8h-1.8zM54.8 741.8h1.8v1.8h-1.8zM60.4 751.2h1.8v1.8h-1.8zM70.9 748.1h1.8v1.8h-1.8zM56.8 763.2h1.8v1.8h-1.8zM63.9 761.1h1.8v1.8h-1.8zM67 750.3h1.8v1.8h-1.8zM51.4 763.2h1.8v1.8h-1.8zM63.2 759.9h1.8v1.8h-1.8zM57.9 761.7h1.8v1.8h-1.8zM51.4 759.2h1.8v1.8h-1.8zM50.9 763.2h1.8v1.8h-1.8zM58.5 760.1h1.8v1.8h-1.8zM52.5 763.2h1.8v1.8h-1.8zM58.1 751.5h1.8v1.8h-1.8zM69.4 753.5h1.8v1.8h-1.8zM60.8 744.1h1.8v1.8h-1.8zM69 758.6h1.8v1.8h-1.8zM64.4 747.4h1.8v1.8h-1.8z" fill="#000"/>
<path d="M92 764.9v1.8" stroke="#222" stroke-width="0.7"/>
<text transform="translate(95.2,771.7) rotate(-45)" font-size="7.5" text-anchor="end" fill="#333">3</text>
<path d="M91.4 763.5L91.3 763L91.1 762.4L90.8 761.9L90.7 761.4L90.5 760.9L90.4 760.3L90.4 759.8L90.3 759.3L90.3 758.7L90.3 758.2L90.2 757.7L90.2 757.2L90.1 756.6L90.1 756.1L90 755.6L90 755L90 754.5L89.9 754L89.9 753.5L89.8 752.9L89.8 752.4L89.7 751.9L89.7 751.3L89.6 750.8L89.6 750.3L89.6 749.8L89.5 749.2L89.4 748.7L89.3 748.2L89.3 747.6L89.2 747.1L89.1 746.6L89 746L88.9 745.5L88.8 745L88.7 744.5L88.6 743.9L88.5 743.4L88.3 742.9L88.1 742.3L87.9 741.8L87.6 741.3L87.3 740.8L86.8 740.2L86.2 739.7L85.4 739.2L84.6 738.6L83.7 738.1L82.8 737.6L81.9 737.1L81.1 736.5L80.2 736L79.6 735.5L79.4 734.9L79.3 734.4L79.5 733.9L79.6 733.4L79.8 732.8L79.9 732.3L104.1 732.3L104.2 732.8L104.4 733.4L104.5 733.9L104.7 734.4L104.6 734.9L104.4 735.5L103.8 736L102.9 736.5L102.1 737.1L101.2 737.6L100.3 738.1L99.4 738.6L98.6 739.2L97.8 739.7L97.2 740.2L96.7 740.8L96.4 741.3L96.1 741.8L95.9 742.3L95.7 742.9L95.5 743.4L95.4 743.9L95.3 744.5L95.2 745L95.1 745.5L95 746L94.9 746.6L94.8 747.1L94.7 747.6L94.7 748.2L94.6 748.7L94.5 749.2L94.4 749.8L94.4 750.3L94.4 750.8L94.3 751.3L94.3 751.9L94.2 752.4L94.2 752.9L94.1 753.5L94.1 754L94 754.5L94 755L94 755.6L93.9 756.1L93.9 756.6L93.8 757.2L93.8 757.7L93.7 758.2L93.7 758.7L93.7 759.3L93.6 759.8L93.6 760.3L93.5 760.9L93.3 761.4L93.2 761.9L92.9 762.4L92.7 763L92.6 763.5Z" fill="#7570B3" stroke="#222" stroke-width="0.6"/>
<path d="M80.7 733.4h1.8v1.8h-1.8zM101.4 735.6h1.8v1.8h-1.8zM82.9 741.2h1.8v1.8h-1.8zM96.5 733h1.8v1.8h-1.8zM79.8 736.2h1.8v1.8h-1.8zM99.8 738.5h1.8v1.8h-1.8zM81.5 733.4h1.8v1.8h-1.8zM81 732.9h1.8v1.8h-1.8zM80.4 731.7h1.8v1.8h-1.8zM82 735.7h1.8v1.8h-1.8zM82.5 731.4h1.8v1.8h-1.8zM95.1 735.8h1.8v1.8h-1.8zM89 745.1h1.8v1.8h-1.8zM93.3 735.5h1.8v1.8h-1.8zM100.5 731h1.8v1.8h-1.8zM85.2 733.1h1.8v1.8h-1.8zM93.5 735.1h1.8v1.8h-1.8zM86.8 735.6h1.8v1.8h-1.8zM84.4 757.4h1.8v1.8h-1.8zM80.6 732.7h1.8v1.8h-1.8zM97.7 739h1.8v1.8h-1.8zM82 732.6h1.8v1.8h-1.8zM96.1 730.5h1.8v1.8h-1.8zM97.2 734.9h1.8v1.8h-1.8zM91.7 735.4h1.8v1.8h-1.8zM94.3 734.1h1.8v1.8h-1.8zM84.5 741.2h1.8v1.8h-1.8zM101.5 737.6h1.8v1.8h-1.8zM99.1 731.2h1.8v1.8h-1.8zM81.3 732.5h1.8v1.8h-1.8zM98.9 732.7h1.8v1.8h-1.8z" fill="#000"/>
<path d="M121 764.9v1.8" stroke="#222" stroke-width="0.7"/>
<text transform="translate(124.2,771.7) rotate(-45)" font-size="7.5" text-anchor="end" fill="#333">4</text>
<path d="M112.8 738.3L112.6 738.2L112.3 738.1L112 738L111.6 737.9L111.3 737.8L111 737.7L110.6 737.6L110.3 737.5L109.9 737.4L109.6 737.3L109.3 737.2L109.1 737.1L109 737L108.9 736.9L108.8 736.8L108.8 736.7L108.7 736.6L108.6 736.5L108.6 736.4L108.5 736.3L108.5 736.2L108.4 736.1L108.4 736L108.3 735.9L108.3 735.8L108.2 735.7L108.1 735.6L108.1 735.5L108 735.4L108 735.2L108 735.1L108 735L108 734.9L108 734.8L108 734.7L108 734.6L108 734.5L108 734.4L108 734.3L108 734.2L108 734.1L108 734L108 733.9L108 733.8L108 733.7L108 733.6L108.1 733.5L108.2 733.4L108.5 733.3L108.7 733.2L109 733.1L109.2 733L109.5 732.9L109.7 732.8L110 732.7L110.2 732.6L110.5 732.5L110.7 732.4L110.9 732.3L131.1 732.3L131.3 732.4L131.5 732.5L131.8 732.6L132 732.7L132.3 732.8L132.5 732.9L132.8 733L133 733.1L133.3 733.2L133.5 733.3L133.8 733.4L133.9 733.5L134 733.6L134 733.7L134 733.8L134 733.9L134 734L134 734.1L134 734.2L134 734.3L134 734.4L134 734.5L134 734.6L134 734.7L134 734.8L134 734.9L134 735L134 735.1L134 735.2L134 735.4L133.9 735.5L133.9 735.6L133.8 735.7L133.7 735.8L133.7 735.9L133.6 736L133.6 736.1L133.5 736.2L133.5 736.3L133.4 736.4L133.4 736.5L133.3 736.6L133.2 736.7L133.2 736.8L133.1 736.9L133 737L132.9 737.1L132.7 737.2L132.4 737.3L132.1 737.4L131.7 737.5L131.4 737.6L131 737.7L130.7 737.8L130.4 737.9L130 738L129.7 738.1L129.4 738.2L129.2 738.3Z" fill="#E7298A" stroke="#222" stroke-width="0.6"/>
<path d="M125.4 737.1h1.8v1.8h-1.8zM131.4 734.1h1.8v1.8h-1.8zM123.9 734.5h1.8v1.8h-1.8zM123.3 733.3h1.8v1.8h-1.8zM125.2 736.6h1.8v1.8h-1.8zM113.3 732.6h1.8v1.8h-1.8zM121.2 734.4h1.8v1.8h-1.8zM117.7 736.7h1.8v1.8h-1.8zM113.7 735.8h1.8v1.8h-1.8zM129.6 734.6h1.8v1.8h-1.8zM128.6 733.5h1.8v1.8h-1.8zM122.7 733.6h1.8v1.8h-1.8zM110.2 735.1h1.8v1.8h-1.8zM124.3 733.5h1.8v1.8h-1.8zM122.5 731.9h1.8v1.8h-1.8zM127.3 732.4h1.8v1.8h-1.8zM108.9 731.5h1.8v1.8h-1.8zM128.5 733.6h1.8v1.8h-1.8zM108.7 733.7h1.8v1.8h-1.8zM131.3 732.4h1.8v1.8h-1.8zM126.4 733.6h1.8v1.8h-1.8zM129.2 731.4h1.8v1.8h-1.8zM116.1 735h1.8v1.8h-1.8zM117.7 734.9h1.8v1.8h-1.8zM110.8 735.4h1.8v1.8h-1.8zM111.5 735.3h1.8v1.8h-1.8zM127 733.8h1.8v1.8h-1.8zM113.1 734.9h1.8v1.8h-1.8zM108.9 734.2h1.8v1.8h-1.8z" fill="#000"/>
<path d="M150 764.9v1.8" stroke="#222" stroke-width="0.7"/>
<text transform="translate(153.2,771.7) rotate(-45)" font-size="7.5" text-anchor="end" fill="#333">5</text>
<path d="M138.9 764.1L138.8 763.8L138.6 763.4L138.4 763.1L138.3 762.7L138.2 762.4L138.3 762L138.4 761.7L138.6 761.4L138.9 761L139.1 760.7L139.3 760.3L139.5 760L139.8 759.6L140 759.3L140.1 758.9L140.2 758.6L140.3 758.3L140.5 757.9L140.6 757.6L140.7 757.2L140.8 756.9L140.9 756.5L140.9 756.2L140.8 755.9L140.7 755.5L140.6 755.2L140.5 754.8L140.4 754.5L140.3 754.1L140.2 753.8L140 753.4L139.8 753.1L139.6 752.8L139.4 752.4L139.2 752.1L139 751.7L138.7 751.4L138.5 751L138.3 750.7L138.1 750.4L137.9 750L137.7 749.7L137.6 749.3L137.4 749L137.3 748.6L137.2 748.3L137.2 747.9L137.3 747.6L137.5 747.3L137.8 746.9L138.1 746.6L138.4 746.2L138.7 745.9L139.2 745.5L139.8 745.2L140.6 744.9L141.4 744.5L142.1 744.2L142.6 743.8L157.4 743.8L157.9 744.2L158.6 744.5L159.4 744.9L160.2 745.2L160.8 745.5L161.3 745.9L161.6 746.2L161.9 746.6L162.2 746.9L162.5 747.3L162.7 747.6L162.8 747.9L162.8 748.3L162.7 748.6L162.6 749L162.4 749.3L162.3 749.7L162.1 750L161.9 750.4L161.7 750.7L161.5 751L161.3 751.4L161 751.7L160.8 752.1L160.6 752.4L160.4 752.8L160.2 753.1L160 753.4L159.8 753.8L159.7 754.1L159.6 754.5L159.5 754.8L159.4 755.2L159.3 755.5L159.2 755.9L159.1 756.2L159.1 756.5L159.2 756.9L159.3 757.2L159.4 757.6L159.5 757.9L159.7 758.3L159.8 758.6L159.9 758.9L160 759.3L160.2 759.6L160.5 760L160.7 760.3L160.9 760.7L161.1 761L161.4 761.4L161.6 761.7L161.7 762L161.8 762.4L161.7 762.7L161.6 763.1L161.4 763.4L161.2 763.8L161.1 764.1Z" fill="#66A61E" stroke="#222" stroke-width="0.6"/>
<path d="M148.8 756.8h1.8v1.8h-1.8zM139.1 751.9h1.8v1.8h-1.8zM155.3 756.3h1.8v1.8h-1.8zM154.6 748.5h1.8v1.8h-1.8zM156.9 762.6h1.8v1.8h-1.8zM150.6 742.8h1.8v1.8h-1.8zM159.9 763.2h1.8v1.8h-1.8zM146.5 752.2h1.8v1.8h-1.8zM142.6 761.7h1.8v1.8h-1.8zM152.9 757.2h1.8v1.8h-1.8zM158.8 744.6h1.8v1.8h-1.8zM151 763.2h1.8v1.8h-1.8zM140.5 762.4h1.8v1.8h-1.8zM155.8 763.2h1.8v1.8h-1.8zM149 761.7h1.8v1.8h-1.8zM138.5 754h1.8v1.8h-1.8zM140.3 751.1h1.8v1.8h-1.8zM155.3 747.8h1.8v1.8h-1.8zM143.9 750.7h1.8v1.8h-1.8zM155.3 757.1h1.8v1.8h-1.8z" fill="#000"/>
<path d="M178.6 371V411.9H330" fill="none" stroke="#222" stroke-width="1"/>
<path d="M178.6 410.2h-2" stroke="#222" stroke-width="0.7"/>
<text x="177" y="412.7" font-size="7" text-anchor="end" fill="#333">0</text>
<path d="M178.6 401.8h-2" stroke="#222" stroke-width="0.7"/>
<text x="177" y="404.3" font-size="7" text-anchor="end" fill="#333">1</text>
<path d="M178.6 393.4h-2" stroke="#222" stroke-width="0.7"/>
<text x="177" y="395.9" font-size="7" text-anchor="end" fill="#333">2</text>
<path d="M178.6 385h-2" stroke="#222" stroke-width="0.7"/>
<text x="177" y="387.5" font-size="7" text-anchor="end" fill="#333">3</text>
<path d="M178.6 376.6h-2" stroke="#222" stroke-width="0.7"/>
<text x="177" y="379.1" font-size="7" text-anchor="end" fill="#333">4</text>
<text x="257.8" y="361.4" font-size="10.4" text-anchor="middle" font-weight="bold" fill="#000">Dop1R2</text>
<path d="M195.7 411.9v1.8" stroke="#222" stroke-width="0.7"/>
<text transform="translate(198.9,418.7) rotate(-45)" font-size="7.5" text-anchor="end" fill="#333">1</text>
<path d="M182.7 410.2h26" stroke="#222" stroke-width="0.8"/>
<path d="M195.7 410.2V389.9" stroke="#555" stroke-width="0.75"/>
<path d="M187.4 409.3h1.8v1.8h-1.8zM205.9 409.3h1.8v1.8h-1.8zM206.4 409.3h1.8v1.8h-1.8zM184.3 409.3h1.8v1.8h-1.8zM184 409.3h1.8v1.8h-1.8zM197.7 409.3h1.8v1.8h-1.8zM188.4 401.5h1.8v1.8h-1.8zM186.3 409.3h1.8v1.8h-1.8zM194.6 409.3h1.8v1.8h-1.8zM191.6 409.3h1.8v1.8h-1.8zM202.7 401.2h1.8v1.8h-1.8zM185.3 409.3h1.8v1.8h-1.8zM197.4 409.3h1.8v1.8h-1.8zM199.6 405.9h1.8v1.8h-1.8zM199.3 409.3h1.8v1.8h-1.8zM200.3 409.3h1.8v1.8h-1.8zM186.5 409.3h1.8v1.8h-1.8zM205 390.5h1.8v1.8h-1.8zM184 409.3h1.8v1.8h-1.8zM204.6 409.3h1.8v1.8h-1.8zM189.9 409.3h1.8v1.8h-1.8zM203.9 409.3h1.8v1.8h-1.8zM184.8 409.3h1.8v1.8h-1.8zM187.7 409.3h1.8v1.8h-1.8zM197.6 409.3h1.8v1.8h-1.8zM185.1 409.3h1.8v1.8h-1.8zM184.1 409.3h1.8v1.8h-1.8zM202.2 409.3h1.8v1.8h-1.8zM202.5 409.3h1.8v1.8h-1.8zM192.2 409.3h1.8v1.8h-1.8zM182.9 409.3h1.8v1.8h-1.8zM195.7 409.3h1.8v1.8h-1.8zM205.5 409.3h1.8v1.8h-1.8zM188.2 409.3h1.8v1.8h-1.8zM194.4 409.3h1.8v1.8h-1.8zM196.1 409.3h1.8v1.8h-1.8zM199.5 409.3h1.8v1.8h-1.8zM184 409.3h1.8v1.8h-1.8zM205.2 409.3h1.8v1.8h-1.8zM203.9 409.3h1.8v1.8h-1.8zM206.4 409.3h1.8v1.8h-1.8zM200.2 409.3h1.8v1.8h-1.8zM182.9 403.1h1.8v1.8h-1.8zM184.8 409.3h1.8v1.8h-1.8zM197.3 409.3h1.8v1.8h-1.8zM185.5 409.3h1.8v1.8h-1.8zM186.1 409.3h1.8v1.8h-1.8zM197.1 409.3h1.8v1.8h-1.8zM202 409.3h1.8v1.8h-1.8zM186.1 409.3h1.8v1.8h-1.8zM186.3 409.3h1.8v1.8h-1.8zM183.5 409.3h1.8v1.8h-1.8zM202.2 394.6h1.8v1.8h-1.8zM204.7 409.3h1.8v1.8h-1.8zM202.7 409.3h1.8v1.8h-1.8z" fill="#000"/>
<path d="M224.9 411.9v1.8" stroke="#222" stroke-width="0.7"/>
<text transform="translate(228.1,418.7) rotate(-45)" font-size="7.5" text-anchor="end" fill="#333">2</text>
<path d="M211.9 410.2h26" stroke="#222" stroke-width="0.8"/>
<path d="M224.9 410.2V395.9" stroke="#555" stroke-width="0.75"/>
<path d="M217.2 409.3h1.8v1.8h-1.8zM213.4 409.3h1.8v1.8h-1.8zM223.4 409.3h1.8v1.8h-1.8zM222.3 403.4h1.8v1.8h-1.8zM230.2 395.4h1.8v1.8h-1.8zM218.5 395.9h1.8v1.8h-1.8zM213.5 409.3h1.8v1.8h-1.8zM234.9 409.3h1.8v1.8h-1.8zM215.5 409.3h1.8v1.8h-1.8zM213.6 409.3h1.8v1.8h-1.8zM213.9 409.3h1.8v1.8h-1.8zM231.6 409.3h1.8v1.8h-1.8zM232.5 409.3h1.8v1.8h-1.8zM222.6 409.3h1.8v1.8h-1.8zM230.9 409.3h1.8v1.8h-1.8zM221.8 409.3h1.8v1.8h-1.8zM223 409.3h1.8v1.8h-1.8zM214.9 409.3h1.8v1.8h-1.8zM222.2 409.3h1.8v1.8h-1.8zM231.9 409.3h1.8v1.8h-1.8zM232.8 409.3h1.8v1.8h-1.8zM215.8 409.3h1.8v1.8h-1.8zM232.1 409.3h1.8v1.8h-1.8zM227.5 409.3h1.8v1.8h-1.8zM213.2 409.3h1.8v1.8h-1.8zM222.4 409.3h1.8v1.8h-1.8zM234.6 409.3h1.8v1.8h-1.8zM218.2 409.3h1.8v1.8h-1.8zM225.4 409.3h1.8v1.8h-1.8zM234.3 409.3h1.8v1.8h-1.8zM216.9 409.3h1.8v1.8h-1.8zM212.7 409.3h1.8v1.8h-1.8zM232.9 409.3h1.8v1.8h-1.8zM212.4 409.3h1.8v1.8h-1.8zM217.9 409.3h1.8v1.8h-1.8zM233.9 409.3h1.8v1.8h-1.8zM218.7 409.3h1.8v1.8h-1.8zM218.9 409.3h1.8v1.8h-1.8zM218.2 409.3h1.8v1.8h-1.8zM233.4 398.8h1.8v1.8h-1.8zM234.9 409.3h1.8v1.8h-1.8zM218.2 409.3h1.8v1.8h-1.8z" fill="#000"/>
<path d="M254.3 411.9v1.8" stroke="#222" stroke-width="0.7"/>
<text transform="translate(257.5,418.7) rotate(-45)" font-size="7.5" text-anchor="end" fill="#333">3</text>
<path d="M243 410.2L244.1 409.6L245.6 408.9L247.3 408.3L248.7 407.7L249.7 407L250.3 406.4L250.8 405.8L251.2 405.1L251.6 404.5L251.9 403.9L252.2 403.2L252.4 402.6L252.6 402L252.8 401.4L252.9 400.7L252.9 400.1L252.9 399.5L253 398.8L253 398.2L253.1 397.6L253.1 396.9L253.1 396.3L253.2 395.7L253.2 395L253.2 394.4L253.3 393.8L253.3 393.1L253.3 392.5L253.3 391.9L253.3 391.2L253.3 390.6L253.3 390L253.3 389.3L253.3 388.7L253.3 388.1L253.3 387.4L253.3 386.8L253.3 386.2L253.3 385.5L253.2 384.9L253.1 384.3L253 383.7L252.9 383L252.8 382.4L252.7 381.8L252.7 381.1L252.8 380.5L253 379.9L253.1 379.2L253.3 378.6L253.4 378L253.4 377.3L253.4 376.7L253.4 376.1L253.5 375.4L253.5 374.8L253.5 374.2L253.5 373.5L253.5 372.9L255.1 372.9L255.1 373.5L255.1 374.2L255.1 374.8L255.1 375.4L255.2 376.1L255.2 376.7L255.2 377.3L255.2 378L255.3 378.6L255.5 379.2L255.6 379.9L255.8 380.5L255.9 381.1L255.9 381.8L255.8 382.4L255.7 383L255.6 383.7L255.5 384.3L255.4 384.9L255.3 385.5L255.3 386.2L255.3 386.8L255.3 387.4L255.3 388.1L255.3 388.7L255.3 389.3L255.3 390L255.3 390.6L255.3 391.2L255.3 391.9L255.3 392.5L255.3 393.1L255.3 393.8L255.4 394.4L255.4 395L255.4 395.7L255.5 396.3L255.5 396.9L255.5 397.6L255.6 398.2L255.6 398.8L255.7 399.5L255.7 400.1L255.7 400.7L255.8 401.4L256 402L256.2 402.6L256.4 403.2L256.7 403.9L257 404.5L257.4 405.1L257.8 405.8L258.3 406.4L258.9 407L259.9 407.7L261.3 408.3L263 408.9L264.5 409.6L265.6 410.2Z" fill="#7570B3" stroke="#222" stroke-width="0.6"/>
<path d="M242.8 409.3h1.8v1.8h-1.8zM259.8 409.3h1.8v1.8h-1.8zM250.3 408.7h1.8v1.8h-1.8zM264.4 381.7h1.8v1.8h-1.8zM255.3 406h1.8v1.8h-1.8zM247.6 408.6h1.8v1.8h-1.8zM247.1 405.7h1.8v1.8h-1.8zM261.4 409.6h1.8v1.8h-1.8zM254.6 407.4h1.8v1.8h-1.8zM247.3 405.4h1.8v1.8h-1.8zM263.7 409.4h1.8v1.8h-1.8zM252.3 408.2h1.8v1.8h-1.8zM247.1 409.3h1.8v1.8h-1.8zM243.7 409.5h1.8v1.8h-1.8zM255.7 408.1h1.8v1.8h-1.8zM248.7 406.5h1.8v1.8h-1.8zM258.8 407.5h1.8v1.8h-1.8zM254.5 405.9h1.8v1.8h-1.8zM251.8 403.6h1.8v1.8h-1.8zM263.8 404.1h1.8v1.8h-1.8zM256.2 376.3h1.8v1.8h-1.8zM255.5 409.3h1.8v1.8h-1.8zM251.9 404.8h1.8v1.8h-1.8zM254.5 403.9h1.8v1.8h-1.8zM257.4 409.3h1.8v1.8h-1.8zM253 405.2h1.8v1.8h-1.8zM245.7 408.8h1.8v1.8h-1.8zM245.8 390.7h1.8v1.8h-1.8zM261.7 409.3h1.8v1.8h-1.8zM252.2 408.2h1.8v1.8h-1.8zM250.1 406.6h1.8v1.8h-1.8z" fill="#000"/>
<path d="M283.4 411.9v1.8" stroke="#222" stroke-width="0.7"/>
<text transform="translate(286.6,418.7) rotate(-45)" font-size="7.5" text-anchor="end" fill="#333">4</text>
<path d="M275.3 410.2L275.1 409.7L274.9 409.2L274.7 408.7L274.5 408.2L274.2 407.7L274 407.2L273.7 406.7L273.5 406.2L273.4 405.7L273.2 405.2L273.1 404.7L273 404.2L272.9 403.7L272.7 403.2L272.6 402.7L272.5 402.2L272.4 401.7L272.3 401.2L272.3 400.7L272.2 400.2L272.2 399.7L272.1 399.2L272 398.7L272 398.2L271.9 397.7L271.9 397.2L271.8 396.7L271.7 396.2L271.7 395.7L271.6 395.3L271.6 394.8L271.5 394.3L271.4 393.8L271.3 393.3L271.2 392.8L271.1 392.3L271 391.8L270.9 391.3L270.8 390.8L270.7 390.3L270.6 389.8L270.6 389.3L270.7 388.8L270.8 388.3L271.1 387.8L271.3 387.3L271.6 386.8L271.8 386.3L272 385.8L272.3 385.3L272.7 384.8L273.1 384.3L273.6 383.8L274 383.3L274.5 382.8L275 382.3L275.5 381.8L275.9 381.3L276.2 380.8L290.6 380.8L290.9 381.3L291.3 381.8L291.8 382.3L292.3 382.8L292.8 383.3L293.2 383.8L293.7 384.3L294.1 384.8L294.5 385.3L294.8 385.8L295 386.3L295.2 386.8L295.5 387.3L295.7 387.8L296 388.3L296.1 388.8L296.2 389.3L296.2 389.8L296.1 390.3L296 390.8L295.9 391.3L295.8 391.8L295.7 392.3L295.6 392.8L295.5 393.3L295.4 393.8L295.3 394.3L295.2 394.8L295.2 395.3L295.1 395.7L295.1 396.2L295 396.7L294.9 397.2L294.9 397.7L294.8 398.2L294.8 398.7L294.7 399.2L294.6 399.7L294.6 400.2L294.5 400.7L294.5 401.2L294.4 401.7L294.3 402.2L294.2 402.7L294.1 403.2L293.9 403.7L293.8 404.2L293.7 404.7L293.6 405.2L293.4 405.7L293.3 406.2L293.1 406.7L292.8 407.2L292.6 407.7L292.3 408.2L292.1 408.7L291.9 409.2L291.7 409.7L291.5 410.2Z" fill="#E7298A" stroke="#222" stroke-width="0.6"/>
<path d="M283.4 409.3h1.8v1.8h-1.8zM284.8 394.3h1.8v1.8h-1.8zM277.2 397.7h1.8v1.8h-1.8zM285.9 409.3h1.8v1.8h-1.8zM276.3 394.4h1.8v1.8h-1.8zM277.2 395.7h1.8v1.8h-1.8zM289.5 390.7h1.8v1.8h-1.8zM278.7 400.3h1.8v1.8h-1.8zM286.7 400h1.8v1.8h-1.8zM291 399.7h1.8v1.8h-1.8zM283 395.7h1.8v1.8h-1.8zM288.1 392.4h1.8v1.8h-1.8zM272.2 409.3h1.8v1.8h-1.8zM275 409.3h1.8v1.8h-1.8zM274.8 409.3h1.8v1.8h-1.8zM282.3 409.7h1.8v1.8h-1.8zM284.6 381.1h1.8v1.8h-1.8zM279.6 383.3h1.8v1.8h-1.8zM282.1 395.1h1.8v1.8h-1.8zM277.3 402.2h1.8v1.8h-1.8zM275.3 392.2h1.8v1.8h-1.8zM286.8 393.3h1.8v1.8h-1.8zM278.7 391h1.8v1.8h-1.8zM275.1 380h1.8v1.8h-1.8zM271.8 409.3h1.8v1.8h-1.8zM277.1 405.9h1.8v1.8h-1.8zM286.6 409.3h1.8v1.8h-1.8zM283.4 379.7h1.8v1.8h-1.8zM276.7 388.2h1.8v1.8h-1.8z" fill="#000"/>
<path d="M312.5 411.9v1.8" stroke="#222" stroke-width="0.7"/>
<text transform="translate(315.7,418.7) rotate(-45)" font-size="7.5" text-anchor="end" fill="#333">5</text>
<path d="M305.4 410.2L305.1 409.8L304.9 409.4L304.6 409L304.2 408.6L303.9 408.2L303.6 407.8L303.4 407.4L303.2 407L303 406.6L302.8 406.2L302.6 405.8L302.4 405.4L302.2 405L302 404.6L301.9 404.2L301.7 403.8L301.5 403.4L301.4 403L301.3 402.6L301.2 402.2L301.1 401.8L301 401.4L300.9 401L300.8 400.6L300.7 400.2L300.6 399.8L300.5 399.4L300.4 399L300.3 398.6L300.3 398.2L300.2 397.8L300.1 397.4L300 397L299.9 396.6L299.8 396.2L299.7 395.8L299.6 395.5L299.6 395.1L299.6 394.7L299.7 394.3L299.8 393.9L299.9 393.5L300 393.1L300.1 392.7L300.2 392.3L300.3 391.9L300.4 391.5L300.5 391.1L300.8 390.7L301.1 390.3L301.5 389.9L301.8 389.5L302.2 389.1L302.6 388.7L303 388.3L303.4 387.9L303.7 387.5L304.1 387.1L304.3 386.7L320.7 386.7L320.9 387.1L321.3 387.5L321.6 387.9L322 388.3L322.4 388.7L322.8 389.1L323.2 389.5L323.5 389.9L323.9 390.3L324.2 390.7L324.5 391.1L324.6 391.5L324.7 391.9L324.8 392.3L324.9 392.7L325 393.1L325.1 393.5L325.2 393.9L325.3 394.3L325.4 394.7L325.4 395.1L325.4 395.5L325.3 395.8L325.2 396.2L325.1 396.6L325 397L324.9 397.4L324.8 397.8L324.7 398.2L324.7 398.6L324.6 399L324.5 399.4L324.4 399.8L324.3 400.2L324.2 400.6L324.1 401L324 401.4L323.9 401.8L323.8 402.2L323.7 402.6L323.6 403L323.5 403.4L323.3 403.8L323.1 404.2L323 404.6L322.8 405L322.6 405.4L322.4 405.8L322.2 406.2L322 406.6L321.8 407L321.6 407.4L321.4 407.8L321.1 408.2L320.8 408.6L320.4 409L320.1 409.4L319.9 409.8L319.6 410.2Z" fill="#66A61E" stroke="#222" stroke-width="0.6"/>
<path d="M311.8 409.3h1.8v1.8h-1.8zM321.8 403.3h1.8v1.8h-1.8zM310.5 397.2h1.8v1.8h-1.8zM303 391.4h1.8v1.8h-1.8zM307.4 392.9h1.8v1.8h-1.8zM317.9 396.1h1.8v1.8h-1.8zM303.5 409h1.8v1.8h-1.8zM305.8 392.7h1.8v1.8h-1.8zM309.9 394.8h1.8v1.8h-1.8zM311.4 409.3h1.8v1.8h-1.8zM311.1 401.8h1.8v1.8h-1.8zM302.8 392.5h1.8v1.8h-1.8zM321 409.3h1.8v1.8h-1.8zM317 409.3h1.8v1.8h-1.8zM301.7 394.2h1.8v1.8h-1.8zM305.5 401.8h1.8v1.8h-1.8zM312.2 396.1h1.8v1.8h-1.8zM312.2 404h1.8v1.8h-1.8zM313.1 394.8h1.8v1.8h-1.8zM312.3 393.9h1.8v1.8h-1.8z" fill="#000"/>
<path d="M178.6 440.1V481H330" fill="none" stroke="#222" stroke-width="1"/>
<path d="M178.6 479.4h-2" stroke="#222" stroke-width="0.7"/>
<text x="177" y="481.9" font-size="7" text-anchor="end" fill="#333">0</text>
<path d="M178.6 471h-2" stroke="#222" stroke-width="0.7"/>
<text x="177" y="473.5" font-size="7" text-anchor="end" fill="#333">1</text>
<path d="M178.6 462.6h-2" stroke="#222" stroke-width="0.7"/>
<text x="177" y="465.1" font-size="7" text-anchor="end" fill="#333">2</text>
<path d="M178.6 454.2h-2" stroke="#222" stroke-width="0.7"/>
<text x="177" y="456.7" font-size="7" text-anchor="end" fill="#333">3</text>
<path d="M178.6 445.8h-2" stroke="#222" stroke-width="0.7"/>
<text x="177" y="448.3" font-size="7" text-anchor="end" fill="#333">4</text>
<text x="254.5" y="431.6" font-size="10.8" text-anchor="middle" font-weight="bold" fill="#000">prt</text>
<path d="M195.7 481v1.8" stroke="#222" stroke-width="0.7"/>
<text transform="translate(198.9,487.8) rotate(-45)" font-size="7.5" text-anchor="end" fill="#333">1</text>
<path d="M183.7 479.4h24" stroke="#222" stroke-width="0.8"/>
<path d="M195.7 479.4V466" stroke="#555" stroke-width="0.75"/>
<path d="M202.7 465.2h1.8v1.8h-1.8zM199.4 478.5h1.8v1.8h-1.8zM188.7 478.5h1.8v1.8h-1.8zM198.7 478.5h1.8v1.8h-1.8zM197.5 478.5h1.8v1.8h-1.8zM197.4 478.5h1.8v1.8h-1.8zM188.5 478.5h1.8v1.8h-1.8zM199.5 478.5h1.8v1.8h-1.8zM190.3 472.5h1.8v1.8h-1.8zM193.1 478.5h1.8v1.8h-1.8zM200.9 478.5h1.8v1.8h-1.8zM202.2 478.5h1.8v1.8h-1.8zM206.1 478.5h1.8v1.8h-1.8zM193.5 478.5h1.8v1.8h-1.8zM190.3 478.5h1.8v1.8h-1.8zM192.8 478.5h1.8v1.8h-1.8zM195.3 478.5h1.8v1.8h-1.8zM183.1 478.5h1.8v1.8h-1.8zM194.2 478.5h1.8v1.8h-1.8zM204.5 474.5h1.8v1.8h-1.8zM189.5 467.3h1.8v1.8h-1.8zM203.9 478.5h1.8v1.8h-1.8zM190 478.5h1.8v1.8h-1.8zM202.6 468.6h1.8v1.8h-1.8zM187.1 478.5h1.8v1.8h-1.8zM185.1 478.5h1.8v1.8h-1.8zM194.7 478.5h1.8v1.8h-1.8zM189.7 478.5h1.8v1.8h-1.8zM186.2 478.5h1.8v1.8h-1.8zM184.2 478.5h1.8v1.8h-1.8zM196.9 478.5h1.8v1.8h-1.8zM192.9 478.5h1.8v1.8h-1.8zM196.4 468.1h1.8v1.8h-1.8zM189.8 474h1.8v1.8h-1.8zM197.2 478.5h1.8v1.8h-1.8zM183.9 468.6h1.8v1.8h-1.8zM187.7 470.9h1.8v1.8h-1.8zM197.9 478.5h1.8v1.8h-1.8zM188.9 470h1.8v1.8h-1.8zM194 478.5h1.8v1.8h-1.8zM196.7 478.5h1.8v1.8h-1.8zM188.9 478.5h1.8v1.8h-1.8zM183.5 478.5h1.8v1.8h-1.8zM200.5 478.5h1.8v1.8h-1.8zM204.5 478.5h1.8v1.8h-1.8zM198.6 478.5h1.8v1.8h-1.8zM204.4 478.5h1.8v1.8h-1.8zM203.1 478.5h1.8v1.8h-1.8zM205.6 478.5h1.8v1.8h-1.8zM187.1 478.5h1.8v1.8h-1.8zM186.5 478.5h1.8v1.8h-1.8zM191.9 478.5h1.8v1.8h-1.8zM191.5 478.5h1.8v1.8h-1.8zM192.4 478.5h1.8v1.8h-1.8zM201.9 478.5h1.8v1.8h-1.8z" fill="#000"/>
<path d="M224.9 481v1.8" stroke="#222" stroke-width="0.7"/>
<text transform="translate(228.1,487.8) rotate(-45)" font-size="7.5" text-anchor="end" fill="#333">2</text>
<path d="M211.9 479.4h26" stroke="#222" stroke-width="0.8"/>
<path d="M224.9 479.4V478.6" stroke="#555" stroke-width="0.75"/>
<path d="M229.1 478.5h1.8v1.8h-1.8zM235.4 478.5h1.8v1.8h-1.8zM228.9 478.5h1.8v1.8h-1.8zM233.9 478.5h1.8v1.8h-1.8zM226.2 476.7h1.8v1.8h-1.8zM220.7 478.5h1.8v1.8h-1.8zM226.9 478.5h1.8v1.8h-1.8zM230.1 478.5h1.8v1.8h-1.8zM222.1 478.5h1.8v1.8h-1.8zM232.2 478.5h1.8v1.8h-1.8zM215.5 478.5h1.8v1.8h-1.8zM217.6 478.5h1.8v1.8h-1.8zM221.9 478.5h1.8v1.8h-1.8zM218.5 476.7h1.8v1.8h-1.8zM235 478.5h1.8v1.8h-1.8zM217.8 478.5h1.8v1.8h-1.8zM228.1 478.5h1.8v1.8h-1.8zM219.9 476.1h1.8v1.8h-1.8zM223.9 478.5h1.8v1.8h-1.8zM228.2 478.5h1.8v1.8h-1.8zM213.2 478.5h1.8v1.8h-1.8zM219.3 478.5h1.8v1.8h-1.8zM218.9 478.5h1.8v1.8h-1.8zM212.6 478.5h1.8v1.8h-1.8zM230.2 478.5h1.8v1.8h-1.8zM214.3 478.5h1.8v1.8h-1.8zM213.9 478.5h1.8v1.8h-1.8zM223.8 478.5h1.8v1.8h-1.8zM230.8 478.5h1.8v1.8h-1.8zM224.6 478.5h1.8v1.8h-1.8zM212.7 478.5h1.8v1.8h-1.8zM221.3 478.5h1.8v1.8h-1.8zM214.5 478.5h1.8v1.8h-1.8zM225 478.5h1.8v1.8h-1.8zM213.8 478.5h1.8v1.8h-1.8zM236 477.6h1.8v1.8h-1.8zM229.6 478.5h1.8v1.8h-1.8zM223.5 478.5h1.8v1.8h-1.8zM227.4 478.5h1.8v1.8h-1.8zM228.3 478.5h1.8v1.8h-1.8zM219.1 478.5h1.8v1.8h-1.8zM230.3 478.5h1.8v1.8h-1.8z" fill="#000"/>
<path d="M254.3 481v1.8" stroke="#222" stroke-width="0.7"/>
<text transform="translate(257.5,487.8) rotate(-45)" font-size="7.5" text-anchor="end" fill="#333">3</text>
<path d="M243.1 479.4L242.7 478.8L242.3 478.1L241.9 477.5L241.7 476.9L241.8 476.3L242 475.6L242.4 475L242.8 474.4L243.3 473.8L243.8 473.1L244.5 472.5L245.2 471.9L246 471.3L246.7 470.6L247.3 470L247.9 469.4L248.3 468.8L248.8 468.1L249.2 467.5L249.6 466.9L249.9 466.2L250.1 465.6L250.2 465L250.4 464.4L250.5 463.7L250.7 463.1L250.8 462.5L250.9 461.9L251 461.2L251 460.6L251.1 460L251.2 459.4L251.2 458.7L251.2 458.1L251.2 457.5L251.1 456.8L251 456.2L251 455.6L250.9 455L250.8 454.3L250.7 453.7L250.5 453.1L250.4 452.5L250.2 451.8L250.1 451.2L249.9 450.6L249.8 450L249.6 449.3L249.5 448.7L249.3 448.1L249.2 447.5L249.1 446.8L249 446.2L248.9 445.6L248.9 444.9L249 444.3L249.1 443.7L249.2 443.1L249.3 442.4L259.3 442.4L259.4 443.1L259.5 443.7L259.6 444.3L259.7 444.9L259.7 445.6L259.6 446.2L259.5 446.8L259.4 447.5L259.3 448.1L259.1 448.7L259 449.3L258.8 450L258.7 450.6L258.5 451.2L258.4 451.8L258.2 452.5L258.1 453.1L257.9 453.7L257.8 454.3L257.7 455L257.6 455.6L257.6 456.2L257.5 456.8L257.4 457.5L257.4 458.1L257.4 458.7L257.4 459.4L257.5 460L257.6 460.6L257.6 461.2L257.7 461.9L257.8 462.5L257.9 463.1L258.1 463.7L258.2 464.4L258.4 465L258.5 465.6L258.7 466.2L259 466.9L259.4 467.5L259.8 468.1L260.3 468.8L260.7 469.4L261.3 470L261.9 470.6L262.6 471.3L263.4 471.9L264.1 472.5L264.8 473.1L265.3 473.8L265.8 474.4L266.2 475L266.6 475.6L266.8 476.3L266.9 476.9L266.7 477.5L266.3 478.1L265.9 478.8L265.5 479.4Z" fill="#7570B3" stroke="#222" stroke-width="0.6"/>
<path d="M253.9 472.9h1.8v1.8h-1.8zM243.3 478.5h1.8v1.8h-1.8zM254.4 477h1.8v1.8h-1.8zM244.3 444.3h1.8v1.8h-1.8zM256.9 472.6h1.8v1.8h-1.8zM253.2 473.9h1.8v1.8h-1.8zM247.5 478.5h1.8v1.8h-1.8zM264.8 464.7h1.8v1.8h-1.8zM264.2 469.1h1.8v1.8h-1.8zM242.5 474.1h1.8v1.8h-1.8zM258.8 472.9h1.8v1.8h-1.8zM243.7 449h1.8v1.8h-1.8zM253.2 466.8h1.8v1.8h-1.8zM246.4 472.1h1.8v1.8h-1.8zM256 478.5h1.8v1.8h-1.8zM263.8 451h1.8v1.8h-1.8zM245.7 476.1h1.8v1.8h-1.8zM242.8 475.9h1.8v1.8h-1.8zM263.8 467.8h1.8v1.8h-1.8zM256.8 473.5h1.8v1.8h-1.8zM249 471.9h1.8v1.8h-1.8zM255.7 477h1.8v1.8h-1.8zM260.2 476.6h1.8v1.8h-1.8zM250.3 478.5h1.8v1.8h-1.8zM251.4 478.5h1.8v1.8h-1.8zM243.8 449.7h1.8v1.8h-1.8zM246.7 450.1h1.8v1.8h-1.8zM249.3 461.8h1.8v1.8h-1.8zM258.8 444.9h1.8v1.8h-1.8zM261.5 478.5h1.8v1.8h-1.8zM243.9 442h1.8v1.8h-1.8z" fill="#000"/>
<path d="M283.4 481v1.8" stroke="#222" stroke-width="0.7"/>
<text transform="translate(286.6,487.8) rotate(-45)" font-size="7.5" text-anchor="end" fill="#333">4</text>
<path d="M271.3 479.4L271.2 478.9L271 478.4L270.8 477.9L270.7 477.4L270.6 476.9L270.7 476.5L271 476L271.2 475.5L271.5 475L271.8 474.5L272.2 474L272.5 473.5L273 473L273.6 472.5L274.2 472L274.8 471.5L275.3 471L275.8 470.6L276.3 470.1L276.5 469.6L276.7 469.1L276.9 468.6L277 468.1L277.1 467.6L277.2 467.1L277.2 466.6L277.1 466.1L277 465.6L276.8 465.2L276.6 464.7L276.5 464.2L276.3 463.7L276.1 463.2L275.8 462.7L275.5 462.2L275.2 461.7L274.8 461.2L274.3 460.7L273.9 460.2L273.5 459.8L273.1 459.3L272.7 458.8L272.4 458.3L272.1 457.8L271.9 457.3L271.6 456.8L271.4 456.3L271.2 455.8L270.9 455.3L270.8 454.8L270.7 454.3L270.8 453.9L271.1 453.4L271.5 452.9L271.8 452.4L272.2 451.9L272.6 451.4L273 450.9L273.2 450.4L293.6 450.4L293.8 450.9L294.2 451.4L294.6 451.9L295 452.4L295.3 452.9L295.7 453.4L296 453.9L296.1 454.3L296 454.8L295.9 455.3L295.6 455.8L295.4 456.3L295.2 456.8L294.9 457.3L294.7 457.8L294.4 458.3L294.1 458.8L293.7 459.3L293.3 459.8L292.9 460.2L292.5 460.7L292 461.2L291.6 461.7L291.3 462.2L291 462.7L290.7 463.2L290.5 463.7L290.3 464.2L290.2 464.7L290 465.2L289.8 465.6L289.7 466.1L289.6 466.6L289.6 467.1L289.7 467.6L289.8 468.1L289.9 468.6L290.1 469.1L290.3 469.6L290.5 470.1L291 470.6L291.5 471L292 471.5L292.6 472L293.2 472.5L293.8 473L294.3 473.5L294.6 474L295 474.5L295.3 475L295.6 475.5L295.8 476L296.1 476.5L296.2 476.9L296.1 477.4L296 477.9L295.8 478.4L295.6 478.9L295.5 479.4Z" fill="#E7298A" stroke="#222" stroke-width="0.6"/>
<path d="M288.5 454.8h1.8v1.8h-1.8zM281.3 461.2h1.8v1.8h-1.8zM292.6 457.1h1.8v1.8h-1.8zM279 472.3h1.8v1.8h-1.8zM293.1 478h1.8v1.8h-1.8zM274.9 459.4h1.8v1.8h-1.8zM277.3 457h1.8v1.8h-1.8zM278.4 470h1.8v1.8h-1.8zM290.2 476.9h1.8v1.8h-1.8zM281.6 455h1.8v1.8h-1.8zM271.3 471.7h1.8v1.8h-1.8zM284.9 478.5h1.8v1.8h-1.8zM283.9 478.5h1.8v1.8h-1.8zM274.6 461.6h1.8v1.8h-1.8zM286.5 463.3h1.8v1.8h-1.8zM288.1 472.8h1.8v1.8h-1.8zM289.4 474.3h1.8v1.8h-1.8zM289.2 460.2h1.8v1.8h-1.8zM274 470.8h1.8v1.8h-1.8zM279.9 475.9h1.8v1.8h-1.8zM278.8 450.8h1.8v1.8h-1.8zM291.1 478.5h1.8v1.8h-1.8zM279.7 473.1h1.8v1.8h-1.8zM272.9 454.4h1.8v1.8h-1.8zM292.1 478.5h1.8v1.8h-1.8zM272.8 478.5h1.8v1.8h-1.8zM292.1 476.5h1.8v1.8h-1.8zM282.7 461.6h1.8v1.8h-1.8zM274.9 454.1h1.8v1.8h-1.8z" fill="#000"/>
<path d="M312.5 481v1.8" stroke="#222" stroke-width="0.7"/>
<text transform="translate(315.7,487.8) rotate(-45)" font-size="7.5" text-anchor="end" fill="#333">5</text>
<path d="M308.4 479.4L308.3 478.9L308.1 478.3L307.9 477.8L307.8 477.3L307.8 476.8L307.9 476.2L308.2 475.7L308.5 475.2L308.8 474.7L309.1 474.1L309.5 473.6L309.9 473.1L310.3 472.6L310.7 472L311.1 471.5L311.3 471L311.5 470.4L311.5 469.9L311.5 469.4L311.5 468.9L311.5 468.3L311.4 467.8L311.3 467.3L311.1 466.8L310.9 466.2L310.6 465.7L310.4 465.2L310.1 464.7L309.8 464.1L309.4 463.6L309 463.1L308.6 462.5L308.1 462L307.7 461.5L307.2 461L306.8 460.4L306.2 459.9L305.7 459.4L305 458.9L304.4 458.3L303.8 457.8L303.2 457.3L302.5 456.7L302 456.2L301.5 455.7L301.1 455.2L300.8 454.6L300.4 454.1L300.1 453.6L299.9 453.1L299.8 452.5L299.8 452L300 451.5L300.2 451L300.5 450.4L300.7 449.9L301 449.4L301.2 448.8L301.4 448.3L323.6 448.3L323.8 448.8L324 449.4L324.3 449.9L324.5 450.4L324.8 451L325 451.5L325.2 452L325.2 452.5L325.1 453.1L324.9 453.6L324.6 454.1L324.2 454.6L323.9 455.2L323.5 455.7L323 456.2L322.5 456.7L321.8 457.3L321.2 457.8L320.6 458.3L320 458.9L319.3 459.4L318.8 459.9L318.2 460.4L317.8 461L317.3 461.5L316.9 462L316.4 462.5L316 463.1L315.6 463.6L315.2 464.1L314.9 464.7L314.6 465.2L314.4 465.7L314.1 466.2L313.9 466.8L313.7 467.3L313.6 467.8L313.5 468.3L313.5 468.9L313.5 469.4L313.5 469.9L313.5 470.4L313.7 471L313.9 471.5L314.3 472L314.7 472.6L315.1 473.1L315.5 473.6L315.9 474.1L316.2 474.7L316.5 475.2L316.8 475.7L317.1 476.2L317.2 476.8L317.2 477.3L317.1 477.8L316.9 478.3L316.7 478.9L316.6 479.4Z" fill="#66A61E" stroke="#222" stroke-width="0.6"/>
<path d="M306.7 461.2h1.8v1.8h-1.8zM302.9 448.7h1.8v1.8h-1.8zM313.8 463.9h1.8v1.8h-1.8zM303.3 452.3h1.8v1.8h-1.8zM318.9 451.2h1.8v1.8h-1.8zM321.5 473.5h1.8v1.8h-1.8zM300.4 452.3h1.8v1.8h-1.8zM311.8 478.5h1.8v1.8h-1.8zM307.3 453.5h1.8v1.8h-1.8zM310.4 451.8h1.8v1.8h-1.8zM302.3 459.6h1.8v1.8h-1.8zM301.8 449.1h1.8v1.8h-1.8zM304.2 452.9h1.8v1.8h-1.8zM305.1 478.5h1.8v1.8h-1.8zM316.1 478.5h1.8v1.8h-1.8zM305 448.4h1.8v1.8h-1.8zM314.5 455.5h1.8v1.8h-1.8zM302 453h1.8v1.8h-1.8zM320.3 478.5h1.8v1.8h-1.8zM314.5 448.5h1.8v1.8h-1.8z" fill="#000"/>
<path d="M178.6 511.6V552H330" fill="none" stroke="#222" stroke-width="1"/>
<path d="M178.6 550.3h-2" stroke="#222" stroke-width="0.7"/>
<text x="177" y="552.8" font-size="7" text-anchor="end" fill="#333">0</text>
<path d="M178.6 542.1h-2" stroke="#222" stroke-width="0.7"/>
<text x="177" y="544.6" font-size="7" text-anchor="end" fill="#333">1</text>
<path d="M178.6 534h-2" stroke="#222" stroke-width="0.7"/>
<text x="177" y="536.5" font-size="7" text-anchor="end" fill="#333">2</text>
<path d="M178.6 525.8h-2" stroke="#222" stroke-width="0.7"/>
<text x="177" y="528.3" font-size="7" text-anchor="end" fill="#333">3</text>
<path d="M178.6 517.7h-2" stroke="#222" stroke-width="0.7"/>
<text x="177" y="520.2" font-size="7" text-anchor="end" fill="#333">4</text>
<text x="255" y="504" font-size="10.8" text-anchor="middle" font-weight="bold" fill="#000">mamo</text>
<path d="M195.7 552v1.8" stroke="#222" stroke-width="0.7"/>
<text transform="translate(198.9,558.8) rotate(-45)" font-size="7.5" text-anchor="end" fill="#333">1</text>
<path d="M184.6 550.3L184.5 549.8L184.3 549.3L184.1 548.8L184 548.3L184 547.8L184.3 547.3L184.7 546.8L185.1 546.3L185.6 545.8L186 545.3L186.5 544.8L187 544.3L187.5 543.8L188 543.3L188.6 542.8L189.1 542.3L189.6 541.8L189.9 541.3L190.1 540.9L190 540.4L190 539.9L189.9 539.4L189.8 538.9L189.6 538.4L189.4 537.9L189 537.4L188.5 536.9L188 536.4L187.5 535.9L187.1 535.4L186.6 534.9L186.1 534.4L185.7 533.9L185.3 533.4L185 532.9L184.7 532.4L184.4 531.9L184.1 531.4L183.8 530.9L183.5 530.4L183.3 529.9L183.2 529.4L183.2 528.9L183.2 528.4L183.2 527.9L183.2 527.4L183.2 526.9L183.2 526.4L183.4 525.9L183.7 525.4L184.1 524.9L184.6 524.4L185.2 523.9L185.8 523.4L186.5 522.9L187.3 522.5L188.1 522L188.8 521.5L189.3 521L202.1 521L202.6 521.5L203.3 522L204.1 522.5L204.9 522.9L205.6 523.4L206.2 523.9L206.8 524.4L207.3 524.9L207.7 525.4L208 525.9L208.2 526.4L208.2 526.9L208.2 527.4L208.2 527.9L208.2 528.4L208.2 528.9L208.2 529.4L208.1 529.9L207.9 530.4L207.6 530.9L207.3 531.4L207 531.9L206.7 532.4L206.4 532.9L206.1 533.4L205.7 533.9L205.3 534.4L204.8 534.9L204.3 535.4L203.9 535.9L203.4 536.4L202.9 536.9L202.4 537.4L202 537.9L201.8 538.4L201.6 538.9L201.5 539.4L201.4 539.9L201.4 540.4L201.3 540.9L201.5 541.3L201.8 541.8L202.3 542.3L202.8 542.8L203.4 543.3L203.9 543.8L204.4 544.3L204.9 544.8L205.4 545.3L205.8 545.8L206.3 546.3L206.7 546.8L207.1 547.3L207.4 547.8L207.4 548.3L207.3 548.8L207.1 549.3L206.9 549.8L206.8 550.3Z" fill="#1B9E77" stroke="#222" stroke-width="0.6"/>
<path d="M190.4 549.6h1.8v1.8h-1.8zM193.6 549.4h1.8v1.8h-1.8zM203.7 532.8h1.8v1.8h-1.8zM200.6 531.4h1.8v1.8h-1.8zM191.4 526.3h1.8v1.8h-1.8zM199.8 549.4h1.8v1.8h-1.8zM197.1 543.5h1.8v1.8h-1.8zM200.3 523h1.8v1.8h-1.8zM198.5 527.1h1.8v1.8h-1.8zM190.2 530.4h1.8v1.8h-1.8zM199.7 545.3h1.8v1.8h-1.8zM197.5 529.9h1.8v1.8h-1.8zM185.9 534.6h1.8v1.8h-1.8zM197.5 549.4h1.8v1.8h-1.8zM195 529.1h1.8v1.8h-1.8zM202 519.8h1.8v1.8h-1.8zM184.9 527.7h1.8v1.8h-1.8zM204.6 545h1.8v1.8h-1.8zM199.9 544.2h1.8v1.8h-1.8zM185.4 529h1.8v1.8h-1.8zM200.6 521.9h1.8v1.8h-1.8zM201.5 541.6h1.8v1.8h-1.8zM200.3 521.9h1.8v1.8h-1.8zM185.6 521.5h1.8v1.8h-1.8zM190.7 546.1h1.8v1.8h-1.8zM202 546.8h1.8v1.8h-1.8zM191.6 546.8h1.8v1.8h-1.8zM203.4 549.4h1.8v1.8h-1.8zM194.6 525.6h1.8v1.8h-1.8zM198 549.4h1.8v1.8h-1.8zM193.9 522.5h1.8v1.8h-1.8zM184.5 525.9h1.8v1.8h-1.8zM185.4 544.8h1.8v1.8h-1.8zM191 547.9h1.8v1.8h-1.8zM205.2 546.4h1.8v1.8h-1.8zM197.5 549.4h1.8v1.8h-1.8zM197.4 535.8h1.8v1.8h-1.8zM193.4 549.4h1.8v1.8h-1.8zM199.4 547.4h1.8v1.8h-1.8zM186.2 537.6h1.8v1.8h-1.8zM201.1 549.4h1.8v1.8h-1.8zM186.3 527.8h1.8v1.8h-1.8zM193.7 531.9h1.8v1.8h-1.8zM191 530.6h1.8v1.8h-1.8zM191.7 537.7h1.8v1.8h-1.8zM202.5 545.1h1.8v1.8h-1.8zM196.7 532.9h1.8v1.8h-1.8zM185.2 543.2h1.8v1.8h-1.8zM191.1 533.5h1.8v1.8h-1.8zM188.8 549.4h1.8v1.8h-1.8zM199.1 543.3h1.8v1.8h-1.8zM190.5 524.4h1.8v1.8h-1.8zM203.1 531h1.8v1.8h-1.8zM193.2 549.9h1.8v1.8h-1.8zM203.4 549.4h1.8v1.8h-1.8z" fill="#000"/>
<path d="M224.9 552v1.8" stroke="#222" stroke-width="0.7"/>
<text transform="translate(228.1,558.8) rotate(-45)" font-size="7.5" text-anchor="end" fill="#333">2</text>
<path d="M221.9 550.3L221.9 549.7L221.9 549.2L221.9 548.6L221.8 548L221.7 547.5L221.5 546.9L221.3 546.3L221.1 545.8L220.9 545.2L220.7 544.6L220.5 544.1L220.2 543.5L219.9 542.9L219.5 542.4L219.2 541.8L218.8 541.2L218.5 540.7L218.1 540.1L217.8 539.5L217.4 539L216.9 538.4L216.5 537.8L216.1 537.3L215.7 536.7L215.3 536.1L214.9 535.6L214.5 535L214.2 534.4L213.8 533.9L213.5 533.3L213.1 532.7L212.8 532.2L212.6 531.6L212.5 531L212.6 530.5L212.7 529.9L212.7 529.3L212.9 528.8L213.2 528.2L213.8 527.6L214.4 527.1L215.1 526.5L215.8 525.9L216.5 525.4L217.2 524.8L217.9 524.2L218.6 523.7L219.3 523.1L219.9 522.5L220.5 522L220.8 521.4L221.1 520.8L221.2 520.3L221.4 519.7L221.6 519.2L221.9 518.6L222.2 518L222.5 517.5L222.7 516.9L227.1 516.9L227.3 517.5L227.6 518L227.9 518.6L228.2 519.2L228.4 519.7L228.6 520.3L228.7 520.8L229 521.4L229.3 522L229.9 522.5L230.5 523.1L231.2 523.7L231.9 524.2L232.6 524.8L233.3 525.4L234 525.9L234.7 526.5L235.4 527.1L236 527.6L236.6 528.2L236.9 528.8L237.1 529.3L237.1 529.9L237.2 530.5L237.3 531L237.2 531.6L237 532.2L236.7 532.7L236.3 533.3L236 533.9L235.6 534.4L235.3 535L234.9 535.6L234.5 536.1L234.1 536.7L233.7 537.3L233.3 537.8L232.9 538.4L232.4 539L232 539.5L231.7 540.1L231.3 540.7L231 541.2L230.6 541.8L230.3 542.4L229.9 542.9L229.6 543.5L229.3 544.1L229.1 544.6L228.9 545.2L228.7 545.8L228.5 546.3L228.3 546.9L228.1 547.5L228 548L227.9 548.6L227.9 549.2L227.9 549.7L227.9 550.3Z" fill="#D95F02" stroke="#222" stroke-width="0.6"/>
<path d="M232 536.7h1.8v1.8h-1.8zM218.2 539.8h1.8v1.8h-1.8zM220.7 516.8h1.8v1.8h-1.8zM217.7 518.4h1.8v1.8h-1.8zM232.3 543.4h1.8v1.8h-1.8zM235.1 515.8h1.8v1.8h-1.8zM234.5 530h1.8v1.8h-1.8zM213 526.1h1.8v1.8h-1.8zM224.9 523.2h1.8v1.8h-1.8zM231.7 531.2h1.8v1.8h-1.8zM220.5 531.8h1.8v1.8h-1.8zM212.5 534.7h1.8v1.8h-1.8zM213.9 519.6h1.8v1.8h-1.8zM214.7 534.5h1.8v1.8h-1.8zM221.2 549.4h1.8v1.8h-1.8zM235.3 529.5h1.8v1.8h-1.8zM233.5 549.4h1.8v1.8h-1.8zM232.8 531h1.8v1.8h-1.8zM220.7 538.1h1.8v1.8h-1.8zM221.4 526.1h1.8v1.8h-1.8zM234.2 533.5h1.8v1.8h-1.8zM217.5 541.6h1.8v1.8h-1.8zM228.9 545.7h1.8v1.8h-1.8zM214.7 533.9h1.8v1.8h-1.8zM234.4 527.4h1.8v1.8h-1.8zM221.9 528.3h1.8v1.8h-1.8zM235.3 534.6h1.8v1.8h-1.8zM229.4 522.9h1.8v1.8h-1.8zM223.8 528.2h1.8v1.8h-1.8zM218.1 538.9h1.8v1.8h-1.8zM234.3 540.9h1.8v1.8h-1.8zM213.6 529.2h1.8v1.8h-1.8zM224.1 528h1.8v1.8h-1.8zM217.8 549.4h1.8v1.8h-1.8zM222.4 526.9h1.8v1.8h-1.8zM225.3 549.4h1.8v1.8h-1.8zM220.7 528.1h1.8v1.8h-1.8zM225.4 529.9h1.8v1.8h-1.8zM224.9 549.4h1.8v1.8h-1.8zM226.8 525.3h1.8v1.8h-1.8zM226.9 549.4h1.8v1.8h-1.8zM232.6 523.9h1.8v1.8h-1.8z" fill="#000"/>
<path d="M254.3 552v1.8" stroke="#222" stroke-width="0.7"/>
<text transform="translate(257.5,558.8) rotate(-45)" font-size="7.5" text-anchor="end" fill="#333">3</text>
<path d="M241.3 550.3h26" stroke="#222" stroke-width="0.8"/>
<path d="M254.3 550.3V520.1" stroke="#555" stroke-width="0.75"/>
<path d="M247.8 549.4h1.8v1.8h-1.8zM264.8 549.4h1.8v1.8h-1.8zM256.5 529.2h1.8v1.8h-1.8zM243.6 549.4h1.8v1.8h-1.8zM246.9 549.4h1.8v1.8h-1.8zM257.1 549.4h1.8v1.8h-1.8zM263.3 549.4h1.8v1.8h-1.8zM246.3 549.4h1.8v1.8h-1.8zM250.3 549.4h1.8v1.8h-1.8zM260.6 534h1.8v1.8h-1.8zM249.9 549.4h1.8v1.8h-1.8zM248.4 549.4h1.8v1.8h-1.8zM255.8 549.4h1.8v1.8h-1.8zM242.1 549.4h1.8v1.8h-1.8zM265 549.4h1.8v1.8h-1.8zM248.1 549.4h1.8v1.8h-1.8zM258.1 530.6h1.8v1.8h-1.8zM256.4 549.4h1.8v1.8h-1.8zM248 549.4h1.8v1.8h-1.8zM246.9 549.4h1.8v1.8h-1.8zM243.5 549.4h1.8v1.8h-1.8zM253.6 549.4h1.8v1.8h-1.8zM257.5 525.3h1.8v1.8h-1.8zM246.4 549.4h1.8v1.8h-1.8zM241.8 549.4h1.8v1.8h-1.8zM242.2 549.4h1.8v1.8h-1.8zM244.3 549.4h1.8v1.8h-1.8zM252.8 549.4h1.8v1.8h-1.8zM243.3 549.4h1.8v1.8h-1.8zM264.2 549.4h1.8v1.8h-1.8zM244.7 521.6h1.8v1.8h-1.8z" fill="#000"/>
<path d="M283.4 552v1.8" stroke="#222" stroke-width="0.7"/>
<text transform="translate(286.6,558.8) rotate(-45)" font-size="7.5" text-anchor="end" fill="#333">4</text>
<path d="M272.1 550.3L273.1 550.1L274.4 550L275.8 549.8L276.9 549.6L277.7 549.5L278.1 549.3L278.5 549.1L278.9 549L279.2 548.8L279.6 548.6L279.9 548.5L280.2 548.3L280.4 548.1L280.5 548L280.6 547.8L280.7 547.6L280.8 547.5L280.9 547.3L280.9 547.2L281 547L281.1 546.8L281.2 546.7L281.3 546.5L281.3 546.3L281.4 546.2L281.5 546L281.6 545.8L281.6 545.7L281.7 545.5L281.8 545.3L281.8 545.2L281.9 545L282 544.8L282 544.7L282.1 544.5L282.2 544.3L282.2 544.2L282.3 544L282.4 543.8L282.4 543.7L282.4 543.5L282.5 543.3L282.5 543.2L282.5 543L282.5 542.8L282.6 542.7L282.6 542.5L282.6 542.3L282.6 542.2L282.7 542L282.7 541.8L282.7 541.7L282.7 541.5L282.8 541.3L282.8 541.2L282.8 541L282.8 540.9L282.9 540.7L282.9 540.5L283.9 540.5L283.9 540.7L284 540.9L284 541L284 541.2L284 541.3L284.1 541.5L284.1 541.7L284.1 541.8L284.1 542L284.2 542.2L284.2 542.3L284.2 542.5L284.2 542.7L284.3 542.8L284.3 543L284.3 543.2L284.3 543.3L284.4 543.5L284.4 543.7L284.4 543.8L284.5 544L284.6 544.2L284.6 544.3L284.7 544.5L284.8 544.7L284.8 544.8L284.9 545L285 545.2L285 545.3L285.1 545.5L285.2 545.7L285.2 545.8L285.3 546L285.4 546.2L285.5 546.3L285.5 546.5L285.6 546.7L285.7 546.8L285.8 547L285.9 547.2L285.9 547.3L286 547.5L286.1 547.6L286.2 547.8L286.3 548L286.4 548.1L286.6 548.3L286.9 548.5L287.2 548.6L287.6 548.8L287.9 549L288.3 549.1L288.7 549.3L289.1 549.5L289.9 549.6L291 549.8L292.4 550L293.7 550.1L294.7 550.3Z" fill="#E7298A" stroke="#222" stroke-width="0.6"/>
<path d="M274.4 549.4h1.8v1.8h-1.8zM290.4 547.8h1.8v1.8h-1.8zM291.7 548.9h1.8v1.8h-1.8zM287.1 542.7h1.8v1.8h-1.8zM284.2 548.9h1.8v1.8h-1.8zM287.3 549.4h1.8v1.8h-1.8zM276.2 548.5h1.8v1.8h-1.8zM292.6 549.4h1.8v1.8h-1.8zM278.4 549.4h1.8v1.8h-1.8zM289.3 549.3h1.8v1.8h-1.8zM277.6 549.4h1.8v1.8h-1.8zM293.8 548.7h1.8v1.8h-1.8zM289.8 545.8h1.8v1.8h-1.8zM290.1 548.6h1.8v1.8h-1.8zM289.8 549.6h1.8v1.8h-1.8zM274.8 549.1h1.8v1.8h-1.8zM274.7 549.2h1.8v1.8h-1.8zM292.7 545.2h1.8v1.8h-1.8zM292.1 549.2h1.8v1.8h-1.8zM290.5 548.8h1.8v1.8h-1.8zM291.4 549.4h1.8v1.8h-1.8zM278.4 549.3h1.8v1.8h-1.8zM290.3 549.4h1.8v1.8h-1.8zM274.8 549.4h1.8v1.8h-1.8zM271.5 549.4h1.8v1.8h-1.8zM290.8 549.1h1.8v1.8h-1.8zM288.6 549h1.8v1.8h-1.8zM280.7 548.3h1.8v1.8h-1.8zM280.3 548.7h1.8v1.8h-1.8z" fill="#000"/>
<path d="M312.5 552v1.8" stroke="#222" stroke-width="0.7"/>
<text transform="translate(315.7,558.8) rotate(-45)" font-size="7.5" text-anchor="end" fill="#333">5</text>
<path d="M310.2 543.4L309.7 542.9L309 542.3L308.3 541.8L307.6 541.3L307 540.8L306.5 540.3L306 539.7L305.7 539.2L305.4 538.7L305.1 538.2L304.8 537.7L304.5 537.2L304.3 536.6L304.2 536.1L304 535.6L303.8 535.1L303.7 534.6L303.5 534L303.4 533.5L303.3 533L303.1 532.5L303 532L302.9 531.5L302.7 530.9L302.6 530.4L302.4 529.9L302.2 529.4L302 528.9L301.7 528.4L301.5 527.8L301.2 527.3L301 526.8L300.7 526.3L300.5 525.8L300.4 525.2L300.3 524.7L300.2 524.2L300.1 523.7L300 523.2L299.8 522.7L299.7 522.1L299.7 521.6L299.6 521.1L299.7 520.6L299.9 520.1L300.1 519.5L300.3 519L300.5 518.5L300.7 518L300.9 517.5L301.2 517L301.5 516.4L302 515.9L302.8 515.4L303.7 514.9L304.6 514.4L305.6 513.8L306.4 513.3L307.1 512.8L317.9 512.8L318.6 513.3L319.4 513.8L320.4 514.4L321.3 514.9L322.2 515.4L323 515.9L323.5 516.4L323.8 517L324.1 517.5L324.3 518L324.5 518.5L324.7 519L324.9 519.5L325.1 520.1L325.3 520.6L325.4 521.1L325.3 521.6L325.3 522.1L325.2 522.7L325 523.2L324.9 523.7L324.8 524.2L324.7 524.7L324.6 525.2L324.5 525.8L324.3 526.3L324 526.8L323.8 527.3L323.5 527.8L323.3 528.4L323 528.9L322.8 529.4L322.6 529.9L322.4 530.4L322.3 530.9L322.1 531.5L322 532L321.9 532.5L321.7 533L321.6 533.5L321.5 534L321.3 534.6L321.2 535.1L321 535.6L320.8 536.1L320.7 536.6L320.5 537.2L320.2 537.7L319.9 538.2L319.6 538.7L319.3 539.2L319 539.7L318.5 540.3L318 540.8L317.4 541.3L316.7 541.8L316 542.3L315.3 542.9L314.8 543.4Z" fill="#66A61E" stroke="#222" stroke-width="0.6"/>
<path d="M315.8 522.9h1.8v1.8h-1.8zM306.3 532.7h1.8v1.8h-1.8zM320.3 514.4h1.8v1.8h-1.8zM308.6 513.5h1.8v1.8h-1.8zM322 519.3h1.8v1.8h-1.8zM315.8 523.7h1.8v1.8h-1.8zM313.2 521.8h1.8v1.8h-1.8zM317.9 525.1h1.8v1.8h-1.8zM306 531.9h1.8v1.8h-1.8zM310.4 513.9h1.8v1.8h-1.8zM319.9 513.3h1.8v1.8h-1.8zM308.7 524.6h1.8v1.8h-1.8zM310.5 536.5h1.8v1.8h-1.8zM312.4 523.4h1.8v1.8h-1.8zM315.7 533.8h1.8v1.8h-1.8zM311.5 523.7h1.8v1.8h-1.8zM313.7 525.5h1.8v1.8h-1.8zM305.9 537.8h1.8v1.8h-1.8zM317.6 522.4h1.8v1.8h-1.8zM314.3 513.4h1.8v1.8h-1.8z" fill="#000"/>
<path d="M178.6 584.4V624.9H330" fill="none" stroke="#222" stroke-width="1"/>
<path d="M178.6 623.4h-2" stroke="#222" stroke-width="0.7"/>
<text x="177" y="625.9" font-size="7" text-anchor="end" fill="#333">0</text>
<path d="M178.6 612.4h-2" stroke="#222" stroke-width="0.7"/>
<text x="177" y="614.9" font-size="7" text-anchor="end" fill="#333">1</text>
<path d="M178.6 601.4h-2" stroke="#222" stroke-width="0.7"/>
<text x="177" y="603.9" font-size="7" text-anchor="end" fill="#333">2</text>
<path d="M178.6 590.4h-2" stroke="#222" stroke-width="0.7"/>
<text x="177" y="592.9" font-size="7" text-anchor="end" fill="#333">3</text>
<text x="256" y="576.7" font-size="10.8" text-anchor="middle" font-weight="bold" fill="#000">dac</text>
<path d="M195.7 624.9v1.8" stroke="#222" stroke-width="0.7"/>
<text transform="translate(198.9,631.7) rotate(-45)" font-size="7.5" text-anchor="end" fill="#333">1</text>
<path d="M182.7 623.4h26" stroke="#222" stroke-width="0.8"/>
<path d="M195.7 623.4V601.4" stroke="#555" stroke-width="0.75"/>
<path d="M185.5 622.5h1.8v1.8h-1.8zM187.5 622.5h1.8v1.8h-1.8zM196.8 622.5h1.8v1.8h-1.8zM203.5 622.5h1.8v1.8h-1.8zM206.1 622.5h1.8v1.8h-1.8zM193.9 622.5h1.8v1.8h-1.8zM196.6 622.5h1.8v1.8h-1.8zM197 622.5h1.8v1.8h-1.8zM191.7 611h1.8v1.8h-1.8zM196.1 622.5h1.8v1.8h-1.8zM204.9 622.5h1.8v1.8h-1.8zM184.6 622.5h1.8v1.8h-1.8zM204.7 622.5h1.8v1.8h-1.8zM197.5 603.9h1.8v1.8h-1.8zM189.8 622.5h1.8v1.8h-1.8zM193.4 622.5h1.8v1.8h-1.8zM196.1 622.5h1.8v1.8h-1.8zM195.8 604.2h1.8v1.8h-1.8zM192.8 622.5h1.8v1.8h-1.8zM187.1 603.6h1.8v1.8h-1.8zM191.4 606.5h1.8v1.8h-1.8zM192.9 622.5h1.8v1.8h-1.8zM194.9 622.5h1.8v1.8h-1.8zM204.9 622.5h1.8v1.8h-1.8zM192.1 610.2h1.8v1.8h-1.8zM198.8 622.5h1.8v1.8h-1.8zM195 622.5h1.8v1.8h-1.8zM198.4 622.5h1.8v1.8h-1.8zM190 622.5h1.8v1.8h-1.8zM189.5 622.5h1.8v1.8h-1.8zM203.5 622.5h1.8v1.8h-1.8zM198.3 622.5h1.8v1.8h-1.8zM192.2 622.5h1.8v1.8h-1.8zM198.4 622.5h1.8v1.8h-1.8zM200.9 622.5h1.8v1.8h-1.8zM184.4 602.7h1.8v1.8h-1.8zM185.9 615h1.8v1.8h-1.8zM191.1 622.5h1.8v1.8h-1.8zM197.4 622.5h1.8v1.8h-1.8zM195.7 622.5h1.8v1.8h-1.8zM197.6 622.5h1.8v1.8h-1.8zM200.1 622.5h1.8v1.8h-1.8zM202.7 622.5h1.8v1.8h-1.8zM198.2 622.5h1.8v1.8h-1.8zM184.8 622.5h1.8v1.8h-1.8zM199.1 622.5h1.8v1.8h-1.8zM205.8 622.5h1.8v1.8h-1.8zM194.6 622.5h1.8v1.8h-1.8zM206.1 622.5h1.8v1.8h-1.8zM188.8 622.5h1.8v1.8h-1.8zM191.5 622.5h1.8v1.8h-1.8zM186 622.5h1.8v1.8h-1.8zM196.7 610.9h1.8v1.8h-1.8zM205.3 622.5h1.8v1.8h-1.8zM199.5 622.5h1.8v1.8h-1.8z" fill="#000"/>
<path d="M224.9 624.9v1.8" stroke="#222" stroke-width="0.7"/>
<text transform="translate(228.1,631.7) rotate(-45)" font-size="7.5" text-anchor="end" fill="#333">2</text>
<path d="M211.9 623.4h26" stroke="#222" stroke-width="0.8"/>
<path d="M224.9 623.4V595.9" stroke="#555" stroke-width="0.75"/>
<path d="M224.8 622.5h1.8v1.8h-1.8zM234.8 622.5h1.8v1.8h-1.8zM232.1 622.5h1.8v1.8h-1.8zM217.7 622.5h1.8v1.8h-1.8zM212.9 610.3h1.8v1.8h-1.8zM220.7 622.5h1.8v1.8h-1.8zM221.2 622.5h1.8v1.8h-1.8zM223.4 622.5h1.8v1.8h-1.8zM216.4 622.5h1.8v1.8h-1.8zM225.8 622.5h1.8v1.8h-1.8zM229.8 622.5h1.8v1.8h-1.8zM217.1 622.5h1.8v1.8h-1.8zM219.3 616.3h1.8v1.8h-1.8zM221.9 622.5h1.8v1.8h-1.8zM232.7 622.5h1.8v1.8h-1.8zM225.1 622.5h1.8v1.8h-1.8zM215.1 622.5h1.8v1.8h-1.8zM215.2 622.5h1.8v1.8h-1.8zM229.5 622.5h1.8v1.8h-1.8zM214.7 596.5h1.8v1.8h-1.8zM228 622.5h1.8v1.8h-1.8zM234.7 622.5h1.8v1.8h-1.8zM232.9 622.5h1.8v1.8h-1.8zM221.3 622.5h1.8v1.8h-1.8zM232.1 622.5h1.8v1.8h-1.8zM232.6 622.5h1.8v1.8h-1.8zM221.9 622.5h1.8v1.8h-1.8zM224.4 622.5h1.8v1.8h-1.8zM233.6 622.5h1.8v1.8h-1.8zM233.4 622.5h1.8v1.8h-1.8zM230.6 622.5h1.8v1.8h-1.8zM224 622.5h1.8v1.8h-1.8zM224.1 622.5h1.8v1.8h-1.8zM225.2 622.5h1.8v1.8h-1.8zM230.2 622.5h1.8v1.8h-1.8zM218.7 622.5h1.8v1.8h-1.8zM217.7 622.5h1.8v1.8h-1.8zM222.2 622.5h1.8v1.8h-1.8zM230.4 622.5h1.8v1.8h-1.8zM219.1 612.9h1.8v1.8h-1.8zM212.2 622.5h1.8v1.8h-1.8zM212.9 622.5h1.8v1.8h-1.8z" fill="#000"/>
<path d="M254.3 624.9v1.8" stroke="#222" stroke-width="0.7"/>
<text transform="translate(257.5,631.7) rotate(-45)" font-size="7.5" text-anchor="end" fill="#333">3</text>
<path d="M242.9 623.4L242.5 622.8L242.5 622.2L243.1 621.6L244.2 621L245.4 620.4L246.5 619.8L247.3 619.2L248.1 618.6L248.8 618L249.5 617.4L250 616.8L250.4 616.2L250.7 615.6L250.9 615L251.1 614.5L251.3 613.9L251.5 613.3L251.7 612.7L251.8 612.1L251.9 611.5L251.9 610.9L252 610.3L252 609.7L252.1 609.1L252.2 608.5L252.2 607.9L252.3 607.3L252.3 606.7L252.4 606.1L252.4 605.5L252.5 604.9L252.5 604.3L252.6 603.7L252.6 603.1L252.7 602.5L252.7 601.9L252.7 601.3L252.7 600.7L252.7 600.1L252.6 599.5L252.6 598.9L252.5 598.3L252.5 597.7L252.4 597.1L252.4 596.6L252.3 596L252.2 595.4L252 594.8L251.9 594.2L251.8 593.6L251.6 593L251.5 592.4L251.4 591.8L251.4 591.2L251.5 590.6L251.5 590L251.6 589.4L251.7 588.8L251.8 588.2L256.8 588.2L256.9 588.8L257 589.4L257.1 590L257.1 590.6L257.2 591.2L257.2 591.8L257.1 592.4L257 593L256.8 593.6L256.7 594.2L256.6 594.8L256.4 595.4L256.3 596L256.2 596.6L256.2 597.1L256.1 597.7L256.1 598.3L256 598.9L256 599.5L255.9 600.1L255.9 600.7L255.9 601.3L255.9 601.9L255.9 602.5L256 603.1L256 603.7L256.1 604.3L256.1 604.9L256.2 605.5L256.2 606.1L256.3 606.7L256.3 607.3L256.4 607.9L256.4 608.5L256.5 609.1L256.6 609.7L256.6 610.3L256.7 610.9L256.7 611.5L256.8 612.1L256.9 612.7L257.1 613.3L257.3 613.9L257.5 614.5L257.7 615L257.9 615.6L258.2 616.2L258.6 616.8L259.1 617.4L259.8 618L260.5 618.6L261.3 619.2L262.1 619.8L263.2 620.4L264.4 621L265.5 621.6L266.1 622.2L266.1 622.8L265.7 623.4Z" fill="#7570B3" stroke="#222" stroke-width="0.6"/>
<path d="M264.7 617.9h1.8v1.8h-1.8zM247.4 622.5h1.8v1.8h-1.8zM262.2 613.5h1.8v1.8h-1.8zM254.2 622.2h1.8v1.8h-1.8zM256.4 610.4h1.8v1.8h-1.8zM254.9 615.7h1.8v1.8h-1.8zM249 592.3h1.8v1.8h-1.8zM245 620.6h1.8v1.8h-1.8zM242.3 622.5h1.8v1.8h-1.8zM253.5 617.2h1.8v1.8h-1.8zM255.6 620.1h1.8v1.8h-1.8zM259.6 613.7h1.8v1.8h-1.8zM264.4 619.8h1.8v1.8h-1.8zM251.7 618.1h1.8v1.8h-1.8zM253 618.5h1.8v1.8h-1.8zM254.5 606.5h1.8v1.8h-1.8zM254.8 619.1h1.8v1.8h-1.8zM248.1 619.2h1.8v1.8h-1.8zM250.3 622.5h1.8v1.8h-1.8zM262.7 622.5h1.8v1.8h-1.8zM248.6 621.2h1.8v1.8h-1.8zM242.9 614.9h1.8v1.8h-1.8zM248 621.7h1.8v1.8h-1.8zM248.2 617.4h1.8v1.8h-1.8zM247.8 618.6h1.8v1.8h-1.8zM252.9 618.3h1.8v1.8h-1.8zM251.2 599.3h1.8v1.8h-1.8zM259.8 589.4h1.8v1.8h-1.8zM247.9 618h1.8v1.8h-1.8zM260.8 621.3h1.8v1.8h-1.8zM244.4 613h1.8v1.8h-1.8z" fill="#000"/>
<path d="M283.4 624.9v1.8" stroke="#222" stroke-width="0.7"/>
<text transform="translate(286.6,631.7) rotate(-45)" font-size="7.5" text-anchor="end" fill="#333">4</text>
<path d="M272.3 623.4L272.2 622.8L272 622.1L271.8 621.5L271.7 620.9L271.6 620.3L271.7 619.6L271.9 619L272.2 618.4L272.5 617.7L272.8 617.1L273 616.5L273.3 615.9L273.5 615.2L273.6 614.6L273.8 614L273.9 613.3L274.1 612.7L274.2 612.1L274.3 611.5L274.3 610.8L274.2 610.2L274.1 609.6L274 608.9L273.9 608.3L273.7 607.7L273.6 607.1L273.5 606.4L273.4 605.8L273.2 605.2L272.9 604.6L272.7 603.9L272.5 603.3L272.3 602.7L272 602L271.8 601.4L271.6 600.8L271.4 600.2L271.3 599.5L271.1 598.9L271 598.3L270.9 597.6L270.8 597L270.7 596.4L270.6 595.8L270.6 595.1L270.8 594.5L271.1 593.9L271.5 593.2L271.9 592.6L272.3 592L272.7 591.4L273.2 590.7L273.6 590.1L274.1 589.5L274.5 588.8L275 588.2L275.5 587.6L275.9 587L276.2 586.3L290.6 586.3L290.9 587L291.3 587.6L291.8 588.2L292.3 588.8L292.7 589.5L293.2 590.1L293.6 590.7L294.1 591.4L294.5 592L294.9 592.6L295.3 593.2L295.7 593.9L296 594.5L296.2 595.1L296.2 595.8L296.1 596.4L296 597L295.9 597.6L295.8 598.3L295.7 598.9L295.5 599.5L295.4 600.2L295.2 600.8L295 601.4L294.8 602L294.5 602.7L294.3 603.3L294.1 603.9L293.9 604.6L293.6 605.2L293.4 605.8L293.3 606.4L293.2 607.1L293.1 607.7L292.9 608.3L292.8 608.9L292.7 609.6L292.6 610.2L292.5 610.8L292.5 611.5L292.6 612.1L292.7 612.7L292.9 613.3L293 614L293.2 614.6L293.3 615.2L293.5 615.9L293.8 616.5L294 617.1L294.3 617.7L294.6 618.4L294.9 619L295.1 619.6L295.2 620.3L295.1 620.9L295 621.5L294.8 622.1L294.6 622.8L294.5 623.4Z" fill="#E7298A" stroke="#222" stroke-width="0.6"/>
<path d="M291.2 622.5h1.8v1.8h-1.8zM287.8 594.7h1.8v1.8h-1.8zM275.3 598.7h1.8v1.8h-1.8zM280.1 622.5h1.8v1.8h-1.8zM287.5 621.6h1.8v1.8h-1.8zM286 621.5h1.8v1.8h-1.8zM276.6 622.5h1.8v1.8h-1.8zM292.4 596.6h1.8v1.8h-1.8zM279 607.3h1.8v1.8h-1.8zM290 594.2h1.8v1.8h-1.8zM273.8 616.8h1.8v1.8h-1.8zM272.4 590.5h1.8v1.8h-1.8zM274 587.2h1.8v1.8h-1.8zM276 597.7h1.8v1.8h-1.8zM288.2 617h1.8v1.8h-1.8zM278 595.5h1.8v1.8h-1.8zM277.7 597.8h1.8v1.8h-1.8zM275.9 622.5h1.8v1.8h-1.8zM291.3 622.2h1.8v1.8h-1.8zM290.1 622.5h1.8v1.8h-1.8zM279.2 609.5h1.8v1.8h-1.8zM287.6 622.9h1.8v1.8h-1.8zM278.9 586.4h1.8v1.8h-1.8zM292 602.8h1.8v1.8h-1.8zM281.4 614.2h1.8v1.8h-1.8zM287.6 593.3h1.8v1.8h-1.8zM273.1 597.9h1.8v1.8h-1.8zM281.9 591.5h1.8v1.8h-1.8zM290.9 595.8h1.8v1.8h-1.8z" fill="#000"/>
<path d="M312.5 624.9v1.8" stroke="#222" stroke-width="0.7"/>
<text transform="translate(315.7,631.7) rotate(-45)" font-size="7.5" text-anchor="end" fill="#333">5</text>
<path d="M303.5 623.4L303.4 623L303.4 622.6L303.3 622.1L303.2 621.7L303.2 621.3L303.1 620.9L303.1 620.5L303.1 620L303.1 619.6L303.1 619.2L303.2 618.8L303.3 618.4L303.3 617.9L303.4 617.5L303.4 617.1L303.4 616.7L303.2 616.3L303.1 615.8L302.9 615.4L302.7 615L302.5 614.6L302.3 614.2L302.1 613.8L301.9 613.3L301.7 612.9L301.5 612.5L301.4 612.1L301.2 611.7L301 611.2L300.8 610.8L300.6 610.4L300.4 610L300.2 609.6L300 609.1L299.8 608.7L299.7 608.3L299.7 607.9L299.8 607.5L299.9 607L300.1 606.6L300.3 606.2L300.5 605.8L300.7 605.4L300.9 604.9L301.1 604.5L301.3 604.1L301.6 603.7L302 603.3L302.4 602.8L302.9 602.4L303.4 602L303.9 601.6L304.4 601.2L305 600.7L305.5 600.3L306 599.9L306.5 599.5L306.9 599.1L307.3 598.6L317.7 598.6L318.1 599.1L318.5 599.5L319 599.9L319.5 600.3L320 600.7L320.6 601.2L321.1 601.6L321.6 602L322.1 602.4L322.6 602.8L323 603.3L323.4 603.7L323.7 604.1L323.9 604.5L324.1 604.9L324.3 605.4L324.5 605.8L324.7 606.2L324.9 606.6L325.1 607L325.2 607.5L325.3 607.9L325.3 608.3L325.2 608.7L325 609.1L324.8 609.6L324.6 610L324.4 610.4L324.2 610.8L324 611.2L323.8 611.7L323.6 612.1L323.5 612.5L323.3 612.9L323.1 613.3L322.9 613.8L322.7 614.2L322.5 614.6L322.3 615L322.1 615.4L321.9 615.8L321.8 616.3L321.6 616.7L321.6 617.1L321.6 617.5L321.7 617.9L321.7 618.4L321.8 618.8L321.9 619.2L321.9 619.6L321.9 620L321.9 620.5L321.9 620.9L321.8 621.3L321.8 621.7L321.7 622.1L321.6 622.6L321.6 623L321.5 623.4Z" fill="#66A61E" stroke="#222" stroke-width="0.6"/>
<path d="M311.6 610.9h1.8v1.8h-1.8zM312.1 622.5h1.8v1.8h-1.8zM319.3 605.5h1.8v1.8h-1.8zM308.5 621.6h1.8v1.8h-1.8zM303.7 605.8h1.8v1.8h-1.8zM316.6 610.3h1.8v1.8h-1.8zM303.8 605.6h1.8v1.8h-1.8zM312.1 622.5h1.8v1.8h-1.8zM305.3 610.9h1.8v1.8h-1.8zM310.8 620.7h1.8v1.8h-1.8zM319.2 608.7h1.8v1.8h-1.8zM321.7 614.5h1.8v1.8h-1.8zM308.6 602.6h1.8v1.8h-1.8zM319.8 601.5h1.8v1.8h-1.8zM303.9 606.8h1.8v1.8h-1.8zM315.2 622.5h1.8v1.8h-1.8zM315.5 614.4h1.8v1.8h-1.8zM307.2 611.3h1.8v1.8h-1.8zM303.9 604.2h1.8v1.8h-1.8zM304.8 616.7h1.8v1.8h-1.8z" fill="#000"/>
<path d="M178.6 653.2V694.1H330" fill="none" stroke="#222" stroke-width="1"/>
<path d="M178.6 692.7h-2" stroke="#222" stroke-width="0.7"/>
<text x="177" y="695.2" font-size="7" text-anchor="end" fill="#333">0</text>
<path d="M178.6 681.4h-2" stroke="#222" stroke-width="0.7"/>
<text x="177" y="683.9" font-size="7" text-anchor="end" fill="#333">1</text>
<path d="M178.6 670.1h-2" stroke="#222" stroke-width="0.7"/>
<text x="177" y="672.6" font-size="7" text-anchor="end" fill="#333">2</text>
<path d="M178.6 658.8h-2" stroke="#222" stroke-width="0.7"/>
<text x="177" y="661.3" font-size="7" text-anchor="end" fill="#333">3</text>
<text x="257" y="644.9" font-size="10.8" text-anchor="middle" font-weight="bold" fill="#000">Fas2</text>
<path d="M195.7 694.1v1.8" stroke="#222" stroke-width="0.7"/>
<text transform="translate(198.9,700.9) rotate(-45)" font-size="7.5" text-anchor="end" fill="#333">1</text>
<path d="M183.6 692.7L183.4 692.1L183.2 691.6L183 691L183.1 690.4L183.3 689.8L183.8 689.3L184.3 688.7L184.8 688.1L185.2 687.5L185.6 687L186 686.4L186.3 685.8L186.5 685.2L186.8 684.7L187 684.1L187.3 683.5L187.5 682.9L187.6 682.4L187.7 681.8L187.7 681.2L187.7 680.6L187.7 680.1L187.7 679.5L187.7 678.9L187.7 678.3L187.8 677.8L187.9 677.2L188 676.6L188.1 676L188.3 675.5L188.4 674.9L188.5 674.3L188.7 673.7L188.9 673.2L189.1 672.6L189.4 672L189.6 671.4L189.9 670.9L190.1 670.3L190.4 669.7L190.6 669.1L190.9 668.6L191.1 668L191.4 667.4L191.6 666.8L191.9 666.3L192.1 665.7L192.4 665.1L192.6 664.5L192.9 664L193.1 663.4L193.3 662.8L193.5 662.2L193.7 661.7L193.9 661.1L194.1 660.5L194.3 659.9L194.5 659.4L194.6 658.8L196.8 658.8L196.9 659.4L197.1 659.9L197.3 660.5L197.5 661.1L197.7 661.7L197.9 662.2L198.1 662.8L198.3 663.4L198.5 664L198.8 664.5L199 665.1L199.3 665.7L199.5 666.3L199.8 666.8L200 667.4L200.3 668L200.5 668.6L200.8 669.1L201 669.7L201.3 670.3L201.5 670.9L201.8 671.4L202 672L202.3 672.6L202.5 673.2L202.7 673.7L202.9 674.3L203 674.9L203.1 675.5L203.3 676L203.4 676.6L203.5 677.2L203.6 677.8L203.7 678.3L203.7 678.9L203.7 679.5L203.7 680.1L203.7 680.6L203.7 681.2L203.7 681.8L203.8 682.4L203.9 682.9L204.1 683.5L204.4 684.1L204.6 684.7L204.9 685.2L205.1 685.8L205.4 686.4L205.8 687L206.2 687.5L206.6 688.1L207.1 688.7L207.6 689.3L208.1 689.8L208.3 690.4L208.4 691L208.2 691.6L208 692.1L207.8 692.7Z" fill="#1B9E77" stroke="#222" stroke-width="0.6"/>
<path d="M186.4 676.9h1.8v1.8h-1.8zM204.9 687.9h1.8v1.8h-1.8zM189.1 676.5h1.8v1.8h-1.8zM200 688.9h1.8v1.8h-1.8zM205.1 682.8h1.8v1.8h-1.8zM204.4 675.7h1.8v1.8h-1.8zM205.2 683.2h1.8v1.8h-1.8zM195.9 687.5h1.8v1.8h-1.8zM199.5 671.8h1.8v1.8h-1.8zM204.2 691.8h1.8v1.8h-1.8zM185.2 661.7h1.8v1.8h-1.8zM191.9 691.8h1.8v1.8h-1.8zM186.3 691.8h1.8v1.8h-1.8zM193.6 666.8h1.8v1.8h-1.8zM200.4 686.7h1.8v1.8h-1.8zM202 667.9h1.8v1.8h-1.8zM191.7 682.3h1.8v1.8h-1.8zM198.8 691h1.8v1.8h-1.8zM195.2 691.8h1.8v1.8h-1.8zM197.4 690.1h1.8v1.8h-1.8zM184.7 676.4h1.8v1.8h-1.8zM187.3 691.8h1.8v1.8h-1.8zM191.6 688.2h1.8v1.8h-1.8zM194.8 683.5h1.8v1.8h-1.8zM196.3 691.4h1.8v1.8h-1.8zM194.7 687.2h1.8v1.8h-1.8zM205.8 678.9h1.8v1.8h-1.8zM201.7 665.4h1.8v1.8h-1.8zM193.3 689.8h1.8v1.8h-1.8zM189.6 691.8h1.8v1.8h-1.8zM189.4 669.7h1.8v1.8h-1.8zM199 674.4h1.8v1.8h-1.8zM187.1 677.4h1.8v1.8h-1.8zM192.8 687.8h1.8v1.8h-1.8zM191.6 690.3h1.8v1.8h-1.8zM184 664h1.8v1.8h-1.8zM186.8 689.2h1.8v1.8h-1.8zM198.3 690.4h1.8v1.8h-1.8zM195.9 688.3h1.8v1.8h-1.8zM197.7 682.2h1.8v1.8h-1.8zM185.6 687.6h1.8v1.8h-1.8zM183.7 690.2h1.8v1.8h-1.8zM202.4 686.4h1.8v1.8h-1.8zM187.6 691.7h1.8v1.8h-1.8zM200.7 691.8h1.8v1.8h-1.8zM198 691.4h1.8v1.8h-1.8zM202.8 692.7h1.8v1.8h-1.8zM185.8 687.1h1.8v1.8h-1.8zM188.1 671.8h1.8v1.8h-1.8zM205.5 691.8h1.8v1.8h-1.8zM204.4 688.4h1.8v1.8h-1.8zM196.2 681.5h1.8v1.8h-1.8zM197.8 685.2h1.8v1.8h-1.8zM200.4 683.1h1.8v1.8h-1.8zM189.2 689.9h1.8v1.8h-1.8z" fill="#000"/>
<path d="M224.9 694.1v1.8" stroke="#222" stroke-width="0.7"/>
<text transform="translate(228.1,700.9) rotate(-45)" font-size="7.5" text-anchor="end" fill="#333">2</text>
<path d="M212.8 692.7L212.7 692.2L212.5 691.7L212.3 691.3L212.2 690.8L212.4 690.3L212.9 689.8L213.5 689.3L214.2 688.9L214.9 688.4L215.6 687.9L216.3 687.4L217 687L217.6 686.5L218.1 686L218.7 685.5L219.3 685L219.8 684.6L220.3 684.1L220.7 683.6L221 683.1L221.1 682.6L221.2 682.2L221.3 681.7L221.4 681.2L221.5 680.7L221.7 680.3L221.8 679.8L221.8 679.3L221.9 678.8L221.9 678.3L221.9 677.9L221.9 677.4L221.9 676.9L221.9 676.4L221.9 675.9L221.9 675.5L221.9 675L221.9 674.5L222 674L222 673.5L222.1 673.1L222.1 672.6L222.2 672.1L222.2 671.6L222.3 671.2L222.3 670.7L222.4 670.2L222.5 669.7L222.6 669.2L222.6 668.8L222.7 668.3L222.8 667.8L222.9 667.3L223 666.8L223.1 666.4L223.1 665.9L223.2 665.4L223.3 664.9L223.4 664.5L226.4 664.5L226.5 664.9L226.6 665.4L226.7 665.9L226.7 666.4L226.8 666.8L226.9 667.3L227 667.8L227.1 668.3L227.2 668.8L227.2 669.2L227.3 669.7L227.4 670.2L227.5 670.7L227.5 671.2L227.6 671.6L227.6 672.1L227.7 672.6L227.7 673.1L227.8 673.5L227.8 674L227.9 674.5L227.9 675L227.9 675.5L227.9 675.9L227.9 676.4L227.9 676.9L227.9 677.4L227.9 677.9L227.9 678.3L227.9 678.8L228 679.3L228 679.8L228.1 680.3L228.3 680.7L228.4 681.2L228.5 681.7L228.6 682.2L228.7 682.6L228.8 683.1L229.1 683.6L229.5 684.1L230 684.6L230.5 685L231.1 685.5L231.7 686L232.2 686.5L232.8 687L233.5 687.4L234.2 687.9L234.9 688.4L235.6 688.9L236.3 689.3L236.9 689.8L237.4 690.3L237.6 690.8L237.5 691.3L237.3 691.7L237.1 692.2L237 692.7Z" fill="#D95F02" stroke="#222" stroke-width="0.6"/>
<path d="M229 663.4h1.8v1.8h-1.8zM223.1 689.6h1.8v1.8h-1.8zM213.6 687.2h1.8v1.8h-1.8zM232.2 690.7h1.8v1.8h-1.8zM216.3 690.6h1.8v1.8h-1.8zM214.9 690h1.8v1.8h-1.8zM216.5 690.8h1.8v1.8h-1.8zM234.4 686h1.8v1.8h-1.8zM218.7 687.5h1.8v1.8h-1.8zM227.6 690.7h1.8v1.8h-1.8zM225.2 690.5h1.8v1.8h-1.8zM229 686.2h1.8v1.8h-1.8zM213.1 688.5h1.8v1.8h-1.8zM217.2 691.8h1.8v1.8h-1.8zM222.1 688.5h1.8v1.8h-1.8zM214.1 688.6h1.8v1.8h-1.8zM222.6 690h1.8v1.8h-1.8zM216.2 689.9h1.8v1.8h-1.8zM217.8 689.3h1.8v1.8h-1.8zM218.7 691.3h1.8v1.8h-1.8zM214.1 678.8h1.8v1.8h-1.8zM219.1 691.8h1.8v1.8h-1.8zM235.2 680.4h1.8v1.8h-1.8zM235.2 690.9h1.8v1.8h-1.8zM217.4 691.8h1.8v1.8h-1.8zM227.9 691.8h1.8v1.8h-1.8zM219.7 686.9h1.8v1.8h-1.8zM226.9 688.8h1.8v1.8h-1.8zM231.4 691.8h1.8v1.8h-1.8zM235 683.3h1.8v1.8h-1.8zM212.8 680.3h1.8v1.8h-1.8zM226.2 691.8h1.8v1.8h-1.8zM212.9 665.4h1.8v1.8h-1.8zM218.7 691h1.8v1.8h-1.8zM217 676.3h1.8v1.8h-1.8zM224 686.3h1.8v1.8h-1.8zM231 689.2h1.8v1.8h-1.8zM215.3 691.8h1.8v1.8h-1.8zM227.8 681.4h1.8v1.8h-1.8zM217.2 691.8h1.8v1.8h-1.8zM228.6 691.1h1.8v1.8h-1.8zM222.6 690.5h1.8v1.8h-1.8z" fill="#000"/>
<path d="M254.3 694.1v1.8" stroke="#222" stroke-width="0.7"/>
<text transform="translate(257.5,700.9) rotate(-45)" font-size="7.5" text-anchor="end" fill="#333">3</text>
<path d="M242.2 692.7L242 692.1L241.8 691.4L241.7 690.8L241.9 690.2L242.4 689.5L243.1 688.9L243.9 688.3L244.6 687.6L245.3 687L245.9 686.4L246.5 685.7L247 685.1L247.6 684.5L248.1 683.9L248.7 683.2L249.1 682.6L249.5 682L249.8 681.3L250.1 680.7L250.4 680.1L250.7 679.4L250.9 678.8L251.2 678.2L251.4 677.5L251.5 676.9L251.6 676.3L251.7 675.6L251.8 675L251.9 674.4L252.1 673.7L252.2 673.1L252.3 672.5L252.3 671.8L252.4 671.2L252.5 670.6L252.5 669.9L252.6 669.3L252.6 668.7L252.7 668.1L252.7 667.4L252.7 666.8L252.7 666.2L252.7 665.5L252.6 664.9L252.6 664.3L252.5 663.6L252.5 663L252.4 662.4L252.4 661.7L252.3 661.1L252.2 660.5L252.2 659.8L252.1 659.2L252.1 658.6L252 657.9L252 657.3L251.9 656.7L251.9 656L251.8 655.4L256.8 655.4L256.7 656L256.7 656.7L256.6 657.3L256.6 657.9L256.5 658.6L256.5 659.2L256.4 659.8L256.4 660.5L256.3 661.1L256.2 661.7L256.2 662.4L256.1 663L256.1 663.6L256 664.3L256 664.9L255.9 665.5L255.9 666.2L255.9 666.8L255.9 667.4L255.9 668.1L256 668.7L256 669.3L256.1 669.9L256.1 670.6L256.2 671.2L256.3 671.8L256.3 672.5L256.4 673.1L256.5 673.7L256.7 674.4L256.8 675L256.9 675.6L257 676.3L257.1 676.9L257.2 677.5L257.4 678.2L257.7 678.8L257.9 679.4L258.2 680.1L258.5 680.7L258.8 681.3L259.1 682L259.5 682.6L259.9 683.2L260.5 683.9L261 684.5L261.6 685.1L262.1 685.7L262.7 686.4L263.3 687L264 687.6L264.7 688.3L265.5 688.9L266.2 689.5L266.7 690.2L266.9 690.8L266.8 691.4L266.6 692.1L266.4 692.7Z" fill="#7570B3" stroke="#222" stroke-width="0.6"/>
<path d="M259.9 685.1h1.8v1.8h-1.8zM243.8 692.5h1.8v1.8h-1.8zM258.2 678.7h1.8v1.8h-1.8zM250.4 684.1h1.8v1.8h-1.8zM250.2 677.2h1.8v1.8h-1.8zM246.1 687.7h1.8v1.8h-1.8zM254.7 684.1h1.8v1.8h-1.8zM250.7 684.7h1.8v1.8h-1.8zM260 690.1h1.8v1.8h-1.8zM261.9 691.2h1.8v1.8h-1.8zM246.7 691.8h1.8v1.8h-1.8zM242.4 689.3h1.8v1.8h-1.8zM254.6 691.7h1.8v1.8h-1.8zM264.2 691.8h1.8v1.8h-1.8zM247.4 688.1h1.8v1.8h-1.8zM247.8 690.9h1.8v1.8h-1.8zM262.9 691.8h1.8v1.8h-1.8zM264.5 691.8h1.8v1.8h-1.8zM248.5 691.8h1.8v1.8h-1.8zM255 687.7h1.8v1.8h-1.8zM248.2 685.2h1.8v1.8h-1.8zM244.9 691.8h1.8v1.8h-1.8zM264.1 692.3h1.8v1.8h-1.8zM253.3 686.8h1.8v1.8h-1.8zM248.9 688.8h1.8v1.8h-1.8zM252.9 692.4h1.8v1.8h-1.8zM250.1 683.8h1.8v1.8h-1.8zM242.5 688h1.8v1.8h-1.8zM254.1 689.4h1.8v1.8h-1.8zM252.1 671.6h1.8v1.8h-1.8zM250.6 691.8h1.8v1.8h-1.8z" fill="#000"/>
<path d="M283.4 694.1v1.8" stroke="#222" stroke-width="0.7"/>
<text transform="translate(286.6,700.9) rotate(-45)" font-size="7.5" text-anchor="end" fill="#333">4</text>
<path d="M271.3 692.7L271.1 692.1L270.9 691.4L270.7 690.8L270.6 690.1L270.7 689.5L270.9 688.9L271.1 688.2L271.3 687.6L271.5 686.9L271.7 686.3L272 685.7L272.3 685L272.6 684.4L272.9 683.7L273.1 683.1L273.4 682.5L273.5 681.8L273.7 681.2L273.8 680.5L274 679.9L274.1 679.3L274.2 678.6L274.3 678L274.3 677.3L274.2 676.7L274.1 676.1L273.9 675.4L273.8 674.8L273.7 674.1L273.6 673.5L273.5 672.9L273.3 672.2L273.2 671.6L273 671L272.9 670.3L272.7 669.7L272.5 669L272.3 668.4L272.2 667.8L272 667.1L271.9 666.5L271.7 665.8L271.6 665.2L271.5 664.6L271.4 663.9L271.3 663.3L271.2 662.6L271.1 662L271 661.4L271.1 660.7L271.2 660.1L271.3 659.4L271.5 658.8L271.6 658.2L271.8 657.5L271.9 656.9L272.1 656.2L272.2 655.6L272.3 655L294.5 655L294.6 655.6L294.7 656.2L294.9 656.9L295 657.5L295.2 658.2L295.3 658.8L295.5 659.4L295.6 660.1L295.7 660.7L295.8 661.4L295.7 662L295.6 662.6L295.5 663.3L295.4 663.9L295.3 664.6L295.2 665.2L295.1 665.8L294.9 666.5L294.8 667.1L294.6 667.8L294.5 668.4L294.3 669L294.1 669.7L293.9 670.3L293.8 671L293.6 671.6L293.5 672.2L293.3 672.9L293.2 673.5L293.1 674.1L293 674.8L292.9 675.4L292.7 676.1L292.6 676.7L292.5 677.3L292.5 678L292.6 678.6L292.7 679.3L292.8 679.9L293 680.5L293.1 681.2L293.3 681.8L293.4 682.5L293.7 683.1L293.9 683.7L294.2 684.4L294.5 685L294.8 685.7L295.1 686.3L295.3 686.9L295.5 687.6L295.7 688.2L295.9 688.9L296.1 689.5L296.2 690.1L296.1 690.8L295.9 691.4L295.7 692.1L295.5 692.7Z" fill="#E7298A" stroke="#222" stroke-width="0.6"/>
<path d="M292.3 689.2h1.8v1.8h-1.8zM283.5 685.3h1.8v1.8h-1.8zM292.8 673.9h1.8v1.8h-1.8zM280.9 656.7h1.8v1.8h-1.8zM279.5 656.6h1.8v1.8h-1.8zM285.3 680.4h1.8v1.8h-1.8zM282 691.8h1.8v1.8h-1.8zM276.2 663.6h1.8v1.8h-1.8zM289.9 655.4h1.8v1.8h-1.8zM283.3 686.8h1.8v1.8h-1.8zM290.1 658.2h1.8v1.8h-1.8zM282.5 691.4h1.8v1.8h-1.8zM271.3 660.4h1.8v1.8h-1.8zM286.2 657.4h1.8v1.8h-1.8zM293.5 690.8h1.8v1.8h-1.8zM282.8 664.9h1.8v1.8h-1.8zM276.1 658.8h1.8v1.8h-1.8zM281.9 688.1h1.8v1.8h-1.8zM288 656.5h1.8v1.8h-1.8zM280.5 656.6h1.8v1.8h-1.8zM276.7 690.8h1.8v1.8h-1.8zM284 683.9h1.8v1.8h-1.8zM293.3 665h1.8v1.8h-1.8zM273.7 691.8h1.8v1.8h-1.8zM276.4 684.5h1.8v1.8h-1.8zM283.6 659.6h1.8v1.8h-1.8zM281.6 691.8h1.8v1.8h-1.8zM275.5 685.7h1.8v1.8h-1.8zM278 680.6h1.8v1.8h-1.8z" fill="#000"/>
<path d="M312.5 694.1v1.8" stroke="#222" stroke-width="0.7"/>
<text transform="translate(315.7,700.9) rotate(-45)" font-size="7.5" text-anchor="end" fill="#333">5</text>
<path d="M300.4 692.7L300.2 692.2L300 691.6L299.8 691.1L299.8 690.5L299.9 690L300.1 689.4L300.4 688.9L300.8 688.3L301.1 687.8L301.5 687.2L302 686.7L302.6 686.1L303.3 685.6L303.9 685L304.5 684.5L305.1 683.9L305.5 683.4L305.8 682.8L306 682.3L306.1 681.7L306.3 681.2L306.5 680.6L306.7 680.1L306.8 679.5L307 679L307 678.4L307.1 677.9L307.1 677.3L307.2 676.8L307.2 676.2L307.3 675.7L307.3 675.1L307.3 674.6L307.4 674L307.4 673.5L307.5 672.9L307.5 672.4L307.5 671.8L307.4 671.3L307.4 670.7L307.3 670.2L307.3 669.6L307.3 669.1L307.2 668.5L307.2 668L307.1 667.4L307.1 666.9L307.1 666.3L307 665.8L307 665.2L306.9 664.7L306.9 664.1L306.8 663.6L306.8 663L306.7 662.5L306.7 661.9L306.6 661.4L306.6 660.8L306.5 660.3L318.5 660.3L318.4 660.8L318.4 661.4L318.3 661.9L318.3 662.5L318.2 663L318.2 663.6L318.1 664.1L318.1 664.7L318 665.2L318 665.8L317.9 666.3L317.9 666.9L317.9 667.4L317.8 668L317.8 668.5L317.7 669.1L317.7 669.6L317.7 670.2L317.6 670.7L317.6 671.3L317.5 671.8L317.5 672.4L317.5 672.9L317.6 673.5L317.6 674L317.7 674.6L317.7 675.1L317.7 675.7L317.8 676.2L317.8 676.8L317.9 677.3L317.9 677.9L318 678.4L318 679L318.2 679.5L318.3 680.1L318.5 680.6L318.7 681.2L318.9 681.7L319 682.3L319.2 682.8L319.5 683.4L319.9 683.9L320.5 684.5L321.1 685L321.7 685.6L322.4 686.1L323 686.7L323.5 687.2L323.9 687.8L324.2 688.3L324.6 688.9L324.9 689.4L325.1 690L325.2 690.5L325.2 691.1L325 691.6L324.8 692.2L324.6 692.7Z" fill="#66A61E" stroke="#222" stroke-width="0.6"/>
<path d="M301.2 686.5h1.8v1.8h-1.8zM309.1 664.6h1.8v1.8h-1.8zM315 679.6h1.8v1.8h-1.8zM313 687.2h1.8v1.8h-1.8zM322.8 677.7h1.8v1.8h-1.8zM309.6 687.8h1.8v1.8h-1.8zM321.7 691.8h1.8v1.8h-1.8zM313.7 684.4h1.8v1.8h-1.8zM321.3 685.9h1.8v1.8h-1.8zM316.3 671.7h1.8v1.8h-1.8zM306.6 691.8h1.8v1.8h-1.8zM315.9 691.5h1.8v1.8h-1.8zM312.7 678.2h1.8v1.8h-1.8zM314.6 670.7h1.8v1.8h-1.8zM302.1 690.9h1.8v1.8h-1.8zM322.3 673.7h1.8v1.8h-1.8zM310.2 679.3h1.8v1.8h-1.8zM312.7 681.4h1.8v1.8h-1.8zM319.3 685.6h1.8v1.8h-1.8zM300.1 668.8h1.8v1.8h-1.8z" fill="#000"/>
<path d="M178.6 725.4V766.3H330" fill="none" stroke="#222" stroke-width="1"/>
<path d="M178.6 764.4h-2" stroke="#222" stroke-width="0.7"/>
<text x="177" y="766.9" font-size="7" text-anchor="end" fill="#333">0</text>
<path d="M178.6 754.4h-2" stroke="#222" stroke-width="0.7"/>
<text x="177" y="756.9" font-size="7" text-anchor="end" fill="#333">1</text>
<path d="M178.6 744.4h-2" stroke="#222" stroke-width="0.7"/>
<text x="177" y="746.9" font-size="7" text-anchor="end" fill="#333">2</text>
<path d="M178.6 734.4h-2" stroke="#222" stroke-width="0.7"/>
<text x="177" y="736.9" font-size="7" text-anchor="end" fill="#333">3</text>
<text x="255" y="716.7" font-size="10.8" text-anchor="middle" font-weight="bold" fill="#000">ab</text>
<path d="M195.7 766.3v1.8" stroke="#222" stroke-width="0.7"/>
<text transform="translate(198.9,773.1) rotate(-45)" font-size="7.5" text-anchor="end" fill="#333">1</text>
<path d="M183.6 764.4L183.5 764L183.3 763.7L183.1 763.3L183 762.9L183.1 762.5L183.4 762.2L184 761.8L184.7 761.4L185.4 761L186.1 760.7L186.7 760.3L187.1 759.9L187.5 759.6L187.9 759.2L188.3 758.8L188.7 758.4L189 758.1L189.4 757.7L189.6 757.3L189.8 756.9L190 756.6L190.1 756.2L190.2 755.8L190.3 755.5L190.5 755.1L190.6 754.7L190.7 754.3L190.8 754L190.9 753.6L191 753.2L191.1 752.8L191.2 752.5L191.3 752.1L191.4 751.7L191.5 751.3L191.6 751L191.7 750.6L191.8 750.2L191.9 749.9L192 749.5L192.2 749.1L192.3 748.7L192.5 748.4L192.6 748L192.7 747.6L192.9 747.2L193 746.9L193.1 746.5L193.2 746.1L193.3 745.8L193.3 745.4L193.4 745L193.4 744.6L193.5 744.3L193.5 743.9L193.6 743.5L193.6 743.1L193.6 742.8L193.7 742.4L197.7 742.4L197.8 742.8L197.8 743.1L197.8 743.5L197.9 743.9L197.9 744.3L198 744.6L198 745L198.1 745.4L198.1 745.8L198.2 746.1L198.3 746.5L198.4 746.9L198.5 747.2L198.7 747.6L198.8 748L198.9 748.4L199.1 748.7L199.2 749.1L199.4 749.5L199.5 749.9L199.6 750.2L199.7 750.6L199.8 751L199.9 751.3L200 751.7L200.1 752.1L200.2 752.5L200.3 752.8L200.4 753.2L200.5 753.6L200.6 754L200.7 754.3L200.8 754.7L200.9 755.1L201.1 755.5L201.2 755.8L201.3 756.2L201.4 756.6L201.6 756.9L201.8 757.3L202 757.7L202.4 758.1L202.7 758.4L203.1 758.8L203.5 759.2L203.9 759.6L204.3 759.9L204.7 760.3L205.3 760.7L206 761L206.7 761.4L207.4 761.8L208 762.2L208.3 762.5L208.4 762.9L208.3 763.3L208.1 763.7L207.9 764L207.8 764.4Z" fill="#1B9E77" stroke="#222" stroke-width="0.6"/>
<path d="M185.1 763.2h1.8v1.8h-1.8zM203.4 759.8h1.8v1.8h-1.8zM186.3 761h1.8v1.8h-1.8zM190 763.5h1.8v1.8h-1.8zM188.8 755.3h1.8v1.8h-1.8zM206.3 745.3h1.8v1.8h-1.8zM203.8 757.7h1.8v1.8h-1.8zM188.6 762.9h1.8v1.8h-1.8zM192.5 760.4h1.8v1.8h-1.8zM187.3 762.4h1.8v1.8h-1.8zM193.5 757h1.8v1.8h-1.8zM184.6 762.1h1.8v1.8h-1.8zM201.1 749.9h1.8v1.8h-1.8zM202 762.6h1.8v1.8h-1.8zM205.8 747.3h1.8v1.8h-1.8zM206 759.7h1.8v1.8h-1.8zM183.9 763.1h1.8v1.8h-1.8zM192.1 762.1h1.8v1.8h-1.8zM190 763.5h1.8v1.8h-1.8zM196.1 762.7h1.8v1.8h-1.8zM204.2 763.4h1.8v1.8h-1.8zM184.7 762.4h1.8v1.8h-1.8zM187.2 759.9h1.8v1.8h-1.8zM189.9 763.5h1.8v1.8h-1.8zM192.9 761.3h1.8v1.8h-1.8zM204.7 758.4h1.8v1.8h-1.8zM185.1 758.8h1.8v1.8h-1.8zM200.4 763.5h1.8v1.8h-1.8zM194.1 759.3h1.8v1.8h-1.8zM193.5 749.6h1.8v1.8h-1.8zM193.8 760.1h1.8v1.8h-1.8zM188.2 756.5h1.8v1.8h-1.8zM183.9 761.9h1.8v1.8h-1.8zM198.7 762.5h1.8v1.8h-1.8zM200.5 762.1h1.8v1.8h-1.8zM184 757.6h1.8v1.8h-1.8zM192.1 753.5h1.8v1.8h-1.8zM202.7 743.1h1.8v1.8h-1.8zM187.9 761.9h1.8v1.8h-1.8zM204 748.9h1.8v1.8h-1.8zM187.3 763.4h1.8v1.8h-1.8zM192.5 760.9h1.8v1.8h-1.8zM197.7 760.5h1.8v1.8h-1.8zM197.4 761.6h1.8v1.8h-1.8zM197.2 756.6h1.8v1.8h-1.8zM183.6 758.7h1.8v1.8h-1.8zM205.7 759.1h1.8v1.8h-1.8zM192.8 758.1h1.8v1.8h-1.8zM184.5 763.5h1.8v1.8h-1.8zM197.6 763h1.8v1.8h-1.8zM188 763.5h1.8v1.8h-1.8zM198.2 763.5h1.8v1.8h-1.8zM199.7 743.2h1.8v1.8h-1.8zM195.5 764h1.8v1.8h-1.8zM185 753.3h1.8v1.8h-1.8z" fill="#000"/>
<path d="M224.9 766.3v1.8" stroke="#222" stroke-width="0.7"/>
<text transform="translate(228.1,773.1) rotate(-45)" font-size="7.5" text-anchor="end" fill="#333">2</text>
<path d="M213.7 764.4L213.4 764L213.1 763.6L212.6 763.1L212.3 762.7L212.1 762.3L212 761.9L212.1 761.4L212.1 761L212.2 760.6L212.3 760.2L212.4 759.7L212.5 759.3L212.7 758.9L213 758.5L213.2 758L213.5 757.6L213.8 757.2L214 756.8L214.3 756.3L214.6 755.9L214.8 755.5L215.1 755.1L215.3 754.7L215.5 754.2L215.7 753.8L215.9 753.4L216.1 753L216.3 752.5L216.5 752.1L216.8 751.7L217 751.3L217.3 750.8L217.6 750.4L218 750L218.3 749.6L218.6 749.1L218.9 748.7L219.2 748.3L219.5 747.9L219.8 747.5L220.1 747L220.4 746.6L220.7 746.2L221 745.8L221.3 745.3L221.5 744.9L221.7 744.5L221.8 744.1L221.9 743.6L221.9 743.2L221.9 742.8L221.9 742.4L221.9 741.9L221.9 741.5L221.9 741.1L221.9 740.7L221.9 740.2L221.9 739.8L221.9 739.4L227.9 739.4L227.9 739.8L227.9 740.2L227.9 740.7L227.9 741.1L227.9 741.5L227.9 741.9L227.9 742.4L227.9 742.8L227.9 743.2L227.9 743.6L228 744.1L228.1 744.5L228.3 744.9L228.5 745.3L228.8 745.8L229.1 746.2L229.4 746.6L229.7 747L230 747.5L230.3 747.9L230.6 748.3L230.9 748.7L231.2 749.1L231.5 749.6L231.8 750L232.2 750.4L232.5 750.8L232.8 751.3L233 751.7L233.3 752.1L233.5 752.5L233.7 753L233.9 753.4L234.1 753.8L234.3 754.2L234.5 754.7L234.7 755.1L235 755.5L235.2 755.9L235.5 756.3L235.8 756.8L236 757.2L236.3 757.6L236.6 758L236.8 758.5L237.1 758.9L237.3 759.3L237.4 759.7L237.5 760.2L237.6 760.6L237.7 761L237.7 761.4L237.8 761.9L237.7 762.3L237.5 762.7L237.2 763.1L236.7 763.6L236.4 764L236.1 764.4Z" fill="#D95F02" stroke="#222" stroke-width="0.6"/>
<path d="M230.3 753h1.8v1.8h-1.8zM219.4 740h1.8v1.8h-1.8zM226.2 754.6h1.8v1.8h-1.8zM227.4 758h1.8v1.8h-1.8zM215 741.3h1.8v1.8h-1.8zM233.4 756.9h1.8v1.8h-1.8zM234.9 761.7h1.8v1.8h-1.8zM221.3 758.9h1.8v1.8h-1.8zM220.9 754.4h1.8v1.8h-1.8zM224.4 757.2h1.8v1.8h-1.8zM230.2 763.5h1.8v1.8h-1.8zM214.3 761.9h1.8v1.8h-1.8zM224.9 755.6h1.8v1.8h-1.8zM234.1 759h1.8v1.8h-1.8zM231.7 754.6h1.8v1.8h-1.8zM219.9 752.6h1.8v1.8h-1.8zM221.1 763.5h1.8v1.8h-1.8zM213 750.2h1.8v1.8h-1.8zM230.7 761.7h1.8v1.8h-1.8zM235.3 747.8h1.8v1.8h-1.8zM213 762.9h1.8v1.8h-1.8zM220.4 760.2h1.8v1.8h-1.8zM226.4 763.5h1.8v1.8h-1.8zM217.3 761.3h1.8v1.8h-1.8zM219.5 759.8h1.8v1.8h-1.8zM214.4 762.5h1.8v1.8h-1.8zM214 746.5h1.8v1.8h-1.8zM221 763.5h1.8v1.8h-1.8zM225.9 746.7h1.8v1.8h-1.8zM218.2 761.9h1.8v1.8h-1.8zM219.1 750.7h1.8v1.8h-1.8zM218.4 756.3h1.8v1.8h-1.8zM222.8 764.1h1.8v1.8h-1.8zM216.8 756.6h1.8v1.8h-1.8zM223.1 758.1h1.8v1.8h-1.8zM227.2 755.6h1.8v1.8h-1.8zM228.8 751.4h1.8v1.8h-1.8zM230.5 756.1h1.8v1.8h-1.8zM221.8 763.5h1.8v1.8h-1.8zM225 749.3h1.8v1.8h-1.8zM229.1 754h1.8v1.8h-1.8zM219 755.8h1.8v1.8h-1.8z" fill="#000"/>
<path d="M254.3 766.3v1.8" stroke="#222" stroke-width="0.7"/>
<text transform="translate(257.5,773.1) rotate(-45)" font-size="7.5" text-anchor="end" fill="#333">3</text>
<path d="M242.3 764.4h24" stroke="#222" stroke-width="0.8"/>
<path d="M254.3 764.4V739.4" stroke="#555" stroke-width="0.75"/>
<path d="M253.6 763.5h1.8v1.8h-1.8zM259.6 750.2h1.8v1.8h-1.8zM242.3 763.5h1.8v1.8h-1.8zM265.1 763.5h1.8v1.8h-1.8zM248.5 763.5h1.8v1.8h-1.8zM263.8 745.8h1.8v1.8h-1.8zM255.4 763.5h1.8v1.8h-1.8zM254.1 763.5h1.8v1.8h-1.8zM261.9 763.5h1.8v1.8h-1.8zM265.1 763.5h1.8v1.8h-1.8zM252 763.5h1.8v1.8h-1.8zM248.9 763.5h1.8v1.8h-1.8zM242.7 763.5h1.8v1.8h-1.8zM262.4 758.2h1.8v1.8h-1.8zM259.4 743.2h1.8v1.8h-1.8zM255 763.5h1.8v1.8h-1.8zM259.3 763.5h1.8v1.8h-1.8zM246.5 763.5h1.8v1.8h-1.8zM243.6 763.5h1.8v1.8h-1.8zM258.2 763.5h1.8v1.8h-1.8zM256.1 763.5h1.8v1.8h-1.8zM263.2 756.6h1.8v1.8h-1.8zM241.8 763.5h1.8v1.8h-1.8zM259.6 763.5h1.8v1.8h-1.8zM262 763.5h1.8v1.8h-1.8zM243.4 763.5h1.8v1.8h-1.8zM249.3 763.5h1.8v1.8h-1.8zM241.5 763.5h1.8v1.8h-1.8zM252.5 763.5h1.8v1.8h-1.8zM255.4 763.5h1.8v1.8h-1.8zM241.5 763.5h1.8v1.8h-1.8z" fill="#000"/>
<path d="M283.4 766.3v1.8" stroke="#222" stroke-width="0.7"/>
<text transform="translate(286.6,773.1) rotate(-45)" font-size="7.5" text-anchor="end" fill="#333">4</text>
<path d="M271.4 764.4h24" stroke="#222" stroke-width="0.8"/>
<path d="M283.4 764.4V757.4" stroke="#555" stroke-width="0.75"/>
<path d="M280.7 763.5h1.8v1.8h-1.8zM292 763.5h1.8v1.8h-1.8zM288.3 763.5h1.8v1.8h-1.8zM275.6 763.5h1.8v1.8h-1.8zM294.2 763.5h1.8v1.8h-1.8zM285.7 759.6h1.8v1.8h-1.8zM279.1 763.5h1.8v1.8h-1.8zM294.4 763.5h1.8v1.8h-1.8zM281.6 763.5h1.8v1.8h-1.8zM290.8 763.5h1.8v1.8h-1.8zM290.4 763.5h1.8v1.8h-1.8zM276.2 763.5h1.8v1.8h-1.8zM279 763.5h1.8v1.8h-1.8zM278.5 759.1h1.8v1.8h-1.8zM276 763.5h1.8v1.8h-1.8zM293.7 763.5h1.8v1.8h-1.8zM271.5 763.5h1.8v1.8h-1.8zM289.4 763.5h1.8v1.8h-1.8zM284.4 763.5h1.8v1.8h-1.8zM286.7 763.5h1.8v1.8h-1.8zM282.2 763.5h1.8v1.8h-1.8zM274.9 763.5h1.8v1.8h-1.8zM285.7 763.5h1.8v1.8h-1.8zM294.3 763.5h1.8v1.8h-1.8zM276.8 763.5h1.8v1.8h-1.8zM283.1 763.5h1.8v1.8h-1.8zM272.4 763.5h1.8v1.8h-1.8zM292.8 763.5h1.8v1.8h-1.8zM291.6 763.5h1.8v1.8h-1.8z" fill="#000"/>
<path d="M312.5 766.3v1.8" stroke="#222" stroke-width="0.7"/>
<text transform="translate(315.7,773.1) rotate(-45)" font-size="7.5" text-anchor="end" fill="#333">5</text>
<path d="M305.3 751.7L304.9 751.3L304.4 750.9L303.8 750.4L303.3 750L302.9 749.6L302.5 749.2L302.3 748.7L302.1 748.3L301.9 747.9L301.7 747.5L301.6 747.1L301.4 746.6L301.2 746.2L301.1 745.8L300.9 745.4L300.7 744.9L300.6 744.5L300.5 744.1L300.4 743.7L300.3 743.3L300.2 742.8L300.2 742.4L300.1 742L300 741.6L300 741.1L299.9 740.7L299.8 740.3L299.8 739.9L299.7 739.5L299.7 739L299.7 738.6L299.8 738.2L299.8 737.8L299.8 737.4L299.8 736.9L299.9 736.5L299.9 736.1L299.9 735.7L299.9 735.2L300 734.8L300.2 734.4L300.5 734L301 733.6L301.5 733.1L302 732.7L302.5 732.3L303 731.9L303.5 731.4L304.2 731L304.8 730.6L305.5 730.2L306.2 729.8L306.9 729.3L307.7 728.9L308.4 728.5L309.1 728.1L309.9 727.6L310.6 727.2L311.1 726.8L313.9 726.8L314.4 727.2L315.1 727.6L315.9 728.1L316.6 728.5L317.3 728.9L318.1 729.3L318.8 729.8L319.5 730.2L320.2 730.6L320.8 731L321.5 731.4L322 731.9L322.5 732.3L323 732.7L323.5 733.1L324 733.6L324.5 734L324.8 734.4L325 734.8L325.1 735.2L325.1 735.7L325.1 736.1L325.1 736.5L325.2 736.9L325.2 737.4L325.2 737.8L325.2 738.2L325.3 738.6L325.3 739L325.3 739.5L325.2 739.9L325.2 740.3L325.1 740.7L325 741.1L325 741.6L324.9 742L324.8 742.4L324.8 742.8L324.7 743.3L324.6 743.7L324.5 744.1L324.4 744.5L324.3 744.9L324.1 745.4L323.9 745.8L323.8 746.2L323.6 746.6L323.4 747.1L323.3 747.5L323.1 747.9L322.9 748.3L322.7 748.7L322.5 749.2L322.1 749.6L321.7 750L321.2 750.4L320.6 750.9L320.1 751.3L319.7 751.7Z" fill="#66A61E" stroke="#222" stroke-width="0.6"/>
<path d="M321.2 731.9h1.8v1.8h-1.8zM313.7 729.8h1.8v1.8h-1.8zM308.4 730.3h1.8v1.8h-1.8zM313.1 745.8h1.8v1.8h-1.8zM320.7 737.4h1.8v1.8h-1.8zM310.4 739.1h1.8v1.8h-1.8zM315 741.6h1.8v1.8h-1.8zM314.8 740.1h1.8v1.8h-1.8zM305 749.3h1.8v1.8h-1.8zM305.3 741.8h1.8v1.8h-1.8zM305.9 741h1.8v1.8h-1.8zM319.6 736h1.8v1.8h-1.8zM317.9 741.5h1.8v1.8h-1.8zM300.1 741.9h1.8v1.8h-1.8zM311.5 745.1h1.8v1.8h-1.8zM302.2 740.3h1.8v1.8h-1.8zM314.6 745.8h1.8v1.8h-1.8zM306.8 742.1h1.8v1.8h-1.8zM319.7 740h1.8v1.8h-1.8zM304.9 742.8h1.8v1.8h-1.8z" fill="#000"/>
<text x="93" y="785.8" font-size="13.2" text-anchor="middle" fill="#111">Cluster</text>
<text x="255.7" y="785.8" font-size="13.2" text-anchor="middle" fill="#111">Cluster</text>
<rect x="350.1" y="384.4" width="67.5" height="8.2" fill="#1B9E77" stroke="#444" stroke-width="0.7"/>
<text x="383.9" y="391.3" font-size="8" text-anchor="middle" font-weight="bold" fill="#111">Cluster 1</text>
<rect x="417.6" y="384.4" width="66.0" height="8.2" fill="#D95F02" stroke="#444" stroke-width="0.7"/>
<text x="450.6" y="391.3" font-size="8" text-anchor="middle" font-weight="bold" fill="#111">Cluster 2</text>
<rect x="483.6" y="384.4" width="65.9" height="8.2" fill="#7570B3" stroke="#444" stroke-width="0.7"/>
<text x="516.5" y="391.3" font-size="8" text-anchor="middle" font-weight="bold" fill="#111">Cluster 3</text>
<rect x="549.5" y="384.4" width="67.1" height="8.2" fill="#E7298A" stroke="#444" stroke-width="0.7"/>
<text x="583" y="391.3" font-size="8" text-anchor="middle" font-weight="bold" fill="#111">Cluster 4</text>
<rect x="616.6" y="384.4" width="66.0" height="8.2" fill="#66A61E" stroke="#444" stroke-width="0.7"/>
<text x="649.6" y="391.3" font-size="8" text-anchor="middle" font-weight="bold" fill="#111">Cluster 5</text>
<path d="M384.5 426.8L384.5 397.8A29.0 29.0 0 0 1 404.4 447.9Z" fill="#7CAE00" stroke="#111" stroke-width="1.1" stroke-linejoin="round"/>
<path d="M384.5 426.8L404.4 447.9A29.0 29.0 0 0 1 372.2 453Z" fill="#F8766D" stroke="#111" stroke-width="1.1" stroke-linejoin="round"/>
<path d="M384.5 426.8L372.2 453A29.0 29.0 0 0 1 384.5 397.8Z" fill="#C77CFF" stroke="#111" stroke-width="1.1" stroke-linejoin="round"/>
<circle cx="384.5" cy="426.8" r="29.0" fill="none" stroke="#111" stroke-width="1.3"/>
<rect x="385.5" y="419" width="19" height="10" fill="#fff" stroke="#222" stroke-width="0.8"/>
<text x="395" y="426.8" font-size="7.7" text-anchor="middle" fill="#333">38%</text>
<rect x="382.9" y="433.3" width="19" height="10" fill="#fff" stroke="#222" stroke-width="0.8"/>
<text x="392.4" y="441.1" font-size="7.7" text-anchor="middle" fill="#333">19%</text>
<rect x="359.5" y="424" width="19" height="10" fill="#fff" stroke="#222" stroke-width="0.8"/>
<text x="369" y="431.8" font-size="7.7" text-anchor="middle" fill="#333">43%</text>
<path d="M450.5 426.8L450.5 397.8A29.0 29.0 0 0 1 478.6 434Z" fill="#7CAE00" stroke="#111" stroke-width="1.1" stroke-linejoin="round"/>
<path d="M450.5 426.8L478.6 434A29.0 29.0 0 1 1 450.5 397.8Z" fill="#C77CFF" stroke="#111" stroke-width="1.1" stroke-linejoin="round"/>
<circle cx="450.5" cy="426.8" r="29.0" fill="none" stroke="#111" stroke-width="1.3"/>
<rect x="449.8" y="415.7" width="19" height="10" fill="#fff" stroke="#222" stroke-width="0.8"/>
<text x="459.3" y="423.5" font-size="7.7" text-anchor="middle" fill="#333">29%</text>
<rect x="432.5" y="428.5" width="19" height="10" fill="#fff" stroke="#222" stroke-width="0.8"/>
<text x="442" y="436.3" font-size="7.7" text-anchor="middle" fill="#333">71%</text>
<path d="M517.1 426.8L517.1 397.8A29.0 29.0 0 0 1 544.1 416.1Z" fill="#7CAE00" stroke="#111" stroke-width="1.1" stroke-linejoin="round"/>
<path d="M517.1 426.8L544.1 416.1A29.0 29.0 0 1 1 488.6 432.2Z" fill="#F8766D" stroke="#111" stroke-width="1.1" stroke-linejoin="round"/>
<path d="M517.1 426.8L488.6 432.2A29.0 29.0 0 0 1 517.1 397.8Z" fill="#00BFC4" stroke="#111" stroke-width="1.1" stroke-linejoin="round"/>
<circle cx="517.1" cy="426.8" r="29.0" fill="none" stroke="#111" stroke-width="1.3"/>
<rect x="518" y="408" width="19" height="10" fill="#fff" stroke="#222" stroke-width="0.8"/>
<text x="527.5" y="415.8" font-size="7.7" text-anchor="middle" fill="#333">19%</text>
<rect x="493.5" y="414.6" width="19" height="10" fill="#fff" stroke="#222" stroke-width="0.8"/>
<text x="503" y="422.4" font-size="7.7" text-anchor="middle" fill="#333">28%</text>
<rect x="506.9" y="437.6" width="19" height="10" fill="#fff" stroke="#222" stroke-width="0.8"/>
<text x="516.4" y="445.4" font-size="7.7" text-anchor="middle" fill="#333">53%</text>
<path d="M583.2 426.8L583.2 397.8A29.0 29.0 0 0 1 600.2 403.3Z" fill="#7CAE00" stroke="#111" stroke-width="1.1" stroke-linejoin="round"/>
<path d="M583.2 426.8L600.2 403.3A29.0 29.0 0 0 1 612 423.2Z" fill="#F8766D" stroke="#111" stroke-width="1.1" stroke-linejoin="round"/>
<path d="M583.2 426.8L612 423.2A29.0 29.0 0 1 1 583.2 397.8Z" fill="#00BFC4" stroke="#111" stroke-width="1.1" stroke-linejoin="round"/>
<circle cx="583.2" cy="426.8" r="29.0" fill="none" stroke="#111" stroke-width="1.3"/>
<rect x="571.2" y="405.3" width="19" height="10" fill="#fff" stroke="#222" stroke-width="0.8"/>
<text x="580.7" y="413.1" font-size="7.7" text-anchor="middle" fill="#333">10%</text>
<rect x="588.7" y="420.8" width="19" height="10" fill="#fff" stroke="#222" stroke-width="0.8"/>
<text x="598.2" y="428.6" font-size="7.7" text-anchor="middle" fill="#333">13%</text>
<rect x="562.5" y="434.1" width="19" height="10" fill="#fff" stroke="#222" stroke-width="0.8"/>
<text x="572" y="441.9" font-size="7.7" text-anchor="middle" fill="#333">77%</text>
<path d="M649 426.5L649 397.5A29.0 29.0 0 0 1 676 415.8Z" fill="#7CAE00" stroke="#111" stroke-width="1.1" stroke-linejoin="round"/>
<path d="M649 426.5L676 415.8A29.0 29.0 0 0 1 661.3 452.7Z" fill="#F8766D" stroke="#111" stroke-width="1.1" stroke-linejoin="round"/>
<path d="M649 426.5L661.3 452.7A29.0 29.0 0 0 1 626.7 408Z" fill="#00BFC4" stroke="#111" stroke-width="1.1" stroke-linejoin="round"/>
<path d="M649 426.5L626.7 408A29.0 29.0 0 0 1 649 397.5Z" fill="#C77CFF" stroke="#111" stroke-width="1.1" stroke-linejoin="round"/>
<circle cx="649" cy="426.5" r="29.0" fill="none" stroke="#111" stroke-width="1.3"/>
<rect x="627" y="402" width="19" height="10" fill="#fff" stroke="#222" stroke-width="0.8"/>
<text x="636.5" y="409.8" font-size="7.7" text-anchor="middle" fill="#333">14%</text>
<rect x="650.5" y="412" width="19" height="10" fill="#fff" stroke="#222" stroke-width="0.8"/>
<text x="660" y="419.8" font-size="7.7" text-anchor="middle" fill="#333">19%</text>
<rect x="660.2" y="426.8" width="19" height="10" fill="#fff" stroke="#222" stroke-width="0.8"/>
<text x="669.7" y="434.6" font-size="7.7" text-anchor="middle" fill="#333">24%</text>
<rect x="625.8" y="433.2" width="19" height="10" fill="#fff" stroke="#222" stroke-width="0.8"/>
<text x="635.3" y="441" font-size="7.7" text-anchor="middle" fill="#333">43%</text>
<text x="380.5" y="479.2" font-size="11.6" font-weight="bold" fill="#111">Condition</text>
<rect x="444.6" y="470.3" width="8" height="9.6" fill="#7CAE00" stroke="#111" stroke-width="1"/>
<text x="456.3" y="479.3" font-size="12" fill="#333">Naive</text>
<rect x="494.3" y="470.3" width="8" height="9.6" fill="#F8766D" stroke="#111" stroke-width="1"/>
<text x="506" y="479.3" font-size="12" fill="#333">Adcy1</text>
<rect x="544.2" y="470.3" width="8" height="9.6" fill="#00BFC4" stroke="#111" stroke-width="1"/>
<text x="555.9" y="479.3" font-size="12" fill="#333">WTT-1</text>
<rect x="598.6" y="470.3" width="8" height="9.6" fill="#C77CFF" stroke="#111" stroke-width="1"/>
<text x="610.3" y="479.3" font-size="12" fill="#333">WTT-2</text>
<rect x="351.4" y="505.8" width="79" height="11.5" fill="#E7298A" stroke="#333" stroke-width="1.1"/>
<text x="390.9" y="514.9" font-size="9.6" text-anchor="middle" font-weight="bold" fill="#111">Cluster 4</text>
<rect x="451.7" y="520.2" width="205.7" height="95.2" fill="#fff"/>
<path d="M485 520.2V615.4" stroke="#ebebeb" stroke-width="0.9"/>
<path d="M516.3 520.2V615.4" stroke="#ebebeb" stroke-width="0.9"/>
<path d="M547.6 520.2V615.4" stroke="#ebebeb" stroke-width="0.9"/>
<path d="M579.4 520.2V615.4" stroke="#ebebeb" stroke-width="0.9"/>
<path d="M610.6 520.2V615.4" stroke="#ebebeb" stroke-width="0.9"/>
<path d="M642 520.2V615.4" stroke="#ebebeb" stroke-width="0.9"/>
<path d="M451.7 528.1H657.4" stroke="#ebebeb" stroke-width="0.9"/>
<path d="M451.7 528.1h-1.5" stroke="#333" stroke-width="0.6"/>
<text x="449.2" y="530.5" font-size="7.4" text-anchor="end" fill="#1a1a1a">neuron projection (CC)</text>
<path d="M451.7 541.5H657.4" stroke="#ebebeb" stroke-width="0.9"/>
<path d="M451.7 541.5h-1.5" stroke="#333" stroke-width="0.6"/>
<text x="449.2" y="543.9" font-size="7.4" text-anchor="end" fill="#1a1a1a">synapse (CC)</text>
<path d="M451.7 554.9H657.4" stroke="#ebebeb" stroke-width="0.9"/>
<path d="M451.7 554.9h-1.5" stroke="#333" stroke-width="0.6"/>
<text x="449.2" y="553.3" font-size="7.4" text-anchor="end" fill="#1a1a1a">chemical synaptic</text>
<text x="449.2" y="561.3" font-size="7.4" text-anchor="end" fill="#1a1a1a">transmission (BP)</text>
<path d="M451.7 568.2H657.4" stroke="#ebebeb" stroke-width="0.9"/>
<path d="M451.7 568.2h-1.5" stroke="#333" stroke-width="0.6"/>
<text x="449.2" y="570.6" font-size="7.4" text-anchor="end" fill="#1a1a1a">cell junction organization (BP)</text>
<path d="M451.7 581.5H657.4" stroke="#ebebeb" stroke-width="0.9"/>
<path d="M451.7 581.5h-1.5" stroke="#333" stroke-width="0.6"/>
<text x="449.2" y="583.9" font-size="7.4" text-anchor="end" fill="#1a1a1a">signaling receptor activity (MF)</text>
<path d="M451.7 594.8H657.4" stroke="#ebebeb" stroke-width="0.9"/>
<path d="M451.7 594.8h-1.5" stroke="#333" stroke-width="0.6"/>
<text x="449.2" y="597.2" font-size="7.4" text-anchor="end" fill="#1a1a1a">learning or memory (BP)</text>
<path d="M451.7 608.2H657.4" stroke="#ebebeb" stroke-width="0.9"/>
<path d="M451.7 608.2h-1.5" stroke="#333" stroke-width="0.6"/>
<text x="449.2" y="610.6" font-size="7.4" text-anchor="end" fill="#1a1a1a">syntaxin binding (MF)</text>
<rect x="451.7" y="520.2" width="205.7" height="95.2" fill="none" stroke="#333" stroke-width="0.9"/>
<circle cx="647.7" cy="528.1" r="2.9" fill="#F00"/>
<circle cx="638" cy="541.5" r="2.9" fill="#F00"/>
<circle cx="638" cy="554.9" r="2.9" fill="#F00"/>
<circle cx="618.5" cy="568.2" r="2.9" fill="#F00"/>
<circle cx="558.3" cy="581.5" r="2.5" fill="#A020C8"/>
<circle cx="553.1" cy="594.8" r="2.4" fill="#F00"/>
<circle cx="460.9" cy="608.2" r="1.3" fill="#00F"/>
<text x="470" y="622.7" font-size="7" text-anchor="middle" fill="#333">0.05</text>
<text x="538.6" y="622.7" font-size="7" text-anchor="middle" fill="#333">0.10</text>
<text x="606" y="622.7" font-size="7" text-anchor="middle" fill="#333">0.15</text>
<text x="554" y="629.7" font-size="6.6" text-anchor="middle" fill="#111">GeneRatio</text>
<text x="662.9" y="535.4" font-size="5.2" fill="#111">Count</text>
<circle cx="666.1" cy="540.1" r="2.0" fill="#000"/>
<text x="671.9" y="542" font-size="5.2" fill="#111">5</text>
<circle cx="666.1" cy="545.9" r="2.3" fill="#000"/>
<text x="671.9" y="547.8" font-size="5.2" fill="#111">10</text>
<circle cx="666.1" cy="551.7" r="2.6" fill="#000"/>
<text x="671.9" y="553.6" font-size="5.2" fill="#111">15</text>
<circle cx="666.1" cy="558.6" r="3.0" fill="#000"/>
<text x="671.9" y="560.5" font-size="5.2" fill="#111">20</text>
<text x="662.9" y="573.6" font-size="5.2" fill="#111">p.adjust</text>
<text x="670.3" y="583.3" font-size="5.2" fill="#111">0.006</text>
<text x="670.3" y="591" font-size="5.2" fill="#111">0.004</text>
<text x="670.3" y="599" font-size="5.2" fill="#111">0.002</text>
<rect x="350.5" y="632.1" width="75.2" height="10" fill="#66A61E" stroke="#333" stroke-width="1.1"/>
<text x="388.1" y="639.7" font-size="9.6" text-anchor="middle" font-weight="bold" fill="#111">Cluster 5</text>
<rect x="450.4" y="645.5" width="205.1" height="95.4" fill="#fff"/>
<path d="M480.6 645.5V740.9" stroke="#ebebeb" stroke-width="0.9"/>
<path d="M511.6 645.5V740.9" stroke="#ebebeb" stroke-width="0.9"/>
<path d="M542.6 645.5V740.9" stroke="#ebebeb" stroke-width="0.9"/>
<path d="M574.6 645.5V740.9" stroke="#ebebeb" stroke-width="0.9"/>
<path d="M605.4 645.5V740.9" stroke="#ebebeb" stroke-width="0.9"/>
<path d="M636.4 645.5V740.9" stroke="#ebebeb" stroke-width="0.9"/>
<path d="M450.4 656.5H655.5" stroke="#ebebeb" stroke-width="0.9"/>
<path d="M450.4 656.5h-1.5" stroke="#333" stroke-width="0.6"/>
<text x="447.9" y="654.9" font-size="7.4" text-anchor="end" fill="#1a1a1a">neuron projection</text>
<text x="447.9" y="662.9" font-size="7.4" text-anchor="end" fill="#1a1a1a">development (BP)</text>
<path d="M450.4 675H655.5" stroke="#ebebeb" stroke-width="0.9"/>
<path d="M450.4 675h-1.5" stroke="#333" stroke-width="0.6"/>
<text x="447.9" y="673.4" font-size="7.4" text-anchor="end" fill="#1a1a1a">response to oxygen-</text>
<text x="447.9" y="681.4" font-size="7.4" text-anchor="end" fill="#1a1a1a">containing compound (BP)</text>
<path d="M450.4 693.4H655.5" stroke="#ebebeb" stroke-width="0.9"/>
<path d="M450.4 693.4h-1.5" stroke="#333" stroke-width="0.6"/>
<text x="447.9" y="691.8" font-size="7.4" text-anchor="end" fill="#1a1a1a">G protein-coupled receptor</text>
<text x="447.9" y="699.8" font-size="7.4" text-anchor="end" fill="#1a1a1a">signaling pathway (BP)</text>
<path d="M450.4 711.8H655.5" stroke="#ebebeb" stroke-width="0.9"/>
<path d="M450.4 711.8h-1.5" stroke="#333" stroke-width="0.6"/>
<text x="447.9" y="714.2" font-size="7.4" text-anchor="end" fill="#1a1a1a">calmodulin binding (MF)</text>
<path d="M450.4 730.1H655.5" stroke="#ebebeb" stroke-width="0.9"/>
<path d="M450.4 730.1h-1.5" stroke="#333" stroke-width="0.6"/>
<text x="447.9" y="728.5" font-size="7.4" text-anchor="end" fill="#1a1a1a">heterotrimeric G-protein</text>
<text x="447.9" y="736.5" font-size="7.4" text-anchor="end" fill="#1a1a1a">complex (CC)</text>
<rect x="450.4" y="645.5" width="205.1" height="95.4" fill="none" stroke="#333" stroke-width="0.9"/>
<circle cx="646.4" cy="656.5" r="3.1" fill="#F00"/>
<circle cx="592.5" cy="675" r="2.8" fill="#F00"/>
<circle cx="565.4" cy="693.4" r="2.6" fill="#F00"/>
<circle cx="473.2" cy="711.8" r="2.0" fill="#00F"/>
<circle cx="459.5" cy="730.1" r="1.4" fill="#F00"/>
<text x="480" y="748.2" font-size="7" text-anchor="middle" fill="#333">0.05</text>
<text x="542.6" y="748.2" font-size="7" text-anchor="middle" fill="#333">0.10</text>
<text x="605.4" y="748.2" font-size="7" text-anchor="middle" fill="#333">0.15</text>
<text x="552.5" y="755.2" font-size="6.6" text-anchor="middle" fill="#111">GeneRatio</text>
<text x="663.4" y="660.4" font-size="5.2" fill="#111">Count</text>
<circle cx="666.6" cy="665.7" r="2.1" fill="#000"/>
<text x="672.4" y="667.6" font-size="5.2" fill="#111">4</text>
<circle cx="666.6" cy="671.5" r="2.4" fill="#000"/>
<text x="672.4" y="673.4" font-size="5.2" fill="#111">8</text>
<circle cx="666.6" cy="677.5" r="2.7" fill="#000"/>
<text x="672.4" y="679.4" font-size="5.2" fill="#111">12</text>
<circle cx="666.6" cy="684.9" r="3.2" fill="#000"/>
<text x="672.4" y="686.8" font-size="5.2" fill="#111">16</text>
<text x="663.4" y="700.2" font-size="5.2" fill="#111">p.adjust</text>
<text x="671.3" y="708.5" font-size="5.2" fill="#111">0.04</text>
<text x="671.3" y="714.6" font-size="5.2" fill="#111">0.03</text>
<text x="671.3" y="720.6" font-size="5.2" fill="#111">0.02</text>
<text x="671.3" y="726.6" font-size="5.2" fill="#111">0.01</text>
</svg></body></html>
